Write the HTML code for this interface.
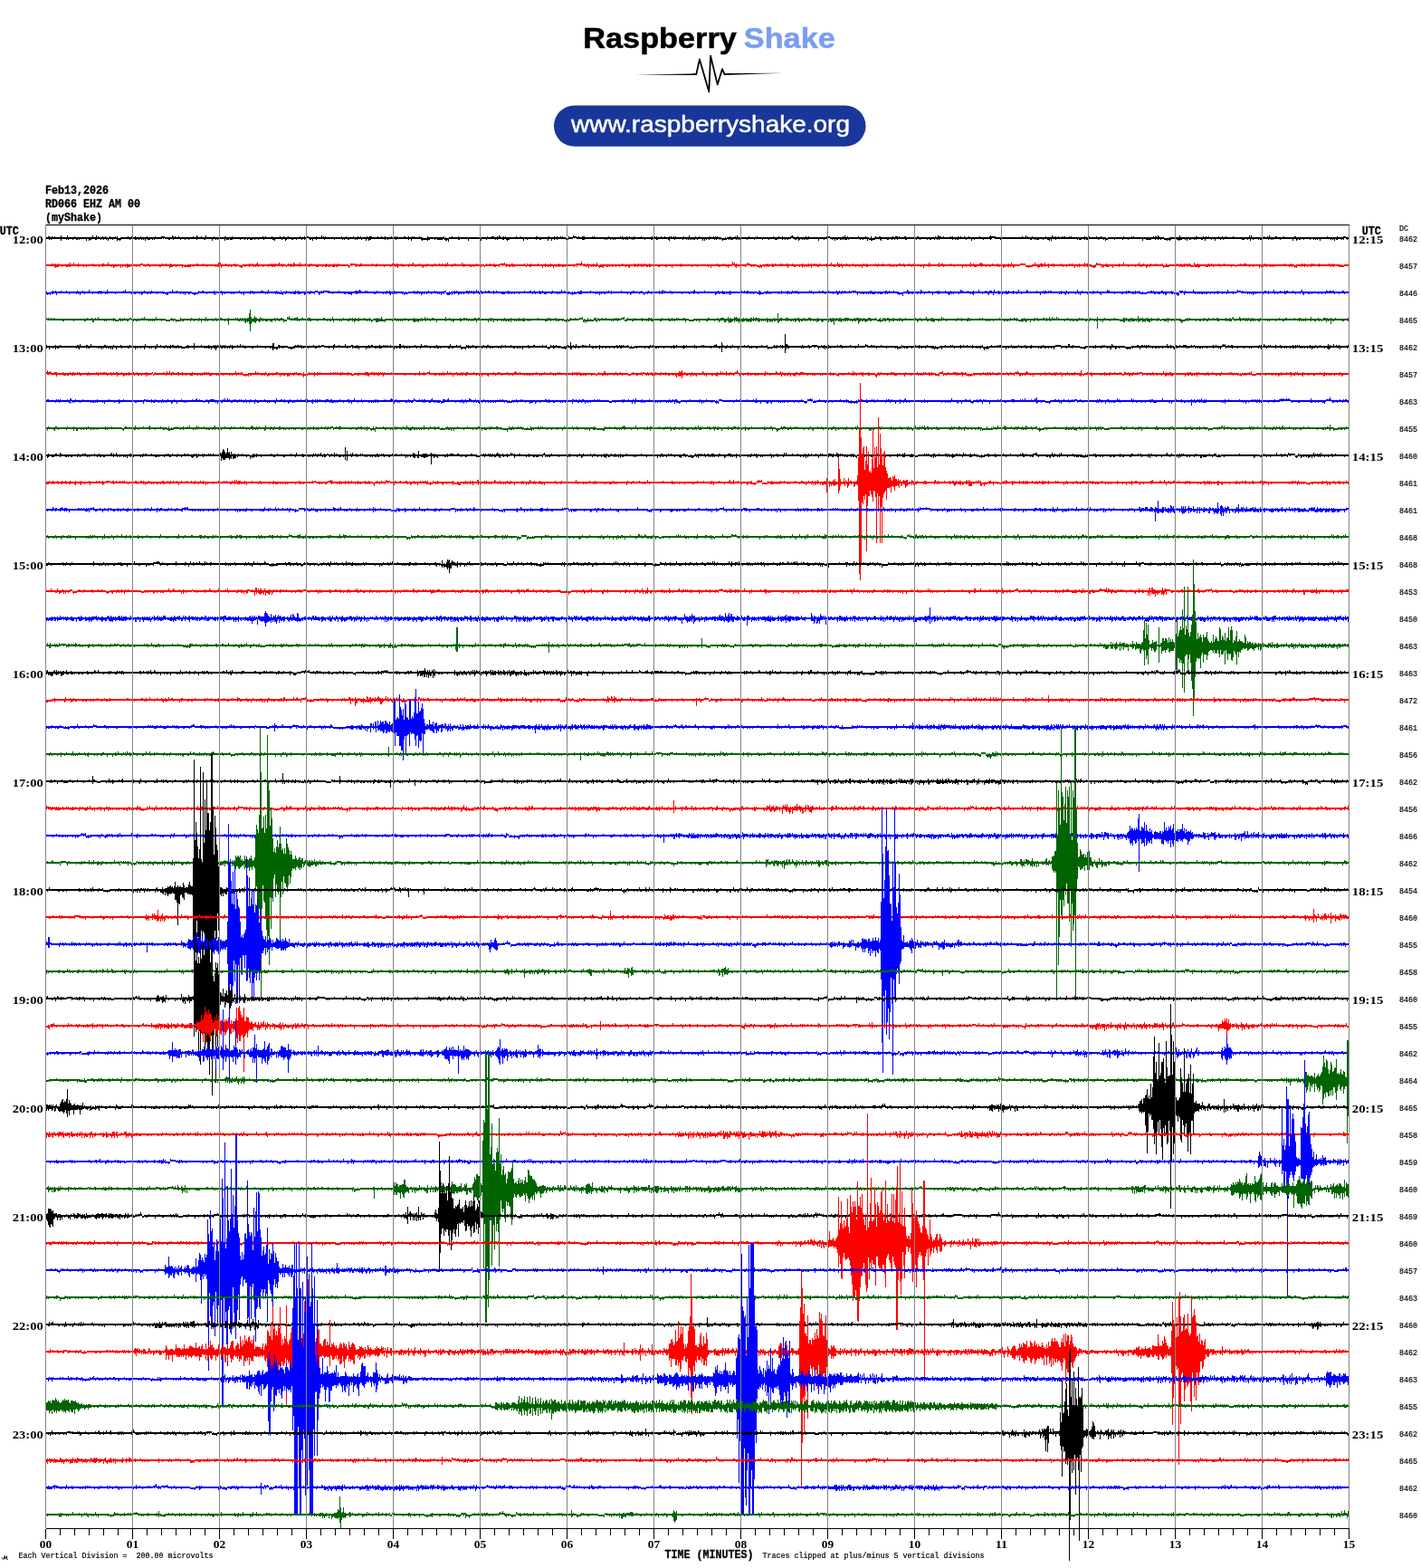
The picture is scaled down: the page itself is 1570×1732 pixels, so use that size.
<!DOCTYPE html>
<html lang="en"><head><meta charset="utf-8"><title>Raspberry Shake helicorder RD066 EHZ AM 00</title>
<style>html,body{margin:0;padding:0;background:#fff}body{width:1570px;height:1732px;overflow:hidden}svg{display:block}.m{font-family:"Liberation Mono","DejaVu Sans Mono",monospace;font-weight:bold;fill:#000;stroke:#000;stroke-width:.3px}.t{font-family:"Liberation Serif","DejaVu Serif",serif;font-weight:bold;fill:#000}.s{font-family:"Liberation Mono","DejaVu Sans Mono",monospace;fill:#000;stroke:#000;stroke-width:.2px}.l{font-family:"Liberation Sans","DejaVu Sans",sans-serif}</style></head><body>
<svg width="1570" height="1732" viewBox="0 0 1570 1732">
<rect width="1570" height="1732" fill="#fff"/>
<g class="l">
<text x="644.3" y="53" font-size="31.6" font-weight="bold" textLength="169.5" lengthAdjust="spacingAndGlyphs" fill="#000" stroke="#000" stroke-width="0.5">Raspberry</text>
<text x="821.8" y="53" font-size="31.6" font-weight="bold" textLength="101" lengthAdjust="spacingAndGlyphs" fill="#7b9cf2" stroke="#7b9cf2" stroke-width="0.5">Shake</text>
<path d="M702.5 82.6L769 81.3L769 83.1Z M864 80.7L800 81.1L800 82.9Z" fill="#000"/>
<path d="M766 82.2L769.3 82.1L772.9 65.4L783.3 101.3L785.1 61.6L792.7 93.4L798 76.2L800.4 82L803 81.9" fill="none" stroke="#000" stroke-width="1.8" stroke-linejoin="round" stroke-linecap="butt"/>
<rect x="612" y="116.5" width="344.5" height="45.3" rx="22.6" ry="22.6" fill="#19379a"/>
<text x="631" y="146" font-size="26" textLength="308" lengthAdjust="spacingAndGlyphs" fill="#fff" stroke="#fff" stroke-width="0.45">www.raspberryshake.org</text>
</g>
<g shape-rendering="crispEdges" stroke="none">
<path fill="#000000" d="M50 262h3v-1h2v1h2v-1h1v1h2v-1h1v1h6v-2h1v2h6v-2h1v2h7v-1h1v1h19v-2h1v2h3v-2h1v2h1v-1h1v1h4v-1h1v1h2v-1h1v1h2v1h1v-1h1v-1h1v1h5v-1h1v1h1v-1h1v2h3v-1h8v-1h1v1h3v-1h1v1h3v-1h1v1h5v-1h1v1h6v-1h1v1h8v-1h1v1h6v-1h4v1h8v-2h1v1h1v1h1v-1h1v1h3v-1h1v1h15v-1h1v1h3v-2h1v1h1v1h3v-1h1v1h4v-2h1v2h8v-1h1v1h11v-1h2v1h6v-1h1v1h33v-1h1v1h2v-1h1v1h6v-1h1v1h8v-1h1v1h3v-1h1v1h4v-1h1v1h12v-1h1v1h4v-1h1v1h1v-1h3v1h8v-1h1v1h5v-2h1v2h1v-1h1v1h1v-1h1v1h17v-1h1v1h4v-1h1v1h7v-1h1v1h4v-1h1v1h2v-1h1v1h6v-1h1v1h2v-1h3v1h6v-1h1v1h3v-1h1v1h3v-1h1v1h6v-1h1v1h3v-1h1v1h1v-1h1v1h7v-1h2v1h3v-1h1v1h3v-1h1v1h1v-1h1v1h5v-1h1v1h3v1h5v-2h1v1h17v-1h1v2h1v-1h1v1h3v-1h3v-1h1v1h6v-1h1v1h31v-1h1v1h4v-1h3v1h3v-1h1v1h1v-2h1v1h1v1h3v-1h1v1h1v-1h1v1h11v-1h1v1h4v-1h1v1h16v-1h2v1h12v-1h1v1h5v-1h1v1h2v-1h1v1h3v-1h1v1h1v-1h1v1h3v1h3v-2h1v1h4v-2h1v1h3v1h2v-1h1v1h3v-1h3v1h8v-1h1v1h1v-1h1v1h15v-1h1v1h12v-1h1v1h1v-1h1v1h4v-1h1v1h2v-1h1v1h4v-1h1v1h7v-1h1v1h11v-1h1v1h2v-1h1v1h1v-1h1v1h4v-1h1v1h3v-1h1v1h4v-1h1v1h1v-1h1v1h2v-1h1v1h1v-1h1v1h8v-1h1v1h5v-2h1v2h6v-1h1v1h3v-1h1v1h11v-1h1v1h3v-1h1v1h1v-1h1v1h1v-1h1v1h4v1h4v-1h1v1h1v-1h3v-1h1v1h5v-1h1v1h1v-2h1v2h12v-1h1v1h8v-1h1v1h17v-1h1v1h5v-1h1v1h3v-1h1v1h8v-1h2v-1h1v1h1v1h4v-1h1v1h8v-1h1v1h2v-1h1v1h19v-1h1v1h1v-1h2v1h14v-1h1v1h1v-2h1v2h2v-1h1v1h11v-1h1v1h7v-1h1v1h3v1h2v-2h1v2h3v-1h1v-1h1v1h3v-1h2v1h13v-1h1v1h2v-1h3v1h1v-1h1v1h5v-1h2v1h12v-1h2v1h18v-1h1v1h2v-2h1v1h3v1h2v-1h1v1h7v-1h1v1h1v-1h1v1h5v-1h1v1h2v-1h1v1h3v-1h1v1h4v-1h1v1h11v-1h1v1h10v-1h1v-1h1v1h5v1h29v-1h1v1h3v-2h1v2h1v-1h1v1h4v-1h1v1h14v-1h1v1h6v-2h1v1h1v1h2v-1h1v1h2v-1h1v1h3v-1h1v1h1v-1h2v1h4v-1h1v1h1v-1h1v1h14v-1h1v1h4v-1h1v1h7v-1h1v1h4v-1h1v1h5v1h2v-1h17v-1h1v1h8v-1h1v1h1v-1h1v1h21v-1h1v1h1v-1h2v1h1v-2h1v1h1v1h5v1h6v-1h11v-2h1v2h17v-1h2v1h6v-1h1v1h2v-1h1v1h2v-1h1v1h10v-1h1v1h3v-1h1v1h3v-1h1v1h7v-1h1v1h17v-2h1v2h1v-2h1v2h13v-1h1v1h3v-1h1v1h1v-2h1v2h6v-1h2v1h7v-1h1v1h11v-1h2v1h34v-1h1v1h10v-1h1v1h6v-1h3v1h3v-1h1v5h-1v-2h-1v1h-1v-1h-1v-1h-2v2h-1v-1h-1v1h-1v-1h-4v1h-2v-1h-1v2h-1v-2h-1v1h-1v-1h-1v1h-1v-1h-11v2h-1v-2h-2v1h-1v-1h-1v1h-1v-1h-1v1h-1v-1h-3v1h-1v-1h-6v1h-1v-1h-3v1h-2v-1h-1v1h-1v1h-1v-2h-3v2h-1v-2h-13v1h-1v-1h-7v1h-1v-1h-1v1h-1v-1h-2v1h-1v-1h-6v1h-3v-1h-1v1h-1v-1h-5v1h-1v-1h-2v2h-1v-2h-2v1h-1v-1h-3v1h-3v-1h-20v1h-1v-1h-2v1h-1v-1h-5v2h-1v-2h-3v1h-1v-1h-6v2h-1v-2h-2v1h-2v-1h-5v1h-1v-1h-1v1h-1v-1h-3v1h-2v-1h-2v2h-1v-2h-1v1h-1v-1h-3v1h-3v1h-1v-1h-2v-1h-1v1h-1v-1h-4v1h-1v1h-1v-1h-2v1h-1v-1h-3v-1h-3v1h-1v-1h-2v1h-1v-1h-2v1h-1v-1h-4v1h-6v-1h-3v2h-1v-2h-15v1h-1v-1h-5v1h-1v-1h-8v1h-1v-1h-7v1h-2v1h-1v-2h-1v1h-1v-1h-5v1h-1v-1h-10v1h-3v-1h-1v1h-1v-1h-3v1h-3v-1h-1v1h-1v-1h-23v1h-1v-1h-4v2h-1v-2h-1v2h-1v-1h-2v-1h-4v1h-1v-1h-4v1h-3v-1h-1v1h-1v-1h-3v1h-2v-1h-31v1h-2v-1h-6v-1h-3v1h-1v1h-1v-1h-7v1h-1v-1h-9v1h-1v-1h-2v2h-1v-2h-5v1h-1v-1h-8v1h-2v-1h-1v1h-1v-1h-2v1h-1v-1h-14v1h-1v-1h-1v1h-1v-1h-2v1h-1v-1h-3v1h-2v-1h-2v1h-1v-1h-7v1h-1v-1h-3v1h-1v-1h-10v1h-2v-1h-8v1h-1v-1h-2v1h-1v-1h-2v1h-1v-1h-3v1h-2v-1h-6v2h-1v-1h-1v-1h-5v1h-3v1h-2v-1h-2v-1h-1v2h-1v-2h-4v1h-1v-1h-2v1h-1v-1h-12v1h-1v-1h-1v1h-3v-1h-1v1h-1v-1h-1v1h-2v-1h-2v1h-2v-1h-1v2h-1v-2h-2v1h-1v-1h-2v-1h-2v2h-1v-1h-3v1h-1v-1h-5v2h-1v-2h-11v1h-1v-1h-1v1h-1v-1h-1v1h-1v-1h-1v1h-1v-1h-2v1h-1v1h-1v-2h-2v1h-2v-1h-2v-1h-2v1h-3v1h-1v-1h-2v1h-1v-1h-2v1h-1v-1h-5v1h-3v-1h-6v1h-1v-1h-6v1h-1v-1h-8v1h-1v-1h-7v1h-1v-1h-7v1h-1v-1h-1v1h-1v-1h-1v1h-1v-1h-3v1h-3v-1h-1v1h-1v-1h-2v1h-4v1h-1v-1h-1v-1h-1v1h-1v-1h-3v1h-1v-1h-1v1h-1v-1h-5v1h-1v-1h-2v1h-1v-1h-1v2h-1v-2h-1v2h-1v-2h-5v1h-1v-1h-2v1h-2v-1h-1v1h-1v-1h-1v1h-1v-1h-1v1h-1v-1h-1v1h-1v-1h-3v1h-1v-1h-8v1h-1v-1h-5v2h-1v-1h-1v-1h-11v1h-2v-1h-4v1h-2v-1h-6v1h-1v-1h-11v1h-1v-1h-1v1h-1v-1h-4v1h-1v-1h-1v1h-1v-1h-2v1h-1v-1h-8v1h-1v-1h-1v1h-1v-1h-2v1h-1v-1h-3v1h-1v-1h-1v1h-1v-1h-22v1h-3v-1h-6v-1h-4v1h-5v1h-3v-1h-9v1h-1v-1h-2v1h-1v-1h-2v2h-1v-2h-3v2h-1v-2h-7v1h-2v-1h-3v1h-1v-1h-9v1h-1v-1h-3v2h-1v-2h-15v1h-2v1h-1v-1h-1v-1h-2v1h-2v-1h-5v1h-1v-1h-1v1h-1v-1h-9v1h-1v-1h-5v2h-1v-2h-13v2h-1v-2h-9v1h-2v-1h-10v3h-1v-2h-1v1h-2v-1h-1v-1h-2v1h-6v-1h-2v1h-1v-1h-5v1h-2v1h-1v-1h-5v1h-1v-1h-1v-1h-10v2h-1v-2h-2v1h-1v-1h-13v1h-1v-1h-8v1h-1v-1h-2v1h-1v-1h-15v1h-2v1h-1v-2h-2v2h-1v-2h-4v1h-1v-1h-4v1h-1v-1h-1v1h-1v-1h-6v1h-2v-1h-3v1h-1v-1h-1v1h-1v-1h-8v1h-1v-1h-10v1h-1v-1h-8v1h-1v-1h-3v2h-1v-2h-1v1h-2v-1h-1v-1h-2v1h-2v1h-1v-1h-2v1h-1v-1h-5v1h-1v-1h-3v1h-2v-1h-5v1h-1v1h-1v-2h-3v1h-1v-1h-7v2h-1v-1h-2v-1h-9v1h-1v-1h-5v1h-1v-1h-3v1h-1v-1h-2v1h-3v-1h-2v1h-1v-1h-2v1h-1v-1h-4v1h-1v-1h-8v1h-3v-1h-1v1h-3v-1h-1v2h-1v-2h-5v1h-1v-1h-1v1h-1v-1h-1v1h-1v-1h-3v2h-1v-2h-7v1h-2v-1h-7v1h-1v-1h-8v1h-1v-1h-3v1h-1v-1h-4v1h-1v-1h-7v1h-1v-1h-3v1h-2v-1h-4v-1h-1v1h-1v-1h-1v1h-8v1h-1v-1h-1v1h-1v-1h-2v1h-3v-1h-2v2h-1v-2h-1v1h-1v-1h-1v1h-1v-1h-2v1h-1v-1h-2v1h-2v-1h-2v1h-1v-1h-2v1h-1v-1h-9v1h-1v1h-1v-1h-2v1h-1v-2h-4v1h-1v-1h-4v2h-1v-2h-1v1h-1v-1h-2v1h-1v-1h-2v1h-1v-1h-4v1h-2v-1h-4v1h-2v1h-1v-2h-2v2h-1v-2h-7v1h-1v-1h-1v1h-2v-1h-3v1h-1v-1h-4v1h-1v-1h-1v1h-1v-1h-5v2h-1v-2h-10v1h-1v-1h-1v1h-1v-1h-4z"/>
<path fill="#ff0000" d="M50 292h7v-1h2v1h2v-1h1v1h2v-1h1v1h10v-1h1v1h1v-2h1v2h3v-2h1v2h4v-1h1v1h15v-1h1v1h10v-1h2v1h4v-2h1v2h20v-1h1v1h14v-1h3v1h5v-1h1v1h15v-1h1v1h3v-1h1v1h4v-1h1v1h14v1h1v-1h1v1h2v-1h10v-1h2v1h5v-1h1v1h16v-2h1v2h1v-2h1v2h5v-1h1v1h9v-1h1v1h4v1h4v-1h7v-1h1v1h2v-1h1v1h4v-1h1v-1h1v2h13v-1h1v1h1v-1h1v1h1v-1h1v1h1v-1h1v1h2v-1h1v-1h1v2h2v-1h1v1h4v1h1v-1h1v-1h1v1h2v-1h1v1h2v-2h1v1h1v1h3v-1h1v1h1v-2h1v2h5v-1h1v1h4v-1h1v1h1v-1h1v1h15v-1h1v1h8v-1h1v1h3v-1h1v1h11v1h2v-2h5v1h1v-1h1v1h4v-1h2v1h11v-1h1v1h4v-1h1v1h16v-1h1v1h1v-1h1v1h2v-1h2v1h3v-1h1v1h8v-1h1v1h2v-1h1v-1h1v2h6v-1h1v1h8v-1h1v1h7v-1h1v1h4v-1h1v1h2v-1h1v1h3v-1h1v1h1v-2h1v2h6v-1h1v1h1v-1h1v1h6v-2h1v2h1v-1h1v1h13v-1h1v1h8v1h1v-1h1v-1h1v1h3v-1h1v1h3v-1h1v1h6v-1h5v-1h1v2h1v-1h1v1h5v-1h2v1h12v-1h1v1h1v1h1v-2h1v1h3v-1h1v1h7v-1h1v1h7v-1h1v1h5v-1h1v1h8v-1h1v1h18v-1h6v-2h1v2h1v1h1v-1h1v1h3v-1h1v1h5v-1h1v1h3v-2h1v2h1v1h2v-1h24v-1h1v1h13v-1h1v1h3v-1h1v1h2v-1h1v1h3v-1h1v1h4v-1h1v1h34v-1h1v1h39v-1h1v1h6v-1h1v1h9v-3h1v2h1v-1h1v2h1v-1h1v1h4v-2h1v2h6v-2h1v1h3v1h7v1h4v-1h1v1h1v-1h5v-1h1v1h5v-1h1v1h2v-1h1v1h5v-1h1v1h1v-1h1v1h4v-1h2v1h4v-1h1v1h10v-1h1v1h6v-1h1v1h2v-1h1v1h2v-1h1v1h1v-1h1v1h3v-1h1v1h7v-1h1v1h4v-2h1v2h6v-2h1v2h1v-1h1v1h1v-1h1v1h5v-1h1v1h6v-1h1v1h11v-1h1v1h2v-1h1v1h9v-1h1v1h2v-1h1v1h4v-1h1v1h6v-1h1v1h10v-1h2v1h3v-1h1v1h5v-1h1v1h4v-1h1v1h16v-2h1v1h1v1h9v-2h1v2h2v-1h2v1h8v-1h1v1h21v-2h1v2h2v-1h1v1h6v-1h1v-1h1v1h2v1h10v-1h1v1h5v-1h1v1h11v-1h1v1h2v-2h1v2h9v-1h6v2h7v-1h3v-2h1v2h5v-1h3v1h2v-2h1v2h3v-1h1v1h3v-1h1v1h1v-1h1v1h7v-1h1v1h8v-1h1v1h2v-1h1v1h7v-1h1v1h5v-2h1v2h1v-1h2v1h4v1h4v-1h1v-2h1v1h4v1h6v-1h1v1h13v-1h1v1h4v-2h1v2h16v-2h1v2h4v-1h1v1h7v-1h1v1h5v-1h1v1h6v-1h1v2h3v-2h1v1h1v1h1v-1h9v-1h1v1h3v-1h1v1h3v-1h1v1h1v-1h1v1h2v-1h2v1h1v1h3v-3h1v2h3v-1h1v1h11v-1h1v1h2v-1h1v1h7v-1h1v1h5v-1h1v1h12v1h1v-1h4v-1h1v1h3v-1h3v1h20v-1h1v1h21v-1h1v1h6v-1h1v1h3v1h2v-1h6v-1h2v1h1v-1h1v1h7v-1h1v1h1v-1h1v1h5v-1h1v1h10v-1h1v1h3v-1h1v1h8v1h1v-1h1v1h2v-1h6v2h-6v1h-6v-1h-5v1h-1v-1h-2v1h-1v-1h-12v1h-1v-1h-8v1h-1v-1h-3v1h-1v-1h-2v1h-1v-1h-3v1h-1v-1h-4v2h-1v-1h-1v1h-1v-2h-2v1h-1v-1h-2v1h-1v-1h-16v1h-1v-1h-1v1h-1v-1h-1v1h-1v-1h-3v1h-1v-1h-3v1h-1v-1h-1v1h-1v-1h-1v2h-1v-2h-6v1h-1v-1h-3v1h-1v-1h-14v1h-1v-1h-4v1h-1v-1h-11v1h-1v-1h-7v1h-1v-1h-3v1h-1v-1h-1v1h-3v-1h-6v1h-1v1h-1v-1h-4v-1h-1v1h-4v-1h-2v1h-1v-1h-3v1h-1v-1h-1v1h-2v-1h-1v1h-1v-1h-11v1h-6v1h-1v-2h-14v1h-1v-1h-2v1h-1v1h-1v-2h-4v1h-2v-1h-5v1h-1v-1h-7v1h-1v-1h-9v1h-1v-1h-6v2h-1v-2h-4v1h-3v-1h-2v1h-1v1h-1v-2h-1v1h-1v-2h-5v2h-1v1h-2v-1h-3v-1h-3v1h-1v-1h-2v1h-1v-1h-5v1h-1v-1h-1v1h-1v-1h-2v2h-1v-2h-8v1h-1v-1h-3v1h-1v-1h-9v1h-1v-1h-5v2h-1v-2h-3v1h-1v-1h-2v1h-2v-1h-1v1h-1v1h-1v-1h-1v-1h-5v1h-4v1h-1v-1h-3v-2h-6v1h-6v1h-1v1h-1v-2h-2v1h-1v-1h-1v1h-2v-1h-2v1h-2v1h-1v-2h-3v1h-1v-1h-1v1h-1v-1h-8v1h-1v-1h-3v1h-1v-1h-4v1h-1v-1h-5v1h-3v-1h-3v1h-1v-1h-4v1h-1v-1h-3v2h-1v-2h-8v1h-1v-1h-11v1h-1v-1h-4v1h-1v-1h-10v1h-1v-1h-5v2h-1v-2h-2v1h-1v-1h-9v1h-1v-1h-7v1h-1v-1h-8v1h-1v-1h-2v1h-1v-1h-2v1h-1v-1h-14v1h-1v-1h-10v1h-2v-1h-4v2h-1v-2h-2v1h-1v-1h-3v1h-1v-1h-6v1h-1v-1h-7v2h-1v-2h-2v1h-2v-1h-3v1h-2v-1h-7v1h-1v-1h-8v1h-2v-1h-6v2h-1v-2h-2v1h-1v-1h-1v1h-1v-1h-2v1h-1v-1h-1v2h-1v-2h-2v1h-1v-1h-4v1h-2v-1h-6v2h-1v-2h-15v1h-2v-1h-3v1h-1v-1h-1v1h-1v-1h-2v1h-1v-1h-2v2h-1v-1h-1v1h-1v-1h-3v-1h-3v1h-1v-1h-1v1h-1v-1h-2v-1h-3v1h-1v1h-1v-1h-6v1h-1v-1h-2v2h-1v-1h-1v-1h-1v-1h-2v1h-4v2h-1v-2h-1v1h-1v-1h-6v1h-2v-1h-8v2h-1v-2h-2v1h-1v-1h-11v1h-1v-1h-5v1h-1v-1h-11v1h-1v-1h-9v2h-1v-2h-5v1h-2v-1h-6v1h-2v-1h-8v1h-2v-1h-1v1h-2v-1h-3v1h-1v-1h-1v1h-1v-1h-3v1h-1v-1h-2v1h-1v-1h-5v2h-1v-1h-1v-1h-2v1h-1v-1h-6v1h-1v-1h-3v1h-1v-1h-3v1h-1v-1h-2v1h-1v-1h-1v1h-2v-1h-3v2h-1v-1h-3v1h-1v-1h-1v-1h-2v1h-1v-1h-2v1h-1v-1h-1v1h-1v-1h-2v2h-1v-2h-2v1h-1v-1h-3v-1h-2v1h-1v-1h-3v2h-1v-2h-1v1h-1v1h-1v-1h-9v1h-1v-1h-1v1h-2v-1h-2v1h-1v-1h-1v1h-1v-1h-1v1h-1v-1h-2v2h-1v-2h-2v1h-1v-1h-1v1h-2v-1h-2v1h-1v-1h-2v2h-1v-2h-12v1h-2v-1h-3v1h-1v-1h-12v1h-1v-1h-1v1h-1v-1h-2v1h-2v-1h-2v1h-1v-1h-1v-1h-2v1h-1v-1h-3v2h-1v-1h-3v1h-2v-1h-10v1h-1v-1h-3v1h-1v-1h-7v1h-1v-1h-2v1h-2v-1h-6v1h-1v-1h-12v1h-1v-1h-6v1h-1v-1h-14v1h-1v-1h-6v1h-1v-1h-2v2h-1v-1h-1v-1h-6v1h-1v-1h-7v1h-1v-1h-5v1h-1v-1h-5v2h-1v-1h-1v-1h-1v1h-1v-1h-4v1h-1v-1h-6v1h-1v-1h-8v1h-1v-1h-17v1h-1v-1h-3v1h-1v-1h-1v-1h-3v1h-1v-1h-1v2h-1v1h-1v-2h-12v1h-2v-1h-1v1h-3v-1h-2v1h-2v-1h-2v1h-2v-1h-2v1h-1v-1h-4v1h-3v-1h-7v1h-1v-1h-9v1h-1v-1h-6v1h-1v-1h-2v1h-1v-1h-4v1h-1v-1h-3v1h-1v-1h-8v1h-1v-1h-1v1h-2v-1h-3v1h-1v-1h-5v1h-1v-1h-4v1h-1v-1h-2v1h-1v-1h-1v1h-1v-1h-4v1h-1v-1h-4v1h-1v-1h-2v2h-2v-1h-2v-1h-3v1h-1v-1h-4v1h-1v-1h-2v1h-1v-1h-7v2h-1v-2h-1v1h-3v-1h-1v1h-1v-1h-9v1h-1v-1h-14v1h-1v-1h-2v1h-8v-1h-1v2h-1v-2h-6v1h-1v-1h-3v1h-3v1h-1v-2h-9v1h-2v-1h-10v1h-1v-1h-4v1h-1v-1h-2v-1h-3v2h-1v-1h-3v1h-1v-1h-3v1h-1v-1h-2v1h-3v1h-1v-2h-1v1h-1v-1h-2v1h-1v-1h-1v2h-1v-2h-4v1h-1v-1h-1v1h-1v1h-1v-2h-1v1h-1v-1h-9v1h-1v-1h-3v1h-1v-1h-4v1h-1v-1h-8v1h-1v-1h-2v1h-1v-1h-5v1h-1v-1h-8v1h-2v-1h-1v1h-2v-1h-4v1h-1v-1h-3v1h-3v1h-1v-1h-1v-1h-10z"/>
<path fill="#0000ff" d="M50 323h1v-1h1v1h4v-1h2v-1h1v1h2v-1h1v1h5v-1h1v1h5v-1h1v1h11v-1h1v1h5v-1h1v1h6v-2h1v2h10v-1h1v1h1v-1h1v1h6v-2h1v2h17v-1h1v1h1v-2h1v2h20v-1h1v1h7v-1h1v1h14v1h2v-1h1v1h1v-1h4v-2h1v2h4v-1h1v1h16v1h7v-2h1v1h3v-1h2v1h11v-1h1v1h5v-1h1v1h1v-1h1v1h19v-1h1v1h11v-1h1v1h1v-1h1v1h9v-1h3v1h5v-2h1v2h8v-1h1v1h3v1h1v-2h1v2h1v-1h4v-1h1v1h9v-1h1v1h2v-1h1v1h13v-1h1v1h4v-1h3v1h4v-1h1v1h1v-1h7v1h10v-1h1v1h17v-1h3v1h1v-1h1v-1h1v1h1v1h4v-1h1v1h1v-1h1v1h10v-1h1v1h10v-1h1v1h2v-1h1v1h4v-1h1v1h10v1h2v-1h1v1h2v-1h6v-1h1v1h3v-1h1v1h11v-1h1v1h6v-1h1v1h10v-1h2v2h3v-1h1v1h1v-1h4v-1h1v1h1v-1h1v1h10v-1h2v1h1v-1h1v1h1v-1h1v1h2v-1h1v1h2v-2h1v2h1v-1h1v1h2v-1h1v1h4v-1h1v1h2v-1h2v1h4v-1h1v1h2v-1h1v1h12v-1h1v1h17v-1h1v1h5v-1h2v1h3v-1h1v1h5v-1h1v1h2v-1h1v1h10v-1h1v1h9v-2h1v2h2v-1h1v1h6v1h2v-1h1v1h1v-1h2v1h1v-1h4v-1h2v1h9v-1h1v1h19v-1h1v1h2v-1h1v1h10v-1h1v1h12v-1h2v1h7v-1h1v1h2v1h2v-1h3v-1h1v1h11v-1h1v1h2v-1h1v-1h1v2h1v-1h1v1h5v-1h1v1h25v-1h1v-1h1v2h10v-1h1v1h14v-1h1v1h4v-1h1v1h7v-1h1v1h12v-1h1v1h2v-1h1v1h2v-1h2v1h10v1h1v-2h2v1h1v1h3v-1h3v-1h1v1h15v-1h1v1h6v-1h1v1h4v-1h1v1h2v-1h1v1h1v-1h1v1h13v-1h1v1h1v-1h1v1h8v-1h1v1h2v-1h2v1h5v-1h1v1h8v-1h1v1h2v-1h1v1h2v-1h1v1h2v-1h1v1h4v-1h1v1h2v-1h5v1h15v-1h2v1h15v-1h2v1h2v-1h1v1h4v-1h1v1h5v1h5v-1h4v-2h1v1h1v1h6v-1h1v1h6v-2h1v1h1v1h7v-1h1v1h8v-1h1v1h1v-1h1v1h6v-1h1v1h5v-1h1v1h10v-2h1v1h2v1h5v-1h1v1h5v-1h1v1h5v-2h1v2h6v-1h2v1h3v-1h3v1h2v-2h1v2h4v-1h1v1h7v-1h1v1h2v-1h1v1h4v-1h1v1h5v-2h1v2h8v-2h1v1h1v1h9v-1h1v1h6v-1h1v1h1v-1h2v1h2v-1h1v1h1v-1h2v1h10v-1h1v1h5v-1h1v1h11v-2h1v2h4v-1h1v1h12v-1h1v1h3v-1h1v1h10v-2h1v1h2v1h18v-1h1v1h1v-1h2v1h6v-1h1v1h3v-1h1v1h1v1h2v-1h1v1h4v-1h4v-1h2v1h1v-1h1v1h8v-1h2v1h9v-1h1v1h2v1h6v-2h4v1h2v-1h1v1h8v-2h1v2h26v-1h1v1h10v-2h1v2h10v-2h1v1h3v1h1v-1h1v1h24v-1h2v1h2v-1h1v1h5v-2h1v2h6v-1h1v1h4v-1h1v1h1v-1h2v1h5v-1h1v1h8v-1h1v-1h1v2h26v-1h2v1h1v-1h3v1h1v-1h2v1h9v-1h2v1h6v2h-5v1h-1v-1h-5v1h-1v-1h-4v1h-1v-1h-9v1h-1v-1h-3v1h-1v-1h-3v1h-1v-1h-6v1h-1v-1h-2v1h-2v-1h-4v2h-1v-1h-1v-1h-1v-1h-1v2h-1v-1h-4v1h-1v-1h-10v1h-2v-1h-7v1h-1v-1h-2v1h-1v-1h-6v1h-1v-1h-5v1h-1v-1h-7v1h-1v-1h-1v1h-1v1h-1v-2h-1v1h-1v-1h-1v1h-1v-1h-1v1h-1v-1h-7v-1h-4v1h-4v1h-1v-1h-6v1h-1v-1h-4v1h-1v-1h-4v1h-1v-1h-3v1h-1v-1h-3v1h-1v-1h-3v1h-2v-1h-1v1h-1v-1h-1v1h-2v-1h-1v1h-1v-1h-1v1h-1v-1h-2v1h-1v-1h-11v2h-1v-2h-1v-1h-1v1h-2v-1h-1v3h-1v1h-1v-1h-1v-1h-3v-1h-1v1h-2v-1h-5v2h-2v-2h-1v1h-1v-1h-3v1h-3v-1h-2v1h-2v-1h-8v1h-8v-1h-4v1h-1v-1h-1v1h-2v-1h-6v1h-1v-1h-3v1h-2v-1h-7v1h-1v-1h-14v2h-1v-1h-1v-1h-7v1h-1v-1h-4v1h-2v-1h-7v2h-1v-2h-1v1h-1v-1h-2v1h-1v-1h-7v1h-1v-1h-2v2h-1v-1h-1v-1h-3v1h-1v-1h-1v1h-1v-1h-15v1h-1v-1h-4v2h-1v-2h-20v1h-1v-1h-4v1h-1v-1h-3v1h-1v-1h-5v1h-3v-1h-3v1h-1v-1h-2v1h-2v-1h-5v2h-1v-2h-4v2h-1v-1h-1v-1h-5v1h-1v-1h-9v2h-1v-1h-1v-1h-1v1h-1v-1h-12v1h-1v-1h-5v1h-1v-1h-1v1h-1v-1h-1v1h-1v1h-1v-1h-1v-1h-9v1h-2v-1h-5v2h-1v-2h-8v1h-1v-1h-3v1h-1v-1h-3v1h-1v-1h-4v1h-2v-1h-2v1h-2v-1h-5v3h-1v-2h-3v1h-1v-1h-2v-1h-10v1h-1v-1h-1v1h-1v-1h-3v1h-3v-1h-1v1h-1v-1h-3v1h-4v-1h-1v1h-1v-1h-1v1h-1v-1h-1v1h-1v-1h-2v1h-2v-1h-1v1h-1v-1h-3v2h-1v-2h-2v-1h-1v1h-1v-1h-2v1h-11v1h-1v-1h-2v1h-1v1h-1v-2h-4v1h-1v-1h-8v1h-1v-1h-12v1h-1v-1h-15v1h-1v-1h-7v1h-1v-1h-1v1h-1v-1h-1v1h-2v-1h-5v1h-1v-1h-2v1h-1v-1h-8v1h-1v-1h-1v1h-1v-1h-1v1h-2v-1h-2v1h-4v1h-1v-1h-2v-1h-4v1h-1v-1h-2v1h-1v-1h-3v1h-1v-1h-17v1h-1v1h-1v-2h-1v1h-1v-1h-1v1h-1v-1h-1v1h-3v-1h-3v1h-1v-1h-2v1h-1v1h-1v-2h-18v1h-1v-1h-4v1h-1v-1h-4v1h-1v-1h-7v1h-1v-1h-10v1h-1v-1h-10v1h-1v-1h-2v1h-1v-1h-8v1h-1v-1h-3v1h-1v-1h-2v1h-1v1h-1v-2h-4v1h-1v-1h-8v1h-1v1h-1v-2h-2v1h-1v-1h-17v1h-1v-1h-6v1h-2v-1h-2v1h-1v-1h-1v2h-1v-2h-1v1h-1v-1h-1v1h-1v-1h-15v1h-4v-1h-2v1h-4v1h-1v-1h-2v-1h-1v1h-2v-1h-8v1h-1v-1h-1v1h-2v-1h-5v1h-1v-1h-5v1h-3v-1h-3v1h-2v-1h-4v1h-1v-1h-2v1h-1v-1h-14v1h-1v-1h-4v1h-1v-1h-2v1h-1v-1h-2v1h-2v-1h-3v1h-4v-1h-8v1h-1v-1h-12v1h-1v-1h-2v1h-1v-1h-5v1h-1v-1h-5v1h-1v-1h-4v1h-1v-1h-2v1h-1v-1h-1v1h-1v1h-1v-2h-3v1h-1v-1h-2v2h-1v-2h-1v1h-1v1h-3v-1h-1v-2h-2v2h-1v-1h-2v2h-1v-2h-1v1h-1v-1h-1v1h-1v-1h-6v1h-1v-1h-4v1h-1v-1h-2v1h-1v-1h-1v1h-1v1h-1v-2h-1v1h-1v-1h-2v1h-1v-1h-1v1h-1v-1h-7v1h-4v1h-1v-2h-1v1h-1v-1h-6v1h-1v-1h-1v1h-1v-1h-1v1h-1v-1h-1v2h-1v-1h-1v-1h-3v1h-1v-1h-2v1h-1v-1h-8v1h-2v-1h-18v1h-2v-1h-4v2h-1v-1h-4v-1h-2v1h-2v-1h-12v1h-1v-1h-5v-1h-4v1h-4v1h-1v1h-1v-2h-1v-1h-3v2h-1v-1h-4v1h-2v-1h-3v1h-1v1h-1v-2h-4v1h-3v-1h-2v1h-3v-1h-2v1h-1v-1h-5v1h-1v-1h-2v2h-1v-1h-4v-1h-1v1h-1v-1h-1v1h-1v-1h-8v1h-1v-1h-1v1h-1v-1h-12v1h-1v-1h-3v1h-1v-1h-6v2h-1v-1h-1v-1h-1v1h-1v-1h-7v1h-2v-1h-1v1h-1v-1h-6v1h-1v-1h-2v2h-1v-2h-7v2h-1v-1h-1v-1h-7v1h-1v-1h-9v1h-3v1h-2v-1h-2v-1h-2v1h-2v-1h-3v2h-1v-2h-1v1h-1v-1h-2v1h-1v-1h-13v2h-2v-1h-2v-1h-1v1h-1v-1h-6v1h-1v-1h-6v1h-1v-1h-2v1h-2v-1h-4v1h-1v1h-1v-2h-1v1h-1v-1h-4v1h-2v-1h-2v1h-1v-1h-17v1h-1v-1h-8v1h-1v-1h-1v1h-1v-1h-4v1h-1v-1h-2v1h-1v-1h-5v1h-1v-1h-8v1h-1v-1h-4v2h-1v-2h-1v1h-1v-1h-1v1h-1v-1h-7v1h-1v-1h-13v2h-1v-2h-3v1h-2v-1h-1v2h-1v-1h-2v1h-1v-1h-2z"/>
<path fill="#006400" d="M50 351h2v1h1v-1h1v1h2v-1h1v1h2v-1h1v1h36v-1h1v1h4v-1h1v1h3v-1h1v1h2v-2h1v2h16v-1h1v1h2v1h3v-1h1v-1h1v1h4v-1h1v1h5v-1h2v1h12v-1h1v1h1v-2h1v2h12v-2h1v2h10v1h5v-1h1v-1h1v1h4v1h5v-2h1v1h11v-1h1v1h8v-1h1v1h6v-2h1v2h10v-1h1v1h4v-1h2v1h7v-1h1v1h7v-1h1v1h1v-1h1v1h2v-1h1v1h1v-1h1v1h2v-1h1v1h2v-1h2v-5h1v-4h1v8h1v2h2v-1h1v-2h1v2h2v1h3v-2h1v2h1v-1h1v1h13v-1h1v1h2v-1h1v1h3v-1h2v1h2v1h3v-3h1v1h1v-2h1v2h1v1h1v-1h1v1h2v-1h3v-1h1v2h4v-1h2v1h5v-1h3v1h14v-1h2v1h8v-2h1v2h11v-1h1v1h6v-1h1v1h2v-1h1v1h2v-1h1v1h3v-1h1v1h5v-1h1v1h5v-1h1v1h1v1h2v-1h3v-1h1v1h1v-1h1v1h3v-2h1v2h1v1h2v-1h11v-1h1v1h10v-1h1v1h9v-1h1v1h7v-1h1v1h3v-2h1v2h2v-1h1v1h4v-1h2v1h13v-2h1v2h3v-1h1v1h11v-1h1v1h3v-1h2v1h1v-1h1v1h8v-1h2v1h2v-1h2v1h11v-1h1v1h1v-1h1v1h13v-1h1v1h6v-1h1v1h8v-1h1v1h4v-1h1v1h15v-1h1v1h10v-1h1v1h1v-1h1v1h5v-1h1v1h9v1h4v-1h1v1h1v-1h1v-1h1v1h4v-1h1v1h4v-1h3v-1h1v3h1v-1h1v1h3v-2h1v2h2v-1h1v1h3v-2h3v2h1v-2h1v1h4v-1h1v1h3v-1h1v1h9v-1h1v1h1v-1h1v1h1v-1h1v1h2v-1h3v-1h1v3h2v-1h1v-1h1v1h7v-1h1v1h7v-1h1v1h6v-1h2v1h1v-1h1v1h11v-1h1v1h6v-1h1v1h3v-1h1v1h4v-1h1v1h1v-1h1v1h5v-1h2v1h4v1h5v-1h16v-1h2v1h8v-1h1v1h3v-1h4v1h4v-2h1v2h1v-1h1v1h4v-2h1v1h1v-1h1v1h1v1h1v-1h1v1h4v-1h1v1h2v-1h1v1h4v-1h2v1h1v-2h1v2h1v-1h3v1h1v-1h1v1h8v-1h1v1h7v-1h1v1h3v-6h1v6h2v-1h2v1h4v-1h3v1h7v-1h1v1h2v-1h2v1h5v-1h1v1h4v-1h3v1h7v-1h1v1h13v-1h1v1h1v-1h1v1h1v-1h1v1h2v-1h1v1h2v-1h2v1h4v-1h5v1h6v-1h1v1h1v-1h3v1h1v-1h1v1h3v-1h1v1h4v-1h3v1h5v-1h1v1h1v1h2v-1h1v-1h1v2h2v-2h1v1h1v-1h1v1h2v-1h2v1h5v-1h1v1h6v-1h1v1h5v-1h1v1h10v-1h1v1h4v-1h1v1h6v-2h1v2h5v-1h2v1h9v-2h1v2h1v-1h1v1h15v-1h1v1h3v-1h1v1h6v-1h2v1h11v-1h1v1h2v-1h1v1h18v-1h1v1h1v-1h1v1h9v-1h1v1h3v-1h2v1h1v-1h1v1h1v1h3v-1h3v-1h1v1h11v-1h1v1h2v-1h1v1h5v-1h2v1h2v-1h1v1h2v-2h1v2h2v-2h1v2h1v-1h1v1h2v-2h1v2h1v-1h1v1h9v-1h1v1h12v-1h1v1h2v-1h1v1h8v-1h1v1h7v-2h1v2h7v-1h1v1h10v-1h1v1h5v1h1v-1h1v1h1v-1h1v-1h2v1h1v-1h1v1h4v-1h1v1h1v-1h1v1h5v-3h1v3h1v-1h1v1h1v-1h2v1h3v-1h1v1h1v-1h1v1h3v-1h1v1h6v-1h1v1h2v1h1v-1h7v-1h1v1h14v1h4v-1h3v-1h1v1h1v-1h1v1h15v-1h1v1h4v-1h1v1h4v-1h1v1h3v-1h2v1h8v-1h1v1h3v-1h1v1h2v-1h1v-1h1v2h6v-2h1v1h1v1h2v-1h1v1h1v-1h1v1h1v-1h1v1h1v-1h1v1h2v-1h1v1h1v-1h1v1h7v-1h1v1h20v-1h1v1h6v-1h2v1h8v-1h1v1h4v-1h2v1h5v-1h1v1h5v-2h1v2h7v-1h1v1h3v1h1v-1h1v-1h3v1h1v-1h1v1h3v-1h1v1h4v-1h1v1h13v-1h1v1h1v2h-1v1h-1v-1h-4v1h-2v-1h-9v1h-2v-1h-1v4h-1v-4h-2v1h-1v-1h-1v2h-1v-2h-4v1h-1v-1h-2v1h-1v-1h-3v1h-2v-1h-3v1h-1v-1h-5v1h-1v-1h-1v1h-1v-1h-1v1h-1v-1h-2v1h-1v-1h-16v1h-2v-1h-7v1h-1v-1h-6v1h-1v-1h-1v1h-1v-1h-8v1h-2v-1h-3v1h-1v-1h-1v1h-1v-1h-1v1h-2v-1h-2v1h-1v-1h-1v1h-1v-1h-5v1h-1v-1h-5v1h-1v-1h-1v-1h-2v2h-3v-1h-1v1h-1v-1h-1v1h-1v-1h-7v1h-2v-1h-10v1h-2v-1h-3v1h-1v-1h-2v1h-2v-1h-3v1h-1v-1h-8v1h-1v-1h-2v1h-3v1h-1v1h-1v-2h-2v-1h-4v1h-2v-1h-2v1h-1v-1h-3v2h-1v-2h-1v1h-3v-1h-3v1h-1v-1h-3v1h-1v-1h-5v1h-1v-1h-1v2h-2v-1h-2v-1h-1v2h-1v-1h-2v1h-1v-2h-2v1h-2v1h-1v-2h-1v1h-1v-1h-1v1h-4v-1h-1v2h-1v-1h-2v-1h-1v1h-1v-1h-1v2h-2v-1h-4v-1h-10v1h-1v-1h-7v2h-1v-2h-1v1h-1v-1h-3v9h-1v-8h-1v-1h-1v1h-1v-1h-5v1h-1v-1h-2v1h-2v-1h-8v1h-2v-1h-2v1h-2v-1h-2v1h-1v-1h-5v1h-1v-1h-15v1h-1v-1h-3v1h-1v-1h-8v1h-1v-1h-4v1h-1v-1h-3v2h-1v-2h-3v1h-1v1h-1v-1h-1v-1h-1v1h-1v1h-1v-1h-4v-1h-1v1h-1v-1h-7v1h-1v-1h-1v1h-2v-1h-1v1h-2v-1h-11v1h-1v-1h-3v1h-1v-1h-1v1h-1v-1h-1v1h-1v-1h-17v1h-1v-1h-1v1h-2v-1h-5v1h-1v-1h-5v1h-1v-1h-10v1h-1v-1h-5v1h-1v-1h-1v1h-2v-1h-3v1h-1v1h-1v-1h-3v-1h-2v1h-2v-1h-5v1h-1v-1h-3v1h-1v1h-1v-2h-15v1h-2v-1h-2v1h-1v-1h-1v1h-1v-1h-3v1h-2v-1h-1v1h-1v-1h-1v2h-1v-2h-3v1h-2v-1h-1v1h-3v1h-1v-1h-3v-1h-6v1h-2v-1h-2v1h-2v1h-1v-1h-1v-1h-1v1h-2v-1h-1v1h-1v1h-1v2h-1v-4h-2v1h-2v-1h-1v1h-2v-1h-1v1h-1v-1h-2v1h-1v-1h-1v1h-2v-1h-1v1h-1v-1h-1v2h-1v-1h-3v-1h-2v1h-1v-1h-1v5h-1v-4h-2v1h-1v-1h-1v-1h-1v2h-1v-2h-5v1h-1v1h-1v-1h-1v-1h-2v1h-2v1h-1v-2h-1v1h-1v-1h-1v1h-1v-1h-2v1h-1v-1h-3v1h-1v-1h-1v1h-1v-1h-2v1h-2v-1h-1v2h-1v-1h-1v-1h-2v1h-1v1h-1v-2h-1v1h-1v-1h-1v1h-2v-1h-2v1h-1v-1h-1v1h-1v-1h-4v1h-1v-1h-1v1h-1v1h-1v1h-1v-3h-2v1h-2v-1h-1v2h-1v-1h-2v1h-1v-2h-1v2h-2v-2h-1v1h-1v-1h-1v1h-1v-1h-1v1h-1v-1h-1v1h-1v1h-1v-1h-1v-1h-2v1h-1v-1h-1v1h-1v-1h-1v1h-1v1h-1v-1h-2v1h-1v-1h-2v-1h-1v1h-2v1h-1v-1h-1v1h-1v-1h-1v2h-1v-2h-3v-1h-1v2h-1v-2h-1v1h-1v1h-3v1h-1v-2h-1v-1h-1v1h-1v1h-2v-2h-4v1h-1v1h-1v-2h-4v1h-1v-1h-7v1h-2v-1h-7v2h-1v-2h-2v1h-1v-1h-2v1h-6v-1h-3v2h-1v-2h-11v1h-1v-1h-2v1h-1v-1h-1v1h-2v-1h-8v1h-2v-1h-7v1h-3v-1h-2v1h-1v-1h-1v1h-1v-1h-4v1h-1v-1h-9v1h-2v-1h-5v1h-3v-2h-4v1h-3v1h-1v-1h-4v1h-1v-1h-1v1h-1v-1h-12v1h-1v-1h-2v2h-1v-1h-1v-1h-2v1h-7v1h-1v-1h-1v2h-1v-2h-1v1h-1v-3h-4v1h-10v1h-4v1h-1v-1h-2v-1h-1v1h-1v-1h-3v1h-2v-1h-1v1h-1v-1h-5v1h-1v-1h-3v1h-3v-1h-16v1h-1v-1h-1v1h-1v-1h-3v1h-3v-1h-2v1h-1v-1h-1v1h-1v-1h-1v1h-1v-1h-1v1h-1v-1h-3v2h-1v-2h-1v1h-2v-1h-1v1h-2v-1h-1v1h-1v-1h-1v1h-1v-1h-4v1h-1v-1h-3v2h-1v-2h-2v1h-1v-1h-2v2h-1v-2h-12v2h-1v-2h-3v1h-1v-1h-1v1h-1v-1h-2v1h-1v-1h-7v1h-2v-1h-6v1h-1v1h-1v-2h-1v1h-1v-1h-5v1h-1v-1h-9v2h-1v-2h-6v1h-1v-1h-4v1h-1v-1h-3v1h-1v-1h-1v1h-1v-1h-1v2h-1v-1h-3v1h-2v-1h-1v-1h-4v1h-1v-1h-6v1h-1v-1h-1v1h-1v-1h-1v1h-1v-1h-1v1h-1v-1h-4v1h-1v-1h-7v2h-1v-1h-7v1h-3v-2h-3v1h-1v1h-1v-2h-1v1h-1v-1h-2v1h-1v-1h-8v1h-2v-1h-2v1h-1v1h-1v-2h-1v1h-1v-1h-3v1h-2v-1h-6v1h-1v-1h-1v1h-1v-1h-6v2h-1v-2h-2v1h-2v-1h-2v1h-1v-1h-10v1h-1v-1h-6v1h-2v-1h-1v1h-1v-1h-9v1h-1v-1h-1v1h-1v-1h-8v-1h-3v2h-3v1h-1v-2h-4v1h-1v-1h-3v1h-1v-1h-3v2h-1v-1h-2v-1h-2v1h-3v-1h-2v1h-1v-1h-2v1h-1v1h-1v-1h-1v-1h-1v1h-1v2h-1v-1h-2v-1h-1v1h-1v2h-1v8h-1v-8h-1v-3h-1v1h-1v-1h-1v2h-1v-1h-1v-2h-1v1h-1v-1h-1v1h-1v-1h-1v1h-2v-1h-10v5h-1v-4h-1v-1h-2v1h-1v-1h-8v1h-1v-1h-3v1h-1v-1h-5v1h-1v-1h-2v1h-1v-1h-3v2h-1v-2h-2v1h-1v-1h-4v1h-1v-1h-3v1h-1v-1h-7v1h-2v-1h-1v1h-5v1h-1v-2h-2v1h-1v-1h-3v1h-5v-1h-4v1h-1v-1h-7v1h-1v-1h-1v1h-1v-1h-1v1h-1v-1h-1v1h-1v-1h-10v1h-1v-1h-1v1h-2v-1h-2v1h-1v1h-1v-2h-1v-1h-2v1h-1v1h-2v-1h-4v1h-1v-1h-1v1h-1v-1h-2v1h-4v-1h-1v1h-1v-1h-7v1h-1v-1h-1v1h-1v-1h-11v2h-2v-2h-7v1h-2v-1h-11v1h-1v-1h-10v1h-2v-1h-17v-1h-1v1h-1z"/>
<path fill="#000000" d="M50 382h1v-1h1v1h9v-1h1v1h4v-1h1v1h18v-1h2v1h1v-2h1v2h6v-1h2v1h3v-2h1v2h14v-1h2v1h8v-1h1v1h7v-1h1v1h9v-1h1v1h16v-2h1v2h12v-2h1v2h3v-1h1v1h5v-1h1v1h4v-1h1v1h1v-1h2v1h4v-1h1v1h4v1h4v-1h2v-1h1v1h6v-3h1v3h7v-1h1v1h7v-1h1v1h5v-1h1v1h1v-1h1v1h1v-1h1v1h1v-1h2v1h2v-1h1v1h1v-1h1v1h5v-1h1v1h1v-1h1v1h5v-1h1v1h2v-2h1v2h2v-1h1v1h15v-1h1v1h16v-3h2v4h4v-2h2v1h9v1h6v-1h2v-1h1v1h1v-1h3v1h1v-1h1v1h13v-1h1v1h5v-1h1v1h2v-1h3v1h10v-1h1v-1h1v2h4v-1h1v1h6v-2h1v2h6v-1h2v1h4v-1h1v1h12v-1h1v1h2v-1h2v1h7v-1h1v1h3v-1h1v1h1v-1h1v1h1v-1h1v1h3v-1h1v1h9v-2h2v2h2v-1h1v1h12v-1h1v1h6v-2h1v2h3v-1h1v1h1v-1h1v1h10v-1h1v1h14v-2h1v2h6v-1h1v1h3v-1h1v2h6v-2h1v1h1v-1h1v1h4v-1h1v1h11v-1h1v1h3v-1h2v1h14v-1h1v1h3v-1h1v1h5v-1h1v1h18v-1h1v1h5v-1h2v1h8v-1h1v1h3v-1h1v2h4v-2h1v1h2v-1h1v1h2v-1h1v1h5v1h3v-1h1v1h1v-1h2v-1h1v1h2v-4h1v4h2v-1h1v1h2v-2h1v2h6v-1h2v1h1v-1h1v1h4v-2h1v2h10v-1h1v1h18v-1h1v1h2v-1h1v1h1v-1h1v1h1v-1h1v1h4v-1h1v1h1v1h2v-1h1v1h3v-1h17v-1h1v1h2v-1h1v1h22v-1h1v1h2v-1h1v1h7v-1h1v1h2v-1h1v1h8v-1h1v1h7v-1h1v1h1v-1h1v1h11v-1h2v-1h1v2h5v-4h1v3h1v1h4v-1h1v1h5v-1h1v1h12v-1h1v1h3v-1h1v1h14v-1h1v1h5v-1h1v2h6v-1h1v-1h1v1h2v-1h1v1h3v-1h1v1h1v-1h1v1h2v-13h1v11h2v1h1v1h15v-1h1v1h6v-1h1v1h3v-1h6v1h4v-1h1v1h2v-1h1v1h3v-1h2v1h9v-1h1v1h2v-1h2v1h9v-1h1v1h8v-2h1v2h7v-2h1v1h2v1h3v-1h2v1h1v-1h1v1h7v-1h1v1h18v1h2v-1h1v1h1v-2h1v1h14v-1h1v1h3v-1h1v1h8v-1h1v1h7v1h1v-1h1v1h4v-1h6v-1h1v1h5v-1h1v1h1v-1h1v1h8v-1h1v1h2v-1h1v1h3v-1h1v1h5v-1h1v1h10v-1h1v2h4v-1h2v1h1v-1h2v-1h1v1h6v-1h1v1h1v-1h2v1h11v-1h1v1h7v-1h1v1h6v-1h1v1h6v-1h1v1h12v-1h1v1h13v-1h6v1h8v-2h2v2h3v-1h1v1h7v1h6v-1h11v-1h1v1h7v-1h1v1h1v-1h1v1h7v-2h1v1h1v1h13v1h7v-1h6v-1h2v1h3v-1h2v1h1v-1h1v1h1v-1h1v1h1v-1h2v1h19v-2h1v2h3v-1h1v1h3v1h1v-1h1v-1h1v1h3v-1h1v1h3v-1h4v1h5v-1h1v1h2v-1h1v1h20v-1h1v1h2v-1h1v1h6v-1h1v-1h1v1h1v-1h1v2h3v-1h1v1h2v-1h2v1h29v-1h1v1h1v-1h1v1h2v-2h1v1h1v1h3v-1h1v1h1v-1h1v1h5v-1h1v1h4v-1h1v1h13v-1h1v1h2v-1h1v1h1v-1h1v1h1v-1h1v1h11v-1h1v1h5v-1h1v1h4v-1h1v1h8v-2h1v2h1v-1h1v1h3v-2h1v2h2v-1h1v1h2v-1h1v1h9v-1h1v1h1v2h-2v1h-1v-1h-7v2h-1v-2h-1v1h-1v-1h-8v1h-1v1h-2v-1h-1v-1h-2v1h-1v-1h-7v1h-1v-1h-2v1h-1v-1h-1v1h-1v1h-1v-2h-1v1h-1v-1h-2v1h-1v-1h-2v1h-1v-1h-2v1h-1v-1h-1v1h-1v-1h-4v1h-1v-1h-1v1h-2v-1h-2v1h-1v-1h-3v1h-1v-1h-1v1h-1v-1h-3v1h-1v-1h-5v1h-1v-1h-9v1h-1v-1h-5v2h-1v-2h-2v1h-1v-1h-7v1h-1v-1h-1v1h-1v-1h-5v1h-1v-1h-6v1h-1v-1h-5v1h-1v-1h-6v1h-1v-2h-4v1h-1v2h-1v-2h-1v1h-1v-1h-5v1h-1v-1h-6v1h-1v-1h-4v1h-1v-1h-1v1h-2v-1h-1v1h-1v-1h-2v1h-1v-2h-1v1h-5v1h-1v-1h-1v1h-1v-1h-10v1h-1v-1h-2v2h-1v-1h-1v-1h-2v1h-1v-1h-2v1h-1v-1h-5v1h-1v-1h-3v1h-1v-1h-2v1h-2v-1h-2v1h-1v-1h-6v1h-1v-1h-6v2h-1v-2h-7v1h-1v-1h-1v1h-1v1h-1v-1h-1v1h-2v-1h-2v-1h-6v1h-1v-1h-2v1h-1v1h-1v-2h-4v2h-2v-2h-2v1h-1v-1h-6v1h-1v-1h-5v1h-1v-1h-1v1h-1v-1h-8v1h-1v1h-1v-1h-5v-1h-8v1h-1v-1h-5v1h-1v-1h-5v1h-1v-2h-6v1h-1v2h-1v-2h-2v1h-1v-1h-2v1h-1v-1h-2v1h-2v-1h-3v1h-2v-1h-1v1h-1v-1h-7v1h-2v-1h-3v1h-2v-1h-4v1h-1v-1h-5v1h-1v-1h-1v1h-1v-1h-1v1h-1v-1h-3v1h-1v-1h-2v2h-1v-2h-18v1h-1v1h-1v-1h-1v1h-1v-1h-1v2h-1v-2h-1v-1h-2v1h-2v-1h-1v1h-1v-1h-1v1h-1v-1h-3v1h-1v-1h-12v1h-1v-1h-6v1h-1v-1h-13v2h-1v-2h-2v1h-2v1h-1v-1h-2v1h-1v-1h-3v-1h-6v1h-1v-1h-3v1h-1v-1h-2v1h-1v-1h-4v2h-1v-2h-2v1h-1v-1h-4v1h-2v-1h-1v1h-1v-1h-3v1h-4v1h-1v-2h-1v1h-1v-1h-9v1h-1v-1h-10v1h-1v-1h-10v-1h-2v1h-10v1h-1v-1h-14v1h-1v-1h-12v1h-1v-1h-1v1h-1v-1h-1v1h-1v-1h-1v2h-1v-2h-1v1h-1v-1h-4v2h-1v-2h-1v-1h-2v1h-2v-1h-2v1h-2v1h-1v-1h-6v1h-1v-1h-1v1h-1v-1h-13v1h-2v-1h-1v2h-1v4h-1v-6h-2v1h-1v-1h-6v1h-1v-1h-1v1h-1v-1h-1v1h-5v1h-1v-2h-11v1h-2v-1h-4v1h-1v-1h-1v1h-1v-1h-12v2h-1v-2h-7v1h-1v-1h-4v1h-2v-1h-3v5h-1v-5h-1v1h-2v-1h-8v1h-1v-1h-15v1h-1v-1h-1v1h-1v-1h-10v1h-3v-1h-8v1h-2v-1h-2v1h-1v-1h-7v1h-1v-1h-5v1h-1v-1h-1v1h-2v-1h-6v1h-2v-1h-3v1h-1v-1h-8v1h-1v-1h-2v1h-6v-1h-8v1h-2v-1h-2v1h-1v-1h-3v1h-1v-1h-4v1h-1v-1h-3v1h-1v-1h-3v1h-1v-1h-2v2h-1v-2h-3v1h-1v-1h-2v1h-2v-1h-14v1h-1v-1h-3v1h-1v-1h-3v2h-2v-2h-3v1h-2v1h-1v-1h-4v-1h-2v1h-1v-1h-4v1h-2v-1h-3v1h-1v1h-1v-1h-2v-1h-19v1h-1v-1h-6v2h-1v-2h-2v1h-1v-1h-1v1h-2v-1h-2v1h-2v-1h-13v1h-1v-1h-2v1h-1v-1h-5v1h-1v-1h-2v1h-1v-1h-3v1h-1v-1h-4v1h-1v-1h-5v1h-2v-1h-5v1h-1v-1h-1v1h-1v-1h-2v2h-1v-1h-3v1h-2v-2h-8v1h-2v-1h-2v1h-2v-1h-8v1h-1v-1h-1v1h-2v-1h-2v1h-1v-1h-4v1h-1v-1h-10v1h-1v-1h-3v1h-1v-1h-7v1h-1v-1h-2v1h-1v-1h-1v1h-2v-1h-3v1h-2v-1h-2v1h-1v-1h-2v2h-1v-2h-13v1h-3v-1h-1v1h-1v-1h-1v1h-2v-1h-5v1h-1v-1h-1v1h-1v-1h-1v2h-1v-2h-7v2h-1v-2h-1v1h-1v-1h-1v1h-1v-1h-2v1h-1v-2h-1v1h-4v1h-1v-1h-14v2h-1v-2h-4v1h-1v-1h-5v-1h-3v1h-5v1h-2v-1h-7v1h-1v-1h-4v1h-1v-1h-1v1h-1v-1h-7v1h-3v1h-2v-1h-3v-1h-5v1h-1v-1h-3v1h-1v-1h-1v2h-2v-1h-2v1h-1v1h-1v-2h-1v-1h-1v1h-1v-1h-4v1h-1v-1h-13v1h-2v-1h-6v1h-2v-1h-12v1h-1v1h-1v-2h-2v1h-1v-1h-1v1h-1v-1h-2v1h-1v-1h-2v1h-2v-1h-4v1h-1v2h-1v-2h-2v-1h-2v2h-1v-2h-1v1h-2v-1h-1v1h-1v-1h-1v1h-1v-1h-11v2h-1v-2h-5v1h-1v-1h-1v1h-1v-1h-1v1h-5v-1h-2v1h-1v-1h-2v1h-1v-1h-1v1h-1v-1h-3v1h-2v-1h-1v1h-1v-1h-3v1h-1v-1h-8v1h-1v1h-1v-2h-3v1h-1v-1h-1v1h-1v-1h-5v2h-1v-2h-3v1h-1v-1h-3v1h-1v-1h-1v2h-1v-2h-6v1h-2v-1h-6v1h-1v-1h-5v2h-1v-2h-3v2h-1v-2h-1v2h-1v-2h-1v1h-2v-1h-1v1h-1v-1h-2v1h-1v-1h-1v2h-1v-2h-1v1h-1v-1h-1v1h-1v-1h-9v1h-2v-1h-1v1h-1v-1h-7v2h-1v-1h-1v-1h-1v1h-1v-1h-19v1h-2v-1h-1v2h-1v-2h-2v1h-1v-1h-3v2h-1v-2h-2v1h-1v-1h-1z"/>
<path fill="#ff0000" d="M50 411h2v-2h1v2h2v-1h1v1h1v1h3v-1h3v1h6v-1h1v1h7v-1h1v1h2v-1h2v1h3v-1h1v1h1v-1h1v1h9v-1h1v1h8v-1h1v1h1v-1h1v1h2v-1h1v1h2v-1h2v1h1v-1h1v1h4v-1h1v1h2v-1h1v1h2v-1h2v1h4v-1h1v1h7v-1h1v1h4v-1h1v1h3v-1h1v1h9v-1h1v1h6v-1h1v2h1v-1h1v-1h1v1h8v-1h1v1h3v-2h1v2h2v-2h1v2h2v-1h2v1h4v-1h2v1h3v-1h1v1h10v-1h1v1h12v-1h2v1h1v-1h1v1h1v-1h1v1h29v-2h1v2h2v-1h1v1h2v-1h2v2h6v-1h8v-2h1v2h1v-1h1v1h8v-1h1v1h1v1h1v-1h9v-1h2v1h18v-1h1v1h1v-1h1v1h5v1h2v-2h1v2h4v-1h1v-1h1v1h5v-1h1v1h2v-1h1v1h2v-1h1v1h11v-1h1v1h2v-1h1v1h1v-1h1v1h1v-1h1v1h3v-1h1v1h1v-1h1v1h5v-1h1v1h4v1h2v-1h12v-1h4v1h3v-1h2v1h1v-1h1v1h1v-1h1v1h2v-1h1v1h1v-1h1v1h1v-1h1v1h1v-1h1v1h7v-1h1v1h30v-2h1v2h4v-1h1v1h3v-1h2v-1h1v2h14v-1h1v1h4v-2h1v2h2v-1h1v1h6v-1h1v1h4v-1h1v1h1v-1h1v1h3v-1h2v1h6v-1h1v1h21v-1h1v1h4v-1h2v1h8v-1h1v1h7v-1h1v-1h1v1h1v1h3v-1h1v1h17v-1h1v1h8v-1h1v1h6v-1h1v1h7v-1h1v1h1v-1h1v1h13v-1h1v1h1v-1h1v1h1v-1h1v1h1v-1h1v1h1v-1h1v1h17v1h2v-1h1v-1h1v1h5v-2h2v2h11v-1h1v1h4v-1h1v1h8v1h3v-1h2v-1h1v1h8v-1h1v1h1v-1h2v1h3v-1h1v1h3v-1h1v1h4v-1h1v1h5v-1h1v1h4v-1h1v1h14v-2h1v1h1v-1h1v-1h1v3h2v-1h1v1h7v-1h1v1h11v-2h1v1h1v1h14v-1h1v1h3v-2h1v2h1v-1h1v1h3v-2h1v2h4v-1h1v1h4v-1h2v-2h1v2h1v1h10v-1h1v1h18v-2h1v2h1v-1h1v1h9v-2h1v1h1v1h3v-2h1v2h1v-1h1v1h6v-1h1v1h7v-1h2v1h3v-1h4v1h29v-1h1v1h6v1h2v-1h11v-1h1v1h4v-2h1v2h1v-1h1v1h6v-1h1v1h1v-1h1v1h5v-1h1v1h7v1h2v-1h1v-1h1v1h2v-1h1v1h10v-1h2v1h1v-1h1v1h12v-1h1v1h12v-1h1v1h6v-1h1v1h1v-1h1v1h3v-1h1v1h2v-1h1v1h4v1h3v-1h1v-1h3v-1h1v2h5v-1h1v1h5v-1h3v1h1v-1h1v1h4v-1h2v1h2v-1h1v1h1v1h7v-1h11v-1h1v1h4v-1h1v1h1v-1h1v1h2v-1h1v1h6v-1h1v1h2v-1h1v1h5v-1h1v1h3v-1h1v1h4v-1h3v-1h1v1h1v1h7v-1h1v-1h1v1h1v1h18v-1h1v1h4v-1h1v1h5v-1h1v1h1v-1h1v1h3v-1h1v1h7v-1h1v1h7v-1h1v1h6v-3h1v3h1v1h2v-1h3v-1h1v1h3v-1h1v1h14v-1h1v1h5v-1h1v1h4v-1h1v1h5v-1h1v1h2v1h2v-2h2v1h2v-1h1v1h5v-1h1v1h3v-1h1v1h2v-1h3v1h11v-1h1v1h11v-2h1v2h2v-1h1v1h3v-1h2v1h4v-1h1v1h13v-1h1v1h1v-1h2v1h6v-1h1v1h1v-1h1v1h9v-1h1v1h4v-1h1v1h9v-1h1v1h8v-1h1v1h1v-1h1v1h8v1h1v-1h1v1h1v-1h8v-1h1v1h1v-2h1v3h5v-1h27v-1h1v1h5v-1h1v1h3v-1h2v1h4v-1h1v1h1v-1h1v1h5v-1h1v1h18v-1h1v1h4v-1h1v1h16v-1h1v1h9v1h1v2h-1v-1h-6v1h-1v1h-1v-2h-2v1h-1v-1h-4v1h-1v-1h-3v1h-1v-1h-1v1h-1v-1h-2v1h-1v-1h-1v1h-1v1h-1v-2h-9v1h-2v-1h-5v1h-1v-1h-5v2h-1v-1h-1v-1h-3v1h-1v-1h-3v1h-2v-1h-2v2h-1v-2h-10v1h-1v-1h-1v1h-1v1h-1v-2h-2v1h-1v-1h-3v1h-1v-1h-6v1h-1v-1h-3v1h-1v-1h-1v1h-1v-1h-4v1h-5v-1h-6v1h-1v-1h-1v1h-1v-1h-2v2h-1v-1h-2v-1h-1v1h-1v-1h-4v1h-1v-1h-13v1h-2v-1h-2v1h-2v-1h-7v1h-1v-1h-2v1h-1v-1h-1v1h-1v-1h-7v2h-1v-2h-2v1h-1v-1h-1v1h-2v-1h-2v1h-2v-1h-2v2h-1v-2h-13v2h-1v-1h-2v-1h-1v1h-1v-1h-1v1h-2v1h-1v-2h-3v1h-1v-1h-4v1h-1v-1h-3v1h-1v-1h-2v1h-1v-1h-3v1h-1v-1h-4v1h-1v-2h-3v1h-7v1h-2v-1h-1v2h-1v-1h-1v-1h-5v1h-2v-1h-14v1h-1v-1h-2v1h-1v-1h-1v1h-1v-1h-3v1h-1v-1h-9v2h-1v-1h-1v-1h-2v2h-1v-2h-4v1h-2v-1h-1v2h-1v-1h-2v-1h-5v1h-1v-1h-1v1h-1v-1h-2v1h-1v-1h-3v1h-1v-1h-3v2h-1v-2h-6v1h-2v-1h-2v1h-1v-1h-6v1h-1v-1h-5v1h-1v-1h-7v2h-1v-2h-2v1h-1v-1h-5v1h-1v-1h-2v1h-1v-1h-1v2h-1v-1h-1v-1h-1v-1h-1v1h-1v-1h-2v2h-1v-1h-5v1h-1v-1h-12v1h-1v-1h-6v1h-1v-1h-2v1h-1v-1h-1v1h-1v-1h-5v1h-1v-1h-6v1h-1v-1h-1v1h-2v1h-1v-1h-1v1h-1v-1h-3v-1h-3v2h-1v-2h-4v1h-1v-1h-1v1h-1v-1h-10v1h-1v-1h-2v1h-1v-2h-4v3h-1v-1h-4v-1h-3v1h-1v-1h-1v1h-2v-1h-6v1h-1v-1h-1v1h-1v-1h-2v1h-1v-1h-7v1h-1v-1h-6v2h-1v-2h-8v1h-3v-1h-7v1h-1v-1h-8v1h-1v-1h-1v1h-1v2h-1v-1h-1v-2h-6v1h-2v-1h-5v2h-1v-1h-1v-1h-5v1h-1v-1h-2v1h-1v-1h-1v1h-1v-1h-9v1h-1v-1h-4v2h-1v-1h-2v-1h-3v1h-1v-1h-2v1h-1v-1h-2v1h-1v-1h-5v1h-1v-1h-1v1h-1v-1h-5v1h-2v-1h-1v1h-1v-1h-4v1h-1v-1h-8v1h-1v-1h-4v2h-1v-1h-2v-1h-2v2h-1v-2h-2v1h-2v-1h-1v1h-2v-1h-2v2h-1v-2h-12v1h-1v-1h-4v1h-2v-1h-6v1h-1v-1h-1v1h-2v-1h-4v1h-1v-1h-2v1h-1v-1h-4v1h-1v-1h-3v2h-1v-2h-1v-1h-4v1h-1v1h-1v-1h-4v1h-1v-1h-2v1h-1v-1h-9v2h-1v-1h-2v-1h-2v1h-2v-1h-5v2h-1v-2h-1v1h-1v-1h-8v2h-1v-1h-1v-1h-1v1h-2v-1h-1v2h-1v-2h-3v1h-2v-1h-3v1h-1v3h-1v-3h-1v1h-1v-1h-1v1h-1v-2h-1v3h-1v-2h-1v-1h-2v1h-1v-1h-3v1h-2v-1h-2v1h-1v-1h-5v1h-1v-1h-5v1h-1v-1h-1v1h-2v-1h-3v1h-1v-1h-1v1h-1v-1h-2v-1h-2v2h-1v-1h-4v1h-2v-1h-6v1h-3v-1h-6v1h-1v-1h-4v1h-1v-1h-3v1h-1v-1h-6v1h-1v-1h-2v1h-1v-1h-1v1h-2v-1h-5v1h-2v-1h-4v1h-1v-1h-5v1h-2v-1h-1v1h-1v-1h-1v1h-2v-1h-3v1h-1v-1h-4v1h-1v-1h-6v1h-1v-1h-11v1h-1v-1h-1v1h-1v-1h-12v1h-1v-1h-1v1h-1v-1h-7v1h-1v-1h-2v1h-2v-1h-1v1h-1v-1h-2v1h-1v-1h-12v1h-1v-1h-3v1h-1v-1h-7v1h-1v-1h-6v1h-1v-1h-7v2h-1v-1h-1v-1h-5v2h-1v-2h-2v1h-1v-1h-2v1h-1v-1h-10v1h-2v-1h-3v1h-1v-1h-1v1h-1v-1h-2v1h-1v-1h-4v2h-1v-2h-9v1h-1v-1h-2v1h-1v-1h-1v1h-1v-1h-3v1h-2v-1h-6v-1h-2v1h-3v1h-1v-1h-4v1h-1v-1h-4v1h-1v-1h-10v1h-1v-1h-23v2h-1v-2h-4v1h-2v-1h-3v1h-1v-1h-5v2h-1v-1h-2v-1h-1v1h-1v-1h-6v1h-2v-1h-4v1h-3v-1h-3v1h-1v-1h-7v1h-1v-1h-25v1h-1v-1h-2v2h-1v-2h-7v1h-4v2h-1v-2h-2v-1h-1v1h-1v-1h-1v1h-1v-1h-4v1h-1v-1h-4v2h-1v-1h-1v1h-1v-2h-2v1h-2v-1h-1v1h-1v-1h-1v2h-1v-2h-7v1h-1v-1h-3v1h-2v1h-1v-2h-2v1h-1v-1h-2v1h-1v-1h-11v1h-2v-1h-1v2h-1v-1h-2v1h-1v-1h-3v-1h-6v1h-1v-1h-4v1h-1v-1h-2v1h-1v-1h-6v1h-1v-1h-3v1h-2v-1h-1v1h-1v-1h-5v1h-3v-1h-7v1h-1v-1h-1v1h-1v-1h-2v1h-1v-1h-5v1h-3v-1h-4v1h-1v-1h-3v1h-1v-1h-3v1h-1v-1h-7v1h-1v-1h-5v1h-1v-1h-13v1h-1v-2h-1v1h-4v1h-1v-1h-1v2h-1v-2h-4v1h-1v-1h-2v1h-2v-1h-3v1h-1v-1h-1v1h-1v-1h-3v1h-1v-1h-2v1h-1v-1h-1v1h-1v1h-1v-2h-6v2h-1v-2h-5v1h-1v-1h-4v1h-1v-1h-9v1h-1v-1h-9v1h-1v-1h-1v1h-1v-1h-6v1h-2v-1h-5v1h-1v-1h-1v1h-2v-1h-3v1h-2v-1h-1v1h-3v-1h-7v2h-1v-2h-6v-1h-1v1h-3v-1h-2z"/>
<path fill="#0000ff" d="M50 442h2v-1h2v1h8v-1h1v1h1v-1h1v1h1v-1h1v1h7v-1h1v1h2v-2h2v2h4v-1h1v1h7v-1h1v1h15v-1h1v1h12v-1h1v1h10v-1h1v1h4v-1h1v1h22v-1h2v1h1v-1h1v1h4v-1h1v1h3v-1h1v1h7v-1h1v1h5v-1h1v1h6v-1h1v1h7v-1h1v1h11v-1h1v1h3v-1h1v-1h1v2h2v-1h1v1h4v1h1v-1h2v-1h1v1h3v-1h5v1h9v-1h1v1h1v-2h1v2h2v-2h1v2h1v-1h1v1h4v-1h1v1h1v-1h1v1h3v-1h1v1h1v-1h1v1h4v-1h1v1h4v-1h1v1h5v-1h1v1h9v-1h1v1h12v-2h1v2h4v-1h2v1h2v-1h1v1h5v-1h1v1h7v-1h1v1h3v-1h1v1h4v-1h1v1h1v-1h1v1h5v-1h1v1h2v-1h1v1h1v-1h1v1h2v-1h1v1h6v-1h3v1h2v-1h2v1h8v-1h1v1h8v-1h2v1h5v-2h1v2h7v-1h1v1h14v-1h1v1h1v-1h1v1h8v-1h1v1h5v-1h1v-1h1v1h1v1h3v-1h1v1h13v-1h1v1h5v-2h1v1h1v1h4v-1h1v1h2v-1h1v1h1v-1h2v1h6v-1h1v-1h1v2h9v1h2v-2h3v1h2v-1h1v-1h1v2h14v-1h1v1h3v-1h1v1h3v-2h1v1h2v1h4v-1h1v1h4v-1h1v1h3v-1h1v1h17v-1h1v1h2v-1h1v1h5v1h1v-1h1v1h2v-1h5v-1h1v1h4v-1h1v1h1v-1h1v1h24v-1h2v1h2v-1h1v1h25v-1h2v1h2v-1h1v1h3v-1h1v1h2v-1h2v1h11v-1h1v1h3v-1h1v1h1v-1h1v1h10v1h3v-1h11v-1h1v1h1v-1h1v1h4v-1h1v1h4v-1h1v1h2v-2h1v2h6v-1h1v1h7v-1h1v1h21v-1h1v1h3v-1h1v1h2v-1h2v1h1v1h3v-1h10v-1h1v1h10v-1h1v1h6v-1h1v1h9v1h1v-1h1v1h2v-2h4v1h15v-1h1v1h3v-1h1v1h7v-1h1v1h6v-1h1v1h2v-2h1v2h49v-1h1v1h2v1h4v-2h3v-1h1v1h2v2h2v-1h1v1h1v-1h3v-1h1v1h22v-1h1v1h6v-1h1v1h2v1h2v-1h1v1h5v-1h1v1h1v-2h1v1h2v-1h2v1h4v-1h1v1h5v-1h1v1h1v-1h1v1h3v-1h1v1h9v-1h1v1h1v-1h2v1h2v-1h1v1h8v-1h1v1h4v-1h1v-1h1v2h20v-1h1v1h29v-2h1v2h14v-1h2v1h3v-1h1v1h1v1h2v-1h4v-1h1v1h2v-1h2v1h2v-1h1v1h1v-1h1v1h13v-1h1v1h2v-1h1v1h11v-1h4v1h6v-1h1v1h1v-1h1v1h2v-2h1v2h6v-1h1v1h3v-2h1v1h1v-2h1v3h9v1h5v-1h5v-1h2v1h2v-1h1v1h5v-1h1v1h4v-1h1v1h3v-1h1v1h2v-1h3v1h3v-1h1v1h18v-1h1v1h1v-1h2v1h7v-1h2v1h9v-2h1v2h1v-1h1v1h13v-2h1v2h1v-1h1v1h17v-1h1v1h1v-1h2v1h10v-2h1v2h13v-1h2v1h5v-1h1v1h10v-1h1v1h2v-1h1v1h3v-1h1v1h1v-1h1v1h1v-2h1v2h2v-1h1v1h1v-1h1v1h20v-1h1v1h3v-1h1v1h11v-1h1v1h13v-1h1v1h1v-1h1v1h1v-1h1v1h1v-1h1v1h1v-1h1v1h16v-1h1v1h4v-1h2v-1h1v1h1v-1h1v1h3v-1h1v1h1v-1h1v1h2v1h22v-2h1v2h16v-1h4v-2h1v2h1v1h9v-1h1v1h3v-1h1v1h1v-1h2v1h2v-1h1v3h-1v1h-1v-1h-5v1h-1v-1h-5v1h-1v-1h-3v1h-2v-1h-1v-1h-6v1h-1v2h-1v-1h-2v-1h-4v1h-1v-1h-2v1h-1v-1h-3v1h-2v-1h-12v1h-2v-1h-6v1h-1v-1h-1v-1h-9v1h-1v-1h-2v1h-6v1h-1v-1h-5v1h-1v-1h-7v1h-1v-1h-1v1h-1v-1h-2v1h-1v-1h-8v1h-1v-1h-2v2h-1v-2h-2v1h-1v-1h-19v2h-1v-2h-1v1h-1v-1h-1v1h-1v-1h-16v1h-4v-1h-1v1h-1v-1h-1v1h-1v-1h-3v1h-2v-1h-1v1h-1v-1h-1v4h-1v-4h-2v1h-1v-1h-3v1h-2v-1h-2v1h-1v-1h-10v2h-1v-2h-1v1h-2v-1h-13v1h-4v-1h-2v1h-1v-1h-5v1h-1v-1h-3v1h-1v-1h-5v1h-1v-1h-3v1h-1v-1h-13v1h-1v-1h-5v1h-2v-1h-1v1h-1v-1h-2v1h-1v-1h-3v2h-1v-2h-3v1h-1v-1h-3v1h-1v-1h-1v1h-1v-1h-14v1h-1v-1h-5v1h-1v-2h-2v1h-6v1h-1v-1h-8v2h-1v-2h-1v1h-1v-1h-9v1h-1v1h-1v-1h-4v-1h-4v1h-1v-1h-3v1h-1v1h-1v-2h-25v1h-1v-1h-7v1h-2v-1h-3v1h-1v-1h-12v2h-1v-2h-7v2h-1v-2h-4v1h-1v-1h-4v1h-1v1h-1v-1h-2v-1h-9v2h-1v-2h-3v2h-1v-1h-1v-1h-7v1h-1v-1h-1v1h-1v-1h-2v1h-1v-1h-3v1h-1v-1h-15v1h-1v-1h-2v1h-1v-1h-2v1h-1v-1h-7v2h-1v-2h-5v1h-1v-1h-2v1h-1v-1h-2v1h-1v-1h-3v2h-1v-2h-4v2h-1v-2h-5v1h-1v-1h-4v1h-1v-1h-11v1h-1v-1h-7v1h-2v-1h-9v1h-1v1h-1v-1h-1v1h-1v-1h-3v1h-1v-1h-3v-1h-1v1h-1v-1h-2v1h-1v-1h-12v1h-1v-1h-3v1h-1v-1h-2v1h-2v-1h-9v1h-4v-2h-1v1h-1v-1h-4v2h-1v1h-1v-1h-2v-1h-5v1h-1v-1h-4v1h-1v-1h-6v1h-1v-1h-3v1h-1v-1h-1v1h-1v-1h-1v1h-1v-1h-1v1h-1v-1h-7v2h-1v-1h-1v-1h-2v2h-2v-1h-1v-1h-5v2h-1v-2h-3v1h-3v-1h-15v1h-1v-1h-7v1h-1v-1h-12v-1h-4v3h-1v-1h-1v1h-1v-1h-1v-1h-3v1h-1v-1h-8v1h-1v-1h-1v2h-1v-2h-2v1h-1v-1h-13v1h-1v-1h-6v1h-1v1h-1v-1h-3v-1h-1v2h-1v-2h-3v1h-1v-1h-2v1h-1v-1h-1v1h-1v-1h-6v1h-1v-1h-2v1h-1v-1h-1v1h-1v-1h-11v1h-1v-1h-1v1h-1v-1h-1v1h-1v-1h-6v2h-1v-2h-2v2h-1v-2h-9v1h-1v-1h-8v1h-1v-1h-3v1h-3v-1h-20v1h-1v-1h-2v1h-2v-1h-1v2h-1v-2h-3v1h-1v-1h-2v1h-2v-1h-5v2h-1v-2h-7v1h-1v-1h-2v1h-1v-1h-1v1h-1v-1h-6v1h-2v-1h-3v1h-2v-1h-1v1h-1v-1h-7v1h-1v-1h-3v1h-1v1h-1v-2h-2v1h-3v1h-1v-2h-4v1h-1v-1h-8v1h-1v-1h-3v1h-1v-1h-1v1h-6v-1h-2v1h-1v-1h-9v1h-1v-1h-1v1h-1v-1h-2v1h-1v-1h-2v1h-1v-1h-2v1h-1v-1h-3v1h-1v-1h-2v2h-1v-1h-1v-1h-1v1h-1v-1h-2v1h-1v-1h-7v1h-1v-1h-2v2h-1v-2h-1v1h-1v-1h-1v1h-1v-1h-4v1h-1v-1h-12v1h-3v1h-1v-2h-1v1h-3v-1h-1v1h-1v-1h-1v1h-1v-1h-3v1h-2v-1h-4v1h-1v-1h-1v1h-1v-1h-8v-1h-2v1h-1v1h-2v-1h-1v1h-1v-1h-2v1h-2v-1h-6v1h-1v-1h-1v1h-1v-1h-3v2h-1v-2h-17v1h-1v-1h-2v1h-1v-1h-1v1h-1v-1h-1v1h-1v-1h-2v1h-1v-1h-6v1h-1v-1h-4v1h-1v-1h-6v2h-1v-2h-1v1h-2v-1h-5v1h-1v-1h-6v1h-1v-1h-1v1h-1v-1h-1v1h-3v-1h-1v1h-1v-1h-4v1h-1v-1h-8v1h-1v-1h-1v1h-1v-1h-2v2h-1v-1h-1v-1h-4v1h-1v-1h-13v1h-1v-1h-1v1h-1v-1h-3v1h-1v1h-1v-2h-3v1h-1v-1h-9v2h-1v-1h-1v-1h-5v1h-1v-1h-1v1h-1v-1h-9v1h-2v-1h-2v2h-1v-2h-5v1h-1v-1h-2v1h-1v-1h-2v1h-1v-1h-6v1h-1v-1h-5v1h-2v-1h-9v1h-2v-1h-3v2h-1v-2h-1v1h-1v-1h-7v2h-1v-2h-4v1h-1v-1h-19v1h-1v-1h-1v1h-1v-1h-7v2h-1v-2h-4v1h-1v1h-1v-2h-5v1h-1v-1h-2v1h-1v-1h-1v1h-1v-1h-2v1h-1v-1h-4v1h-2v-1h-1v1h-1v-1h-6v-1h-1v1h-1v2h-1v-2h-7v1h-2v-1h-16v1h-1v1h-1v-2h-4v1h-1v-1h-10v2h-1v-2h-1v1h-1v-1h-5v1h-1v-1h-1v1h-1v-1h-1v1h-2v-1h-1v1h-1v-1h-11v1h-1v-1h-6v1h-1v-1h-1v1h-1v-2h-1v3h-1v-1h-1v-1h-10v1h-1v-1h-3v1h-1v-1h-11z"/>
<path fill="#006400" d="M50 470h1v2h2v-1h1v1h7v-1h2v1h11v-1h1v1h6v-1h1v1h15v-1h1v1h18v-1h1v1h6v-1h1v1h11v1h2v-1h1v-1h2v1h9v-2h1v2h8v-1h1v1h5v-1h1v-1h1v2h11v-1h1v1h7v1h1v-2h1v2h2v-1h1v1h1v-1h3v-1h1v1h7v-1h1v1h4v-1h1v1h1v-2h1v2h7v-2h1v2h1v-1h1v1h5v-1h1v1h10v-1h1v-1h1v2h10v-1h1v1h6v-1h1v1h2v-1h1v1h6v-1h1v1h2v-1h1v1h8v-1h1v-1h1v1h1v1h3v-1h1v1h2v-1h1v1h6v-2h1v2h5v-1h1v1h3v-1h1v1h4v-1h2v1h36v-1h1v1h8v-1h1v1h3v-1h1v1h2v-1h1v1h2v-1h3v1h3v-1h1v1h2v-1h3v1h19v-1h1v1h1v-1h2v1h5v-1h1v1h3v1h3v-2h1v2h2v-2h1v1h7v-1h1v1h10v-1h1v1h1v-1h1v1h1v-1h1v1h6v-1h1v1h3v-2h1v2h5v-1h1v1h12v-2h1v2h6v-1h1v1h4v-1h1v1h3v-1h1v1h1v1h2v-1h1v1h3v-1h2v-1h1v1h10v-1h1v1h10v-1h1v1h11v-1h2v1h11v-1h1v1h1v-1h1v1h4v-1h2v1h5v1h7v-2h1v1h3v-1h1v1h5v-1h1v1h2v-1h1v1h3v1h3v-1h1v1h3v-2h1v1h7v-1h1v1h2v-1h1v1h1v-1h1v1h23v-1h1v1h2v-2h1v2h5v-1h1v1h4v-1h1v1h18v-1h1v1h2v1h8v-1h1v-1h1v1h4v-1h1v1h5v-1h1v1h7v-1h2v-1h1v1h1v1h11v-2h1v2h12v-1h1v1h2v-1h2v1h8v-1h1v1h6v-1h1v1h1v-1h1v1h2v-1h1v1h5v-1h1v1h7v-1h1v1h13v-1h1v1h2v-2h1v2h2v-1h1v1h6v-1h1v1h1v-1h1v1h4v-1h1v1h1v-1h1v1h2v-1h1v1h10v-1h1v1h5v-1h3v1h2v-1h1v1h2v-2h1v2h4v-1h1v1h6v-1h1v1h13v-1h1v1h6v-1h2v1h4v1h5v-1h1v-1h1v1h1v-1h3v1h5v-1h1v1h4v-1h1v1h1v-1h1v1h14v-1h1v1h7v-1h1v1h3v-1h1v1h12v-1h2v1h13v-1h1v1h9v-1h1v1h1v-2h1v2h23v-1h1v1h1v-1h1v1h10v-1h1v1h9v-1h1v1h8v-1h1v1h4v1h1v-1h2v-2h1v2h4v-1h1v1h1v-1h2v1h1v-2h1v2h2v-1h2v1h8v-1h1v1h16v-1h1v1h2v-1h1v1h4v-1h2v1h5v-1h1v1h14v-1h1v1h3v1h5v-2h1v2h4v-1h1v1h1v-2h1v1h4v-2h1v2h6v-2h1v1h2v1h5v-1h1v1h4v-1h1v1h1v-1h2v1h3v-1h1v1h3v-2h1v1h1v1h4v-1h1v1h4v-1h2v2h2v-1h1v1h4v-1h12v-1h1v1h12v-1h1v1h6v-1h1v1h6v-1h1v1h5v-1h1v1h3v-1h1v1h1v-1h1v1h5v-1h1v1h2v-1h1v1h1v-1h1v1h1v-1h1v1h2v1h4v-1h1v1h1v-1h12v-1h2v1h4v-1h1v1h6v-1h1v1h6v-1h1v1h1v-1h1v1h6v-1h1v1h9v-1h2v1h14v-1h1v1h1v-1h1v1h13v-1h1v1h5v-1h1v1h9v-1h1v1h4v-1h1v1h4v1h5v-1h7v-1h1v1h1v-1h1v-1h1v2h1v-2h1v2h3v-1h1v1h23v-1h1v1h1v-1h1v1h1v-1h1v1h4v-1h1v1h7v-2h1v2h9v-1h1v1h2v-1h1v1h2v-1h1v1h2v-1h1v-1h1v2h6v-1h1v1h15v-1h1v1h4v-1h1v1h20v-1h1v1h2v-3h1v3h4v1h4v-1h9v-1h1v1h3v3h-1v-1h-4v1h-1v-1h-2v1h-2v-1h-2v1h-5v1h-1v-2h-3v2h-1v-2h-4v1h-1v-1h-1v1h-2v-1h-5v1h-1v-1h-17v1h-2v-1h-4v1h-1v-1h-1v1h-1v-1h-9v1h-1v-1h-2v1h-1v-1h-1v1h-1v-1h-4v1h-1v-1h-2v1h-2v-1h-1v1h-1v-1h-3v1h-1v-1h-4v1h-1v-1h-9v1h-1v-1h-2v1h-1v-1h-8v1h-1v-1h-1v1h-1v-1h-4v1h-2v-1h-3v1h-1v-1h-7v1h-1v-1h-1v-1h-1v1h-4v1h-1v-1h-5v1h-4v1h-1v-2h-2v1h-1v-1h-6v1h-1v-1h-2v1h-1v-1h-4v1h-2v-1h-4v1h-1v-1h-1v1h-1v-1h-11v1h-2v-1h-3v1h-2v-1h-4v1h-1v-1h-1v1h-1v-1h-4v1h-2v-1h-1v1h-1v-1h-14v2h-1v-2h-3v1h-1v-1h-2v1h-1v-1h-11v1h-2v-1h-15v1h-6v-1h-3v1h-1v-1h-2v1h-1v-1h-1v2h-1v-2h-6v1h-1v-1h-1v2h-1v-2h-5v1h-1v-1h-2v1h-1v-1h-3v2h-1v-1h-3v-1h-2v1h-1v-1h-1v1h-2v-1h-1v1h-2v-1h-20v1h-1v-1h-2v1h-4v1h-1v1h-1v-2h-2v-1h-5v1h-1v-1h-6v1h-1v-1h-1v1h-2v-1h-1v1h-1v-1h-4v1h-1v-1h-2v1h-1v-1h-8v1h-2v-1h-9v1h-1v-1h-3v1h-11v1h-1v-2h-1v2h-1v-2h-2v1h-1v-1h-2v1h-1v-1h-3v1h-1v-1h-3v1h-1v-1h-3v2h-1v-2h-2v1h-1v-1h-2v1h-1v-1h-6v1h-1v-1h-1v1h-2v-1h-11v1h-3v-1h-5v1h-1v-1h-3v1h-1v-1h-2v1h-2v-1h-5v1h-1v-1h-1v1h-1v-1h-4v2h-1v-1h-1v-1h-2v1h-1v-1h-1v1h-1v-1h-5v1h-1v-1h-6v1h-1v-1h-1v1h-1v-1h-2v1h-1v-1h-11v1h-1v-1h-1v1h-1v-1h-4v1h-1v-1h-2v2h-1v-1h-1v1h-1v-2h-8v1h-2v-1h-3v1h-1v-1h-4v1h-1v-1h-6v1h-1v-1h-1v1h-1v-1h-5v1h-1v-1h-2v2h-1v-2h-3v1h-2v-1h-2v1h-1v-1h-5v1h-1v-1h-10v2h-1v-1h-1v-1h-3v1h-1v-1h-4v1h-1v-1h-13v1h-1v-1h-2v1h-2v-1h-5v1h-1v-1h-2v1h-2v1h-1v1h-1v-2h-1v-1h-3v2h-1v-2h-7v1h-2v-1h-16v1h-2v-1h-2v2h-1v-2h-3v1h-2v-1h-2v1h-1v-1h-5v1h-2v-1h-3v1h-1v-1h-6v2h-1v-2h-3v1h-2v-1h-2v2h-1v-2h-4v1h-1v-1h-9v1h-3v-1h-2v1h-1v-1h-1v1h-1v-1h-1v1h-1v-1h-4v1h-3v-1h-4v1h-1v-1h-2v1h-1v-1h-4v1h-2v-1h-2v2h-1v-2h-7v1h-1v-1h-14v2h-1v-2h-2v1h-1v-1h-2v1h-1v-1h-7v1h-1v-1h-6v1h-1v-1h-6v1h-1v-1h-3v1h-1v-1h-1v1h-1v-1h-2v1h-1v-1h-13v2h-2v-1h-7v-1h-1v1h-3v-1h-3v2h-1v-2h-2v1h-1v-1h-1v1h-1v-1h-7v1h-1v-1h-4v1h-1v-1h-11v2h-1v-2h-5v1h-1v-1h-5v1h-1v-1h-4v1h-1v-1h-8v1h-1v-1h-5v1h-1v-1h-1v2h-1v-1h-8v-1h-1v1h-1v-1h-9v1h-1v-1h-1v1h-3v-1h-1v1h-1v2h-1v-2h-5v-1h-1v1h-1v-1h-3v1h-1v-1h-7v1h-1v-1h-3v1h-3v-1h-2v2h-1v-2h-5v1h-1v-1h-3v1h-1v-1h-9v1h-1v-1h-10v2h-1v-2h-2v2h-1v-2h-1v1h-2v-1h-1v1h-1v-1h-1v1h-6v-1h-5v1h-1v-1h-6v1h-1v-1h-4v1h-1v-1h-2v1h-1v-1h-1v1h-1v-1h-2v1h-1v-1h-1v1h-2v-1h-2v1h-1v1h-1v-1h-2v-1h-2v1h-1v-1h-4v1h-1v-1h-5v1h-1v-1h-2v1h-2v-1h-1v1h-1v-1h-4v1h-2v-1h-10v3h-1v-2h-3v1h-1v-1h-1v-1h-3v2h-1v-2h-1v1h-1v-1h-3v1h-1v-1h-4v1h-2v-1h-5v1h-1v-1h-11v1h-1v-1h-6v1h-1v-2h-2v1h-4v1h-1v-1h-9v1h-1v-1h-1v1h-1v-1h-2v1h-1v-1h-3v1h-1v-1h-2v1h-1v-1h-4v1h-2v-1h-6v1h-1v-1h-1v1h-1v-1h-4v1h-1v-1h-3v1h-1v-1h-1v1h-1v-1h-3v1h-2v-1h-5v1h-2v-1h-2v1h-1v-1h-4v1h-1v1h-1v-2h-7v1h-1v-1h-1v1h-1v-1h-2v1h-1v-1h-3v1h-1v-1h-2v1h-1v-1h-17v1h-1v-1h-9v1h-1v-1h-2v1h-1v-1h-3v1h-1v-1h-2v1h-1v-1h-2v1h-2v-1h-1v1h-1v-1h-11v1h-1v-1h-2v1h-1v-1h-10v1h-1v-1h-2v1h-1v-1h-7v1h-4v1h-2v-1h-2v-1h-2v1h-2v-1h-8v1h-1v-1h-5v1h-1v-1h-11v1h-1v-1h-3v1h-2v-1h-11v2h-1v-1h-1v-1h-16v1h-1v-1h-1v1h-1v-1h-8v1h-1v-1h-3v1h-1v-1h-2v1h-1v-1h-4v1h-1v-1h-2v1h-1v-1h-2v1h-1v-1h-3v2h-2v-2h-2v2h-1v-2h-7v1h-1v-1h-8v1h-1v-1h-3v2h-1v-1h-1v-1h-6v2h-1v-2h-2z"/>
<path fill="#000000" d="M50 502h3v-1h1v1h7v-1h2v1h3v-2h1v1h1v1h18v-1h1v1h4v-1h1v1h1v-1h2v1h9v-1h1v1h4v-1h1v1h12v-1h1v-1h1v2h1v-1h1v1h2v-2h1v2h14v-1h2v1h1v-1h1v1h11v-1h1v1h1v-1h2v1h5v-1h1v1h16v-1h1v1h1v-1h1v1h3v-1h1v1h5v-1h1v1h6v-1h2v1h2v-1h1v1h6v-1h1v1h1v-1h1v1h2v-1h1v1h3v-1h1v1h1v-1h1v1h4v-1h1v1h1v-1h1v1h2v-1h1v1h6v-1h1v-1h1v1h1v-2h1v-3h1v1h1v2h1v2h1v-1h1v-5h1v5h1v-1h1v3h1v-3h1v3h1v-1h1v1h1v-1h1v1h3v-1h1v1h3v-1h1v1h8v1h2v-1h2v-1h1v1h2v-1h1v1h15v-1h1v1h6v-1h1v1h14v-1h1v1h5v-2h1v2h6v-1h1v1h11v-1h1v1h1v-1h1v1h2v-1h1v1h2v-2h1v2h3v-1h1v1h2v-1h2v1h3v-1h1v1h2v-2h1v2h1v-1h1v1h9v-8h1v8h1v-4h1v4h3v-1h1v1h1v-2h1v2h3v-1h1v1h4v-1h1v1h1v-1h1v1h15v-1h2v1h3v-1h1v1h1v-1h1v1h9v-1h1v1h3v-1h1v1h5v-1h1v1h12v-2h1v1h2v1h3v-4h1v4h4v-1h5v1h3v-1h1v-1h1v2h1v-1h1v1h1v-1h1v1h13v-1h1v1h2v-1h4v1h4v-1h2v1h13v-1h2v1h5v1h3v-1h4v-1h1v1h1v-1h1v1h2v-1h1v1h1v-1h1v1h2v-1h1v1h3v-1h1v-1h1v1h2v1h3v-1h1v1h4v-1h1v1h3v-2h1v1h2v1h1v-1h1v1h4v-1h2v1h9v-1h1v1h15v-1h1v-1h1v2h7v-1h1v1h19v-1h1v1h10v-1h1v1h3v-1h1v1h7v-1h1v1h3v-1h1v1h10v-1h1v1h1v-1h2v1h4v-1h1v1h3v-1h1v1h5v-1h1v1h6v-1h1v1h15v-1h1v1h21v-1h2v1h6v-1h1v1h2v-1h1v1h13v-1h2v1h3v1h3v-1h1v1h3v-1h1v-1h1v1h2v-1h1v1h1v-1h1v1h1v-1h1v1h2v-1h1v1h3v-1h1v1h3v-1h3v1h5v-1h2v1h8v-1h4v1h5v-1h1v1h16v-1h1v1h2v-1h1v1h1v-1h1v1h15v-1h1v1h6v-1h1v1h7v-2h1v2h1v-2h1v2h6v-1h1v1h5v-1h1v1h7v-1h1v1h3v-1h1v1h2v-1h1v1h4v-1h1v1h4v-1h1v1h1v-1h1v1h6v-1h4v1h1v-1h1v1h3v-2h1v1h2v1h1v-1h1v1h1v-1h1v1h9v-1h1v1h1v-1h1v1h2v1h2v-1h19v-1h1v1h2v-1h1v1h21v-1h1v1h1v-1h1v1h3v-1h1v1h1v-2h1v2h7v-1h1v1h3v1h3v-1h7v-1h1v1h1v-1h1v1h1v-1h1v1h5v-1h2v1h4v-1h1v1h6v-1h2v1h1v-1h1v1h4v-1h1v1h3v-1h2v1h2v-1h1v1h3v-2h1v2h1v-1h1v1h5v-1h1v1h3v-1h1v1h4v1h3v-1h1v1h2v-1h4v-1h2v1h6v-1h1v1h8v-1h1v1h7v-1h1v1h10v-1h1v1h1v-2h1v1h1v1h2v-1h1v1h7v-1h3v-1h2v2h16v-2h1v2h2v-1h1v1h4v-1h1v1h1v-2h1v2h12v-1h1v1h10v1h3v-1h1v1h1v-1h7v-1h1v1h1v-1h1v1h26v-1h1v1h12v-1h2v1h5v-1h1v1h2v-1h1v1h8v-1h1v1h2v-1h1v1h15v-1h1v-1h1v2h4v-1h1v1h8v-1h1v1h1v-1h1v1h1v-1h1v1h13v-1h1v1h14v-1h1v1h4v-1h3v2h2v-1h2v1h1v-1h20v-1h1v1h22v1h1v-1h3v-1h1v1h13v-2h1v2h4v-1h1v1h3v-1h1v1h3v-2h1v1h7v2h3v-2h1v1h16v-2h1v2h1v-1h1v1h1v-1h1v1h1v-1h1v1h1v-2h1v2h11v-1h1v1h3v-1h1v1h15v2h-5v1h-1v-1h-12v1h-1v-1h-4v1h-1v-1h-3v1h-1v-1h-4v1h-1v-1h-1v1h-1v-1h-3v1h-1v-1h-2v2h-1v-2h-1v1h-2v1h-1v-2h-1v1h-1v-1h-2v1h-1v-1h-1v1h-1v1h-1v-2h-3v1h-1v1h-1v-1h-1v-2h-5v1h-1v-1h-2v2h-1v-1h-5v1h-1v-1h-12v1h-1v-1h-3v1h-1v-1h-5v1h-2v-1h-5v1h-1v1h-1v-2h-32v1h-1v-1h-3v1h-5v-1h-4v1h-1v-1h-6v1h-4v-1h-1v2h-2v-2h-6v1h-1v-1h-4v1h-1v-1h-2v1h-1v-1h-6v1h-1v-1h-1v2h-1v-2h-1v1h-1v-1h-7v1h-1v-1h-8v1h-1v-1h-5v1h-1v-1h-6v2h-1v-2h-1v1h-1v-1h-6v1h-1v-1h-11v1h-2v-1h-6v1h-2v-1h-2v1h-1v-1h-5v1h-2v-1h-2v1h-2v-1h-7v1h-1v-1h-2v1h-1v-1h-3v1h-2v-1h-7v1h-5v1h-1v-1h-4v-1h-1v1h-3v-1h-1v1h-1v-1h-7v1h-1v-1h-8v1h-1v-1h-1v1h-1v-1h-3v1h-2v-1h-2v2h-1v-1h-1v-1h-1v1h-2v-1h-8v1h-1v-1h-2v-1h-3v2h-2v-1h-1v1h-1v-1h-6v1h-2v-1h-5v1h-1v-1h-12v1h-1v-1h-10v1h-2v-1h-6v1h-1v-1h-4v1h-3v1h-1v-1h-3v-1h-1v1h-1v-1h-5v1h-3v-1h-7v1h-1v-1h-8v1h-2v1h-1v-1h-1v-1h-1v1h-1v-1h-2v1h-1v-1h-12v1h-1v-1h-1v2h-1v-2h-1v1h-2v-1h-14v1h-3v-1h-2v1h-4v-1h-5v1h-3v-1h-5v1h-1v-1h-7v1h-1v-1h-4v1h-1v-1h-3v1h-3v-1h-5v1h-1v-1h-2v1h-2v-1h-6v1h-1v-1h-8v2h-1v-1h-1v-1h-1v1h-2v-1h-1v1h-1v-1h-3v1h-2v-1h-1v1h-1v-1h-6v1h-2v-1h-4v1h-2v-1h-3v1h-2v-1h-9v2h-1v-2h-11v1h-1v-1h-1v2h-1v-2h-2v1h-1v-1h-2v1h-1v-1h-18v1h-1v-1h-5v1h-1v-1h-4v1h-1v-1h-1v2h-1v-2h-9v1h-1v-1h-1v1h-1v-1h-3v2h-1v-1h-1v-1h-5v1h-2v-1h-1v1h-1v-1h-8v1h-1v-1h-3v2h-1v-2h-3v1h-1v-1h-1v1h-1v-1h-5v1h-1v1h-1v-2h-6v1h-1v-1h-3v1h-1v-1h-1v1h-1v-1h-1v1h-1v-1h-1v1h-1v-1h-3v1h-1v-1h-7v2h-1v-2h-1v1h-1v-1h-2v1h-1v1h-2v-1h-4v-1h-2v1h-1v-1h-4v2h-1v-1h-2v-1h-4v1h-1v-1h-8v1h-1v-1h-3v1h-1v-1h-2v1h-1v-1h-2v2h-1v-2h-11v1h-1v-1h-11v1h-1v-1h-1v1h-1v-1h-11v1h-2v-1h-1v2h-1v-2h-1v1h-1v-1h-2v1h-1v-1h-1v1h-1v-1h-4v1h-2v-1h-2v2h-1v-1h-2v-1h-2v1h-1v-1h-3v1h-1v-1h-5v1h-1v-1h-10v1h-1v1h-1v-2h-4v1h-1v-1h-7v1h-1v-1h-1v1h-1v-1h-9v1h-1v-1h-9v1h-2v-1h-1v1h-1v-1h-1v1h-1v-2h-2v2h-1v-1h-4v1h-3v-1h-1v1h-2v-1h-4v1h-1v-1h-2v1h-1v-1h-12v2h-1v-2h-1v-1h-1v1h-1v-1h-1v1h-3v1h-1v-1h-3v1h-1v-1h-3v2h-1v-1h-1v-1h-3v1h-2v-1h-2v1h-1v-1h-1v1h-1v-1h-5v1h-1v-1h-4v1h-5v-1h-10v1h-2v-1h-4v1h-1v-1h-14v1h-1v-1h-1v1h-2v-1h-7v2h-1v-1h-1v-1h-1v1h-1v1h-1v-2h-2v9h-1v-9h-3v1h-3v1h-2v-1h-3v-1h-2v2h-2v-2h-2v2h-2v-1h-1v-1h-2v1h-1v-1h-2v1h-1v-1h-1v2h-1v-2h-13v1h-1v-1h-3v1h-2v-1h-4v1h-1v-1h-5v1h-2v-1h-1v1h-2v-1h-2v1h-1v-1h-1v1h-1v-1h-3v1h-1v-1h-1v1h-1v-1h-8v1h-1v-1h-5v1h-1v-1h-4v5h-1v-5h-1v4h-1v-4h-1v1h-1v-1h-2v1h-3v-1h-4v1h-1v-1h-4v1h-1v-1h-1v-1h-2v1h-1v1h-2v-1h-1v1h-1v-1h-5v1h-1v-1h-4v1h-1v-1h-2v1h-1v-1h-1v1h-1v-1h-4v1h-2v-1h-7v1h-1v-1h-11v1h-2v-1h-9v1h-2v-1h-13v1h-1v-1h-4v1h-1v-1h-1v1h-2v1h-1v-1h-2v2h-1v-3h-3v1h-1v-1h-9v1h-1v-1h-1v2h-2v1h-2v-3h-1v3h-1v-1h-1v2h-1v-2h-4v2h-3v-2h-1v3h-1v-5h-19v1h-1v-1h-5v1h-1v1h-1v-2h-3v1h-1v1h-1v-1h-1v-1h-10v1h-1v-1h-4v1h-1v-1h-6v1h-2v-1h-5v1h-1v-1h-5v1h-1v-1h-1v1h-3v-1h-13v1h-1v-1h-1v1h-1v-1h-7v1h-1v-1h-2v1h-1v-1h-3v2h-1v-2h-1v1h-1v-1h-1v1h-1v-1h-3v1h-1v-1h-2v1h-1v-1h-3v1h-1v-1h-9v1h-2v-1h-2v1h-2v-1h-2v1h-1v-1h-8v1h-1v-1h-1v1h-1v-1h-7v1h-1v-1h-2v1h-1v-1h-5v1h-2v-1h-2v1h-1v-1h-1v1h-2v-1h-5v1h-1v-1h-6v1h-3v-1h-3v1h-1v1h-1v-2h-1v1h-1z"/>
<path fill="#ff0000" d="M50 532h4v-1h1v1h3v-1h1v1h4v-1h1v1h4v-1h1v1h3v-1h1v1h4v-1h1v1h5v-1h1v1h5v-1h1v1h8v-1h1v1h7v-1h1v1h2v-1h1v1h3v-1h1v1h3v-1h5v1h2v-1h2v1h2v-1h1v1h3v-1h1v1h2v-1h1v1h1v-1h1v1h11v-1h2v1h4v-1h2v1h1v-1h1v1h5v-1h1v1h14v-1h2v1h4v-1h1v1h2v-1h1v1h2v-1h1v1h3v-1h1v1h4v-1h1v1h5v-1h1v1h4v-1h1v1h3v-1h1v1h5v-1h1v1h2v-1h1v1h16v-1h2v1h4v-1h1v1h2v-1h1v1h5v-1h1v1h2v-2h1v2h1v-2h1v2h1v-1h3v1h4v-1h1v1h7v-1h1v1h8v-1h1v1h14v-1h1v1h27v-1h1v1h14v-1h1v1h1v-1h2v1h13v-1h3v-1h1v1h2v1h7v-1h1v1h5v-1h1v1h2v-1h1v1h3v-1h1v1h6v-1h1v1h7v-1h1v1h3v-1h1v1h4v1h2v-1h2v-1h1v1h4v-1h1v1h4v-2h1v1h4v1h5v-1h1v1h5v-1h1v1h5v-1h2v1h7v-1h1v1h6v-1h1v1h2v-1h1v1h1v-1h2v1h1v-1h1v2h2v-1h1v1h2v-2h1v1h4v-1h1v1h16v-1h1v1h1v1h3v-1h2v1h1v-1h6v-1h1v1h4v-1h1v1h2v-1h1v1h4v-2h2v2h6v-1h1v1h1v-1h1v1h8v-2h1v1h1v1h4v-1h1v1h7v-1h1v1h3v-1h1v1h12v-1h1v1h7v-2h1v1h1v1h3v-1h1v1h5v-1h1v1h16v-1h1v1h6v-1h1v1h15v-2h1v2h14v-1h1v1h5v-1h1v1h19v-1h1v1h15v-1h1v1h5v-1h1v1h6v-1h1v1h8v-2h1v2h16v-1h1v1h9v-1h1v1h27v-1h1v1h6v-1h1v1h8v-1h1v1h7v-1h1v1h10v-1h1v-1h1v2h3v-2h1v2h4v-1h1v1h14v-1h1v2h5v-2h2v-1h1v1h2v-1h1v3h6v-2h1v1h3v-1h1v1h9v-1h1v1h3v-1h1v1h11v-1h1v1h6v-1h2v1h6v-1h1v1h3v-1h1v1h3v-1h1v1h1v-2h1v2h7v-1h1v1h1v-4h1v4h2v-1h1v1h3v-2h1v1h1v-2h1v3h3v-27h1v13h1v11h1v3h3v-4h1v4h1v-2h1v2h2v-4h1v4h1v-1h2v1h5v-1h1v-6h1v-20h1v-32h1v-50h1v60h1v18h1v-6h1v-2h1v26h1v-10h1v-16h1v20h1v-14h1v22h1v-1h1v2h1v-15h1v-34h1v44h1v-23h1v11h1v-12h1v23h1v-55h1v52h1v-34h1v16h1v7h1v12h1v-14h1v-2h1v18h1v4h1v3h1v5h2v-1h1v1h1v3h1v-5h1v1h1v-2h1v4h2v2h1v-2h1v2h1v-1h1v2h2v-1h1v-1h1v1h2v-1h2v3h1v-1h3v-2h1v1h1v1h1v-1h1v1h2v-1h1v1h7v-1h2v1h9v-1h1v-1h1v2h2v-1h1v1h6v-1h1v1h5v-1h1v1h2v-1h2v1h2v-1h1v1h3v-1h2v1h5v-1h1v-1h1v2h1v-2h1v1h1v1h7v-1h1v1h1v-2h1v2h1v-1h1v2h4v-1h1v1h2v-1h2v-1h2v1h9v1h3v-1h2v-1h1v1h1v-2h1v1h1v1h5v-1h1v1h1v-1h1v1h5v-1h1v1h3v-1h1v1h2v-1h1v1h1v-1h1v1h4v-1h1v1h4v-1h1v1h2v-1h1v1h2v-1h2v1h1v-1h1v1h3v-1h1v1h7v-1h1v1h1v-1h1v1h9v-1h1v1h10v-1h1v1h6v-1h2v1h6v-1h1v1h2v-1h1v1h9v-1h1v1h16v-1h1v1h15v-1h1v1h3v-1h2v1h15v-1h2v-1h1v2h7v-1h2v1h3v-2h1v2h4v-1h1v1h4v-1h2v1h4v-1h1v1h7v-1h1v1h1v-1h1v1h1v-1h1v1h15v-1h1v1h3v-1h1v1h1v-1h1v1h8v-1h2v1h19v-1h1v1h5v-1h1v1h2v-1h2v1h6v-1h2v1h7v-1h2v1h1v-1h1v1h1v-1h1v1h29v-1h1v1h1v-1h1v1h1v-1h1v1h2v-1h1v1h8v1h5v-1h13v-1h1v1h3v-1h1v1h7v-1h1v1h5v-1h1v1h7v-1h1v1h3v2h-1v1h-1v-1h-4v1h-1v-1h-3v1h-2v-1h-3v1h-1v-1h-5v2h-1v-1h-1v-1h-1v2h-1v-2h-4v1h-2v-1h-3v1h-1v-1h-5v1h-2v-1h-1v1h-1v1h-1v-1h-3v-1h-2v1h-1v-1h-1v1h-1v-1h-2v1h-1v-1h-1v2h-1v-2h-5v1h-1v-1h-2v1h-1v-1h-19v1h-1v-1h-2v2h-1v-2h-5v2h-1v-2h-10v1h-1v-1h-3v1h-1v-1h-3v1h-1v-1h-6v1h-1v-1h-2v1h-2v-1h-6v1h-1v-1h-7v2h-1v-1h-1v-1h-2v2h-2v-2h-3v1h-1v-1h-2v1h-1v-1h-1v1h-2v-1h-1v1h-1v-1h-1v2h-1v-2h-4v1h-1v-1h-2v1h-1v-1h-8v1h-1v-1h-4v1h-1v-1h-15v1h-1v-1h-4v2h-1v-2h-15v1h-1v-1h-8v1h-1v-1h-3v2h-1v-2h-8v2h-1v-2h-1v1h-1v-1h-3v2h-1v-2h-3v1h-1v-1h-5v1h-1v-1h-6v1h-1v-1h-2v1h-1v-1h-2v1h-1v-1h-7v1h-2v-1h-1v1h-1v-1h-2v1h-1v-1h-6v1h-1v-1h-6v1h-1v-1h-2v1h-1v-1h-4v1h-1v-1h-5v1h-1v-1h-1v1h-1v-1h-1v2h-1v-2h-16v1h-1v-1h-4v1h-3v-1h-4v1h-1v-1h-2v1h-1v-1h-7v1h-2v-1h-1v1h-1v-1h-1v1h-1v-1h-3v1h-1v-1h-6v1h-1v1h-1v-2h-6v1h-1v-1h-2v1h-1v-1h-1v1h-3v-1h-1v1h-1v-1h-4v2h-1v-2h-3v1h-1v-1h-2v1h-3v2h-1v-2h-2v2h-2v-3h-7v1h-1v-1h-1v3h-4v-3h-1v1h-2v-1h-2v1h-1v1h-1v-2h-1v2h-1v-1h-3v-1h-1v1h-1v1h-1v1h-1v-2h-1v-1h-3v1h-1v-1h-11v1h-1v-1h-1v1h-1v-1h-2v1h-1v-1h-8v1h-2v-1h-1v1h-1v-1h-7v1h-3v1h-1v-2h-1v2h-1v-2h-1v1h-3v2h-2v2h-1v-4h-2v-1h-1v2h-1v1h-1v-3h-1v5h-1v-2h-1v-1h-1v1h-2v5h-1v-4h-1v-1h-2v7h-1v-6h-1v1h-3v13h-1v-10h-1v2h-1v2h-1v4h-1v50h-1v-40h-1v40h-1v-52h-1v16h-1v-19h-1v55h-1v-51h-1v-6h-1v-1h-1v12h-1v-5h-1v-3h-1v-4h-1v6h-2v11h-1v50h-1v-63h-1v6h-1v-4h-1v9h-1v-2h-1v67h-1v19h-1v-7h-1v-81h-1v-17h-1v-1h-2v2h-1v1h-1v-4h-2v1h-1v-1h-1v1h-1v2h-1v2h-1v-4h-1v-1h-1v3h-1v-2h-2v-1h-1v1h-1v2h-1v5h-1v3h-1v-10h-2v1h-2v1h-1v-1h-1v-1h-1v2h-1v-2h-1v3h-1v-4h-2v10h-1v-9h-3v1h-2v-2h-1v2h-1v-2h-2v1h-1v-1h-1v1h-1v1h-1v-2h-1v2h-1v-2h-1v1h-1v-1h-4v1h-1v1h-1v-2h-1v1h-1v-1h-4v1h-1v-1h-10v1h-1v-1h-1v1h-1v-1h-8v1h-1v-1h-1v1h-1v-1h-1v1h-1v-1h-2v1h-4v-1h-3v1h-6v-2h-4v1h-1v-1h-1v2h-2v1h-1v-1h-4v-1h-2v1h-1v1h-1v-2h-5v1h-1v-1h-8v1h-1v-1h-2v1h-1v-1h-6v1h-1v-1h-11v2h-1v-2h-1v1h-1v-1h-1v1h-1v-1h-17v1h-2v-1h-8v1h-1v-1h-5v1h-1v-1h-4v1h-1v-1h-1v1h-2v-1h-24v1h-1v-1h-4v1h-1v-1h-1v1h-1v-1h-12v1h-1v-1h-4v2h-1v-2h-10v1h-1v-1h-1v1h-1v-1h-3v1h-3v-1h-3v1h-1v-1h-1v1h-1v-1h-8v1h-1v-1h-1v1h-2v-1h-7v1h-1v-1h-2v1h-1v-1h-5v1h-1v-1h-18v1h-1v-1h-3v1h-1v-1h-13v2h-1v-2h-1v1h-3v-1h-1v1h-1v-1h-3v1h-1v-1h-1v1h-1v-1h-4v1h-2v-1h-1v2h-1v-2h-2v1h-1v-1h-1v1h-1v-1h-7v2h-1v-2h-4v1h-2v-1h-3v1h-1v-1h-1v1h-1v-1h-2v1h-1v-1h-2v1h-1v-1h-7v1h-1v-1h-1v1h-1v-1h-2v1h-1v-1h-1v1h-1v-1h-3v1h-1v-1h-2v2h-1v-2h-5v2h-1v-2h-2v1h-1v-1h-2v1h-1v-1h-1v1h-1v-1h-1v1h-1v-1h-3v2h-3v-1h-4v-1h-1v2h-1v-2h-6v1h-1v-1h-3v2h-1v-1h-1v-1h-4v1h-1v-1h-1v1h-1v-1h-3v1h-2v1h-1v-1h-4v-1h-9v2h-1v-2h-2v1h-1v-1h-3v1h-1v1h-1v-2h-2v1h-1v-1h-14v2h-1v-2h-4v-1h-2v1h-1v-1h-2v2h-1v-1h-5v1h-1v-1h-5v3h-1v-2h-1v-1h-3v1h-1v-1h-1v1h-1v-1h-1v1h-1v-1h-5v1h-2v-1h-1v1h-1v-1h-2v1h-1v-1h-6v1h-1v-1h-3v1h-1v-1h-3v1h-1v-1h-1v1h-2v-1h-1v1h-1v-1h-5v1h-1v-1h-1v-1h-3v1h-1v1h-2v-1h-3v1h-1v-1h-1v1h-2v-1h-3v-1h-2v1h-11v1h-1v-1h-2v1h-2v-1h-4v1h-1v-1h-8v1h-1v-1h-1v1h-1v-1h-2v1h-1v-1h-1v1h-1v-1h-3v1h-3v-1h-1v1h-2v-1h-3v1h-1v-1h-8v1h-1v-1h-2v1h-1v-1h-12v2h-1v-2h-1v1h-1v-1h-1v1h-1v-1h-1v1h-1v-1h-1v1h-3v-1h-2v1h-1v-1h-3v1h-2v-1h-18v1h-1v-1h-5v1h-1v-1h-1v2h-1v-2h-2v1h-1v-1h-4v1h-1v-1h-4v1h-1v-1h-16v2h-1v-2h-9v1h-1v-1h-5v1h-2v-1h-2v1h-1v-1h-2v1h-2v-1h-3v1h-1v-1h-1v1h-1v-1h-4v1h-1v-1h-1v2h-1v-2h-1v1h-1v-1h-6v1h-1v-1h-9v1h-1v-1h-15v1h-1v-1h-3v-1h-3v1h-1v-1h-1v1h-2v1h-1v1h-1v-2h-13v2h-1v-2h-5v1h-1v-1h-3v2h-1v-1h-1v-1h-4v2h-1v-1h-1v-1h-4v1h-2v-1h-2v1h-1v-1h-4v1h-2v-1h-2v1h-1v-1h-4v1h-1v-1h-1v1h-1v-1h-3v1h-3v-1h-1z"/>
<path fill="#0000ff" d="M50 562h8v-2h1v1h1v1h1v-1h2v1h3v-1h2v-1h1v1h1v1h1v-1h3v1h12v-1h2v1h1v-1h1v1h2v-1h1v1h2v-1h1v1h1v-1h1v1h1v-1h4v-1h1v2h6v-1h1v1h4v-1h1v1h3v-1h2v1h1v-1h1v1h7v-1h1v1h5v-1h1v1h4v-1h1v1h10v-1h1v1h7v-1h1v1h2v-1h1v1h3v-2h1v2h5v-1h2v1h2v-1h2v1h7v-1h1v1h2v-1h1v1h5v-1h1v1h5v-1h3v-1h1v1h1v-1h2v2h32v-1h1v1h31v-1h1v1h19v-2h1v2h3v-1h1v1h1v-1h1v1h5v-2h1v2h2v-1h1v1h4v-1h1v1h4v-1h1v1h2v-1h1v1h4v1h1v-1h1v1h3v-2h7v1h1v-1h2v1h4v-1h1v1h1v-1h1v1h12v-1h1v1h8v-2h1v1h2v1h2v-1h1v1h1v-1h1v-1h1v2h9v-1h1v1h7v-1h1v1h13v-1h1v1h3v-2h1v2h1v-1h1v1h5v-1h1v1h11v1h6v-2h1v1h1v-1h1v1h6v-1h1v1h9v-1h1v1h5v-2h1v2h8v-1h1v1h8v-1h1v1h5v-1h1v1h10v-1h5v1h6v-1h1v1h5v-1h1v1h3v-1h1v1h3v-2h1v1h1v1h19v-1h1v1h6v1h5v-1h15v-1h1v1h3v-2h1v1h1v1h9v-1h1v1h10v-1h3v1h4v-1h1v1h16v-1h1v1h1v-1h5v1h1v1h1v-1h27v-1h1v1h2v-1h2v1h3v-1h2v1h7v-1h1v1h29v-2h1v2h11v1h3v-1h41v-1h1v1h10v-1h2v1h7v-1h1v1h10v-1h1v1h3v-1h4v-1h1v2h10v-1h1v1h10v-1h4v1h11v-1h3v1h5v-1h1v1h15v-1h1v1h20v-1h1v1h5v-1h1v1h2v-1h1v1h1v-1h1v1h10v-1h2v1h2v-1h1v1h12v-1h1v1h2v-1h1v1h1v-1h1v1h14v-1h1v1h6v-1h1v1h3v-1h1v1h5v-1h2v1h11v-1h1v1h5v-2h1v2h7v-1h1v1h10v-1h1v1h6v-1h1v1h1v-1h1v1h3v-1h1v1h5v-1h1v1h1v-2h1v1h6v-1h1v1h4v1h15v-1h1v1h17v-1h1v1h17v-1h1v1h6v-2h1v2h3v-1h1v1h8v-1h1v1h3v-1h1v1h1v-1h1v1h1v-1h1v1h13v-1h1v1h21v-1h3v1h2v-1h2v1h4v-1h1v1h8v-2h1v2h4v-2h1v2h11v-1h1v1h3v-1h1v1h4v-2h1v2h5v-1h1v1h5v-1h1v1h2v-2h1v2h11v-1h1v1h2v-1h1v1h5v-1h1v1h4v-1h1v1h17v-1h1v1h1v-1h1v1h7v-2h2v2h1v-1h3v1h1v-2h3v2h3v-2h2v1h1v1h2v-2h1v1h2v-8h1v9h4v-2h2v2h1v-2h1v2h2v-1h2v1h1v-4h1v1h1v2h1v-2h1v3h3v-1h1v1h1v-1h1v1h2v-3h1v2h1v-2h1v3h1v-3h1v3h2v-1h1v-2h1v2h3v1h1v-3h1v3h4v-2h1v2h1v-2h1v2h1v-1h1v1h2v-2h1v2h1v-1h1v1h3v-2h1v1h1v1h1v-1h2v1h2v-1h1v1h1v-7h1v6h1v1h1v-3h1v-1h1v1h1v2h1v1h1v-2h1v1h2v-2h1v1h1v2h8v-2h1v1h1v-4h1v5h2v-2h1v1h1v-1h1v2h1v-1h1v1h1v-2h1v2h3v-1h3v-1h1v2h1v-2h1v1h1v1h4v-2h1v2h1v-2h1v2h1v-1h2v1h1v-1h1v1h5v-1h1v1h3v-1h1v1h1v-1h1v1h3v-1h1v-1h1v2h4v-1h1v1h2v-2h1v2h2v-1h1v1h2v-1h2v1h1v-1h3v1h5v-1h1v1h1v1h3v-2h3v-1h1v1h2v-1h1v3h1v-1h1v-2h1v2h2v-1h2v1h2v-1h1v1h2v-1h1v1h2v-1h1v1h2v-1h1v1h1v-1h1v1h13v-1h4v2h-3v1h-2v2h-1v-2h-4v1h-2v1h-2v-2h-1v1h-1v1h-4v-2h-2v1h-1v1h-1v-1h-1v1h-2v-2h-2v1h-1v1h-2v-1h-3v1h-3v-1h-2v-1h-1v1h-1v-1h-3v2h-1v-1h-5v1h-1v-1h-3v1h-2v-2h-3v2h-1v-2h-1v1h-1v-1h-2v1h-1v-1h-4v2h-1v-1h-1v-1h-1v1h-3v-1h-1v1h-1v1h-1v-1h-1v-1h-1v1h-1v-1h-1v1h-1v1h-3v-1h-2v-1h-4v2h-2v-2h-2v1h-1v1h-1v-2h-1v2h-2v-1h-2v1h-2v-1h-1v-1h-1v1h-6v1h-1v-1h-1v-1h-1v2h-1v-1h-4v2h-1v-2h-2v1h-1v1h-1v-3h-1v2h-1v-1h-1v-1h-2v3h-1v-3h-2v2h-1v1h-1v-2h-1v1h-1v4h-1v-4h-1v4h-1v-2h-1v-4h-1v2h-1v2h-1v-1h-2v-1h-1v2h-1v-3h-1v-1h-3v3h-2v-3h-1v1h-1v-1h-1v1h-1v1h-2v-2h-3v3h-1v-3h-1v1h-1v2h-1v-3h-1v1h-1v1h-1v-1h-1v-1h-1v1h-1v1h-1v-2h-1v3h-1v-3h-2v1h-1v1h-1v1h-2v1h-1v-2h-1v-2h-1v2h-1v-2h-5v3h-1v-1h-1v-1h-2v2h-1v-2h-1v2h-1v-1h-2v-1h-2v-1h-1v2h-1v1h-1v-1h-2v-1h-1v2h-3v-2h-1v11h-1v-10h-1v-2h-1v1h-5v-1h-1v1h-1v-1h-1v1h-1v-1h-1v1h-1v-1h-1v1h-1v1h-1v-1h-1v-1h-5v2h-1v-2h-6v1h-1v-1h-5v1h-1v-1h-12v1h-1v-1h-5v2h-1v-2h-1v2h-1v-2h-6v1h-2v-1h-1v1h-1v-1h-5v1h-1v-1h-11v1h-1v-1h-2v1h-1v-1h-7v1h-1v-1h-1v1h-3v-1h-1v2h-1v-1h-1v-1h-5v1h-1v-1h-1v2h-1v-1h-3v-1h-1v1h-1v-1h-4v1h-2v-1h-2v1h-1v-1h-1v1h-1v-1h-5v1h-2v-1h-8v1h-1v-1h-2v2h-1v-2h-4v1h-1v-1h-3v1h-2v-1h-14v1h-1v-1h-17v1h-1v-1h-6v1h-1v-1h-4v1h-3v-1h-6v2h-1v-2h-3v1h-1v-1h-7v1h-1v-1h-2v1h-1v-1h-1v1h-3v1h-1v-2h-4v1h-1v-1h-4v1h-2v-1h-6v1h-1v-2h-11v1h-2v2h-1v-2h-12v1h-1v-1h-1v1h-2v-1h-3v1h-1v-1h-4v2h-1v-2h-3v1h-1v-1h-2v1h-1v-1h-1v1h-1v-1h-2v1h-1v-1h-3v1h-1v-1h-2v1h-1v-1h-5v1h-1v-1h-1v1h-1v-1h-1v1h-1v-1h-1v1h-1v-1h-7v1h-1v-1h-4v1h-1v-1h-1v1h-1v-1h-4v1h-1v-1h-2v1h-1v-1h-1v1h-1v-1h-2v1h-1v-1h-21v1h-1v-1h-2v1h-1v-1h-1v1h-1v-1h-6v1h-1v-1h-3v1h-1v-1h-3v1h-1v-1h-3v1h-1v-1h-1v1h-1v-1h-2v1h-1v-1h-11v1h-1v-1h-4v2h-1v-2h-3v2h-1v-2h-1v1h-1v-1h-3v1h-1v-1h-3v1h-1v-1h-6v1h-1v-1h-12v2h-1v-2h-3v1h-1v-1h-2v-1h-1v1h-1v1h-1v-1h-6v1h-1v-1h-3v1h-1v-1h-5v2h-1v-2h-3v-1h-4v1h-2v1h-2v-1h-4v2h-1v-2h-1v1h-1v-1h-1v1h-1v-1h-13v1h-1v-1h-10v1h-3v-1h-4v1h-1v-1h-1v1h-2v-1h-3v1h-2v1h-1v-1h-1v-1h-9v1h-1v1h-1v-2h-9v2h-1v-1h-1v1h-1v-1h-2v-1h-22v1h-1v-1h-8v2h-1v-1h-2v-1h-11v1h-1v-1h-3v1h-1v-1h-5v2h-1v-2h-5v1h-1v1h-1v-2h-6v1h-1v-1h-8v1h-4v-1h-1v2h-1v-2h-1v1h-2v-2h-5v1h-12v1h-2v-1h-3v1h-1v-1h-1v1h-1v-1h-3v1h-4v-1h-7v1h-1v-1h-1v1h-1v-1h-3v1h-1v-1h-2v2h-1v-2h-7v2h-1v-1h-1v-1h-12v2h-1v-2h-1v2h-1v-1h-4v-1h-4v1h-1v-1h-14v1h-2v-1h-6v1h-1v-1h-6v1h-1v-1h-5v1h-1v-1h-1v1h-1v-1h-2v1h-1v-1h-1v2h-1v-3h-5v1h-1v1h-1v-1h-10v1h-1v-1h-3v1h-3v-1h-9v1h-2v-1h-1v1h-1v-1h-6v1h-2v-1h-2v1h-1v-1h-6v1h-1v1h-1v-2h-5v1h-2v-1h-2v2h-1v-1h-5v-1h-5v1h-1v-1h-11v1h-1v-1h-1v2h-1v-2h-9v1h-1v-1h-5v1h-1v-1h-1v1h-2v-1h-4v1h-1v-1h-4v1h-2v-1h-1v1h-1v-1h-6v1h-1v-1h-3v1h-1v-1h-5v1h-1v-1h-3v1h-1v-1h-4v1h-1v-1h-3v2h-1v-1h-2v-1h-5v1h-2v-1h-4v1h-1v-2h-6v2h-3v1h-1v-1h-1v-1h-5v2h-1v-2h-13v1h-1v-1h-8v1h-1v-1h-4v1h-3v-1h-1v1h-1v-1h-8v1h-2v-1h-4v1h-3v-1h-1v1h-1v-1h-2v1h-2v-1h-1v2h-1v-2h-1v1h-1v-1h-8v1h-1v-1h-14v1h-2v-1h-4v1h-1v-1h-5v1h-1v-1h-2v1h-1v-1h-1v1h-1v-1h-3v1h-1v-1h-2v1h-1v-1h-5v-1h-2v1h-1v-1h-2v2h-2v-1h-6v1h-1v-1h-8v1h-1v-1h-1v1h-1v-1h-5v1h-1v-1h-2v2h-1v-2h-6v1h-1v-1h-6v1h-1v-1h-6v1h-1v-1h-3v1h-1v-1h-6v1h-3v-1h-5v1h-1v-1h-2v1h-1v-1h-3v1h-2v-1h-4v-1h-1v2h-1v-1h-5v2h-1v-2h-6v1h-2v-1h-2v-1h-2v1h-1v-1h-1v3h-1v-2h-1v1h-3v-1h-17v2h-1v-2h-2v1h-1v-1h-1v1h-1v-1h-4v1h-1v-1h-4v1h-1v-1h-3v1h-1v-1h-4v1h-1v-1h-2z"/>
<path fill="#006400" d="M50 591h1v1h1v-1h1v1h8v-1h1v1h7v-1h1v1h5v-1h1v1h1v-1h1v1h21v-1h1v1h2v-1h1v1h1v-1h1v1h10v-2h1v2h7v-1h1v1h5v-1h1v1h4v-2h1v2h4v-1h1v1h3v-1h1v1h8v-1h1v1h9v-1h1v1h14v-2h1v2h19v-2h1v2h6v-1h1v1h6v-1h2v1h7v-1h3v1h3v-1h1v1h8v-1h1v1h2v-1h1v1h14v-1h1v1h1v-1h1v1h5v-1h2v1h1v-1h3v1h18v-1h1v1h2v-1h1v1h8v-1h2v1h1v-1h2v1h4v-1h1v1h3v-1h1v1h8v-2h1v1h3v1h5v-1h3v-1h1v2h5v-1h1v1h24v-1h1v1h1v-1h2v1h9v-2h1v2h3v-2h1v1h3v1h3v-1h1v1h8v-1h1v1h3v-1h1v1h15v-1h1v1h10v-1h2v1h5v-1h1v1h15v1h5v-2h1v1h6v-1h2v1h5v-1h1v1h8v-1h1v1h2v-1h1v1h3v-1h1v1h2v-1h3v1h1v-1h1v1h4v-1h1v1h1v-1h1v1h4v-1h1v1h1v-1h1v1h1v-1h1v1h1v-1h1v1h9v-1h1v1h7v-1h1v1h3v-1h2v1h13v-1h3v1h6v-1h1v1h2v-1h1v1h1v-1h1v1h10v1h1v-1h1v1h3v-2h6v2h1v-1h1v1h4v-1h1v1h1v-1h12v-1h2v1h1v-1h1v1h10v-1h1v1h26v-1h1v1h7v-1h1v1h12v-1h1v1h6v-1h1v1h10v-1h1v1h3v-1h2v1h8v-1h1v1h8v-2h2v2h1v-1h1v1h3v-2h1v1h1v1h7v-1h1v-1h1v2h5v1h3v-1h16v-1h1v1h1v-2h1v2h1v-1h1v1h4v-1h1v1h13v-2h1v2h8v-1h2v1h4v-1h1v1h3v1h1v-1h8v-2h1v2h9v-2h2v1h2v-1h1v1h1v1h7v-1h1v1h3v-1h1v1h19v-1h1v1h1v-1h1v1h11v-1h1v1h2v-1h1v1h12v-2h1v2h7v-2h1v2h6v-1h1v1h1v-2h1v2h6v-1h1v1h3v-1h1v1h1v-1h1v1h5v-2h1v1h2v1h6v-1h1v1h2v-1h1v1h2v-2h1v2h2v-1h1v1h4v-1h1v1h9v-1h1v1h3v-1h2v1h2v-1h1v1h5v-1h1v1h2v-1h1v1h3v-1h1v1h11v-1h1v1h3v-2h1v2h3v-1h1v1h10v-1h1v1h1v1h4v-2h2v-1h1v2h1v-1h1v1h4v-1h1v-1h1v2h3v-1h1v1h1v-1h2v1h2v-1h1v1h5v-1h1v1h16v-1h1v1h8v-2h1v2h1v-1h1v1h1v-1h1v1h2v-1h1v1h4v-1h1v1h1v-1h1v1h5v-1h1v1h18v-1h1v1h8v-1h1v1h8v-1h2v1h7v-1h1v1h3v-2h1v1h1v1h12v-1h1v1h2v-1h2v1h1v-1h1v1h8v-1h1v1h3v-1h1v1h3v-1h1v1h3v-1h1v1h8v-1h1v1h2v-1h1v1h5v-1h1v1h5v-1h1v1h5v-1h1v-1h1v1h1v1h1v-1h1v1h12v-1h2v1h1v-1h1v1h2v-1h1v1h7v-1h1v1h1v-2h1v2h7v-1h1v1h18v-1h1v1h5v-1h1v1h14v-1h1v1h4v-1h1v1h4v-1h1v1h2v-2h1v2h6v-1h2v1h4v-1h1v1h8v-1h1v1h12v-1h1v1h5v-1h1v1h1v-1h1v1h4v-1h1v1h1v-2h1v2h3v-1h1v1h11v-1h3v1h7v-1h1v1h15v-1h2v1h5v-1h1v1h10v-1h1v1h5v-1h1v1h1v-1h1v1h8v-1h1v1h6v-1h1v1h2v-1h1v1h2v-1h1v1h6v-1h1v1h3v-1h1v1h3v-1h1v1h26v-2h1v2h1v-1h1v1h3v-1h2v1h5v-1h1v1h1v-2h1v2h4v2h-8v1h-1v-1h-3v1h-1v-1h-1v1h-1v-1h-2v1h-1v-1h-4v1h-1v-1h-4v1h-1v-1h-10v2h-1v-2h-2v1h-1v-1h-4v1h-1v-1h-6v2h-1v-1h-1v-1h-7v1h-2v-1h-7v1h-1v-1h-3v1h-1v-1h-2v1h-1v-1h-8v1h-1v-1h-1v1h-1v-1h-2v2h-1v-2h-12v1h-2v-1h-1v-1h-2v1h-5v1h-1v-1h-5v1h-1v-1h-1v1h-2v-1h-7v1h-2v-1h-1v1h-2v1h-1v-2h-5v1h-1v-1h-1v1h-1v-1h-4v1h-1v-1h-9v1h-1v-1h-1v1h-2v-1h-3v1h-1v-1h-5v1h-1v-1h-1v1h-1v-1h-2v1h-1v-1h-2v1h-1v-1h-7v1h-1v-1h-4v1h-1v-1h-5v1h-1v-1h-1v1h-1v-1h-2v1h-1v-1h-4v2h-1v-2h-3v1h-1v-1h-14v1h-1v-1h-3v1h-3v-1h-2v1h-4v-1h-1v1h-1v-1h-1v1h-3v-1h-2v1h-1v-1h-22v1h-1v-1h-6v1h-1v-1h-1v1h-1v-1h-2v1h-3v-1h-2v1h-1v-1h-5v1h-1v-1h-1v1h-1v1h-1v-2h-4v1h-1v-1h-3v1h-3v-1h-3v1h-1v-1h-2v1h-2v-1h-2v1h-1v-1h-3v1h-1v-1h-1v1h-2v-1h-2v1h-1v-1h-5v1h-1v-1h-7v1h-1v-1h-4v1h-1v-1h-11v1h-1v-1h-1v2h-1v-2h-3v2h-1v-2h-1v1h-1v-1h-9v1h-1v-1h-7v1h-1v-1h-1v1h-1v-1h-1v1h-1v-1h-5v1h-1v-1h-2v1h-2v-1h-5v2h-1v-2h-1v1h-1v-1h-3v1h-2v-1h-3v1h-3v-1h-3v2h-1v-2h-3v1h-1v-1h-2v1h-1v-1h-1v1h-2v-1h-3v2h-1v-1h-1v-1h-3v1h-1v-1h-8v1h-1v-1h-1v1h-1v-1h-1v1h-2v-1h-8v1h-1v-1h-2v1h-1v-1h-2v1h-1v-1h-2v1h-2v-1h-1v1h-1v-1h-1v1h-1v-1h-4v-1h-3v2h-1v1h-1v-1h-2v-1h-2v1h-1v-1h-25v1h-1v-1h-4v2h-1v-2h-1v1h-1v-1h-4v1h-1v-1h-1v2h-1v-2h-1v1h-1v-1h-13v1h-1v-1h-8v1h-1v-1h-10v1h-1v-1h-6v1h-5v-1h-16v1h-1v-1h-1v2h-1v-2h-3v1h-1v-1h-5v2h-1v-1h-1v-1h-4v1h-1v-1h-6v1h-1v-1h-2v1h-2v-1h-2v1h-1v-1h-1v1h-1v-1h-12v1h-1v-1h-4v2h-1v-2h-13v1h-1v-1h-3v1h-1v-1h-2v1h-1v-1h-1v1h-1v-1h-2v-1h-6v1h-4v1h-1v-1h-13v1h-2v-1h-1v2h-1v-2h-1v1h-1v-1h-4v1h-1v-1h-8v1h-2v-1h-1v1h-1v-1h-6v1h-1v-1h-1v1h-2v-1h-17v1h-1v-1h-6v1h-1v-1h-1v1h-3v-1h-3v2h-1v-2h-1v1h-1v-1h-1v1h-3v-1h-1v1h-2v-1h-5v1h-1v-1h-5v1h-2v-1h-11v2h-1v-2h-4v1h-1v-1h-1v1h-1v-1h-1v2h-1v-2h-3v2h-1v-2h-3v1h-1v-1h-5v1h-1v1h-1v-2h-2v1h-1v-1h-1v1h-1v-1h-12v1h-1v-1h-6v1h-1v1h-1v-1h-1v-1h-5v1h-1v-1h-3v1h-1v-1h-19v2h-1v-2h-10v2h-1v-2h-7v1h-8v1h-1v-3h-6v2h-2v1h-1v-1h-1v2h-1v-3h-5v1h-1v-1h-5v1h-1v-1h-1v1h-1v-1h-1v2h-1v-2h-7v1h-1v-1h-6v1h-2v-1h-8v2h-1v-2h-6v1h-1v1h-1v-1h-1v-1h-1v1h-1v-1h-11v1h-1v-1h-2v1h-1v-1h-6v1h-1v-1h-8v-1h-1v1h-4v1h-1v-1h-1v1h-1v-1h-2v1h-1v-1h-1v1h-1v-1h-9v1h-1v-1h-7v1h-1v-1h-2v1h-1v-1h-1v1h-1v1h-1v-1h-1v1h-2v-2h-9v1h-1v-1h-4v1h-1v-1h-4v1h-1v-1h-5v1h-1v-1h-4v1h-2v-1h-1v1h-1v-1h-5v2h-1v-2h-28v1h-1v-1h-3v1h-1v-1h-2v1h-1v-1h-9v1h-1v-1h-6v1h-1v-1h-1v1h-1v-1h-4v1h-1v-1h-2v1h-2v-1h-2v1h-2v-1h-3v1h-1v-1h-1v1h-2v-1h-2v1h-1v-1h-1v1h-1v-1h-7v-1h-3v1h-1v1h-1v-1h-7v1h-1v-1h-7v1h-2v-1h-7v1h-1v-1h-2v1h-1v-1h-1v1h-2v-1h-2v1h-1v-1h-7v1h-1v-1h-2v2h-1v-2h-5v1h-2v-1h-3v1h-2v-1h-3v1h-2v-1h-11v1h-1v-1h-7v1h-1v-1h-1v1h-1v-1h-2v1h-2v-1h-3v1h-1v-1h-2v1h-2v-1h-18v1h-1v-1h-4v1h-1v-1h-1v1h-1v-1h-9v1h-1v-1h-1v1h-1v-1h-6v1h-1v-1h-9v1h-1v-1h-8v1h-1v-1h-3v1h-2v-1h-7v1h-1v-1h-5v1h-1v-1h-12v2h-1v-2h-4v1h-1v-1h-1v1h-1v-1h-2v1h-1v-1h-1v2h-1v-2h-5v1h-1v-1h-5v1h-1v-1h-1v1h-1v-1h-1v1h-1v-1h-1v1h-1v-1h-11v2h-1v-2h-5v1h-1v-1h-2v1h-1v-1h-6v2h-1v-2h-4v1h-1v-1h-2v1h-1v-1h-5v1h-1v-1h-3z"/>
<path fill="#000000" d="M50 622h3v-1h1v1h15v-1h1v1h3v-1h1v1h5v-1h1v1h23v-2h1v2h10v-1h1v1h16v-1h1v1h1v-1h1v1h14v-2h1v2h20v-1h4v-1h3v1h1v1h2v-1h1v1h14v-2h1v2h9v-1h2v1h4v-2h1v2h2v-1h1v1h3v-1h1v1h2v-2h1v2h5v-2h1v2h1v-1h1v1h3v-1h2v1h15v-1h1v1h9v-1h1v1h11v-1h1v1h2v-1h1v1h5v-2h1v2h3v-1h1v1h7v-2h1v1h1v1h3v1h3v-1h1v1h1v-1h1v1h2v-1h10v-1h1v1h2v-1h3v1h6v-1h1v1h5v1h2v-1h1v-1h1v1h2v-1h1v1h11v1h2v-1h4v-1h1v1h4v-1h1v1h2v-2h1v2h3v-1h1v1h1v-1h1v1h6v-1h1v1h3v-2h1v2h1v-1h1v1h1v-1h1v1h2v-1h1v1h11v-1h1v1h2v-1h1v1h18v-1h1v1h4v-1h1v1h2v-1h1v1h1v-2h1v2h5v-1h1v1h12v-1h2v1h5v-1h1v1h9v-1h1v1h10v-1h2v1h5v1h1v-4h1v4h1v-1h1v1h2v-2h1v-3h1v1h1v-1h1v4h1v-1h1v-2h1v1h1v1h2v1h2v-2h1v2h3v-1h1v1h6v-1h1v1h1v-2h1v2h12v-1h1v1h4v-1h1v1h10v-1h1v1h9v1h3v-2h1v1h6v-2h1v2h4v-1h1v1h3v-1h1v1h5v-1h1v1h3v-1h2v1h6v1h3v-1h1v1h2v-2h1v1h1v-1h1v1h2v-1h1v1h15v-1h1v1h1v-1h1v1h9v-1h2v1h2v-1h2v1h7v-1h1v1h3v-1h2v1h6v-1h1v1h8v-1h1v1h10v-1h1v1h1v-2h1v2h1v-1h1v1h6v-1h2v1h3v-1h1v1h6v-1h1v1h1v-1h1v1h8v-1h1v1h8v1h3v-1h1v1h4v-2h2v1h4v-1h1v1h4v-1h1v1h6v-2h1v2h9v-1h1v1h4v-1h2v1h5v-1h1v1h5v-1h2v1h4v-1h2v1h1v-1h1v1h2v-2h1v2h1v-2h1v2h2v-1h1v1h12v-2h1v2h2v-2h1v2h3v-1h3v1h1v-2h1v2h8v-1h1v1h1v-1h1v1h6v-1h1v1h2v-1h1v1h2v-1h2v1h1v-1h1v1h10v-1h1v1h6v-1h2v1h1v-1h2v1h4v-2h1v1h1v1h2v-1h1v1h1v-1h2v-1h1v2h1v-2h1v2h4v-1h1v1h1v-1h2v1h3v-1h1v1h8v-1h1v1h3v-1h1v1h5v1h2v-1h1v1h1v-1h12v-1h1v1h6v-1h3v1h6v-2h1v2h2v-1h1v1h2v-1h1v1h4v-1h1v1h6v-1h1v1h2v-1h1v1h4v-1h1v1h4v1h7v-2h1v1h6v-1h1v1h8v-1h1v1h8v-1h1v1h2v-1h1v1h3v-1h1v1h3v-1h1v1h3v-1h1v1h5v-1h1v1h8v-1h1v1h7v-1h2v1h2v-1h1v1h1v-1h1v1h4v-1h1v1h10v-1h1v1h20v-1h1v1h5v-1h1v1h12v-1h1v1h5v-2h1v2h1v-1h1v1h11v-1h1v1h2v-1h2v1h3v-1h1v1h5v-1h1v1h4v-1h1v1h1v1h3v-2h1v1h7v-1h1v1h8v-1h1v1h1v-1h1v1h6v-1h2v1h5v-1h2v1h9v-2h1v2h1v-1h2v1h16v-1h1v1h13v-2h1v2h4v-1h1v1h8v-2h1v2h12v-2h1v2h3v-1h1v1h1v-1h3v1h7v-1h1v1h14v-1h1v1h6v-1h1v1h12v-1h2v1h13v-1h1v1h5v-1h2v1h13v-1h1v1h5v-1h1v2h3v-1h4v-1h1v1h8v-1h1v1h4v-1h1v2h1v-1h1v1h2v-1h14v-1h1v1h8v-1h1v1h9v-1h1v1h12v-1h1v1h5v-1h1v1h3v-1h1v1h1v-1h1v1h1v-1h2v1h9v-1h1v1h9v-1h1v1h12v-1h1v1h2v-2h1v2h2v-1h1v1h2v-2h1v2h1v-1h1v1h1v-1h1v1h8v2h-6v1h-1v-1h-10v1h-1v-1h-5v1h-1v-1h-3v1h-2v-1h-5v1h-1v-1h-6v1h-1v-1h-21v1h-1v-1h-4v1h-1v-1h-2v1h-1v-1h-2v1h-1v-1h-7v1h-1v-1h-2v1h-1v-1h-2v1h-1v-1h-3v1h-1v-1h-2v1h-1v-1h-1v1h-1v-1h-4v1h-1v-1h-7v1h-5v-1h-1v1h-3v1h-1v-2h-1v2h-1v-2h-1v1h-1v-1h-3v1h-1v-1h-2v1h-1v-1h-1v1h-1v-1h-2v1h-1v-1h-3v1h-2v1h-1v-2h-15v1h-1v-1h-4v1h-1v-1h-5v1h-1v-1h-8v1h-2v-1h-1v1h-2v-1h-10v1h-2v-1h-4v1h-1v-1h-3v1h-1v-1h-5v1h-1v-1h-1v1h-2v-1h-7v1h-1v-1h-1v1h-1v-1h-5v-1h-3v1h-1v2h-1v-1h-1v-1h-15v2h-1v-2h-1v2h-1v-2h-5v1h-1v-1h-8v1h-1v-1h-5v1h-1v-1h-7v2h-1v-2h-8v1h-1v-1h-2v1h-1v-1h-1v1h-1v-1h-6v1h-1v-1h-8v1h-1v-1h-2v1h-1v-1h-6v1h-1v-1h-1v1h-1v-1h-5v1h-1v-1h-4v1h-1v-1h-8v1h-3v-1h-1v1h-1v-1h-4v2h-1v-2h-5v1h-2v-1h-10v1h-2v-1h-2v1h-1v-1h-1v1h-1v-1h-1v1h-2v-1h-1v1h-1v-1h-1v1h-1v-1h-3v1h-1v-1h-5v1h-1v-1h-13v1h-1v-1h-3v1h-1v-1h-1v1h-1v-1h-5v2h-1v-2h-4v1h-1v-1h-6v1h-1v-1h-10v1h-1v-1h-1v1h-1v-1h-10v1h-1v-1h-2v1h-1v-1h-11v1h-2v-1h-1v1h-1v-1h-4v2h-1v-2h-2v2h-1v-2h-12v1h-1v-1h-2v1h-1v-1h-2v1h-1v-1h-11v1h-6v2h-1v-3h-1v1h-2v-1h-3v1h-2v-1h-6v1h-2v-1h-7v2h-1v-2h-4v1h-1v-1h-2v1h-2v-1h-2v1h-1v-1h-2v2h-1v-2h-19v3h-1v-2h-4v-1h-2v2h-1v-2h-1v2h-1v-2h-1v1h-1v-1h-5v1h-1v-1h-3v1h-3v-1h-10v1h-1v-1h-19v1h-1v-1h-1v1h-2v-1h-9v1h-1v-1h-3v2h-1v-2h-2v1h-1v-1h-9v1h-1v-1h-1v1h-1v-1h-2v1h-1v-1h-5v1h-1v-1h-3v1h-1v-1h-3v1h-1v-1h-3v2h-1v-1h-1v-1h-6v1h-1v-1h-1v1h-1v-1h-6v1h-1v-1h-1v1h-1v-1h-9v1h-2v-1h-7v1h-1v-1h-3v1h-1v-1h-4v1h-1v-1h-3v1h-1v-1h-4v1h-3v-1h-4v1h-1v-1h-1v1h-1v-1h-1v1h-2v-1h-3v1h-1v-1h-1v1h-1v-1h-5v1h-5v1h-2v-1h-1v-1h-7v1h-1v1h-1v-2h-7v1h-1v-1h-8v2h-1v-2h-2v1h-1v-1h-3v1h-1v-1h-3v1h-1v-1h-7v1h-1v-1h-16v1h-1v-1h-3v1h-1v1h-1v-2h-4v1h-1v-1h-4v1h-1v-1h-1v1h-1v-1h-2v1h-1v-1h-8v1h-1v-1h-2v1h-2v-1h-2v2h-1v-2h-2v1h-1v-1h-19v1h-3v1h-2v-1h-4v-1h-1v1h-1v-1h-2v1h-1v-1h-8v1h-1v-1h-7v1h-1v-1h-4v1h-1v-1h-1v1h-1v-1h-3v1h-4v-1h-6v1h-1v1h-1v-2h-3v1h-1v-1h-1v1h-1v-1h-3v1h-1v-1h-5v1h-2v-1h-9v1h-1v-1h-1v1h-1v-1h-3v1h-1v-1h-1v2h-1v-2h-4v2h-1v-2h-2v3h-1v-2h-3v-1h-1v1h-1v-1h-1v4h-2v5h-1v-6h-1v2h-1v-2h-1v-1h-2v1h-1v-2h-1v2h-1v-2h-1v-1h-1v1h-1v-1h-2v2h-1v-1h-1v-1h-6v1h-1v-1h-14v1h-1v-1h-1v1h-1v-1h-4v1h-2v-1h-2v1h-1v-1h-1v1h-1v-1h-1v1h-1v-1h-14v1h-1v-1h-6v1h-2v-1h-1v2h-1v-2h-4v1h-1v-1h-11v1h-1v-1h-3v1h-1v-1h-1v1h-1v-1h-1v1h-1v-1h-1v1h-1v-1h-2v1h-2v-1h-5v1h-1v-1h-2v1h-1v-1h-5v1h-1v-1h-8v2h-1v-1h-1v-1h-2v1h-1v-1h-4v1h-1v-1h-2v1h-2v-1h-3v1h-1v-1h-4v1h-1v-1h-7v1h-1v1h-1v-1h-1v-1h-2v1h-2v-1h-3v1h-1v-1h-2v1h-2v-1h-3v1h-1v-1h-9v1h-5v1h-1v-1h-1v1h-1v-1h-2v-1h-9v1h-1v-1h-8v2h-1v-2h-1v1h-1v-1h-3v1h-1v-1h-1v1h-1v-1h-9v1h-1v-1h-5v1h-1v-1h-1v1h-1v-1h-2v1h-1v-1h-6v1h-1v-1h-9v1h-1v-1h-6v1h-1v-1h-1v1h-1v-1h-9v1h-1v-1h-4v2h-1v-2h-3v1h-1v-1h-9v1h-1v-1h-8v1h-2v-1h-6v1h-1v-1h-1v-1h-6v2h-1v-1h-4v1h-1v-1h-1v1h-1v1h-1v-2h-6v1h-2v-1h-6v1h-1v-1h-5v2h-1v-2h-4v1h-3v-1h-6v1h-2v-1h-5v1h-1v-1h-2v1h-1v-1h-3v1h-1v-1h-1v1h-2v-1h-5v1h-1v-1h-25v1h-1v-1h-4v1h-1v-1h-1v1h-1v-1h-13v1h-1v-1h-3v1h-2v-1h-1z"/>
<path fill="#ff0000" d="M50 652h6v-2h1v2h6v-2h1v2h5v-1h1v1h7v-1h3v2h5v-1h2v-1h1v1h5v-1h1v1h7v-1h1v1h6v-1h1v1h3v-1h1v1h4v1h4v-1h9v-1h1v1h3v-1h1v1h3v-1h1v1h2v-1h1v1h4v-1h1v1h9v1h3v-1h27v-2h1v2h4v-2h1v1h1v1h5v-1h1v1h3v-1h1v1h9v-1h1v1h13v-1h1v1h4v-2h1v1h1v1h8v-2h1v2h7v-1h1v1h1v-2h1v2h11v-1h1v1h2v-1h1v1h6v-1h3v1h2v-1h1v1h3v-3h2v3h1v-2h1v2h1v-2h2v2h3v-2h1v2h4v-1h1v1h4v-1h1v1h2v-1h1v1h3v-1h2v1h2v-1h1v1h2v-1h1v1h11v-1h1v1h1v-1h1v1h1v-1h1v1h2v-1h3v1h11v-1h1v1h3v-1h1v1h10v-1h1v1h5v-1h2v1h3v-1h1v1h8v-1h2v1h6v-1h1v1h1v-2h1v2h3v-1h1v1h10v-1h1v1h22v-1h1v1h13v-1h1v1h2v-1h1v1h6v-2h1v1h1v1h4v-1h1v1h4v-1h1v1h2v-1h1v1h4v-1h1v1h2v-1h1v1h4v-1h3v1h14v-1h1v1h9v-1h2v1h4v-1h1v1h9v-1h1v1h6v-1h1v1h2v-1h3v1h10v-1h1v1h2v-1h1v1h5v-1h1v1h2v-1h1v1h9v-1h3v1h2v-1h1v1h1v-1h1v1h2v-1h2v-1h1v2h5v-1h1v1h7v-1h1v1h6v-1h1v1h12v-1h1v1h2v1h5v-1h1v1h5v-1h13v-1h1v1h6v-1h1v1h1v-2h1v2h13v-1h1v1h3v-1h1v1h19v-1h1v1h10v-1h1v1h1v-1h1v1h4v-2h1v2h5v-3h1v3h15v-1h1v1h7v-2h1v2h9v-1h1v-1h1v2h3v-1h2v1h1v-1h1v1h1v-1h1v1h3v-1h1v1h8v-1h1v1h7v-1h1v1h3v-1h1v1h6v-1h1v1h2v-1h3v-1h1v1h1v1h2v-1h1v1h4v-2h1v2h1v-1h1v1h3v-1h2v1h1v-1h1v1h6v-2h1v2h7v-1h1v1h9v-1h1v1h3v-1h3v1h50v-1h1v1h6v-1h1v1h3v-1h1v1h1v-1h1v1h1v-1h1v1h4v-1h1v1h10v-1h1v1h1v-1h1v1h5v-1h1v1h2v-1h2v1h2v-2h1v2h3v-1h1v1h17v-1h2v1h10v-1h1v1h2v-1h1v1h1v-1h1v1h24v-1h1v1h5v-1h1v1h11v-2h1v2h1v-1h1v1h20v-1h1v1h14v-1h1v1h12v-2h2v2h5v-2h1v2h9v-1h1v1h3v-1h1v1h2v-1h1v1h2v-1h1v1h3v-2h1v2h7v-1h1v1h5v-1h2v-1h2v2h6v-1h1v1h4v-1h2v1h5v-1h1v1h22v-1h1v1h7v-1h2v1h2v-1h3v1h7v-1h1v1h3v-1h1v1h3v-2h1v2h9v-1h1v1h7v-1h1v-1h2v1h5v-2h1v3h1v-2h1v1h2v1h1v-1h2v1h5v-1h1v1h2v-1h1v1h1v-1h1v1h8v-1h1v1h8v-2h1v2h3v-1h1v1h6v-2h1v-1h1v3h1v-3h2v2h2v1h8v-3h1v3h1v-1h1v-1h1v1h5v1h12v-1h2v1h7v-1h1v1h8v-1h1v-1h1v2h7v-1h6v-1h1v2h4v-1h1v1h15v-1h1v1h2v1h2v-1h5v-1h2v1h1v-1h1v1h5v-1h1v1h8v-1h1v1h24v-1h1v1h4v-1h1v1h2v-1h1v1h1v-1h1v1h5v-1h1v-1h1v2h10v-1h1v1h1v-1h1v1h1v-1h1v1h3v-1h1v1h1v-1h1v1h1v-1h1v1h1v-2h1v2h3v-1h1v1h2v-1h1v1h3v-1h1v1h4v-1h2v1h8v-1h1v1h2v-1h1v1h3v-1h3v1h1v2h-8v2h-1v-2h-3v1h-1v-1h-4v2h-1v-2h-2v1h-1v-1h-12v2h-1v-2h-1v1h-1v1h-1v-1h-1v-1h-1v1h-4v-1h-6v3h-2v-3h-5v1h-1v-1h-2v1h-1v-1h-2v1h-2v-1h-5v1h-1v-1h-2v1h-1v-1h-4v1h-1v-1h-4v1h-1v-1h-7v1h-2v-1h-3v1h-1v-1h-7v1h-1v-1h-4v1h-2v-1h-2v1h-1v-1h-2v1h-2v-1h-7v1h-1v-1h-1v1h-3v-1h-16v1h-2v-1h-4v1h-1v-2h-3v1h-1v-1h-2v1h-3v1h-1v-1h-3v1h-2v-1h-4v1h-1v-1h-12v1h-1v-1h-3v1h-1v-1h-6v1h-2v-1h-1v-1h-4v4h-1v-3h-1v2h-1v2h-1v-2h-1v1h-1v-3h-1v1h-2v1h-1v1h-1v-2h-1v4h-1v-3h-4v-2h-1v4h-1v-3h-1v3h-1v-4h-4v1h-2v-1h-3v1h-1v-1h-3v2h-1v-1h-1v-1h-8v1h-1v-1h-10v1h-3v-1h-2v2h-1v-1h-1v-1h-3v1h-1v-1h-3v-1h-5v1h-5v1h-3v-1h-2v2h-2v-1h-1v-1h-3v1h-1v-1h-1v1h-3v-1h-4v1h-6v-1h-9v1h-1v-1h-3v1h-1v-1h-1v1h-1v-1h-1v1h-1v-1h-8v1h-1v-1h-7v1h-1v-1h-9v2h-1v-2h-12v1h-1v-1h-1v-1h-4v1h-4v1h-1v-1h-3v1h-1v-1h-3v2h-1v-1h-1v-1h-5v2h-1v-2h-23v1h-2v-1h-4v2h-1v-1h-1v-1h-26v1h-1v-1h-7v1h-1v-1h-4v1h-1v-1h-1v1h-1v-1h-10v1h-1v-1h-1v1h-1v-1h-13v2h-1v-2h-3v2h-1v-2h-2v1h-1v-1h-1v1h-1v-1h-5v1h-1v-1h-3v1h-1v-1h-1v1h-1v-1h-4v1h-1v-1h-10v1h-2v-1h-2v1h-1v-1h-1v1h-1v-1h-3v1h-1v-1h-4v1h-1v-1h-7v2h-1v-2h-17v1h-2v-1h-1v1h-1v-1h-2v1h-2v-1h-3v1h-1v-1h-1v1h-1v-1h-1v1h-1v-1h-4v1h-1v-1h-4v1h-1v-1h-7v1h-1v-1h-3v1h-1v-1h-3v2h-1v-2h-1v1h-1v-1h-1v1h-1v-1h-1v2h-1v-2h-4v1h-1v-1h-5v1h-1v-1h-1v1h-1v-1h-11v1h-1v-1h-1v1h-2v-1h-1v2h-1v-1h-1v-1h-14v1h-1v-1h-1v2h-1v-2h-12v1h-1v-1h-2v1h-1v-1h-4v1h-2v-1h-2v1h-1v-1h-4v-1h-5v2h-1v-1h-2v1h-1v-1h-5v1h-1v-1h-8v1h-1v-1h-2v2h-1v-2h-7v1h-1v-1h-1v1h-1v-1h-8v1h-1v-1h-9v1h-1v-1h-2v1h-2v-1h-2v1h-1v-1h-1v1h-2v-1h-1v1h-1v-1h-6v1h-1v-1h-4v2h-1v-1h-1v-1h-2v2h-1v-1h-1v1h-1v-2h-2v2h-1v-2h-2v1h-2v-1h-4v2h-1v-2h-5v1h-1v-1h-3v1h-2v-1h-4v1h-1v-1h-13v1h-1v-1h-4v2h-2v-2h-5v1h-1v-1h-5v1h-1v-1h-3v1h-1v-1h-2v1h-1v1h-1v-2h-2v1h-1v-1h-4v1h-1v-1h-6v1h-2v2h-1v-2h-1v1h-1v-1h-7v-1h-10v1h-1v-1h-1v1h-2v-1h-4v1h-1v-1h-7v1h-1v-1h-12v1h-1v-1h-5v2h-1v-2h-7v2h-1v-1h-1v-1h-8v1h-1v-1h-8v1h-1v-1h-6v1h-1v-1h-2v1h-1v-1h-1v1h-1v1h-1v-2h-3v1h-1v-1h-3v1h-1v-1h-3v1h-1v-1h-1v1h-1v-1h-9v1h-2v-1h-1v1h-1v-1h-2v1h-1v-1h-11v1h-1v-1h-2v1h-1v-1h-6v1h-1v-1h-1v1h-3v1h-1v-2h-15v1h-1v-1h-2v1h-1v-1h-14v1h-1v-1h-2v1h-1v-1h-2v2h-1v-2h-9v1h-1v-1h-6v1h-1v-1h-2v1h-1v-1h-4v1h-1v-1h-2v1h-1v-1h-5v1h-2v-1h-4v1h-2v-1h-8v1h-1v-1h-2v1h-1v-1h-3v1h-1v-1h-2v1h-1v-1h-10v1h-2v-1h-8v1h-1v-1h-1v1h-1v-1h-1v2h-1v-2h-9v1h-1v-1h-3v-1h-3v1h-2v1h-1v-1h-5v1h-1v-1h-3v1h-1v-1h-12v1h-1v-1h-7v1h-1v2h-1v-3h-1v1h-1v2h-1v-1h-1v-1h-2v3h-1v-4h-1v3h-1v-2h-2v1h-1v1h-1v-1h-1v-1h-1v-1h-1v2h-1v-2h-1v4h-1v-4h-5v-1h-2v2h-1v1h-1v-2h-2v2h-1v-2h-1v1h-2v-1h-3v1h-2v-1h-8v1h-1v-1h-9v1h-1v-1h-3v1h-1v-1h-1v1h-1v-1h-9v1h-1v-1h-8v1h-1v-1h-4v-1h-1v1h-6v1h-1v-1h-2v2h-1v-2h-1v2h-1v-2h-11v1h-1v-1h-7v1h-2v-1h-1v1h-1v-1h-3v1h-1v-1h-2v1h-1v1h-1v-2h-5v1h-1v-1h-2v1h-1v-1h-1v1h-3v-1h-18v2h-1v-2h-2v1h-1v-1h-2v1h-1v-1h-2v1h-1v-1h-3v2h-1v-1h-1v-1h-2v1h-2v1h-1v-1h-1v-1h-14v1h-1v-1h-10v1h-1v-1h-6v1h-3v1h-1v-1h-1v-2h-2v1h-2v1h-1v-1h-2v2h-1v-2h-1v2h-1v-2h-2v1h-2v1h-1v-2h-2v1h-2v-1h-10v1h-1z"/>
<path fill="#0000ff" d="M50 681h1v1h2v1h1v-1h3v-1h1v1h2v-1h1v1h2v-1h1v1h2v-2h1v2h1v-1h1v1h1v-1h1v1h1v-1h1v1h1v-1h1v1h3v-1h2v1h6v-1h2v1h1v-2h1v1h1v1h3v-1h1v1h3v-1h1v1h2v-1h5v-1h1v2h1v-1h1v1h3v-1h2v1h4v-1h1v-1h1v1h1v1h1v-2h1v1h1v1h1v-1h1v1h1v-1h1v1h2v-1h1v-1h1v1h1v1h1v-2h1v2h1v-1h4v1h4v-2h1v2h1v-1h1v1h5v-1h1v1h4v-1h1v1h1v-1h1v1h2v-1h1v1h2v-1h1v2h1v-1h1v-1h1v1h1v-2h1v2h2v-1h1v-1h1v2h1v-1h1v1h1v-1h1v1h1v-2h3v2h6v-1h1v1h2v-2h1v1h1v1h1v-1h3v-1h1v2h3v-2h1v2h1v-2h1v1h1v1h2v-1h1v-1h1v2h1v-1h3v1h1v-1h2v1h1v-1h1v1h3v-1h2v1h2v-2h2v2h2v-1h1v1h1v-1h1v1h1v-1h1v1h2v-1h1v1h2v-1h1v1h1v-1h5v-1h3v2h2v-1h3v1h2v-1h1v1h2v-1h1v1h2v-2h1v2h7v-1h1v1h3v-1h1v-1h1v2h1v-2h1v2h1v-1h1v-1h1v2h1v-1h1v1h1v-2h2v1h5v-4h1v-2h1v2h1v1h1v2h1v1h1v1h1v-4h1v4h2v-2h1v1h1v-2h1v3h1v-1h1v-2h1v2h1v-1h1v1h1v1h1v-1h3v1h2v-1h1v1h2v-1h1v-2h1v3h1v-4h1v1h1v2h1v1h2v-5h1v1h1v4h1v1h2v-1h3v-1h2v-1h1v2h2v-1h1v1h3v-2h2v2h1v-2h1v1h1v1h1v-1h1v1h3v-1h3v1h4v-1h1v1h1v-2h1v2h2v-2h1v2h3v-2h1v1h1v1h2v-1h1v1h1v-1h1v-1h1v2h4v-1h1v1h1v-1h2v-1h1v1h1v1h1v-1h1v1h1v-1h1v1h1v-2h1v2h1v-1h2v1h1v-1h1v1h2v-2h1v2h6v-1h1v1h1v-1h1v1h3v-2h1v1h1v1h3v-1h1v1h1v-1h1v1h2v-2h1v1h1v1h2v-1h1v1h1v-1h2v1h1v-1h1v1h1v-1h2v1h1v-1h1v1h3v-1h1v1h3v-1h1v1h2v-1h1v1h1v-1h1v1h4v-1h1v1h4v-1h4v1h1v-1h1v1h3v-2h1v1h1v1h2v-1h1v1h2v-1h2v1h2v-2h1v1h1v1h1v-1h1v-1h2v2h1v-1h4v1h2v-1h1v1h1v-1h3v1h2v-1h1v1h2v-1h1v1h3v-1h1v1h3v-2h1v1h3v1h2v-2h2v2h4v-1h1v1h2v-2h1v2h3v-1h2v1h3v-1h2v1h6v-1h1v1h4v-1h2v1h1v-1h1v-1h1v2h1v-2h1v2h2v-1h1v1h8v-2h2v1h3v1h1v-1h1v1h3v-2h1v2h1v-1h1v1h1v-1h1v1h6v-1h1v-1h1v2h2v-1h1v1h1v-1h4v1h2v-1h1v1h1v-2h1v2h1v-1h1v1h2v-1h5v1h7v-1h2v1h4v-1h1v1h1v-2h1v1h1v1h1v-1h1v1h2v-2h1v1h2v-1h1v2h1v-1h1v1h1v-1h1v-1h1v2h5v-1h5v1h1v-1h1v-1h1v2h3v-1h2v1h7v-2h1v2h2v-1h1v1h4v-2h1v2h8v-1h2v1h1v-2h1v2h1v-1h1v1h2v-1h1v1h1v-1h1v-1h1v2h1v-2h1v2h1v-1h3v1h1v-1h1v1h2v-1h2v1h1v-1h2v1h4v-2h2v2h4v-1h3v1h1v-1h2v1h3v-1h1v1h2v-1h1v-1h1v1h1v1h1v-2h1v2h1v-1h2v1h1v-1h3v-1h1v1h1v1h8v-4h1v3h3v1h1v-1h1v-1h1v1h1v-3h1v2h3v2h4v-1h1v2h1v-2h2v1h3v-1h2v1h3v-1h1v1h2v-1h4v1h1v-1h1v1h1v-2h1v-1h1v2h1v-1h1v1h2v1h1v-5h1v4h2v-2h1v-2h1v4h1v-3h2v3h3v1h2v-2h1v1h2v1h2v-2h1v2h2v-1h1v1h2v-2h3v2h3v-1h1v1h1v-1h1v1h3v-1h2v1h1v-1h1v1h1v-1h4v1h1v-1h2v-1h1v2h1v-2h1v2h1v-1h1v1h5v-1h1v-1h1v2h1v-1h5v-1h1v-1h1v3h1v-2h1v1h2v-1h1v1h3v1h1v-1h5v1h2v-2h1v2h3v-1h1v1h6v-5h1v3h1v2h1v-2h1v1h2v1h2v-1h1v1h1v-4h1v2h1v1h1v-1h1v2h1v-2h1v2h2v-1h2v1h1v-1h2v1h3v-1h1v1h2v-1h1v1h1v-2h2v1h2v1h2v-1h1v1h1v-2h1v2h3v-1h1v1h2v-2h1v1h1v-1h1v1h1v1h2v-1h2v1h2v-1h1v1h1v-1h1v1h1v-1h2v1h2v-1h1v1h4v-1h1v-1h1v1h1v1h5v-2h1v2h1v-1h1v1h3v-1h1v-1h1v2h1v-1h2v-1h1v1h1v1h1v-1h1v1h1v-2h1v2h1v-1h1v1h2v-1h2v1h1v-1h1v1h2v-1h1v1h1v-1h1v1h1v-2h1v2h1v-1h1v1h2v-2h1v1h1v1h5v-1h1v1h1v-1h1v1h2v-1h1v-1h1v1h2v-1h2v-9h1v10h1v1h1v-1h2v-1h1v1h1v1h1v-2h1v2h1v-1h1v1h1v-2h1v2h2v-1h1v1h2v-1h3v1h1v-1h4v-1h1v1h1v-1h1v2h2v-1h3v1h5v-1h1v-1h1v1h2v1h1v-1h2v1h4v-1h1v1h1v-1h2v1h2v-2h1v2h1v-1h1v-1h1v2h1v-1h1v1h2v-1h1v1h1v-1h1v1h1v-1h1v1h1v-1h1v-1h1v1h2v-1h1v2h1v-1h1v1h1v-1h1v1h1v-1h3v1h3v-1h1v1h3v-2h1v1h2v1h1v-1h1v1h6v-2h1v2h9v-2h2v1h1v-1h1v1h2v1h2v-1h1v-1h1v2h1v-1h1v-1h1v2h1v-2h1v1h1v1h1v-1h1v1h2v-1h1v1h3v-1h1v1h1v-1h1v1h1v-2h2v2h3v-1h2v1h1v1h1v-1h7v-1h1v1h1v-1h1v1h5v-1h1v1h2v-1h5v-1h1v2h4v-2h1v2h2v-1h1v1h1v-1h1v1h5v-2h1v2h1v-1h2v1h2v-1h1v1h2v-1h1v1h2v-1h1v-1h1v2h1v-1h1v1h1v-1h1v1h1v-2h1v2h1v-1h1v1h3v-1h1v-1h1v1h1v1h5v-1h3v1h2v-1h2v1h3v-1h1v-1h1v1h1v1h2v-2h1v2h6v-1h1v-1h1v2h1v-2h1v1h1v1h1v-1h4v1h1v-1h1v-1h1v1h3v1h2v-1h1v1h1v-1h1v1h1v-1h1v1h4v-1h1v1h3v-1h1v1h3v-1h2v1h1v-1h2v1h2v-2h1v1h1v1h1v-1h1v1h1v-1h1v1h1v-1h1v-1h1v2h1v1h1v-1h2v-1h1v1h1v-1h1v1h1v-1h1v1h5v-2h1v2h3v-1h1v1h1v-1h3v1h3v-1h2v1h3v-1h1v1h1v-1h1v1h9v-1h1v1h1v-1h1v1h5v-1h1v1h1v-1h1v1h3v-1h1v1h3v-2h1v2h1v-1h1v1h2v-2h1v1h1v-1h1v1h1v1h4v-2h1v2h1v-1h1v1h1v-2h1v1h1v1h5v-1h2v-1h3v2h3v-1h1v1h3v-1h1v1h1v-1h1v1h1v-1h2v1h1v-2h1v2h1v-1h1v1h1v-1h1v1h2v-2h1v2h1v-1h1v-1h1v2h1v-1h4v1h1v-1h1v1h3v-1h2v1h1v-1h1v1h1v-1h2v1h1v-1h2v1h4v-1h1v1h3v-1h1v1h2v-2h1v2h1v-1h1v1h1v-1h3v1h2v-2h1v2h1v-1h3v-1h2v2h2v-1h1v1h1v-2h1v2h1v-1h2v1h1v4h-1v1h-1v-3h-1v1h-2v-1h-1v2h-1v-1h-2v-1h-2v1h-1v-1h-1v1h-1v2h-1v-2h-1v1h-1v-1h-1v-1h-1v1h-1v-1h-1v1h-1v-1h-1v3h-1v-2h-1v1h-3v-1h-2v1h-1v-1h-1v1h-2v-1h-1v-1h-2v1h-1v1h-3v-1h-1v1h-1v-1h-2v1h-1v-2h-1v1h-3v1h-1v1h-1v-2h-2v1h-1v1h-1v-3h-2v2h-1v-1h-1v-1h-1v2h-1v-2h-1v1h-4v1h-1v-1h-1v-1h-1v1h-1v1h-1v-2h-1v1h-3v-1h-1v2h-1v-2h-1v1h-1v-1h-1v1h-1v-1h-1v3h-1v-2h-1v2h-1v-3h-1v1h-1v1h-4v-2h-1v1h-2v-1h-1v2h-1v-1h-1v1h-1v-1h-2v1h-1v-1h-3v-1h-3v1h-3v1h-1v-2h-2v2h-1v-1h-1v-1h-1v1h-1v1h-1v-1h-1v1h-1v1h-2v-2h-2v2h-1v-2h-1v1h-1v-2h-1v1h-1v-1h-1v3h-1v-1h-1v-2h-1v3h-1v-2h-2v1h-1v1h-1v-2h-1v-1h-2v1h-1v1h-1v-2h-1v1h-1v-1h-1v2h-1v-2h-1v1h-1v-1h-1v2h-1v-2h-1v3h-1v-3h-1v1h-1v1h-1v-2h-1v1h-1v2h-2v-1h-1v-1h-1v1h-2v-1h-1v-1h-2v2h-1v-1h-1v1h-2v-2h-1v1h-1v1h-1v-1h-3v-1h-3v2h-2v-1h-2v-1h-1v1h-1v-1h-2v1h-1v-1h-1v3h-1v-3h-3v1h-5v-1h-1v1h-1v1h-1v-1h-1v1h-1v-2h-1v3h-1v-2h-2v-1h-2v2h-1v-1h-2v-1h-2v3h-1v-3h-1v1h-1v-1h-1v1h-1v1h-1v1h-1v-1h-1v1h-1v-1h-1v-2h-2v1h-1v-1h-2v1h-1v-1h-1v1h-1v-1h-1v2h-1v-1h-1v-1h-1v1h-1v1h-1v-1h-1v-1h-2v1h-3v-1h-1v2h-3v-2h-1v1h-2v1h-1v-1h-2v-1h-1v1h-1v1h-1v-1h-1v-1h-1v2h-1v1h-1v-2h-3v-1h-1v1h-1v-1h-1v2h-1v-2h-3v1h-1v-1h-1v3h-1v-1h-1v-1h-1v1h-1v1h-1v-3h-1v1h-2v1h-1v-2h-3v1h-1v1h-1v-2h-2v1h-2v-1h-1v2h-1v-2h-1v1h-1v1h-2v-1h-1v1h-1v-2h-1v2h-1v1h-1v-1h-1v-2h-1v1h-1v1h-1v-1h-1v-1h-1v2h-1v-1h-3v-1h-1v2h-1v-1h-2v1h-3v-1h-1v-1h-1v1h-3v-1h-1v1h-1v1h-1v-1h-4v1h-1v-2h-2v2h-1v-2h-2v2h-1v-2h-1v1h-2v1h-1v-1h-1v-1h-1v1h-1v-1h-1v3h-1v-2h-2v-1h-1v1h-1v-1h-1v1h-2v1h-2v-1h-2v-1h-1v1h-2v1h-1v-1h-1v-1h-1v3h-1v-3h-1v2h-2v-2h-2v3h-1v-2h-3v-1h-3v1h-1v-1h-1v1h-2v1h-2v-1h-4v1h-2v1h-1v-2h-3v-1h-2v2h-2v-2h-1v1h-3v-1h-1v1h-2v1h-1v-1h-1v2h-1v-3h-1v2h-1v-1h-1v-1h-1v1h-2v1h-1v-2h-2v2h-2v-2h-1v2h-1v-1h-1v-1h-4v1h-1v1h-1v-1h-1v1h-1v-1h-1v-1h-1v2h-1v-1h-1v-1h-1v1h-1v-1h-3v2h-2v-1h-2v-1h-1v1h-1v-1h-1v1h-1v-1h-1v2h-1v-2h-1v1h-1v-1h-1v1h-2v1h-1v-2h-1v2h-1v1h-1v-3h-1v1h-1v2h-1v-3h-1v5h-1v-5h-1v2h-1v-1h-1v2h-1v-1h-1v-1h-3v-1h-1v1h-1v1h-1v-1h-3v2h-2v-3h-1v3h-1v-3h-1v1h-1v-1h-1v1h-4v-1h-1v1h-2v1h-1v-1h-1v2h-1v-3h-1v1h-1v2h-1v-2h-3v-1h-1v1h-1v2h-1v-2h-1v-1h-1v1h-3v-1h-1v1h-1v-1h-1v2h-1v-2h-1v3h-1v-3h-1v2h-1v-1h-1v1h-1v-2h-1v1h-1v-1h-2v1h-2v-1h-1v1h-1v-1h-1v1h-2v-1h-1v1h-1v2h-1v-2h-1v-1h-4v2h-1v-2h-1v2h-1v-2h-1v2h-1v-1h-2v-1h-1v3h-1v-3h-2v2h-1v-2h-1v2h-1v-2h-2v2h-1v-1h-1v1h-1v1h-1v-1h-1v-1h-1v1h-1v-1h-2v1h-1v-2h-1v3h-1v-2h-1v-1h-2v1h-3v-1h-1v1h-4v-1h-1v6h-1v-6h-1v1h-1v-1h-1v1h-3v4h-1v-3h-1v2h-1v1h-1v-5h-1v3h-1v2h-1v-3h-3v-2h-6v2h-1v-1h-3v-1h-2v1h-3v1h-2v-2h-1v2h-1v-1h-2v-1h-1v2h-1v1h-1v-1h-2v-1h-1v3h-1v-3h-2v1h-1v-1h-1v2h-1v-1h-1v-2h-1v2h-2v-2h-2v1h-1v1h-3v-1h-1v2h-2v-1h-3v-1h-1v2h-1v-2h-4v-1h-2v2h-2v-2h-1v2h-1v-1h-1v1h-1v-1h-2v2h-1v-3h-1v1h-3v6h-1v-7h-1v1h-1v1h-2v-1h-1v-1h-1v2h-1v-1h-3v1h-1v-1h-2v-1h-1v3h-2v-1h-1v-1h-1v1h-1v1h-1v1h-1v-2h-2v-1h-1v2h-1v-1h-1v-1h-1v1h-2v-1h-3v1h-1v-2h-1v2h-2v-2h-1v1h-3v-1h-1v1h-3v1h-1v-1h-1v2h-1v-3h-1v1h-3v1h-1v1h-1v-2h-3v1h-1v1h-1v2h-1v-5h-1v3h-1v-2h-1v1h-1v1h-1v-1h-1v2h-1v-2h-1v-1h-1v-1h-1v1h-2v4h-1v-4h-1v1h-1v-1h-2v-1h-2v1h-1v1h-1v-2h-2v2h-1v-2h-1v1h-1v1h-1v1h-1v-2h-2v-1h-1v2h-1v-2h-1v1h-1v-1h-2v2h-1v-1h-1v-1h-2v1h-2v1h-1v-2h-4v1h-1v2h-1v-2h-1v1h-4v-1h-2v2h-1v-2h-3v1h-1v-1h-1v-1h-3v2h-1v-1h-1v-1h-2v1h-3v-1h-1v2h-3v-1h-1v-1h-2v2h-2v-1h-2v-1h-1v1h-1v1h-2v-1h-2v1h-2v-2h-1v1h-3v-1h-1v1h-2v-1h-1v1h-1v-1h-1v1h-1v1h-1v-1h-1v-1h-1v2h-1v-1h-1v1h-1v-2h-1v1h-1v1h-1v-2h-1v1h-3v-1h-1v3h-1v-1h-2v-1h-3v1h-1v-1h-1v-1h-1v1h-3v-1h-1v2h-1v-1h-1v-1h-2v3h-1v-2h-2v-1h-1v1h-1v-1h-2v3h-1v-3h-1v1h-1v-1h-2v1h-1v-1h-1v2h-1v-1h-1v1h-1v-1h-3v-1h-1v3h-1v-1h-1v-2h-3v3h-1v-1h-1v-2h-2v1h-1v1h-1v-1h-1v1h-1v1h-1v-2h-1v-1h-3v1h-2v-1h-2v1h-1v-1h-1v2h-1v-1h-1v2h-1v-1h-1v-1h-1v2h-1v-3h-1v2h-1v1h-1v-1h-1v-1h-1v-1h-1v2h-1v-1h-1v2h-1v-2h-1v-1h-1v3h-1v-3h-3v1h-1v2h-1v-3h-1v1h-1v-1h-2v2h-1v-1h-1v-1h-3v1h-3v-1h-1v1h-1v2h-2v-1h-1v-2h-1v3h-1v-3h-1v1h-1v-1h-1v1h-1v1h-1v-1h-4v1h-1v1h-1v-2h-1v1h-2v-1h-1v1h-2v-2h-1v3h-1v-1h-2v-2h-1v2h-1v-2h-1v1h-1v2h-1v-2h-2v-1h-1v2h-1v-2h-3v2h-1v-1h-1v1h-2v-1h-1v-1h-1v3h-1v-1h-1v-1h-1v1h-1v1h-1v-2h-1v2h-1v-3h-1v3h-1v-2h-1v-1h-1v1h-1v1h-1v-1h-1v-1h-1v2h-1v-2h-2v1h-1v2h-1v-3h-1v2h-1v-1h-2v1h-1v-2h-4v2h-1v-1h-1v1h-1v-2h-3v1h-3v-1h-1v2h-2v1h-1v-2h-3v-1h-1v3h-1v-2h-3v2h-1v-2h-1v-1h-1v1h-2v1h-2v-2h-1v1h-3v1h-1v-2h-1v1h-2v1h-2v-1h-1v-1h-1v1h-1v1h-1v-2h-1v2h-1v-2h-1v1h-2v-1h-1v2h-1v-1h-1v2h-1v-3h-1v3h-1v-3h-1v1h-1v-1h-1v1h-1v-1h-3v1h-2v-1h-1v1h-2v-1h-5v2h-1v-2h-1v3h-1v-3h-1v1h-1v1h-1v-2h-2v2h-1v1h-1v-3h-1v1h-1v-1h-1v1h-1v1h-1v-1h-1v2h-1v-3h-1v1h-1v1h-1v-1h-1v-1h-1v1h-1v-1h-1v1h-1v1h-2v1h-1v-2h-1v1h-1v1h-1v-2h-1v-1h-2v3h-1v-3h-2v2h-1v-1h-1v-1h-2v2h-1v1h-1v-1h-1v-1h-2v-1h-2v2h-1v-1h-2v1h-1v1h-1v-3h-1v1h-1v1h-1v-1h-6v-1h-1v2h-1v-1h-1v-1h-1v1h-2v-1h-2v1h-2v-1h-1v2h-1v-1h-1v1h-1v1h-1v-1h-2v1h-1v-1h-2v-1h-3v1h-1v-1h-2v2h-1v-1h-1v-1h-1v-1h-2v2h-1v1h-1v-2h-1v1h-2v-1h-1v3h-1v-4h-1v2h-1v3h-1v-2h-2v-2h-1v2h-1v-2h-1v3h-1v-2h-2v1h-2v1h-1v4h-1v-4h-1v-2h-2v1h-1v-1h-2v-1h-1v-1h-1v6h-1v-6h-1v1h-2v1h-2v3h-1v-3h-2v-1h-1v1h-2v-1h-2v1h-1v-2h-1v1h-1v-1h-1v2h-1v-1h-1v-1h-1v3h-1v-2h-2v2h-1v-2h-1v2h-1v-2h-1v-1h-1v1h-7v-1h-1v3h-1v-1h-1v-2h-1v1h-2v1h-1v-2h-1v2h-1v-2h-1v2h-2v-1h-2v-1h-3v1h-1v1h-3v-2h-1v2h-1v-2h-1v1h-1v-1h-1v1h-2v1h-1v-2h-1v2h-1v-1h-1v1h-1v-2h-1v1h-3v-1h-2v3h-1v-2h-2v-1h-2v2h-1v-2h-2v2h-2v-2h-1v1h-2v-1h-2v2h-2v-1h-1v2h-1v-2h-1v1h-2v-1h-3v-1h-2v1h-1v-1h-1v1h-2v1h-2v-1h-2v1h-1v-2h-1v1h-2v1h-1v-2h-2v1h-1v2h-1v-2h-1v1h-1v-1h-5v2h-1v-2h-1v-1h-1v1h-1v2h-1v-3h-1v1h-1v-1h-1v3h-2v-3h-1v1h-2v-1h-1v1h-3v-1h-1v1h-2v1h-1v-1h-1v1h-3v-1h-1v1h-1v-1h-4v1h-1v-1h-2v2h-1v-1h-1v1h-1v-1h-2v-2h-2v2h-2v-1h-2v1h-1v1h-1v-2h-3v-1h-1v2h-1v-1h-1v-1h-2v1h-2v1h-1v1h-1v-2h-1v2h-1v-2h-2v1h-2v-2h-2v1h-2v1h-3v-2h-2v3h-1v-3h-2v2h-3v-1h-2v-1h-1v1h-2v1h-1v-1h-1v-1h-1v1h-1v-1h-2v1h-4v1h-1v-2h-1v2h-2v-2h-1v1h-1v1h-2v-1h-2v1h-1v-1h-1v1h-1v-1h-1z"/>
<path fill="#006400" d="M50 712h2v-2h1v2h2v-2h1v2h4v-1h1v1h1v-1h1v1h2v-2h1v2h1v-1h6v1h2v-1h2v1h2v-1h1v1h1v-1h1v1h1v-2h1v1h1v1h2v-1h1v1h10v-1h1v1h3v-1h1v1h5v-1h1v1h2v-1h1v1h10v-1h1v1h3v-1h2v1h1v-1h2v1h5v-1h1v1h4v-1h1v1h17v-1h1v1h2v-1h1v1h4v-2h1v2h6v-1h2v1h14v-1h1v1h5v-1h1v1h6v1h1v-1h1v1h2v-1h1v1h1v-2h4v1h3v-1h1v1h9v-1h1v1h2v-1h1v1h8v-1h2v1h5v-1h2v1h5v-2h1v2h7v-1h1v1h5v-1h1v1h3v-1h1v1h1v-2h1v2h7v-1h1v1h5v-1h1v2h1v-1h1v1h4v-1h5v-1h1v1h3v-1h1v1h7v-1h1v1h2v-1h1v1h2v-1h1v1h10v-1h2v1h1v-1h1v1h11v-1h1v1h5v-1h1v1h2v-1h1v1h11v-1h1v1h2v-2h1v2h22v-1h1v1h2v-1h2v1h3v-1h1v1h1v-1h2v1h1v-1h1v1h1v-1h1v1h13v-1h1v1h5v-1h1v1h6v-2h1v2h3v1h1v-2h1v2h2v-1h4v-1h2v1h2v-1h1v1h3v-1h1v1h3v-1h1v1h17v-1h1v1h11v-1h1v1h15v-1h1v1h1v-1h1v-18h2v19h1v-1h1v1h17v-2h1v2h2v-1h1v1h5v-1h1v1h5v-1h1v1h1v-1h1v1h9v-1h2v1h2v-1h2v-1h1v2h2v-1h1v1h7v-2h1v2h3v-1h2v1h5v-1h1v1h1v-1h1v1h2v1h7v-1h7v-1h1v1h1v-1h1v1h1v-1h1v1h2v-3h1v3h3v-1h1v1h5v-1h1v1h5v-1h1v1h4v-1h1v1h2v-1h1v1h4v-1h1v1h5v-1h2v1h9v-1h2v1h7v-1h1v-1h1v2h4v-1h1v1h1v-1h2v1h1v-1h1v1h1v-1h1v1h7v-1h1v1h4v-1h1v1h1v-1h6v-1h1v2h3v-1h1v1h3v-1h5v1h4v-2h1v2h11v-1h1v1h4v-1h1v1h2v-1h1v1h4v-1h1v1h2v-1h1v1h34v-7h1v7h5v1h4v-1h13v-1h1v1h2v-1h1v1h4v1h5v-1h1v-1h1v1h15v-1h1v1h1v-1h1v1h3v-1h1v1h1v-1h1v1h11v-1h1v1h2v-1h1v1h16v1h2v-1h1v-1h1v1h2v-2h1v2h3v-1h1v1h3v-1h1v1h4v-1h1v1h3v-1h1v2h1v-1h12v-1h4v1h3v-1h1v1h6v1h4v-1h4v-1h1v1h4v-1h1v1h5v-1h1v1h4v-1h1v1h4v-1h2v1h6v-2h1v2h4v-1h1v1h10v-2h1v2h11v-1h1v1h3v-1h1v1h4v-1h1v1h1v-1h1v1h1v-1h1v1h14v-2h1v2h13v-1h1v1h2v-1h2v1h6v-1h1v1h2v-1h1v1h1v-2h1v2h5v-2h1v2h5v-1h1v1h16v-1h1v1h2v-1h1v1h10v-2h1v2h8v-1h1v1h2v-1h1v1h3v1h2v-2h4v1h1v1h7v-1h5v-1h1v1h3v-1h1v1h3v-1h1v1h2v-1h1v1h1v-1h1v1h12v-1h2v1h10v-1h1v1h23v-1h1v1h2v1h3v-2h1v1h7v-1h1v1h7v-1h2v1h3v-1h1v1h5v-2h1v2h1v-1h1v1h2v-1h1v1h6v-3h1v3h1v-2h1v2h1v-1h2v-2h1v2h1v1h1v-1h1v-2h1v2h2v-1h3v2h1v-1h2v1h3v-1h1v1h1v-4h1v3h2v1h1v-3h1v2h4v1h1v-2h1v-1h1v-13h1v-11h1v20h1v-17h1v13h1v-11h1v17h1v5h1v-1h2v-4h1v3h1v-1h2v-1h1v4h2v-19h1v19h1v-2h2v-5h2v3h1v-3h2v2h1v3h1v-6h1v5h1v-3h1v3h1v-3h1v3h1v1h1v-2h1v-8h1v-16h1v19h1v-4h1v-3h1v-4h1v4h1v-23h1v21h1v-46h1v53h1v-10h1v4h1v-47h1v51h1v4h1v-5h1v-8h1v-11h1v-61h1v27h1v30h1v12h1v19h1v-7h1v6h1v-2h1v-2h1v3h1v5h1v-8h1v3h2v-1h1v-5h1v8h1v2h1v2h2v-2h1v2h1v-9h1v8h1v-3h1v-3h1v2h1v3h2v-15h1v2h1v12h1v-5h1v2h1v3h1v-8h1v9h1v-3h1v-1h1v-11h1v14h1v-11h1v-4h1v4h1v14h1v-3h1v1h1v-5h1v-6h1v12h1v-1h1v-2h1v2h2v1h1v1h2v-9h1v3h1v7h1v-3h1v2h1v-1h2v2h1v-1h2v2h1v-2h2v1h1v1h1v-2h1v1h3v1h1v-2h1v2h1v-1h1v1h3v-2h1v1h1v-1h1v2h1v-3h1v3h1v-1h1v1h2v-1h1v-1h1v2h4v-1h1v1h1v-1h1v1h2v-2h1v2h4v-1h1v-1h1v2h1v-1h1v1h1v-1h1v1h3v-2h1v2h2v-1h1v1h3v-1h1v1h5v-1h1v1h6v-1h1v1h1v-1h1v1h2v-1h2v1h1v-1h2v1h3v-1h2v1h3v-1h2v1h3v-1h3v1h2v-1h1v1h1v-1h2v1h2v-1h2v4h-2v-1h-5v1h-1v-1h-1v1h-2v1h-1v-2h-1v3h-1v-2h-1v-1h-1v1h-1v1h-1v-1h-1v1h-1v-1h-1v-1h-2v2h-1v-2h-1v1h-1v1h-1v-2h-1v1h-4v-1h-1v1h-3v-1h-1v3h-1v-2h-1v1h-1v-2h-1v1h-1v-1h-3v2h-1v-1h-2v1h-1v-2h-1v2h-2v-1h-1v1h-1v-2h-3v2h-1v-2h-1v2h-1v-2h-1v3h-1v-2h-3v-1h-1v2h-1v-1h-1v-1h-4v1h-1v-1h-2v1h-1v-1h-1v1h-2v1h-2v-2h-1v2h-1v-1h-1v-1h-1v2h-1v-1h-2v-1h-1v2h-1v-1h-3v-1h-2v1h-1v3h-1v-1h-1v2h-1v-5h-1v4h-1v-3h-2v1h-2v3h-1v-2h-2v-1h-2v1h-1v1h-1v1h-1v-3h-2v1h-2v-1h-1v2h-2v3h-1v-1h-1v6h-1v-6h-1v14h-1v-11h-1v-2h-1v-2h-1v7h-1v4h-1v-1h-1v-7h-1v1h-1v-1h-1v7h-1v-7h-1v-4h-1v16h-1v-15h-1v3h-1v1h-2v-5h-1v8h-1v-4h-1v-4h-1v4h-1v-1h-1v1h-1v-4h-1v3h-1v-2h-1v-1h-2v1h-1v1h-1v4h-1v5h-1v-6h-3v9h-1v-11h-1v3h-1v14h-1v-11h-1v1h-1v-1h-2v4h-1v17h-1v26h-1v17h-1v-30h-1v-9h-1v-20h-1v-9h-1v5h-1v16h-1v-21h-2v2h-1v40h-1v-32h-1v27h-1v-28h-1v-3h-1v3h-1v-5h-2v18h-1v-5h-1v-18h-1v-6h-1v3h-4v2h-1v-1h-1v-4h-1v2h-2v3h-1v-3h-1v1h-2v3h-1v-8h-1v1h-1v17h-1v-18h-2v4h-1v2h-2v-2h-1v-2h-1v3h-1v-3h-1v-1h-1v2h-1v17h-1v-10h-1v4h-1v-10h-1v17h-1v-16h-1v-2h-1v1h-1v4h-1v-1h-1v-5h-1v1h-1v-1h-1v1h-1v1h-1v-4h-1v2h-1v1h-1v-2h-2v-1h-2v5h-1v-4h-4v3h-1v-4h-1v3h-1v-3h-1v5h-1v-5h-2v2h-1v1h-1v1h-1v-2h-1v-2h-1v3h-1v-1h-1v1h-1v-3h-2v2h-1v1h-3v-2h-1v1h-1v-2h-5v1h-1v-1h-12v1h-2v-1h-8v1h-1v-1h-1v1h-4v-1h-5v1h-1v-1h-7v1h-1v-1h-3v1h-1v-1h-5v1h-1v-1h-4v1h-1v-1h-2v1h-2v-1h-3v1h-1v-1h-1v1h-1v-1h-8v1h-1v-1h-1v1h-1v-1h-2v1h-1v-1h-1v2h-1v-1h-1v-1h-9v1h-1v-1h-2v1h-1v-1h-1v1h-2v1h-1v-1h-2v2h-1v-1h-1v-1h-1v-2h-4v2h-3v-1h-1v1h-1v-1h-16v2h-1v-2h-7v1h-2v-1h-2v1h-1v-1h-3v1h-2v-1h-12v1h-1v-1h-12v1h-1v-1h-2v1h-1v-1h-1v1h-1v-1h-1v1h-1v-1h-22v1h-1v-1h-5v1h-1v-1h-3v1h-1v-1h-1v1h-1v-1h-2v1h-1v-1h-11v1h-1v-1h-3v2h-1v-2h-3v1h-1v-1h-2v1h-1v-1h-1v2h-1v-2h-7v1h-1v-1h-3v1h-1v-1h-7v1h-2v-1h-1v2h-1v-2h-2v1h-1v-1h-6v1h-4v-1h-4v1h-8v1h-1v-2h-11v1h-2v-1h-5v1h-2v-1h-2v1h-1v-1h-3v1h-1v-1h-11v1h-1v-1h-2v1h-1v-1h-6v1h-3v-1h-5v1h-1v-1h-5v1h-1v-1h-15v1h-2v-1h-6v1h-2v-1h-10v1h-1v-1h-9v2h-1v-1h-4v-1h-3v1h-1v-1h-1v1h-2v-1h-1v1h-1v-1h-4v2h-1v-2h-7v2h-1v-1h-1v1h-1v-1h-2v-1h-4v2h-1v-2h-3v1h-2v-1h-6v1h-1v-1h-3v2h-1v-2h-2v2h-1v-2h-1v1h-2v-1h-1v2h-2v-2h-5v1h-1v-1h-4v1h-1v-1h-1v1h-1v-1h-12v1h-1v-1h-16v-1h-3v1h-4v1h-1v-1h-2v1h-2v-1h-3v-1h-3v1h-11v1h-1v-1h-2v1h-1v-1h-11v1h-1v-1h-6v1h-1v-1h-2v1h-1v-1h-3v1h-1v-1h-3v1h-1v-1h-3v1h-1v-1h-2v1h-1v-1h-9v1h-1v-1h-3v1h-1v-1h-6v2h-1v-2h-1v1h-1v-1h-3v1h-1v-1h-1v1h-1v-1h-2v7h-1v-6h-1v-1h-13v2h-1v-1h-1v1h-1v-1h-1v1h-1v-1h-3v-1h-1v1h-1v-1h-2v1h-1v-1h-1v1h-1v-1h-3v1h-1v-1h-2v2h-1v-2h-2v1h-2v-1h-9v2h-1v-2h-2v1h-1v-1h-5v1h-1v-1h-10v1h-1v-1h-11v1h-1v-1h-1v1h-2v-1h-2v1h-1v-1h-6v2h-1v-2h-3v2h-1v-2h-1v6h-2v-2h-1v-4h-4v1h-1v-1h-3v2h-1v-1h-1v-1h-3v1h-2v-1h-12v1h-1v-1h-8v1h-1v-1h-1v1h-1v-1h-4v1h-1v-1h-1v1h-2v-1h-1v1h-1v-1h-10v1h-1v-1h-4v1h-1v1h-1v-1h-1v1h-1v-1h-1v1h-1v-2h-1v2h-1v-1h-1v1h-1v-2h-4v2h-1v-2h-2v1h-2v1h-1v-2h-3v1h-1v-1h-6v1h-1v-1h-5v1h-2v-1h-1v2h-1v-2h-11v1h-2v-1h-8v1h-1v-1h-1v1h-1v-1h-2v1h-1v-1h-4v1h-1v-1h-2v1h-1v-1h-3v1h-1v-1h-4v1h-1v-1h-16v1h-1v-1h-8v1h-1v-1h-6v1h-1v-1h-1v1h-1v-1h-1v1h-1v-1h-5v1h-3v-1h-5v1h-1v-1h-2v1h-1v-1h-8v1h-6v-1h-1v1h-1v-1h-1v1h-1v-1h-5v1h-1v1h-1v-2h-6v1h-1v-1h-1v1h-2v-1h-1v2h-1v-1h-1v-1h-4v1h-1v-1h-8v1h-1v-1h-6v1h-1v-1h-2v1h-1v-1h-10v1h-1v-1h-6v1h-1v-1h-10v1h-1v1h-1v-1h-2v1h-1v-1h-4v-1h-21v1h-1v-1h-3v1h-1v-1h-2v1h-3v-1h-1v1h-1v-1h-5v1h-1v-1h-14v1h-1v-1h-1v2h-1v-2h-2v1h-1v-1h-4v1h-1v-1h-4v1h-1v-1h-2v-1h-1v1h-8v1h-1v-1h-3v1h-1v-1h-4v1h-1v-1h-8v1h-1v-1h-4v1h-1v1h-1v-2h-5v1h-1v-1h-2v1h-1v-1h-4v1h-1v-1h-7v1h-1v-1h-1v1h-1v-2h-2v1h-1v-1h-3v1h-3v1h-1v-1h-1v1h-1v-1h-5v2h-2v-2h-4z"/>
<path fill="#000000" d="M50 742h1v-1h1v-1h1v2h6v-1h1v-1h1v2h1v-2h1v2h1v-1h1v1h1v-1h1v1h2v-1h2v1h2v-2h1v2h4v-1h1v1h17v-1h1v1h7v-2h1v1h1v1h2v-2h1v2h11v-1h1v1h1v-1h1v1h6v-1h1v1h2v-1h1v1h1v-1h2v1h18v-1h2v1h2v-1h1v1h3v-1h1v1h1v-1h1v1h1v-2h1v2h3v-2h1v1h1v1h27v-2h1v2h5v-1h1v1h3v-1h1v1h5v-1h1v1h7v-1h1v1h1v-1h1v1h2v-1h2v1h16v-1h2v1h2v-2h1v2h3v-1h1v1h1v-2h1v2h10v-1h3v1h11v-1h2v1h8v-1h2v1h1v-1h1v1h3v-1h1v1h1v-1h1v1h6v-1h2v1h4v-1h1v1h6v-1h1v1h3v1h4v-1h5v-1h4v-1h1v1h3v-1h1v2h4v-1h1v1h2v-1h3v1h1v-1h1v1h9v-1h1v1h2v1h1v-1h8v-1h1v1h3v-1h1v1h10v1h3v-1h8v-1h1v1h15v-1h2v1h2v-1h4v-1h1v1h1v-1h1v1h1v1h8v-1h1v1h1v-1h1v1h10v-1h2v1h1v-1h2v1h6v-2h1v2h1v-1h5v-1h1v-2h1v3h1v1h1v-2h1v2h1v-2h1v2h2v-2h1v1h1v-2h1v3h1v-1h1v1h20v-2h1v2h5v-1h1v1h3v-1h2v1h3v-1h1v1h2v-1h1v1h1v-2h1v2h1v-2h1v2h1v-2h1v1h1v1h1v-1h1v-1h1v2h3v-1h1v1h1v-1h2v1h1v-1h1v1h1v-2h2v2h1v-2h1v2h1v-1h2v1h2v-2h1v2h1v-1h2v1h2v-2h1v1h1v1h2v-1h1v1h1v-2h1v2h1v-1h3v-1h1v1h1v1h6v-1h1v1h2v1h1v-3h1v2h2v1h1v-1h6v-2h1v2h1v-1h1v1h4v-1h1v1h3v-2h1v1h2v1h2v-1h1v1h1v-1h1v1h1v-1h1v1h1v-1h1v1h2v-2h1v1h1v1h2v-1h1v1h1v-1h1v1h5v-1h1v-1h1v2h2v-1h2v1h1v-1h2v1h5v-1h1v1h1v-1h1v1h7v-1h1v1h4v-1h1v1h1v-1h1v1h8v-1h1v1h19v-1h1v1h5v-2h1v2h5v-2h1v2h7v-2h1v1h1v1h5v-1h2v-1h1v2h4v-1h1v1h2v-1h5v1h1v-1h3v1h3v-1h1v1h6v-1h1v1h5v-1h2v1h7v1h6v-1h3v-1h1v1h1v-1h3v1h18v-1h1v1h7v-1h1v1h3v-1h1v1h3v-1h1v1h16v-1h1v1h1v-1h2v1h3v-1h1v1h8v-2h1v1h1v1h6v-1h1v1h3v-1h2v1h1v-2h1v2h2v-1h1v1h5v-1h1v1h17v-1h1v1h5v-1h1v1h6v-1h1v1h1v-2h2v2h6v-1h1v1h15v-1h1v1h5v-1h1v1h1v-1h1v1h9v-1h2v-1h1v2h11v-1h2v2h14v-2h2v1h4v-1h1v1h1v-1h1v1h2v-1h1v1h13v-1h1v1h1v-1h1v1h23v-1h1v1h4v-1h1v1h3v-1h2v1h1v-1h1v1h1v-1h1v1h2v1h7v-1h5v-2h1v2h13v-1h1v1h5v-1h1v-1h2v1h3v1h2v-1h1v1h2v-1h1v1h5v-1h1v1h3v-1h1v1h1v-1h1v1h10v-1h3v1h9v-2h1v1h1v1h16v-1h1v1h1v-2h1v1h1v1h2v-1h1v1h1v-1h2v1h3v-1h1v-1h1v1h1v1h18v1h1v-1h1v-1h1v1h3v-1h1v1h11v-1h2v1h7v-1h1v1h31v-1h1v1h3v-1h1v1h15v-1h1v1h20v-1h1v1h6v-1h2v1h1v-1h1v1h1v-2h2v1h1v1h6v-1h1v1h10v-1h1v-1h1v1h1v-1h1v1h1v-2h1v1h1v2h1v1h1v-1h1v1h3v-1h1v-1h1v1h1v-2h1v2h2v-2h1v2h3v-1h1v1h10v-1h3v1h3v-1h1v1h4v-1h2v1h3v-1h1v1h1v-1h1v1h10v-1h1v1h1v-1h1v1h17v-1h2v1h8v-1h1v1h22v-1h2v1h5v-1h1v1h1v-1h1v1h1v-2h1v1h1v1h6v-1h1v1h6v-1h1v1h1v-1h1v1h7v-1h1v1h9v-1h1v1h5v-1h1v1h6v-1h1v1h4v-2h1v2h3v-1h1v1h3v-1h1v1h5v2h-8v1h-1v-1h-4v1h-2v-1h-1v1h-3v-1h-4v1h-1v-1h-1v1h-1v-1h-2v1h-1v-1h-2v1h-1v-1h-1v1h-1v-1h-5v1h-1v-1h-9v1h-1v-1h-4v1h-2v-1h-1v1h-2v-1h-1v1h-1v-1h-1v1h-1v-1h-7v2h-1v-2h-3v1h-2v-1h-4v1h-1v1h-1v-2h-14v1h-1v-1h-4v1h-1v-1h-8v1h-1v-1h-11v1h-2v-1h-3v1h-1v-1h-3v1h-1v-1h-1v1h-1v-1h-1v1h-1v-1h-9v1h-1v-1h-2v1h-2v-1h-2v2h-1v-2h-2v1h-2v-1h-2v1h-1v-1h-6v1h-1v-1h-1v1h-1v-1h-2v1h-1v-1h-4v1h-2v-1h-3v2h-1v-1h-2v1h-1v-1h-2v-2h-2v1h-1v-1h-1v1h-1v-1h-1v2h-2v-1h-10v1h-2v-1h-1v1h-1v-1h-2v-1h-1v1h-1v-1h-1v2h-1v-1h-7v2h-1v-2h-4v2h-1v-1h-2v-1h-3v1h-2v-1h-22v1h-1v-1h-2v1h-1v-1h-9v1h-1v-1h-5v1h-1v-1h-1v1h-1v-1h-3v2h-1v-1h-1v-1h-3v1h-1v-1h-2v1h-1v-1h-1v1h-1v-1h-10v1h-1v-1h-4v1h-1v-1h-6v2h-1v-2h-7v1h-1v-1h-1v1h-1v-1h-4v1h-1v1h-1v-1h-1v-1h-2v1h-1v-1h-1v1h-1v-1h-24v1h-1v1h-1v-2h-3v2h-1v-1h-1v-1h-6v1h-1v-1h-7v1h-2v-1h-1v2h-1v-2h-1v1h-1v-2h-1v2h-1v-1h-10v2h-1v-2h-10v1h-2v-1h-4v-1h-4v1h-1v-1h-1v1h-2v1h-1v-1h-1v1h-1v-1h-7v1h-1v-1h-9v1h-1v-1h-2v1h-2v1h-1v-1h-4v-1h-7v1h-1v-1h-10v1h-1v-1h-5v1h-1v-1h-1v1h-1v-1h-9v1h-1v-1h-6v1h-1v-1h-1v1h-1v-1h-9v1h-1v-1h-2v1h-1v-1h-1v2h-1v-2h-1v1h-1v-1h-5v1h-1v1h-2v-1h-1v1h-2v-1h-6v1h-1v-1h-2v-1h-2v2h-1v-1h-1v1h-1v-2h-2v1h-1v-1h-4v1h-1v-1h-2v2h-1v-2h-1v1h-1v-1h-8v1h-1v-1h-1v1h-1v1h-1v-2h-1v1h-1v-1h-4v1h-1v-1h-1v1h-1v-1h-2v2h-1v-2h-1v1h-1v-1h-5v1h-1v-1h-1v1h-2v-1h-4v1h-2v-1h-6v1h-1v1h-1v-2h-5v1h-1v-1h-1v1h-2v-1h-5v1h-1v-1h-9v1h-1v-1h-1v1h-1v-1h-6v1h-1v1h-1v-2h-1v1h-1v-1h-16v1h-1v-1h-6v1h-1v-1h-1v1h-1v-1h-3v1h-1v-1h-9v1h-1v-1h-1v1h-1v-1h-1v1h-2v-1h-6v1h-2v-1h-6v1h-1v-1h-3v2h-1v-2h-4v1h-2v-1h-1v1h-1v-1h-3v1h-1v-1h-2v1h-1v-1h-1v1h-1v-1h-3v1h-6v1h-1v-2h-3v1h-1v-1h-7v1h-1v-1h-23v1h-1v-1h-1v1h-1v-1h-11v-1h-2v1h-22v1h-1v-1h-6v1h-1v-1h-2v1h-1v-1h-5v1h-1v-1h-1v2h-1v-2h-15v3h-1v-1h-1v-2h-5v2h-1v-1h-5v1h-1v-2h-2v1h-1v-1h-1v3h-1v-3h-4v1h-1v-1h-1v1h-1v1h-1v-2h-1v1h-2v2h-1v-2h-1v-1h-1v1h-1v1h-1v-1h-1v-1h-1v1h-3v-1h-1v2h-1v-2h-2v1h-3v-1h-1v2h-1v-2h-5v1h-4v-1h-2v1h-1v-1h-1v1h-2v-1h-1v2h-2v-1h-1v2h-1v-1h-2v-1h-1v-1h-1v1h-1v1h-1v-2h-1v1h-1v1h-1v-1h-1v2h-1v-1h-1v-2h-1v1h-3v2h-2v-3h-2v2h-1v-2h-1v1h-1v1h-1v-1h-2v-1h-1v2h-1v-2h-1v2h-1v-1h-1v-1h-2v2h-1v-1h-1v1h-2v-1h-1v1h-1v-2h-3v1h-1v2h-1v-2h-1v-1h-2v1h-1v-1h-1v2h-1v-1h-2v-1h-3v1h-1v2h-1v-2h-1v-1h-1v1h-1v-1h-1v2h-1v-1h-1v-1h-2v2h-1v-1h-2v-1h-1v2h-1v-1h-2v-1h-1v2h-1v-1h-1v2h-1v-1h-1v-2h-1v2h-1v-2h-7v1h-1v-1h-5v1h-2v-1h-1v1h-2v-1h-3v3h-1v-1h-1v3h-1v-5h-1v2h-1v1h-1v-1h-1v3h-1v-4h-1v3h-1v-3h-1v3h-2v-3h-1v2h-1v-1h-1v1h-1v-3h-1v2h-1v1h-1v-3h-9v1h-1v-1h-2v1h-2v-1h-5v1h-1v-1h-2v1h-1v-1h-9v-1h-1v1h-1v-1h-3v1h-1v-1h-1v2h-1v-1h-2v1h-1v-1h-2v1h-1v-1h-3v1h-1v-1h-3v1h-1v-1h-2v1h-1v-1h-11v2h-1v-1h-2v-1h-6v1h-1v-1h-3v1h-1v-1h-6v1h-1v-1h-4v1h-2v-1h-2v1h-1v-1h-5v1h-1v-1h-8v1h-1v-1h-6v-1h-5v1h-1v-1h-3v1h-5v1h-1v1h-3v-2h-3v2h-1v-2h-8v1h-1v-1h-3v1h-1v-1h-1v1h-1v-1h-17v1h-2v-1h-19v1h-1v-1h-4v1h-1v-1h-5v2h-1v-1h-1v-1h-1v1h-1v-1h-18v1h-1v-1h-2v1h-1v-1h-4v1h-1v-1h-5v2h-1v-2h-4v1h-1v-1h-4v1h-1v-1h-7v1h-1v-1h-2v1h-1v-1h-1v1h-2v-1h-6v2h-1v-2h-2v1h-2v-1h-2v1h-1v-1h-3v2h-1v-2h-3v1h-1v-1h-5v1h-1v-1h-3v1h-1v-1h-7v1h-1v-1h-18v1h-1v-1h-1v1h-1v-1h-5v1h-2v-1h-6v1h-1v-1h-5v1h-1v-1h-12v1h-1v-1h-3v1h-2v-1h-4v1h-2v-1h-2v1h-2v-1h-3v1h-1v-1h-1v1h-3v-1h-2v1h-3v-1h-2v1h-1v1h-2v1h-1v-3h-2v1h-2v1h-1v-1h-1v-1h-2v2h-1v1h-2v-1h-1v-1h-1v1h-1v-2h-1v1h-1v-1h-1z"/>
<path fill="#ff0000" d="M50 773h7v-1h3v-1h1v1h11v-2h1v2h4v-1h1v1h3v-1h1v1h25v-1h1v1h7v-1h1v1h5v-1h1v1h18v-1h2v1h14v-1h2v1h3v-1h1v1h3v-2h1v2h7v-1h1v1h4v-1h1v1h3v-1h1v1h3v-2h1v2h2v-1h2v1h9v-1h2v1h13v-1h1v1h10v-1h1v1h2v-1h1v1h3v-1h1v1h7v-1h1v1h5v-1h1v1h8v-1h1v1h5v-2h1v1h2v1h7v-1h1v1h6v-1h1v1h8v-1h1v1h7v-1h2v1h12v-1h1v1h2v-2h2v2h9v-2h1v2h2v-1h1v-1h1v2h4v-1h4v-1h1v1h1v1h1v1h3v-1h1v1h2v-1h8v-1h1v1h1v-1h1v1h3v-1h1v1h17v-1h1v1h1v-1h1v1h4v-2h2v1h1v1h1v-1h1v1h2v-2h1v2h2v-1h1v1h1v-1h1v1h3v-1h1v1h2v1h1v-4h1v1h1v2h1v-2h2v2h1v-1h2v1h1v-2h1v2h1v-1h1v-1h1v-1h1v2h2v1h1v-1h1v1h2v-1h1v-2h1v3h1v-2h1v2h2v-1h1v1h6v-2h1v2h1v-1h1v-1h1v2h2v1h1v-2h1v1h1v1h3v-1h8v-2h1v2h2v1h1v-3h2v2h1v-1h1v1h1v-1h1v1h4v-1h2v1h8v-1h1v1h9v-1h1v1h6v-1h1v1h5v-2h1v2h2v-1h2v1h1v-1h1v1h1v-2h1v2h7v-1h1v1h11v-1h2v1h3v-1h1v1h11v-2h1v2h1v-1h2v1h6v-1h1v1h4v-1h1v1h4v-1h1v1h6v-2h1v2h2v-1h1v1h9v-1h1v1h3v-1h1v1h22v-1h1v1h1v1h5v-1h1v-2h1v2h2v-1h1v1h3v-1h1v1h1v1h4v-1h1v1h1v-2h1v1h3v-1h2v1h20v-1h1v1h4v-3h1v2h2v1h1v-3h1v1h1v2h1v-3h1v2h1v-1h1v2h5v-1h2v1h8v-2h1v2h2v-1h1v1h19v-1h3v2h2v-1h1v1h2v-1h1v-1h1v1h24v-1h1v1h15v-1h1v1h2v-1h1v1h5v-1h1v-1h1v1h3v2h2v-1h1v-1h1v1h9v-1h1v1h15v-1h1v1h2v-1h1v1h2v-1h1v1h7v-1h1v1h14v-2h1v2h2v1h3v-2h1v1h2v-1h1v1h5v-1h1v1h3v-1h1v1h3v-1h1v-1h1v1h1v1h10v-1h1v1h8v-1h1v1h8v-1h1v1h1v1h3v-1h5v-1h1v1h1v-2h1v2h10v-1h2v1h5v-1h1v1h7v-1h2v1h8v-1h1v1h2v-1h1v1h3v-1h1v1h1v1h5v-1h3v-1h1v1h5v-1h1v1h5v-1h1v1h3v-1h1v1h4v-1h2v1h16v-1h1v1h9v-1h1v1h6v-1h1v1h4v-1h1v1h4v-2h1v2h4v-1h1v1h1v-1h1v1h3v-1h1v1h12v-2h1v2h1v-1h1v1h8v-1h1v1h7v-2h1v2h5v-1h2v1h1v-2h1v2h2v-1h1v1h2v-1h1v1h2v-1h2v1h5v-2h1v2h2v-2h1v2h2v-2h1v2h2v-1h1v1h1v-1h1v1h13v-2h1v2h13v-2h1v2h2v-1h2v1h2v-1h2v1h9v-2h1v2h6v-4h1v4h12v-1h1v1h1v-1h1v1h4v-1h1v1h5v-1h1v1h31v-2h1v2h1v-1h1v1h1v-1h1v1h1v-1h1v1h5v-1h2v1h5v-1h1v1h1v-1h1v1h11v-1h1v1h2v-1h1v1h5v-1h1v1h16v-1h2v1h7v-1h1v1h5v-1h1v1h4v-1h2v1h4v-1h1v1h1v-1h1v1h2v-1h1v1h8v-1h2v1h2v-1h1v1h2v-1h2v1h3v-1h1v1h13v-2h1v2h4v-1h1v1h5v-1h1v1h9v-1h2v1h11v-1h1v1h9v-1h1v1h1v-1h1v1h20v-1h1v2h7v-1h2v-1h1v1h1v-1h1v1h4v-1h1v1h1v-1h2v-1h1v1h1v1h15v-1h5v-1h2v1h5v1h1v-1h1v1h9v-1h1v1h9v1h1v-2h1v1h1v-1h1v1h7v-1h1v3h-5v2h-1v-2h-5v1h-1v-1h-3v1h-1v-1h-6v1h-1v-1h-1v1h-1v-1h-3v1h-3v-1h-2v-1h-1v1h-1v-1h-2v2h-1v-2h-3v1h-1v-1h-2v1h-10v1h-1v-1h-3v1h-1v-1h-6v1h-2v-1h-4v1h-2v-1h-2v1h-2v1h-1v-1h-4v-1h-2v1h-2v-1h-2v1h-1v-1h-2v1h-2v-1h-2v1h-1v-1h-3v1h-1v-1h-6v1h-1v-1h-2v1h-1v-1h-1v1h-2v-1h-1v2h-1v-2h-1v1h-2v-1h-2v2h-1v-2h-4v1h-2v-1h-1v1h-1v-1h-5v1h-1v-1h-2v1h-1v-1h-4v1h-2v-1h-3v1h-2v1h-1v-2h-4v1h-1v-1h-3v1h-1v-1h-1v1h-1v-1h-3v1h-1v-1h-7v1h-1v-1h-8v1h-2v-1h-1v1h-1v-1h-1v1h-2v-1h-1v1h-1v-1h-5v2h-1v-2h-7v1h-1v-1h-6v1h-2v-1h-1v1h-1v-1h-2v1h-1v-1h-5v1h-3v-1h-3v1h-1v-1h-1v1h-1v-1h-1v1h-1v-1h-3v1h-1v-1h-5v1h-1v-1h-1v1h-1v-1h-2v2h-1v-2h-4v1h-1v-1h-4v1h-2v-1h-2v1h-1v-1h-1v1h-1v-1h-3v1h-1v-1h-2v1h-1v-1h-4v1h-1v-1h-1v1h-1v-1h-1v1h-2v-1h-6v1h-1v-1h-3v1h-1v-1h-1v1h-2v-1h-1v1h-1v-1h-1v1h-1v-1h-10v2h-1v-2h-1v1h-1v-1h-4v1h-3v-1h-1v1h-1v-1h-3v1h-1v-1h-1v1h-1v-1h-1v1h-1v-1h-2v1h-1v1h-1v-2h-13v1h-1v-1h-7v1h-1v-1h-2v2h-1v-2h-1v1h-2v-1h-5v1h-1v-1h-3v1h-1v-1h-11v1h-2v-1h-5v1h-1v-1h-2v1h-1v-1h-3v1h-1v-1h-10v1h-1v-1h-5v1h-1v-1h-3v1h-1v-1h-1v1h-1v-1h-5v1h-1v-1h-6v1h-1v-1h-3v2h-1v-2h-5v1h-1v-1h-6v1h-2v-1h-14v1h-1v-1h-1v1h-1v-1h-4v1h-1v-1h-1v1h-1v-1h-8v1h-1v-1h-7v1h-2v-1h-3v1h-1v-1h-3v1h-1v-1h-1v2h-1v-2h-3v1h-2v-1h-1v2h-1v-1h-1v-1h-2v1h-1v-1h-4v1h-1v-1h-14v1h-1v1h-1v-1h-4v-1h-4v1h-3v-1h-2v1h-1v-1h-4v1h-1v-1h-2v2h-1v-2h-5v1h-1v-1h-2v1h-1v-1h-1v1h-2v-1h-2v1h-1v-1h-1v1h-1v-1h-1v1h-2v-1h-2v1h-1v-1h-1v1h-1v-1h-2v1h-1v-1h-5v1h-4v-1h-24v1h-1v-1h-1v1h-1v-1h-2v1h-1v-1h-7v2h-1v-2h-4v1h-1v-1h-6v1h-4v-1h-1v1h-1v-1h-1v1h-1v-1h-1v1h-1v-1h-4v1h-1v-1h-1v1h-1v-1h-10v1h-1v1h-1v-2h-10v1h-1v-1h-11v1h-1v-1h-3v1h-1v1h-1v-1h-1v-1h-5v1h-2v-2h-5v1h-3v2h-1v-1h-1v-1h-3v6h-1v-6h-2v1h-1v-1h-10v1h-1v-1h-6v1h-1v-1h-5v1h-1v-1h-6v1h-1v-1h-1v1h-1v-1h-1v1h-2v-1h-2v1h-6v-1h-6v1h-1v-1h-1v1h-1v-1h-1v1h-1v-1h-1v1h-4v-1h-4v1h-1v-1h-3v1h-1v-1h-11v1h-2v-1h-1v1h-2v-1h-1v2h-2v-2h-1v1h-1v-1h-3v2h-1v-1h-1v1h-1v-2h-1v1h-1v-1h-10v1h-1v-1h-4v1h-1v-1h-9v1h-1v-1h-2v2h-1v-1h-1v1h-1v-1h-3v-1h-3v1h-1v-1h-5v1h-1v1h-1v-1h-1v1h-1v-1h-1v1h-1v-2h-2v1h-1v-1h-6v1h-1v-1h-7v1h-1v-1h-3v2h-1v-2h-3v2h-1v-2h-5v2h-2v-1h-1v-1h-3v1h-2v-1h-9v1h-1v-1h-4v1h-2v-1h-3v1h-2v-1h-1v1h-1v-1h-2v1h-1v1h-1v-2h-6v1h-1v-1h-2v1h-1v-1h-1v1h-1v-1h-8v1h-1v-1h-3v1h-1v-1h-2v1h-1v1h-1v-1h-2v-1h-2v1h-1v-1h-2v1h-2v-1h-8v1h-1v-1h-3v1h-3v-1h-2v1h-1v-1h-8v2h-1v-2h-1v1h-1v-1h-11v1h-1v-1h-5v1h-1v-1h-3v1h-1v-2h-1v1h-1v1h-1v-1h-3v1h-1v-1h-3v1h-1v-1h-3v1h-4v1h-2v-1h-1v-1h-1v1h-1v-1h-1v1h-1v-1h-3v1h-1v-1h-1v2h-1v-1h-1v-1h-2v1h-2v-1h-4v1h-1v1h-1v2h-2v-3h-1v-1h-1v1h-1v-1h-1v1h-3v-1h-1v1h-2v2h-1v-2h-1v1h-2v-1h-1v1h-1v-1h-2v2h-1v-2h-1v1h-1v-1h-1v-1h-3v3h-2v3h-1v-6h-2v1h-1v-1h-1v4h-1v-4h-5v1h-1v-1h-3v1h-1v-1h-9v1h-1v-1h-4v1h-1v1h-1v-2h-9v1h-1v-1h-4v1h-3v1h-1v-1h-4v-1h-1v-1h-5v3h-1v-2h-15v1h-1v-1h-2v1h-1v-1h-2v1h-1v-1h-1v1h-2v-1h-3v1h-2v-1h-1v1h-1v-1h-4v2h-1v-2h-2v2h-1v-2h-1v2h-1v-2h-1v1h-1v-1h-1v1h-1v-1h-2v1h-1v-1h-5v2h-1v-2h-2v1h-2v-1h-6v1h-2v-1h-2v1h-1v-1h-9v1h-2v-1h-8v2h-1v-1h-2v-1h-1v1h-2v-1h-10v1h-1v-1h-13v1h-2v-1h-2v1h-2v-1h-6v1h-1v-1h-1v2h-1v-2h-6v1h-1v-1h-6v1h-3v-1h-1v2h-1v-1h-1v-1h-8v1h-1v-1h-8v1h-1v-1h-1v1h-1v-1h-10v1h-1v-1h-26v1h-1v-1h-2v1h-2v-1h-4v1h-1v-1h-8v1h-1v-1h-2v1h-1v-1h-4v1h-2v-1h-1v1h-2v-1h-6v1h-2v-1h-2v1h-2v1h-1v-2h-5v1h-1v1h-1v-2h-10v2h-1v-2h-2v1h-5v1h-2v-1h-1z"/>
<path fill="#0000ff" d="M50 802h7v-1h1v1h8v-1h1v1h3v1h2v-1h1v1h2v-1h1v1h1v-1h8v-2h1v2h8v-1h1v1h8v-2h1v1h3v1h8v-1h2v1h46v-1h2v1h1v-1h1v1h1v-1h1v1h4v-1h1v1h3v-1h1v1h7v-1h1v1h4v-1h1v1h1v-1h1v1h2v-1h1v1h15v-1h2v-1h2v2h6v-1h2v1h1v-1h1v1h13v-1h1v1h14v-1h1v1h1v-2h1v2h1v-1h2v1h23v-1h1v1h12v1h2v-1h4v-1h1v1h1v-3h1v2h2v1h5v-1h1v-1h1v2h10v-1h1v-1h1v1h5v1h5v-1h1v1h6v-1h2v1h9v-1h1v1h4v-1h1v1h6v-2h1v1h1v1h1v1h14v-1h6v-1h2v1h5v-1h1v1h1v-1h1v1h1v-2h1v1h1v1h8v-3h2v3h1v-3h1v3h1v-5h2v5h1v-6h1v5h1v-1h1v-4h1v2h1v-1h2v3h1v-4h2v2h1v1h1v1h1v-3h1v4h1v-1h1v-1h1v-14h1v-14h1v2h1v22h1v-2h1v-1h1v2h1v-27h1v14h1v3h1v6h1v-7h1v12h1v-21h1v4h1v14h1v1h1v2h1v-22h2v21h1v-3h1v2h1v-6h1v-17h1v-9h1v27h2v-13h1v11h1v-1h1v-3h1v-5h1v6h1v11h1v5h1v3h1v-2h2v1h1v-6h1v5h3v-3h1v5h1v-3h2v-1h1v4h1v-1h3v-1h3v2h1v-3h2v3h2v-2h1v2h1v-3h1v3h3v-1h2v1h2v-1h1v1h1v1h1v-3h1v3h2v-3h1v2h1v1h1v-2h1v1h1v-1h2v1h1v-2h1v2h3v-1h2v1h2v-2h1v2h6v-2h1v2h1v-1h1v1h2v-2h1v2h5v1h2v-1h2v-1h1v2h2v-1h1v-2h1v1h1v1h1v-1h1v1h4v-1h1v1h4v-1h5v1h1v-1h1v1h2v-1h5v1h3v-1h3v1h5v-1h1v-1h1v2h2v-2h1v2h2v-2h1v2h3v-1h1v1h2v-2h1v2h8v-1h1v1h2v-2h1v2h1v-2h1v2h1v-1h1v1h2v-1h1v-1h2v2h4v-1h1v-1h1v2h1v-1h1v-1h1v1h1v1h1v-1h2v1h1v-2h1v1h1v1h1v-1h1v-1h1v2h2v-1h1v1h1v-2h1v1h1v1h1v-1h2v1h1v-1h1v1h2v-1h1v1h4v-1h1v1h1v-1h5v1h3v-1h1v1h1v-2h1v2h2v-2h1v2h1v-1h1v1h4v-1h1v1h2v-1h2v1h4v-1h1v-1h1v2h3v-2h2v2h4v-1h1v1h1v-1h1v1h1v-1h1v-1h1v2h2v-2h2v1h3v1h3v-1h1v1h8v-1h1v1h4v-1h2v1h6v-1h2v-1h1v1h1v1h4v-1h1v-1h1v2h3v-1h2v1h2v-1h1v1h5v-1h1v-1h1v2h8v-1h1v1h10v-1h1v1h15v-2h1v2h1v-1h1v1h7v-1h2v1h3v-1h1v1h17v-1h1v1h21v-2h1v2h7v-1h1v1h3v-2h1v2h13v-1h1v1h1v-1h1v1h3v-1h1v1h1v-1h1v1h4v-1h1v1h1v-1h1v1h2v-1h1v1h1v-1h1v1h1v-1h2v1h9v-1h1v1h4v-1h2v1h1v-1h1v2h3v-2h1v2h10v-2h1v1h5v-1h1v1h1v-1h1v1h2v-1h1v1h37v-2h1v2h7v-2h1v2h6v-1h2v1h1v-4h1v3h1v1h2v-1h1v1h2v-2h1v1h1v1h1v-1h1v1h3v-1h1v1h1v-2h1v2h2v-1h3v1h1v-2h1v1h1v1h4v-2h1v2h1v-1h1v-1h1v1h2v-1h1v1h6v1h1v-1h1v1h1v-1h1v1h1v-2h1v2h6v-1h1v1h1v-1h1v1h2v-1h1v1h1v-1h2v1h2v-1h1v-1h1v2h3v-1h2v1h1v-2h1v1h1v1h3v-1h1v1h3v-1h1v1h5v-1h1v1h1v-1h2v1h2v-1h2v1h1v-1h1v1h2v-1h1v1h2v-2h1v2h1v-1h1v1h3v-2h1v2h12v-2h1v1h3v1h1v-1h1v1h4v-1h3v1h1v-1h1v1h1v-1h1v1h1v-1h1v1h3v-1h1v1h1v-1h1v1h1v-1h3v2h1v-1h1v-2h1v1h1v2h1v-3h1v1h1v1h1v-2h1v1h1v-1h1v2h1v-2h1v2h1v-1h1v-1h1v2h3v-1h2v1h1v-2h1v2h3v-1h1v1h1v-1h1v1h2v-1h1v1h3v-1h1v1h1v-1h1v1h2v-2h1v2h1v-1h2v1h3v-1h1v1h7v-1h1v1h1v-1h4v1h3v-1h1v1h1v-1h3v1h2v-1h1v1h2v-1h2v1h1v-1h1v1h1v-1h1v1h1v-1h3v-1h1v2h1v-1h1v-1h1v2h1v-1h1v1h2v-1h1v1h6v-1h1v1h1v-1h1v1h4v-2h1v2h1v-1h2v1h5v-1h1v-1h1v2h2v-2h1v2h2v-2h2v2h1v-2h1v2h1v-2h1v2h8v-2h1v2h1v-1h1v1h2v-1h2v1h1v-1h1v1h1v-1h1v1h8v-2h1v2h7v-1h1v-1h1v2h1v-1h2v1h1v-1h1v-1h1v2h3v-1h1v1h10v-1h1v1h16v-1h1v1h22v-1h2v-1h1v2h25v-1h1v1h17v-1h1v1h1v-1h2v1h4v-1h1v1h10v-1h1v1h3v-1h1v-1h1v1h4v1h4v-1h1v1h18v-1h1v1h1v-1h4v1h3v2h-1v1h-1v-1h-2v-1h-3v1h-1v1h-1v-1h-2v1h-1v-1h-4v1h-3v-1h-4v1h-1v-1h-5v1h-1v-1h-3v-1h-1v1h-2v-1h-2v1h-5v1h-1v-1h-2v1h-2v-1h-2v2h-1v-2h-1v1h-1v-1h-2v1h-1v-1h-2v1h-1v-1h-2v1h-1v-1h-3v1h-1v-1h-3v1h-1v-1h-1v1h-1v-1h-3v1h-1v-1h-1v1h-1v-1h-13v1h-2v-1h-8v1h-1v-1h-2v2h-1v-2h-6v1h-1v-1h-1v1h-1v-1h-1v1h-1v-1h-7v1h-1v-1h-14v1h-1v-1h-1v1h-1v-1h-2v1h-1v-1h-6v1h-2v-1h-3v2h-1v-2h-5v1h-1v-1h-3v1h-1v-1h-2v1h-1v-1h-4v1h-1v-1h-1v1h-1v-1h-4v1h-2v-1h-2v1h-2v-1h-7v1h-1v-1h-1v1h-1v1h-1v-2h-4v2h-2v-2h-1v1h-1v2h-1v-3h-1v2h-1v-1h-1v-1h-1v2h-2v-1h-1v2h-1v-2h-1v-1h-1v1h-1v-1h-1v1h-1v-1h-2v1h-1v-1h-3v1h-1v-1h-1v2h-1v-1h-1v-1h-2v1h-1v1h-1v-2h-1v1h-1v-1h-2v1h-1v-1h-1v1h-1v-1h-1v1h-1v-1h-1v1h-1v1h-1v-1h-2v-1h-1v1h-1v-1h-2v2h-2v-1h-4v1h-1v-1h-1v1h-1v1h-1v-3h-2v2h-1v-1h-1v-1h-3v2h-2v-1h-4v1h-2v-2h-1v1h-1v-1h-1v2h-1v-2h-2v1h-2v2h-1v-2h-4v1h-1v-2h-1v1h-1v1h-1v-2h-3v2h-2v-2h-2v3h-1v-1h-1v-1h-1v1h-1v-1h-1v1h-1v-2h-7v1h-2v-1h-1v1h-2v-1h-2v2h-1v-1h-1v1h-1v-1h-2v-1h-1v3h-1v-2h-1v1h-1v-1h-1v2h-1v-1h-3v1h-1v-2h-2v1h-1v-2h-1v1h-2v-1h-1v3h-1v-1h-1v-2h-2v1h-3v1h-1v-1h-1v-1h-1v1h-1v1h-2v-1h-1v1h-1v-2h-1v1h-2v-1h-2v2h-2v-1h-1v1h-1v-1h-1v1h-1v-1h-1v1h-1v-1h-5v1h-1v-1h-1v-1h-2v1h-1v1h-1v-2h-1v1h-1v-1h-2v2h-2v-2h-2v2h-1v-1h-1v-1h-1v1h-1v1h-2v-1h-1v-1h-2v1h-2v-1h-1v2h-1v-1h-1v-1h-1v1h-1v2h-1v-1h-1v-1h-1v1h-1v-1h-1v1h-1v-2h-1v1h-3v-1h-1v1h-1v-1h-1v1h-1v-1h-1v2h-1v-1h-2v1h-1v-2h-1v2h-2v-1h-1v-1h-1v2h-2v-1h-2v-1h-1v1h-5v-1h-1v2h-1v-2h-1v1h-1v-1h-3v1h-2v1h-1v-2h-2v3h-1v-2h-1v1h-2v-1h-2v-1h-1v1h-2v-1h-1v1h-2v1h-1v-2h-1v2h-1v-1h-1v-1h-1v1h-1v-1h-2v2h-1v-1h-3v1h-1v-2h-1v1h-1v-1h-1v1h-3v1h-1v-1h-1v-1h-1v1h-2v-1h-2v1h-1v-1h-10v1h-1v-1h-1v2h-1v-2h-2v1h-3v-1h-2v2h-1v-2h-9v1h-3v-1h-2v2h-1v-2h-2v1h-1v-1h-4v1h-1v-1h-10v1h-1v-1h-1v1h-1v-1h-1v1h-11v1h-1v-1h-1v1h-1v-1h-2v-1h-4v1h-2v-1h-7v1h-1v-1h-3v2h-1v-2h-3v1h-4v-1h-2v1h-2v1h-1v-2h-5v1h-1v-1h-1v1h-2v1h-1v-2h-9v1h-1v-1h-3v1h-2v-1h-8v1h-1v-1h-1v1h-1v-1h-1v1h-2v-1h-6v1h-1v-1h-7v1h-1v-1h-1v1h-1v-1h-9v1h-1v-1h-2v1h-1v-1h-2v1h-1v-1h-3v1h-1v-1h-8v1h-1v-1h-3v1h-1v-1h-2v1h-1v-1h-2v1h-3v-1h-2v1h-1v-1h-7v1h-1v-1h-1v1h-1v1h-1v-1h-2v-1h-4v1h-1v-1h-7v2h-1v-2h-15v1h-2v-1h-3v1h-1v-1h-3v-1h-1v1h-1v-1h-1v1h-1v1h-1v-1h-2v1h-1v-1h-2v1h-1v-1h-6v1h-1v-1h-8v1h-2v1h-1v-1h-3v1h-2v-1h-1v1h-1v-1h-1v-1h-1v2h-1v-2h-1v1h-1v2h-1v-1h-1v-1h-2v2h-1v-1h-1v-2h-4v1h-2v1h-1v-2h-1v2h-1v-1h-1v-1h-1v2h-2v-1h-2v-1h-2v1h-2v1h-1v-2h-2v2h-1v-1h-5v-1h-4v2h-1v1h-1v-2h-1v-1h-1v1h-2v1h-1v-2h-1v1h-1v-1h-1v1h-6v-1h-1v1h-1v-1h-1v2h-1v-2h-1v1h-1v1h-1v-2h-1v2h-1v-1h-1v-1h-3v2h-1v-1h-1v1h-1v-1h-1v-1h-2v2h-1v-1h-1v2h-1v-2h-3v1h-1v-1h-1v-1h-1v2h-1v-1h-1v-1h-1v1h-1v3h-1v-4h-1v1h-2v1h-1v-2h-1v1h-1v1h-2v-2h-2v2h-3v-1h-1v2h-1v-1h-1v-1h-1v2h-1v-1h-2v-2h-2v2h-3v-1h-2v5h-1v-4h-1v-2h-1v2h-1v-2h-1v1h-2v1h-1v-1h-1v-1h-1v1h-4v-1h-1v1h-1v-1h-1v2h-1v-1h-2v-1h-1v1h-1v-1h-1v1h-2v1h-1v1h-1v-3h-2v2h-1v-1h-1v1h-1v-1h-2v1h-1v-2h-1v3h-1v-3h-1v1h-1v1h-1v-1h-1v1h-1v-1h-4v1h-1v-1h-2v2h-1v-1h-1v-2h-1v1h-2v-1h-1v2h-1v-2h-1v1h-2v-1h-2v1h-1v-1h-1v1h-6v-1h-2v1h-2v1h-1v-1h-1v1h-2v-1h-2v2h-1v-1h-1v1h-1v-2h-2v1h-2v-2h-1v1h-2v-1h-2v3h-2v-2h-1v3h-1v-3h-1v2h-1v1h-1v-3h-1v1h-1v-2h-1v1h-1v-1h-1v4h-1v1h-1v-5h-1v1h-1v3h-1v-1h-1v3h-1v-4h-1v-1h-1v5h-1v-1h-1v-1h-1v-1h-2v-1h-1v-1h-1v1h-3v5h-2v22h-1v-23h-1v8h-1v1h-1v-1h-1v8h-1v-14h-1v1h-1v11h-1v-7h-1v-6h-1v-1h-2v1h-1v-2h-1v15h-1v-13h-1v1h-1v1h-1v21h-1v-21h-1v4h-1v23h-1v-11h-2v-5h-2v-11h-3v-4h-1v15h-1v-14h-1v8h-1v-9h-1v-1h-1v-1h-1v2h-1v-1h-2v2h-2v-4h-1v3h-1v1h-1v-2h-1v-1h-1v1h-1v-2h-1v1h-1v-1h-1v-2h-1v5h-1v-4h-1v-1h-1v2h-1v-2h-2v5h-1v-5h-1v1h-2v3h-1v-4h-1v3h-1v-2h-2v-1h-1v2h-3v-1h-1v-1h-1v2h-1v-1h-1v-1h-2v1h-1v1h-2v-1h-2v-1h-2v1h-1v-1h-1v1h-3v1h-1v-1h-2v1h-1v-1h-7v-1h-3v1h-1v-1h-4v1h-1v-1h-1v1h-1v-1h-1v2h-1v-2h-7v1h-1v-1h-7v2h-1v-1h-1v-1h-4v1h-1v-1h-4v-1h-1v2h-1v-2h-4v1h-1v1h-2v-1h-13v1h-1v-1h-2v4h-1v-4h-5v1h-4v-1h-11v-1h-1v2h-1v-1h-5v1h-1v-1h-8v1h-2v-1h-5v1h-1v-1h-8v1h-2v-1h-1v1h-1v-1h-1v1h-1v-1h-4v1h-1v-1h-8v1h-1v-1h-1v1h-1v-1h-1v1h-2v-1h-3v1h-1v-1h-7v-1h-3v1h-2v1h-1v-1h-5v1h-2v-1h-4v1h-2v-1h-1v1h-1v-1h-10v1h-4v-1h-7v1h-3v-1h-11v1h-1v-1h-7v1h-1v-1h-5v1h-1v-1h-1v1h-1v-1h-12v1h-2v-1h-8v1h-1v-1h-1v1h-1v-1h-11v-1h-3v1h-5v1h-1v-1h-9v1h-1v-1h-4v1h-2v-1h-4v1h-1v1h-1v-1h-5v-1h-5v1h-2v-1h-1v1h-1v-1h-4v1h-1v-1h-1v1h-2v-1h-1v1h-1v-1h-1z"/>
<path fill="#006400" d="M50 832h5v-1h1v1h11v-1h1v1h5v-1h1v1h6v-2h1v2h6v-1h1v1h5v-1h1v1h3v-1h1v1h15v-1h2v1h12v-1h1v1h2v-2h1v2h5v-1h1v1h1v-1h1v1h1v-2h1v2h2v-1h1v1h3v-1h1v1h13v-2h1v2h3v-2h1v2h4v-1h1v1h2v-1h1v1h7v-1h1v1h6v-1h1v1h21v-2h1v2h2v-1h2v1h5v-1h1v1h5v-1h1v1h6v-1h2v-1h1v1h1v1h8v-1h1v1h7v-1h1v1h1v1h4v-1h8v-1h1v1h9v-1h2v1h8v-1h2v1h3v-1h1v1h19v-1h2v1h1v-1h1v1h5v-1h1v1h26v-1h1v1h4v-1h1v1h7v-1h1v1h10v-1h1v1h2v-1h2v1h8v-1h1v1h5v-1h1v1h5v-1h1v1h1v-1h1v1h29v-7h1v7h8v-1h1v1h3v-1h1v1h16v-1h1v1h3v-1h1v1h7v-1h1v1h13v-1h2v1h4v-1h1v1h1v-1h1v1h2v-1h2v1h4v-1h1v1h1v-1h1v1h2v-1h1v1h1v1h1v-1h1v-1h1v1h3v-1h1v1h10v-1h1v1h17v-2h1v2h5v-2h1v2h6v-1h1v1h4v-1h1v1h13v-1h1v1h8v-1h1v1h7v-1h1v1h1v-1h1v1h10v-1h1v1h27v-1h1v1h6v-1h1v1h3v-1h1v1h4v-1h1v1h5v-1h1v1h3v-2h1v2h1v-1h1v1h7v-1h1v-1h1v1h1v1h1v-1h1v1h1v-1h1v1h5v-1h1v1h1v-1h1v1h3v-1h1v1h7v-1h2v1h3v-1h1v1h2v-1h1v1h8v-2h1v2h6v-2h1v2h1v-1h1v1h2v-1h6v1h9v-1h4v1h3v-1h1v1h10v-1h1v1h14v-1h1v1h4v-1h1v1h17v-2h1v2h1v-1h2v1h2v-1h1v1h5v-1h1v1h12v-1h1v1h3v-1h1v1h1v-1h1v1h9v-1h1v1h10v-1h1v1h1v-1h2v1h14v-2h1v2h7v-1h1v1h1v-1h1v1h5v-2h1v2h10v-1h1v1h1v-1h1v1h1v-1h1v1h10v-2h1v1h2v1h1v-1h2v1h7v-1h1v1h2v1h1v-1h9v-2h1v2h2v-1h2v1h1v-1h1v1h14v-1h1v1h1v-1h2v1h5v-1h2v1h12v-1h1v1h6v-1h2v1h31v-2h1v2h1v-1h1v1h1v-1h1v1h9v-1h1v1h5v1h1v-1h12v-1h2v1h1v-2h1v2h10v-1h1v1h9v-1h1v1h5v1h3v-2h5v2h2v-1h1v1h1v-1h1v1h2v-2h2v1h2v-2h1v2h1v-1h1v1h3v-1h1v1h4v-1h1v1h25v-1h1v1h2v-1h1v-1h1v2h5v-1h1v1h5v-1h1v1h5v-1h1v1h7v-1h1v1h1v-1h1v1h1v1h1v-2h1v2h1v-1h10v-1h1v1h11v-1h1v1h2v-1h1v1h2v-1h1v1h9v-1h1v1h5v-2h1v2h4v-1h1v1h3v-1h1v1h3v-1h1v1h7v-2h1v1h1v1h32v-2h1v2h1v-1h1v1h4v-1h2v1h1v-1h1v1h4v-1h1v1h2v-1h1v1h4v-1h1v1h1v-2h1v2h13v-1h1v1h16v-2h1v1h1v1h5v-1h1v1h4v-1h1v1h10v-1h1v1h9v-1h1v1h3v-1h1v1h3v-1h2v1h6v-1h1v1h1v-1h1v1h11v-2h1v1h1v1h1v-1h1v1h1v-1h1v1h11v-1h1v1h4v-2h1v2h2v-1h3v-1h1v2h4v-1h1v1h3v-1h4v1h7v-1h1v1h3v-1h1v1h6v-1h1v1h8v-1h1v1h3v-1h1v1h2v-2h1v1h3v1h8v-1h1v1h1v-1h1v1h1v-1h1v1h7v2h-28v1h-1v-1h-8v1h-1v-1h-6v1h-1v-1h-4v1h-1v-1h-12v1h-1v-1h-10v1h-1v-1h-1v1h-1v-1h-8v1h-1v-1h-8v1h-1v-1h-5v2h-1v-2h-7v1h-1v-1h-2v2h-1v-1h-1v-1h-2v1h-1v-1h-2v1h-1v-1h-5v1h-1v-1h-3v1h-1v-1h-3v1h-1v-1h-1v1h-1v-1h-3v1h-2v-1h-3v1h-3v-1h-2v1h-1v-1h-17v1h-1v-1h-1v1h-1v-1h-8v1h-1v-1h-1v1h-1v-1h-4v2h-1v-2h-13v1h-1v-1h-1v2h-1v-2h-9v1h-1v-1h-13v1h-1v-1h-8v1h-1v-1h-2v2h-1v-2h-3v1h-1v-1h-2v1h-1v-1h-4v1h-1v-1h-1v1h-1v-1h-2v1h-1v-1h-2v1h-1v-1h-3v1h-1v-1h-6v1h-1v-1h-4v1h-1v-1h-1v2h-1v-2h-2v1h-2v-1h-2v1h-2v-1h-5v1h-2v-1h-3v1h-1v-1h-13v2h-1v-2h-5v2h-1v-2h-4v1h-2v1h-1v-2h-4v1h-1v-1h-14v1h-1v-1h-1v1h-1v-1h-15v1h-1v-1h-11v1h-1v-1h-2v1h-1v-1h-3v1h-2v-1h-4v1h-1v-1h-2v1h-1v-1h-2v1h-1v-1h-1v2h-1v-1h-1v1h-1v-1h-2v1h-1v2h-1v-1h-1v-1h-1v1h-1v-1h-1v-1h-1v-2h-5v3h-2v-1h-2v-1h-2v1h-1v-1h-4v1h-1v-1h-2v1h-1v-1h-1v1h-1v-1h-6v1h-1v-1h-4v2h-1v-2h-5v1h-1v-1h-4v1h-1v-1h-4v1h-1v2h-1v-3h-13v1h-1v-1h-5v2h-1v-2h-3v1h-1v-1h-1v1h-1v-1h-6v1h-1v-1h-5v1h-2v-1h-3v1h-1v-1h-3v2h-1v-2h-2v1h-1v-1h-1v1h-1v-1h-1v2h-1v-1h-1v-1h-7v1h-1v-1h-5v1h-1v-1h-1v1h-1v-1h-2v1h-1v-1h-5v1h-1v-1h-1v1h-2v-1h-2v1h-1v-1h-4v1h-1v-1h-2v1h-1v-1h-3v1h-1v-1h-1v1h-1v-1h-1v1h-1v-1h-9v1h-2v-1h-7v2h-1v-2h-4v1h-1v-1h-7v1h-2v-1h-1v1h-1v-1h-4v1h-1v-1h-12v1h-1v-1h-6v1h-1v-1h-2v1h-1v-1h-4v1h-1v-1h-4v1h-1v-1h-6v1h-1v-1h-10v1h-1v-1h-2v1h-1v-1h-1v1h-2v-1h-7v1h-1v-1h-3v2h-1v-2h-4v1h-1v-1h-17v1h-1v-1h-1v1h-3v-1h-3v1h-1v-1h-2v1h-1v-1h-2v2h-1v-2h-1v1h-2v-1h-1v1h-1v-1h-1v2h-1v-2h-4v1h-1v-1h-1v1h-1v-1h-1v1h-2v-1h-3v2h-1v-2h-1v1h-1v-1h-1v1h-1v-1h-2v1h-1v-1h-17v-1h-1v1h-1v-1h-1v1h-1v1h-1v-1h-1v1h-1v-1h-5v2h-1v-3h-3v1h-1v-1h-2v1h-7v1h-1v-1h-12v1h-1v-1h-6v1h-1v3h-1v-4h-2v1h-1v-1h-6v2h-1v-2h-8v1h-1v-1h-2v1h-1v-1h-1v1h-1v-1h-3v2h-1v-1h-1v1h-1v-1h-3v-1h-7v1h-1v-1h-1v1h-1v-1h-2v1h-3v-1h-1v1h-1v-1h-4v6h-1v-6h-6v1h-1v-1h-6v1h-1v-1h-6v1h-1v-1h-2v1h-1v-1h-4v1h-1v-1h-2v1h-1v-1h-7v1h-1v-1h-24v1h-1v-1h-2v1h-1v-1h-2v1h-1v-1h-2v1h-1v-1h-1v2h-1v-2h-3v1h-1v-1h-2v2h-1v-2h-1v1h-1v-1h-4v1h-1v-1h-4v2h-1v-2h-6v1h-2v-1h-3v1h-1v-1h-5v1h-1v-1h-6v1h-1v-1h-3v1h-1v-1h-7v1h-1v2h-1v-3h-3v1h-1v-1h-1v1h-1v-1h-6v2h-1v-2h-5v2h-1v-2h-5v1h-1v-1h-10v1h-1v-1h-2v1h-1v-1h-1v1h-1v-1h-5v1h-1v-1h-3v1h-2v-1h-5v1h-2v-1h-5v1h-1v-1h-1v1h-1v-1h-11v2h-1v-1h-1v-1h-6v1h-1v-1h-2v1h-1v-1h-5v1h-1v-1h-1v1h-1v-1h-9v1h-1v-1h-1v2h-1v-2h-3v1h-2v-1h-8v1h-1v-1h-5v2h-1v-2h-7v2h-1v-1h-4v-1h-4v1h-1v-1h-5v1h-1v-1h-1v1h-1v-1h-3v1h-1v-1h-1v1h-1v-1h-2v1h-1v-1h-9v1h-1v-1h-12v1h-1v-1h-3v1h-1v1h-1v-2h-5v2h-1v-2h-5v2h-1v-2h-8v2h-1v-2h-3v1h-1v-1h-2v1h-1v-1h-1v1h-1v-1h-3v1h-1v-1h-1v1h-1v-1h-4v1h-1v-1h-5v1h-1v-1h-6v1h-1v-1h-2v1h-4v1h-1v-2h-8v1h-1v-1h-11v2h-1v-2h-1v1h-2v-1h-2v1h-1v-1h-3v1h-1v-1h-1v1h-1v-1h-1v1h-1v-1h-1v1h-1v-1h-1v1h-1v-1h-7v1h-2v-1h-4v2h-1v-1h-1v-1h-1v1h-1v-1h-2v1h-1v-1h-1v1h-1v-1h-6v1h-1v-1h-2v1h-1v-1h-3v1h-1v-1h-9v1h-1v-1h-3v1h-1v-1h-7v1h-2v-1h-5v1h-1v-1h-6v1h-2v-1h-3v1h-1v-1h-4v1h-1v-1h-5v1h-2v-1h-2v2h-1v-2h-5v2h-1v-2h-5v1h-2v-1h-3v1h-1v-1h-2v1h-1v-1h-6v2h-1v-1h-1v-1h-1v1h-1v-1h-8v1h-1v-1h-1v1h-1v-1h-1v1h-1v-1h-1v1h-1v-1h-7v1h-1v-1h-3v2h-1v-2h-3v1h-1v-1h-5v1h-1v-1h-2v1h-1v-1h-4z"/>
<path fill="#000000" d="M50 862h6v-1h1v1h3v-1h1v1h7v-1h1v1h8v-1h1v1h7v-1h1v1h12v-1h1v1h3v-5h1v4h2v1h2v1h4v-1h9v-2h1v2h3v-1h1v1h6v-1h1v1h2v-1h1v-1h1v2h11v-1h1v1h7v-2h1v2h17v-2h1v2h4v-1h1v1h1v-1h1v1h2v-1h1v1h9v-1h1v1h11v-1h1v1h2v-1h1v1h4v-1h1v1h4v-1h1v1h2v-1h1v1h10v-1h1v1h2v-1h1v1h12v-1h1v1h5v-1h1v1h4v-1h1v1h2v-1h1v1h16v-1h1v1h4v-1h1v1h7v-1h2v1h10v-2h1v2h5v-1h1v1h1v-8h1v7h1v1h2v-1h1v1h1v-1h1v1h4v-1h1v1h2v-1h1v1h6v1h1v-1h1v1h1v-2h1v1h3v-1h1v1h6v-1h1v1h2v-1h1v1h9v1h6v-2h2v1h1v-1h1v1h5v-5h1v4h1v1h8v-1h1v1h2v-1h1v1h6v-1h1v1h17v-1h2v1h3v-1h1v1h2v-1h1v1h9v-1h1v1h7v-1h1v1h12v-2h1v2h5v-1h1v1h6v-1h1v1h12v-1h1v1h1v-1h1v1h3v-1h1v1h4v-1h1v1h1v-1h1v1h3v-1h1v1h17v-1h1v1h12v-1h2v1h8v1h5v-1h2v-1h1v1h7v-1h1v1h3v-2h1v2h12v-1h1v1h2v-1h1v1h10v-1h1v1h1v-1h1v1h2v-1h1v1h9v-1h1v1h7v-1h1v1h6v-1h1v1h2v-1h2v1h1v-1h1v-1h1v2h9v-2h1v2h17v-1h1v1h6v-1h2v1h3v-1h1v1h2v-1h1v1h9v-1h1v1h3v-1h1v1h5v-2h1v1h1v1h2v1h2v-1h4v-2h1v2h8v-1h1v1h12v-1h1v1h5v-1h1v1h1v-1h1v1h3v-1h1v1h11v-2h1v2h15v-1h1v1h1v-1h1v1h12v-1h1v1h4v-1h1v1h1v-1h2v1h6v-2h1v2h2v-1h4v-1h1v1h2v1h5v-1h1v1h6v-1h1v1h3v-1h2v1h4v-1h1v1h25v-2h1v2h1v-1h1v1h4v-1h1v-1h1v2h13v-1h2v1h10v-1h1v1h1v-1h1v1h1v-1h1v1h4v-1h1v1h6v-1h1v1h3v-1h4v1h1v-1h1v1h1v-1h1v1h1v-1h1v1h1v-1h1v1h5v-1h1v1h1v-2h1v2h5v-1h3v1h2v-2h1v2h7v-1h2v1h2v-2h2v2h2v-1h1v1h6v-1h1v1h1v-1h1v1h7v-2h1v2h3v-1h2v1h4v-1h1v1h1v-1h3v1h1v-1h1v-1h1v2h2v-1h2v1h2v-1h1v-1h1v2h5v-1h1v1h2v-2h1v2h1v-2h1v1h1v1h2v-1h1v1h2v-1h1v1h2v-1h1v-1h1v1h1v-1h1v2h8v-1h1v1h7v-2h1v2h3v-1h1v1h1v-1h1v1h3v-2h1v1h1v1h1v-1h2v1h1v-2h1v2h2v-1h1v-1h1v2h1v-2h2v2h2v-1h1v1h3v-1h1v-1h1v1h1v1h1v-1h1v1h2v-1h1v1h4v-1h2v1h5v-1h2v-1h1v2h4v-2h1v2h7v-1h2v1h1v-1h1v-1h1v2h1v-1h4v1h6v-1h1v1h1v-1h2v1h1v-1h1v1h3v-1h1v1h4v-1h1v1h3v-1h1v1h16v-1h1v1h14v-1h1v1h21v-1h1v1h1v-1h1v1h1v-1h1v1h7v-2h1v2h1v-1h1v1h1v-1h1v-1h1v2h5v-1h1v1h20v-1h1v1h12v-1h1v1h3v-1h1v1h15v-2h1v2h7v-1h1v1h4v-1h1v1h3v-1h1v1h8v-1h1v1h6v-1h1v1h13v1h1v-1h1v1h2v-1h1v1h1v-1h2v-1h2v1h9v-2h1v1h2v1h3v-1h1v1h7v-1h3v2h4v-1h2v-1h1v1h10v-1h1v1h1v-2h1v2h2v-1h1v1h6v-1h1v1h7v-1h1v1h24v-1h1v1h4v-2h1v2h9v-1h1v1h1v1h7v-1h2v-1h1v1h4v-1h1v1h8v-1h1v1h1v1h4v-1h3v-1h2v1h3v-1h3v2h1v-1h1v1h1v-1h3v-1h1v1h8v-2h1v2h3v-1h1v1h1v-1h1v1h5v-1h1v1h4v-1h1v1h2v2h-3v1h-1v-1h-4v1h-1v-1h-1v1h-1v-1h-1v1h-1v-1h-1v1h-1v-1h-1v2h-1v-1h-1v-1h-1v1h-1v-1h-12v2h-1v-1h-2v-1h-1v-1h-1v1h-9v3h-1v-1h-1v1h-1v-2h-2v1h-1v-2h-5v1h-1v-1h-5v1h-2v-1h-1v1h-1v-1h-1v1h-2v1h-1v-1h-3v1h-1v-1h-1v-1h-3v1h-1v-1h-3v1h-1v-1h-1v1h-1v-1h-3v1h-1v-1h-2v2h-1v-2h-9v1h-2v-1h-1v1h-1v-1h-4v1h-2v-1h-4v1h-1v-1h-1v1h-2v-1h-3v1h-1v-1h-1v2h-1v-2h-3v1h-1v-1h-1v1h-2v-1h-3v1h-1v-1h-7v1h-1v-1h-2v2h-1v-2h-2v1h-4v-2h-3v1h-8v1h-1v-1h-8v1h-2v-1h-4v1h-1v-1h-2v1h-1v1h-1v-1h-3v1h-2v-1h-2v-1h-14v1h-1v-1h-2v1h-1v-1h-1v1h-2v-1h-3v1h-1v1h-1v-2h-1v1h-1v-1h-3v1h-1v-1h-8v1h-2v-1h-8v1h-1v-1h-3v1h-3v-1h-13v1h-2v-1h-1v1h-1v-1h-6v1h-1v-1h-2v1h-1v-1h-1v1h-1v-1h-3v2h-1v-2h-3v2h-1v-2h-7v1h-1v-1h-3v1h-1v-1h-2v1h-1v-1h-3v1h-1v-1h-3v1h-1v-1h-1v1h-1v-1h-4v1h-1v-1h-2v1h-3v-1h-1v1h-1v-1h-1v1h-1v-1h-3v1h-1v-1h-9v1h-1v-1h-2v1h-1v-1h-4v1h-1v-1h-3v1h-1v-1h-1v1h-2v-1h-2v1h-1v-1h-1v1h-1v-1h-1v1h-1v-1h-1v1h-1v-1h-3v2h-1v-2h-4v2h-1v-1h-1v-1h-1v1h-1v-1h-2v1h-1v-1h-2v1h-1v1h-1v-2h-2v3h-1v-1h-2v1h-1v-2h-2v1h-1v-1h-1v-1h-2v1h-2v-1h-1v1h-1v1h-1v-1h-4v2h-1v-3h-1v1h-1v-1h-3v2h-1v-1h-1v2h-1v-3h-2v1h-1v-1h-1v1h-4v-1h-1v3h-2v-3h-2v1h-1v-1h-2v1h-1v-1h-3v3h-1v-2h-2v1h-1v-1h-2v1h-1v-2h-1v1h-3v-1h-1v2h-1v-1h-3v1h-2v-1h-2v1h-4v-1h-1v-1h-3v1h-1v-1h-2v1h-1v2h-1v-1h-1v-2h-1v1h-1v-1h-1v1h-1v2h-1v-2h-4v2h-1v-3h-1v2h-1v-2h-1v1h-1v-1h-2v1h-1v1h-1v1h-1v-3h-1v2h-1v-2h-2v2h-1v-1h-7v-1h-3v2h-1v-2h-1v1h-3v1h-3v-1h-1v-1h-1v2h-1v-2h-1v1h-1v-1h-1v3h-1v-2h-1v1h-1v-2h-1v1h-1v1h-1v-1h-1v-1h-1v2h-1v-2h-1v1h-2v1h-2v-1h-1v-1h-4v1h-1v-1h-1v1h-4v-1h-1v2h-1v-1h-3v-1h-2v1h-2v-1h-3v2h-1v-1h-2v-1h-2v1h-2v-1h-1v2h-1v-1h-1v1h-1v-1h-1v-1h-2v1h-3v1h-1v-2h-1v1h-1v-1h-2v2h-1v-1h-1v-1h-1v1h-2v-1h-1v1h-3v1h-1v-1h-1v-1h-3v3h-1v-2h-1v-1h-1v1h-1v-1h-11v1h-1v-1h-1v1h-1v-1h-8v1h-1v-1h-14v1h-1v-1h-2v1h-4v-1h-5v1h-1v-1h-4v1h-1v-1h-12v1h-3v-1h-3v1h-2v-1h-1v1h-1v-1h-1v1h-1v-1h-7v1h-1v-1h-2v2h-1v-2h-1v1h-1v-1h-6v1h-1v-1h-7v-1h-2v1h-3v1h-1v-1h-9v1h-1v-1h-1v1h-2v-1h-9v1h-1v-1h-1v1h-1v-1h-1v1h-1v-1h-16v1h-1v-1h-3v1h-1v-1h-2v1h-1v-1h-3v2h-1v-1h-2v-1h-3v1h-1v-1h-3v1h-1v-1h-3v1h-1v-1h-1v1h-1v-1h-3v1h-1v-1h-1v2h-1v-1h-1v-1h-2v1h-3v-1h-1v2h-1v-2h-3v1h-1v-1h-1v1h-1v-1h-3v1h-2v-1h-3v1h-5v-1h-7v1h-2v-1h-8v1h-3v-1h-4v1h-1v-1h-3v2h-1v-2h-1v1h-1v-1h-2v1h-1v1h-1v-1h-1v-1h-4v1h-1v-1h-1v1h-1v-1h-3v1h-2v-1h-3v1h-1v-1h-3v1h-1v-1h-20v1h-1v-1h-4v2h-1v-2h-3v1h-1v-1h-2v1h-1v-1h-12v1h-1v-1h-3v1h-1v-1h-1v2h-1v-2h-2v1h-1v-1h-1v2h-1v-2h-1v1h-2v-1h-7v1h-1v-1h-5v1h-1v-1h-10v1h-8v1h-1v-2h-3v1h-1v-1h-6v1h-1v-1h-8v1h-1v-1h-16v1h-1v-1h-1v2h-1v-2h-5v1h-1v-1h-6v1h-2v-1h-10v1h-2v-1h-5v1h-1v-1h-5v4h-1v-4h-6v1h-1v-1h-6v1h-1v-1h-1v1h-2v-1h-5v1h-2v-1h-2v6h-1v-5h-2v-1h-1v1h-3v-1h-5v1h-3v-1h-3v1h-1v1h-1v-2h-2v1h-1v-1h-2v1h-1v-1h-3v1h-2v-1h-1v1h-2v-1h-3v1h-1v-1h-2v2h-1v-2h-2v1h-1v-1h-4v1h-1v-1h-7v2h-1v-2h-8v-1h-1v2h-6v-1h-16v1h-1v1h-1v-2h-2v1h-1v1h-1v-1h-1v-1h-1v1h-3v-1h-2v1h-1v-1h-3v1h-2v-1h-2v1h-1v-1h-3v1h-1v-1h-3v2h-1v-2h-1v2h-1v-2h-6v1h-1v-1h-7v1h-1v-1h-8v1h-1v-1h-6v1h-1v-1h-7v1h-1v-1h-3v1h-2v-1h-1v1h-1v-1h-3v1h-1v-1h-2v1h-1v-1h-3v1h-1v-1h-10v1h-1v-1h-3v1h-1v-1h-3v1h-1v-1h-9v1h-1v-1h-8v1h-1v-1h-3v1h-1v-1h-6v1h-1v-1h-2v1h-2v-1h-11v1h-1v-1h-4v1h-2v-1h-3v1h-1v-1h-6v1h-1v-1h-1v1h-2v-1h-8v1h-2v-1h-5v2h-1v-1h-1v-1h-5v1h-2v-1h-10v1h-1v-1h-9v1h-1v1h-1v-2h-1v1h-1v-1h-1v1h-1v-1h-2v1h-1v-1h-6v1h-4v-1h-4v2h-1v-2h-9v1h-1v-1h-11v1h-1v-1h-5v1h-5v-1h-6v2h-1v-2h-5v1h-1v-1h-1v1h-1v-1h-5z"/>
<path fill="#ff0000" d="M50 891h1v-1h1v1h4v1h1v-1h2v1h1v-1h1v1h1v-1h1v1h1v-1h1v1h4v-1h1v1h3v-1h1v1h1v-1h1v1h4v-1h1v1h2v-1h1v1h4v-1h1v1h2v-1h1v1h4v-1h1v1h2v-2h1v2h9v-1h1v1h1v-1h1v1h5v-1h2v1h1v-1h1v1h21v-1h1v1h8v-1h1v-1h1v2h1v-1h1v1h1v1h6v-2h1v1h2v-2h1v2h6v-2h1v2h5v-1h1v1h3v-1h2v1h4v-1h1v1h4v-1h1v1h13v-1h1v1h10v-2h1v2h2v-2h1v1h2v1h9v-1h1v1h2v-1h2v1h2v-2h1v2h3v-1h1v1h1v-1h1v1h5v-1h1v1h5v-1h2v1h3v-2h1v1h5v1h1v-1h1v1h1v-1h1v1h3v-1h1v1h11v-1h1v1h3v-1h1v1h9v1h7v-1h2v-1h1v1h4v-2h1v1h1v1h1v-1h2v-1h1v2h15v-2h1v2h6v-1h1v1h7v-2h1v2h1v-1h1v1h2v-1h2v1h3v-1h1v1h5v-1h1v1h1v-1h1v1h2v-1h2v1h2v-1h1v1h1v1h4v-1h1v1h1v-1h1v-1h1v1h6v-1h1v1h12v-1h1v1h8v-1h3v1h6v-1h1v1h8v-1h1v1h9v1h1v-2h1v1h6v-1h1v1h2v-1h1v1h13v-1h1v1h1v-1h1v1h1v-1h1v1h4v-1h1v1h2v-1h1v1h6v-1h1v1h3v-1h2v1h2v-2h1v2h2v-1h2v1h1v-1h2v1h2v-1h1v1h5v-1h1v-2h1v3h2v-1h1v2h1v-1h1v1h4v-1h1v1h1v-2h1v1h2v-1h2v1h2v-1h1v1h2v-1h1v-1h1v2h8v-1h1v1h1v1h1v-1h1v1h3v-1h6v-1h1v1h1v-1h1v1h2v-1h2v1h5v-1h2v1h9v-1h1v1h3v-2h1v1h1v1h1v-2h2v2h13v-1h1v1h16v-1h1v1h9v-1h1v1h2v-1h1v1h2v-1h1v1h3v-1h1v1h1v-1h1v1h2v-1h1v1h1v-1h1v1h1v-1h1v1h4v-1h1v1h1v-1h4v1h2v-1h1v1h11v-1h1v1h2v-1h2v1h2v-1h1v1h6v-1h1v1h2v-1h2v1h4v-1h1v1h3v-2h1v2h1v-1h1v1h3v-1h1v1h2v-1h3v1h4v-1h1v-1h1v2h7v-1h1v1h2v-1h1v1h2v-2h1v2h6v-1h1v1h5v-8h1v8h1v-2h1v2h5v-1h1v1h1v-1h1v1h2v-1h1v-1h1v2h5v-2h1v2h3v-1h1v1h8v-1h1v1h5v-1h1v1h1v-1h2v1h4v-1h1v-1h1v2h6v-1h1v1h6v1h2v-1h1v1h1v-1h8v-1h2v-1h1v2h4v-1h1v1h7v-1h1v1h1v-1h1v1h11v-2h2v1h1v-2h1v3h1v-1h2v-1h1v2h2v-2h1v1h2v1h1v-1h1v1h2v-1h1v-2h1v2h1v-2h1v2h1v-3h1v3h1v1h2v-1h1v1h1v-1h1v1h1v-1h1v-1h1v1h1v-3h1v3h2v-1h1v1h2v1h3v-1h1v-2h1v3h1v-3h1v1h1v2h1v-1h2v-1h1v1h1v1h3v-1h1v1h2v-2h1v2h4v-1h1v1h7v-1h1v-1h1v1h1v1h2v-2h2v2h1v-1h1v1h2v-1h1v1h4v-1h2v1h4v-1h1v1h2v-1h1v-1h1v2h3v-1h2v-1h1v2h2v-1h1v-1h1v2h4v-1h1v1h4v-2h1v1h1v1h4v-1h1v1h3v-1h1v1h11v-1h1v1h2v-2h1v1h1v1h3v-1h1v1h2v-1h1v1h6v-1h2v1h4v-1h1v1h6v-1h1v1h1v-1h1v1h1v1h3v-2h1v-1h1v1h1v1h8v-1h1v1h2v-2h1v2h4v-1h1v1h2v-1h1v1h8v-1h1v1h3v-1h1v1h10v-1h1v1h1v-2h1v1h1v-1h1v1h1v1h2v-2h1v2h5v-1h1v1h1v-1h1v1h3v-1h2v1h2v-1h2v1h5v-1h4v1h4v-1h1v1h4v-2h1v2h14v-2h1v2h2v-1h2v1h3v-1h1v1h1v-1h1v1h6v-1h2v1h1v-1h1v1h3v-1h2v1h10v-1h1v1h7v-2h1v2h1v-1h1v1h1v-1h1v1h7v-1h1v1h4v-2h1v2h3v-1h1v1h1v-1h1v1h1v-1h1v1h2v-1h1v1h4v-1h1v1h7v-1h2v1h12v-2h1v2h6v-1h1v1h8v-1h1v1h2v-1h1v1h1v-1h1v1h4v-1h1v1h2v-1h1v1h1v-1h1v1h2v-1h2v1h2v-1h1v-1h1v2h4v-1h2v1h1v-1h1v1h1v-2h1v2h8v-1h1v1h7v-2h1v2h2v-2h1v1h1v1h12v-1h1v1h1v-1h1v1h3v-1h1v1h4v-1h1v1h10v-1h1v1h2v-1h3v1h1v-1h1v1h2v-1h1v1h11v-1h1v1h5v-1h1v1h2v-2h1v2h4v-1h2v1h4v-1h1v1h4v-1h1v1h5v1h5v-1h1v-1h1v1h4v-1h2v1h2v-1h1v1h2v-2h1v2h2v-1h2v1h4v-1h1v1h1v-1h1v1h1v-1h1v1h11v-1h1v1h4v-1h1v1h1v-2h1v2h10v-1h1v1h8v-1h1v1h2v-2h1v1h1v1h3v-1h2v1h19v-1h2v1h2v-2h1v1h1v3h-1v1h-1v-1h-3v1h-1v-1h-2v1h-3v-1h-4v1h-1v-1h-5v1h-2v-1h-1v1h-2v-1h-9v1h-2v-1h-4v1h-1v-1h-1v1h-1v-1h-1v1h-1v-1h-5v1h-1v-1h-2v1h-1v-1h-2v1h-2v-1h-2v1h-1v-1h-1v1h-2v-1h-7v1h-1v-1h-1v1h-1v-1h-3v1h-1v-1h-2v1h-1v-1h-1v1h-3v-2h-1v1h-5v1h-1v-1h-1v1h-1v-1h-3v1h-1v-1h-1v1h-5v-1h-4v1h-4v-1h-4v1h-1v-1h-12v1h-3v-1h-1v1h-1v-1h-1v1h-1v-1h-2v2h-1v-1h-2v-1h-1v1h-2v-1h-1v1h-1v1h-1v-1h-1v-1h-2v1h-1v-1h-2v1h-1v-1h-9v1h-1v1h-1v-2h-2v1h-1v-1h-2v1h-1v1h-1v-2h-2v1h-4v-1h-7v1h-1v-1h-1v1h-1v-1h-8v1h-1v-1h-8v1h-2v-1h-7v1h-1v-1h-9v1h-1v-1h-2v2h-1v-2h-3v1h-2v-1h-1v1h-2v-1h-1v1h-1v-1h-4v2h-1v-1h-1v-1h-4v1h-1v-1h-4v1h-1v-1h-2v1h-4v-1h-1v1h-3v-1h-2v1h-1v-1h-7v2h-1v-2h-1v1h-3v1h-1v-1h-1v-1h-5v2h-1v-2h-14v2h-1v-2h-4v1h-1v-1h-6v1h-1v-1h-1v1h-1v-2h-1v2h-2v-1h-1v1h-1v1h-1v-2h-2v1h-1v-1h-1v1h-2v-1h-2v1h-1v-1h-6v1h-1v-1h-1v1h-2v-1h-2v2h-1v-2h-7v2h-1v-2h-2v1h-1v-1h-4v1h-1v-1h-10v1h-1v-1h-2v1h-1v-1h-4v1h-3v-1h-3v1h-1v-1h-2v-1h-2v1h-6v2h-1v-2h-1v1h-1v-1h-1v1h-3v-1h-9v1h-1v-1h-2v-1h-3v1h-1v1h-1v-1h-1v1h-2v-1h-2v2h-1v-2h-13v1h-1v-1h-4v2h-1v-2h-9v1h-1v-1h-1v1h-1v-1h-2v1h-2v-1h-3v-1h-1v2h-1v-1h-1v1h-1v1h-1v-1h-2v-1h-1v1h-1v-1h-1v2h-2v-2h-1v1h-3v-1h-6v1h-1v-1h-2v1h-1v-1h-1v1h-2v-1h-1v1h-1v-1h-1v1h-1v-1h-3v1h-2v-1h-2v1h-1v-1h-14v1h-1v-1h-1v1h-1v-1h-1v2h-1v-2h-2v1h-1v1h-1v-2h-8v1h-1v-1h-5v1h-2v-1h-1v1h-1v-1h-1v2h-1v-2h-3v1h-1v-1h-2v1h-1v-1h-2v1h-1v-1h-1v1h-2v-1h-5v1h-1v-1h-3v1h-2v1h-1v-2h-8v1h-1v-1h-1v1h-1v-1h-1v1h-1v-1h-3v1h-1v-1h-2v1h-2v3h-1v-1h-2v-2h-1v-1h-2v1h-1v2h-1v-3h-1v4h-1v1h-1v-4h-1v2h-1v-2h-1v-1h-1v1h-1v1h-1v-1h-4v4h-1v-5h-1v3h-1v2h-1v-2h-1v-2h-1v2h-1v-1h-1v-1h-1v-1h-2v5h-1v-5h-2v2h-1v-2h-2v1h-2v1h-1v1h-1v-2h-2v1h-1v1h-1v-2h-1v-1h-2v1h-1v1h-1v-2h-1v2h-1v-1h-1v-1h-8v2h-2v-2h-1v1h-1v-1h-9v1h-1v-1h-1v1h-1v-1h-1v2h-1v-1h-1v-1h-1v1h-1v-1h-1v1h-3v1h-1v-1h-2v2h-1v-2h-1v-1h-2v1h-1v-1h-3v2h-1v-1h-1v-1h-4v1h-3v-1h-2v2h-1v-2h-1v-1h-1v1h-2v1h-1v-1h-3v1h-1v-1h-4v1h-1v-1h-3v1h-2v-1h-1v2h-1v-2h-1v1h-1v-1h-4v1h-1v-1h-1v1h-1v-1h-3v2h-1v-2h-6v1h-1v-1h-1v4h-1v-4h-2v1h-2v-1h-2v1h-2v-1h-1v1h-1v-1h-5v2h-1v-2h-1v1h-3v-1h-2v1h-1v-1h-1v1h-1v-1h-2v1h-4v-1h-5v1h-5v-1h-3v1h-1v-1h-2v1h-1v-1h-2v1h-2v-2h-1v1h-1v1h-1v-1h-2v1h-1v1h-1v-2h-3v1h-1v-1h-7v1h-4v-1h-1v1h-1v-1h-5v2h-1v-1h-2v2h-1v-2h-1v-1h-2v1h-2v-1h-1v1h-2v1h-2v-2h-2v1h-1v-1h-1v1h-1v-1h-1v1h-2v-1h-1v2h-1v-2h-1v1h-1v-1h-1v2h-1v-2h-3v1h-1v-1h-4v1h-1v-1h-6v1h-1v-1h-1v1h-1v-1h-1v1h-2v-1h-4v1h-2v-1h-6v1h-3v-1h-8v1h-1v-1h-2v1h-1v-1h-1v1h-1v-1h-1v2h-1v-1h-3v-1h-2v1h-1v-1h-4v1h-1v-1h-7v1h-1v-1h-2v1h-1v-1h-2v2h-1v-2h-5v1h-1v-1h-1v1h-1v2h-1v-1h-2v-1h-2v-1h-6v1h-1v-1h-3v1h-1v-1h-7v1h-1v-1h-2v2h-1v-1h-1v1h-1v-1h-2v1h-1v-1h-2v1h-1v-1h-2v-1h-1v1h-2v2h-1v-3h-2v1h-1v-1h-3v1h-1v-1h-2v2h-1v-2h-1v1h-2v-1h-4v1h-3v-1h-2v1h-3v-1h-1v2h-1v-2h-1v1h-1v-1h-3v2h-1v-2h-12v1h-1v1h-1v-2h-2v1h-2v-1h-2v2h-1v-2h-3v1h-1v-1h-7v2h-1v-2h-6v1h-1v-1h-5v1h-1v-1h-3v1h-1v-1h-3v1h-1v-1h-4v1h-1v-1h-2v1h-1v-1h-1v1h-1v-1h-2v1h-1v-1h-2v1h-1v1h-1v-2h-2v1h-1v-1h-1v1h-1v-1h-13v2h-1v-2h-1v1h-1v2h-1v-2h-5v-1h-2v1h-1v-1h-11v1h-1v-1h-3v1h-2v-1h-1v1h-2v-1h-2v1h-1v-1h-4v1h-2v-1h-2v1h-1v1h-1v-1h-1v-1h-1v2h-2v-2h-2v1h-1v-1h-4v1h-2v1h-1v-2h-8v1h-1v-1h-2v1h-1v-1h-1v2h-2v-2h-4v1h-3v1h-1v-1h-3v-1h-3v1h-4v-1h-3v1h-2v-1h-1v1h-1v-1h-6v1h-1v-1h-5v2h-1v-2h-2v1h-1v-1h-2v1h-1v-2h-5v1h-2v2h-1v-2h-2v1h-1v-1h-3v1h-1v-1h-1v1h-1v-1h-2v1h-1v-1h-3v1h-1v-1h-1v1h-1v-1h-10v1h-2v-1h-1v1h-1v-1h-5v1h-7v-1h-5v1h-1v-1h-4v1h-1v-1h-3v1h-1v-1h-2v2h-1v-2h-2v1h-1v-1h-1v1h-1v-1h-1v1h-2v-1h-1v1h-2v-1h-2v1h-2v-1h-5v1h-1v-1h-2v1h-1v-1h-1v1h-1v-1h-2v2h-1v-2h-1v1h-1v-1h-5v1h-4v1h-1v-1h-1v1h-1v-1h-2v-1h-2v1h-2v-1h-2v1h-1v-1h-1v1h-1v-1h-1v1h-1v-1h-2v2h-1v-1h-1v-1h-1v1h-2v-1h-4v1h-2v-1h-1v1h-1v-1h-3v1h-1v-1h-1v1h-2v-1h-1v2h-1v-2h-3v2h-1v-2h-3v2h-1v-2h-3v1h-1v-1h-2v2h-1v-2h-1v1h-2v-1h-4v1h-2v1h-1v-1h-1v-1h-5v2h-1v-2h-5v1h-4v-1h-1v1h-1v-1h-5v1h-1v-1h-3v1h-6v-1h-3v1h-2v-1h-3v-1h-1v1h-2z"/>
<path fill="#0000ff" d="M50 922h12v-1h1v1h26v-1h1v-1h1v1h3v-1h1v3h2v-1h1v1h1v-1h13v-1h1v1h2v1h1v-1h2v-1h1v1h1v-1h1v1h2v-1h1v1h6v-1h1v1h1v-2h1v2h12v-2h1v2h5v-1h2v1h14v-1h2v1h2v-1h1v1h17v-1h1v1h2v-2h1v2h10v-1h1v1h6v-1h1v1h2v-1h1v1h10v-1h1v1h5v-2h1v2h17v-1h1v1h5v-1h1v1h4v-1h1v1h5v-1h1v1h3v-1h1v1h14v-1h1v1h4v-1h1v1h14v-1h1v1h7v-1h1v1h3v-1h1v1h5v-1h1v1h24v-1h1v1h4v-1h1v1h10v-1h1v1h3v-1h1v1h6v1h1v-1h1v1h1v-1h1v1h1v-1h9v-1h1v1h5v-1h1v1h5v-1h1v1h3v-1h1v1h20v-1h1v1h7v-1h1v1h2v-1h2v1h26v-1h1v1h7v-1h1v1h19v-1h5v1h9v-1h1v1h11v-1h1v1h2v-1h1v1h1v-1h1v1h5v-1h1v1h4v-1h1v1h2v-1h1v1h1v-1h1v-1h1v2h2v-1h1v1h10v-1h1v1h3v1h1v-3h1v1h2v2h2v-1h1v1h3v-1h1v1h5v-1h8v-1h1v1h16v-1h1v1h2v-1h1v1h8v-1h2v1h6v-1h1v1h7v-1h1v1h18v-1h1v-1h1v2h2v-1h1v1h15v-1h1v1h11v-1h1v1h11v-1h1v1h1v-1h1v1h4v-1h1v1h6v-1h1v1h5v-1h1v1h7v-1h1v1h3v-2h1v2h3v-1h1v1h6v-1h1v1h6v-1h2v1h1v-1h2v1h1v-1h1v-1h1v2h1v-1h1v-1h1v1h3v1h7v-2h1v1h1v1h1v-2h1v2h1v-2h1v2h3v-1h2v1h2v-1h1v1h4v-1h1v1h1v-1h1v1h3v-1h1v1h2v-1h1v1h1v-1h1v-1h1v1h2v1h2v-1h1v1h3v-1h2v1h2v-1h1v1h4v-1h1v1h1v-1h2v1h2v-1h2v1h1v1h2v-4h1v2h5v1h3v-1h1v1h1v-2h1v2h1v-1h1v1h4v-1h1v-1h1v1h1v1h4v-2h1v2h2v-2h1v2h1v-1h4v1h3v-1h1v1h1v-1h1v1h1v-2h1v2h5v-1h1v1h2v-2h1v1h1v-1h1v1h1v1h1v-2h1v2h1v-1h1v1h1v-1h1v1h5v-2h1v2h5v-1h1v1h5v-2h1v2h1v-1h3v1h1v-1h3v1h3v-1h2v1h2v-1h2v-1h1v1h1v1h1v-1h2v1h1v-2h1v1h1v1h1v-1h3v-1h1v2h1v1h1v-1h1v1h1v-1h1v-1h1v-1h1v2h4v-2h3v2h2v-2h1v1h1v-1h1v1h2v1h1v-1h3v1h1v-2h1v2h1v-2h1v2h2v-1h2v-1h2v1h2v1h4v-1h2v1h1v-2h1v2h1v-2h1v2h1v-1h2v1h1v-2h1v2h2v-1h1v1h6v-1h1v1h1v-1h1v1h5v-1h1v1h3v-1h1v-1h1v2h3v-1h3v-1h1v2h1v-1h1v1h1v-1h1v1h2v-1h2v1h7v-1h2v1h2v-1h2v1h7v-1h1v1h1v-1h1v1h5v-1h3v2h2v-3h1v2h3v1h1v-1h1v-1h1v1h2v-1h1v1h1v-1h2v1h2v-1h2v1h3v-1h1v-1h1v1h1v1h3v-1h1v1h6v-1h1v-1h1v1h1v1h3v-1h1v1h2v-1h1v1h1v-1h1v1h2v-2h2v2h2v-1h2v1h1v-1h1v1h6v-1h1v1h2v-1h1v1h1v-2h1v2h1v-1h1v1h2v-1h2v1h1v-1h2v1h1v-1h1v1h4v-1h2v1h9v-1h2v1h5v-1h2v-1h1v2h7v-1h4v1h1v-2h1v2h2v-1h2v1h5v-1h1v1h5v-1h1v1h1v-2h1v1h1v1h3v-1h2v1h2v-1h1v1h5v-1h1v1h5v-2h2v1h1v1h3v-1h5v1h1v-3h1v3h2v-3h2v1h3v2h2v-2h1v2h1v-1h1v1h4v-1h2v1h1v-1h3v1h1v-1h1v1h3v-2h1v-1h1v-1h1v-6h1v4h1v-2h1v1h1v2h1v-2h1v2h1v-3h1v2h1v-12h1v-5h1v18h1v1h1v-5h1v1h1v1h1v-7h1v10h1v-7h1v6h1v1h1v1h1v-4h1v4h1v-2h1v4h1v1h1v-3h1v-1h1v1h2v1h2v-2h2v3h1v-3h1v1h1v-11h1v9h1v-3h1v4h1v-1h1v-4h1v2h1v-3h1v5h1v-2h1v-5h1v10h1v-2h3v-2h1v3h1v-3h3v-6h1v8h1v-3h1v5h1v-4h1v3h1v-1h2v1h1v-2h1v3h1v-1h1v3h1v-1h1v1h1v-1h2v1h1v-1h2v1h3v-3h1v1h2v3h2v-3h1v2h1v-1h2v-2h1v1h3v-1h1v3h3v-2h1v1h1v1h10v-1h1v1h5v-2h1v2h2v-1h1v1h1v-1h4v-1h2v-2h1v4h2v-4h1v4h3v-2h1v2h1v-1h1v-2h1v3h1v-1h3v-2h1v3h4v-1h1v-1h1v2h6v1h1v-2h1v1h1v-1h1v1h2v-1h1v1h1v-1h1v1h1v-1h1v1h1v-2h1v1h1v1h1v-1h2v1h1v-2h1v2h12v-1h1v1h2v-1h2v1h4v-1h1v1h2v-1h1v1h2v-2h1v2h4v-1h2v1h4v-1h1v-1h1v2h1v-2h2v2h3v-1h1v-1h1v2h2v-1h1v1h1v-1h1v1h5v-1h2v1h2v-2h1v2h3v-1h1v1h2v2h-1v2h-1v-1h-1v-1h-2v1h-1v1h-1v-1h-1v-1h-3v1h-1v-1h-1v2h-1v-1h-1v-1h-1v2h-1v-1h-1v-1h-1v2h-2v-2h-3v1h-2v2h-1v-2h-2v1h-1v-2h-1v1h-3v-1h-4v1h-1v1h-1v-2h-1v2h-1v-2h-1v1h-3v-1h-1v3h-1v-3h-1v2h-1v-2h-1v1h-1v-1h-1v1h-1v1h-2v-2h-1v1h-1v1h-1v-2h-1v3h-1v-2h-2v-1h-3v1h-1v1h-1v-2h-1v2h-1v-1h-1v1h-5v-1h-1v1h-1v-1h-1v-1h-1v3h-1v-3h-2v1h-1v1h-1v-1h-1v2h-2v-1h-1v-2h-2v1h-1v1h-1v-2h-1v1h-1v1h-1v-1h-2v-1h-2v2h-1v-1h-4v-1h-1v2h-1v-2h-1v2h-1v-2h-1v1h-1v1h-1v-1h-1v1h-1v-1h-1v2h-1v-3h-1v1h-2v4h-1v-5h-1v2h-1v1h-1v-3h-1v1h-1v3h-2v-4h-3v2h-1v-2h-1v2h-1v-2h-2v1h-1v1h-2v-2h-2v2h-1v-1h-1v1h-2v-1h-1v-1h-1v1h-1v1h-1v2h-1v-1h-1v-3h-3v1h-1v-1h-1v4h-1v-3h-3v2h-2v-2h-4v-1h-1v2h-1v-2h-2v1h-1v-1h-2v2h-1v1h-2v-1h-1v3h-1v1h-1v3h-1v-5h-1v-1h-2v-1h-1v1h-1v3h-1v-2h-1v1h-1v-2h-2v3h-1v-1h-2v3h-1v-4h-1v7h-1v-3h-1v-4h-1v8h-1v-8h-1v1h-1v3h-1v-3h-1v1h-1v-2h-2v5h-1v-1h-2v-5h-3v-1h-1v1h-4v-2h-1v1h-1v6h-1v-4h-1v3h-2v-2h-1v3h-1v2h-1v-8h-1v9h-1v-4h-2v1h-1v-5h-2v36h-1v-34h-1v-2h-1v4h-1v1h-1v-3h-1v-1h-1v6h-1v-3h-1v2h-1v-2h-1v-5h-1v1h-1v-2h-1v3h-1v-2h-1v-1h-1v-1h-1v2h-1v1h-1v-3h-1v3h-1v-2h-1v3h-1v-2h-1v-2h-2v3h-1v-2h-1v-1h-5v3h-1v-1h-1v-2h-2v1h-1v3h-1v-4h-1v1h-4v-1h-1v2h-1v1h-1v-2h-1v-1h-1v2h-1v-1h-1v2h-2v-2h-2v1h-1v-2h-1v1h-1v1h-1v-2h-1v2h-1v-1h-1v-1h-1v2h-2v-2h-2v2h-1v-2h-1v1h-1v-1h-1v1h-1v-1h-2v1h-1v-1h-1v1h-1v-1h-1v1h-1v1h-1v-2h-2v3h-1v-3h-1v1h-3v2h-1v-2h-2v1h-2v-1h-2v1h-1v-2h-1v2h-1v-2h-1v1h-1v-1h-1v1h-1v-1h-1v1h-1v-1h-1v1h-2v2h-1v-2h-1v-1h-2v1h-1v1h-1v-2h-2v2h-1v-2h-1v2h-2v1h-1v-3h-3v1h-1v1h-1v-2h-1v2h-1v1h-1v-3h-1v2h-1v-2h-1v1h-1v-1h-1v1h-2v-1h-2v1h-1v-1h-1v2h-1v-2h-1v2h-1v-2h-1v1h-3v1h-1v-1h-1v2h-1v-3h-1v1h-2v2h-1v-3h-1v1h-2v2h-1v-1h-1v1h-1v-2h-1v-1h-1v1h-2v-1h-1v2h-1v-1h-1v2h-1v-3h-2v1h-1v-1h-1v1h-1v-1h-1v1h-1v1h-1v-1h-2v1h-1v-1h-3v-1h-1v1h-1v-1h-1v1h-3v1h-1v-1h-2v1h-1v-2h-3v2h-1v-1h-1v-1h-2v1h-2v1h-2v-1h-1v1h-1v1h-1v-2h-1v2h-1v-2h-4v-1h-1v1h-1v-1h-1v1h-1v-1h-1v1h-1v-1h-2v2h-1v-1h-2v2h-1v-3h-1v1h-1v1h-2v1h-1v-3h-1v3h-1v-2h-1v1h-1v-1h-4v-1h-1v2h-1v-2h-2v1h-2v1h-1v-1h-1v-1h-1v1h-1v1h-1v-2h-1v1h-1v-1h-1v1h-1v-1h-2v1h-1v-1h-2v3h-1v-2h-1v-1h-2v1h-1v-1h-1v2h-1v-1h-1v-1h-1v1h-1v-1h-1v3h-1v-1h-1v1h-1v-2h-1v-1h-2v1h-1v-1h-1v3h-1v-3h-1v1h-1v-1h-1v1h-1v2h-1v-2h-1v-1h-1v1h-1v1h-1v-1h-2v-1h-1v1h-1v1h-1v-2h-1v2h-2v-2h-1v1h-1v-1h-2v1h-1v1h-3v-2h-4v1h-1v-1h-4v1h-1v-1h-1v2h-1v1h-1v-3h-3v2h-1v-2h-1v2h-1v-2h-1v2h-1v-1h-1v-1h-2v1h-1v2h-1v-2h-1v1h-1v1h-1v-2h-4v-1h-2v1h-1v2h-1v-3h-2v2h-1v-1h-2v-1h-3v3h-2v-3h-1v2h-1v-1h-1v1h-1v-1h-1v1h-1v-1h-1v-1h-2v2h-1v-2h-2v1h-1v-1h-1v1h-1v-1h-1v1h-1v1h-3v-1h-2v-1h-1v2h-3v-2h-1v2h-1v-2h-1v1h-1v1h-1v-1h-1v2h-1v-2h-2v-1h-2v1h-3v1h-1v-1h-2v-1h-3v2h-1v1h-1v-2h-1v-1h-1v1h-1v1h-1v-1h-1v-1h-1v2h-1v-1h-2v-1h-1v1h-1v1h-1v-2h-1v2h-1v-2h-1v1h-1v-1h-1v1h-1v1h-1v-1h-2v-1h-1v1h-1v1h-1v-1h-4v-1h-1v1h-3v-1h-1v1h-1v1h-1v-2h-2v1h-1v-1h-2v1h-1v2h-1v-3h-1v1h-2v1h-2v-1h-1v1h-1v1h-1v-2h-1v-1h-1v1h-1v1h-1v-2h-1v3h-1v-1h-1v1h-1v-3h-1v2h-1v-1h-1v-1h-1v2h-1v-1h-1v-1h-1v2h-1v-2h-2v1h-1v-1h-2v1h-6v1h-1v-2h-1v2h-1v-1h-1v-1h-1v2h-1v-2h-1v1h-1v-1h-1v1h-1v-1h-2v2h-1v-2h-1v2h-2v-1h-1v1h-6v-2h-1v1h-1v1h-1v-1h-2v-1h-1v1h-2v-1h-4v2h-1v-1h-1v-1h-1v1h-1v-1h-1v3h-2v-3h-1v1h-1v-1h-3v1h-1v-1h-2v1h-1v-1h-1v7h-1v-7h-2v1h-1v1h-1v-2h-1v1h-2v-1h-2v1h-1v-1h-6v1h-1v-1h-1v1h-1v-1h-2v2h-2v-2h-10v1h-1v-1h-5v1h-1v-1h-1v1h-1v-1h-5v1h-1v-1h-8v1h-3v-1h-15v1h-1v-1h-2v2h-1v-2h-8v1h-1v-1h-11v1h-1v1h-1v-2h-1v1h-1v-1h-1v1h-1v-1h-5v2h-1v-2h-7v1h-1v-1h-1v1h-2v-1h-2v1h-1v-1h-1v1h-1v-1h-3v1h-2v-1h-1v1h-3v-1h-3v1h-1v-1h-1v1h-1v-1h-4v1h-1v-1h-1v1h-2v-1h-4v1h-1v-1h-1v1h-1v-1h-2v1h-1v2h-1v-1h-1v-1h-3v1h-1v-1h-6v-2h-2v2h-1v1h-1v-1h-1v-1h-13v1h-1v-1h-3v1h-2v-1h-1v1h-1v-1h-1v1h-2v-1h-3v1h-1v-1h-7v1h-1v-1h-1v1h-1v-1h-3v1h-1v-1h-3v1h-2v-1h-4v1h-2v-1h-4v1h-1v-1h-1v1h-1v-2h-3v1h-2v1h-1v-1h-9v1h-1v-1h-4v1h-1v-1h-3v1h-1v-1h-7v1h-1v-1h-4v1h-1v-1h-7v1h-2v-1h-4v1h-4v-1h-3v1h-2v-1h-7v1h-1v-1h-1v1h-1v-1h-4v1h-1v-1h-4v1h-1v-1h-1v1h-1v-1h-11v1h-1v-1h-6v1h-1v-1h-2v1h-1v-1h-1v1h-1v-1h-12v2h-1v-1h-2v2h-1v-2h-1v-1h-15v1h-1v-1h-6v1h-1v-1h-5v1h-1v-1h-3v1h-2v-1h-8v1h-1v-1h-4v1h-1v-1h-3v1h-2v-1h-2v1h-1v-1h-9v1h-1v-1h-2v1h-1v-1h-4v1h-1v-1h-4v1h-2v-1h-12v2h-1v-2h-2v2h-1v-2h-1v1h-1v-1h-4v1h-1v-1h-7v2h-1v-2h-1v1h-1v-1h-1v1h-1v-1h-3v1h-1v-1h-4v1h-1v-1h-17v1h-1v-1h-6v1h-2v-1h-15v1h-1v-1h-1v1h-1v1h-1v-2h-13v1h-1v-1h-2v2h-1v-2h-7v1h-2v-1h-1v1h-1v-1h-14v1h-1v-1h-7v1h-1v-1h-2v2h-1v-1h-1v-1h-15v1h-1v-1h-3v1h-2v-1h-4v1h-1v-1h-5v1h-2v1h-1v-1h-1v-1h-4v2h-1v-2h-1v1h-1v-1h-7v1h-3v1h-1v-1h-1v1h-1v-2h-1v-1h-1v1h-1v-1h-3v1h-2v1h-2v-1h-1v2h-1v-2h-2v1h-1v-1h-5v1h-1v-1h-1v1h-1v-1h-2v1h-2v-1h-2v1h-1v-1h-6v1h-1v-1h-8z"/>
<path fill="#006400" d="M50 951h1v1h1v-1h1v1h4v-2h1v1h1v1h8v-1h6v1h3v-1h1v1h13v-1h1v1h2v-1h1v1h4v-2h1v2h4v-2h1v2h4v-1h1v1h4v-1h1v1h12v-2h1v2h3v-1h1v1h2v-1h1v1h2v-1h1v1h1v-1h1v1h2v-1h1v1h3v1h5v-1h1v-1h1v1h6v-1h1v1h6v-1h1v1h5v-1h1v1h7v-2h1v2h6v-1h1v1h3v-2h1v2h3v-1h1v1h2v-1h1v1h9v-1h1v1h11v1h1v-1h1v-1h1v1h2v-1h1v1h10v-1h2v1h2v-1h1v1h4v-1h1v1h1v-1h2v-1h1v1h4v1h3v-2h1v2h1v-2h1v1h1v-6h1v2h1v-1h1v-1h1v2h1v-2h1v5h1v-1h1v2h2v-6h1v4h1v1h1v-1h1v1h1v-2h2v-3h1v4h1v2h1v-1h1v-3h1v-25h1v-11h1v5h1v4h1v-20h1v-97h1v50h1v62h1v-1h1v-12h1v18h1v-20h1v15h1v-103h1v51h1v10h1v39h1v-20h1v12h1v22h1v15h1v-4h1v5h1v-7h1v-7h1v8h1v-4h1v-19h1v19h1v7h1v-2h1v6h1v-6h1v6h1v-17h1v6h1v4h1v3h1v5h1v-4h1v4h1v5h3v-4h1v3h1v2h1v-1h1v-2h2v3h1v-2h2v4h1v-1h1v-1h1v1h1v-1h1v2h1v-2h1v1h1v1h1v-2h1v1h1v1h1v-3h1v3h1v-1h1v1h1v-1h1v1h1v-2h1v2h2v-1h1v1h8v-1h1v2h4v-1h2v-1h5v1h7v-1h1v1h1v-1h1v1h15v-1h1v1h5v-1h1v1h3v-1h1v1h6v-1h1v1h6v-1h1v1h10v-1h1v1h1v-1h1v1h12v-1h1v1h20v-1h2v1h2v-1h1v1h8v-1h1v1h8v-1h1v2h2v-1h29v-2h1v2h6v-1h1v1h6v-1h1v1h3v-1h1v1h8v-1h1v1h4v-2h1v2h1v-1h1v1h5v-1h1v1h4v-1h1v1h6v-1h1v1h3v-2h1v2h1v-1h1v1h2v-1h1v1h2v-1h1v1h1v-1h1v1h13v-1h1v1h14v-1h1v1h2v-1h1v-1h1v2h2v-1h1v1h1v-1h1v1h6v-1h1v1h2v-2h1v2h2v-1h1v1h5v-1h1v1h2v-1h1v1h12v-1h1v1h17v-1h1v1h3v-1h1v1h1v-1h1v1h4v-1h1v1h2v-1h1v1h5v-2h1v2h3v-1h1v1h4v-1h1v2h4v-2h1v1h1v-1h1v1h9v-1h1v1h6v-1h1v1h3v1h1v-1h1v1h5v-2h1v1h3v-1h1v1h30v-1h2v1h1v-1h1v1h2v-1h1v1h6v-1h2v1h3v-1h1v1h1v-1h1v1h9v-1h1v-1h1v2h20v-2h1v2h3v-1h1v1h6v-3h1v1h1v-1h1v3h3v-1h2v1h1v-2h1v1h1v-1h1v1h3v1h1v-1h1v1h1v-1h2v-1h1v2h1v-1h1v-2h1v3h1v-2h1v-1h1v3h2v-3h1v2h1v1h3v-2h1v2h1v-1h1v1h3v-2h1v2h3v-2h1v1h1v1h3v-1h1v1h1v-1h1v1h4v-2h1v2h1v-2h1v1h1v1h2v-1h1v1h2v-2h3v1h2v1h7v-1h1v1h11v-1h1v1h13v-1h2v1h2v-1h1v1h28v-1h1v1h3v-1h1v1h4v-1h2v1h6v-1h1v1h4v-1h1v1h3v-2h1v2h3v1h2v-1h2v-1h1v1h2v-1h1v1h6v-1h1v1h7v-1h2v1h1v-1h1v1h7v-1h1v1h2v-1h1v1h1v-1h1v1h13v-1h1v1h11v-2h1v2h2v-1h1v1h4v-1h1v1h3v-1h1v1h9v1h2v-2h1v2h2v-1h1v1h5v-1h6v-1h2v1h5v-1h1v1h4v-3h2v2h1v1h1v-2h1v2h1v-3h2v1h2v1h1v1h1v-1h1v-3h1v3h1v1h1v-1h1v1h1v-1h2v1h4v-1h1v1h2v-1h1v-2h1v-1h1v4h1v-1h1v-1h1v2h1v-1h1v-5h2v-1h1v-5h2v-76h1v59h1v-50h1v19h1v19h1v-108h1v72h1v5h1v26h1v-18h1v-19h1v40h1v-36h1v7h1v-11h1v54h1v-60h1v65h1v-55h1v8h1v-78h2v91h1v37h1v16h1v-1h1v-8h1v2h1v4h2v-1h1v4h1v-3h1v3h1v-6h1v3h1v-4h1v7h2v4h1v1h2v-2h1v2h2v-1h1v1h1v-4h1v4h1v-1h1v-1h1v2h6v-1h2v1h4v-1h2v1h2v-1h1v1h2v1h1v-1h1v1h1v-1h1v-1h2v1h2v-2h1v2h15v-1h1v1h2v-1h1v1h6v-2h1v2h4v-1h2v1h4v-2h1v2h1v-2h1v1h1v1h12v-1h1v1h5v-1h1v1h3v-1h1v1h13v-2h1v2h5v-1h1v1h1v-1h1v1h2v-1h1v1h4v-1h1v1h6v-1h4v-1h1v2h5v-1h1v1h12v-1h1v1h26v-1h2v1h4v-1h1v1h2v-1h1v1h13v-1h1v1h9v-2h1v2h5v-1h1v1h2v-1h1v1h6v-1h1v1h18v-1h1v1h1v-1h2v1h1v-1h1v1h16v-2h1v1h2v1h3v2h-3v1h-1v-1h-3v2h-1v-2h-5v1h-1v-1h-2v1h-1v-1h-9v1h-1v1h-1v-2h-1v1h-2v-1h-13v2h-1v-2h-2v1h-1v-1h-3v1h-1v-1h-5v1h-1v-1h-1v1h-1v-1h-5v1h-1v-1h-1v2h-1v-2h-3v1h-1v-1h-6v1h-1v-1h-9v1h-1v-1h-3v1h-1v-1h-2v-1h-1v1h-10v1h-1v-1h-4v1h-1v-1h-3v1h-1v-1h-7v1h-1v-1h-2v1h-1v-1h-9v1h-1v-1h-5v-1h-3v1h-2v1h-1v-1h-2v1h-1v-1h-1v1h-1v-1h-1v2h-1v-2h-6v1h-1v-1h-16v1h-1v-1h-2v1h-1v-1h-9v1h-1v-1h-5v1h-2v-1h-17v1h-1v-1h-15v1h-1v-1h-2v2h-1v-2h-5v1h-1v-1h-1v1h-1v-1h-6v2h-1v-1h-1v1h-1v-1h-5v-1h-7v2h-1v-1h-1v-1h-1v3h-1v-1h-1v1h-1v-2h-1v2h-1v1h-1v-3h-4v4h-1v-1h-1v-2h-1v-2h-2v4h-1v-1h-1v-1h-2v5h-1v1h-1v-1h-1v-5h-2v6h-1v-5h-1v3h-1v-1h-1v2h-2v-3h-1v-1h-1v14h-1v14h-1v119h-1v-93h-1v10h-1v7h-1v-30h-1v48h-1v-62h-1v34h-1v-20h-2v-22h-1v12h-1v-4h-1v17h-1v-7h-1v22h-1v-5h-1v-17h-1v41h-1v31h-1v-80h-1v118h-1v-140h-1v-2h-1v2h-1v-2h-1v-2h-1v-6h-1v1h-1v-1h-1v2h-1v-1h-1v1h-1v-1h-1v-1h-1v1h-3v-1h-3v3h-1v-3h-1v4h-1v-4h-1v3h-2v-2h-1v3h-1v-2h-1v1h-1v-3h-1v1h-1v1h-1v-2h-1v1h-1v-1h-1v3h-1v-1h-1v2h-1v-2h-1v-1h-1v-1h-2v1h-1v2h-1v-2h-1v-1h-2v1h-1v1h-2v-2h-1v1h-1v-1h-1v1h-1v-1h-2v1h-1v-1h-1v1h-1v1h-1v-1h-8v2h-1v-1h-1v-1h-2v-1h-4v1h-1v-1h-19v1h-1v-1h-5v1h-1v-1h-11v1h-1v-1h-10v1h-1v-1h-9v1h-1v-1h-4v1h-1v-1h-1v1h-1v-1h-2v1h-2v-1h-3v1h-1v-1h-2v1h-2v-1h-5v1h-2v-1h-7v1h-2v-1h-3v1h-1v-1h-2v1h-1v-1h-2v1h-1v-1h-4v1h-1v-1h-4v1h-1v-1h-1v1h-1v-1h-2v1h-1v-1h-12v1h-2v-1h-4v1h-1v-1h-7v1h-1v-1h-3v1h-1v1h-1v-2h-8v1h-2v-1h-2v1h-1v-1h-2v2h-1v-1h-1v-1h-1v1h-3v-1h-2v3h-1v-3h-1v2h-1v-1h-1v-1h-2v2h-1v-1h-1v-1h-1v2h-1v2h-1v-1h-1v-2h-1v-1h-2v1h-1v-1h-1v1h-1v-1h-1v2h-1v-2h-2v1h-2v-1h-1v2h-1v-1h-1v-1h-1v2h-1v-2h-1v1h-1v-1h-1v2h-1v-2h-1v1h-1v1h-1v2h-1v-3h-1v1h-1v-2h-3v1h-2v-1h-1v2h-1v-1h-2v1h-1v4h-1v-6h-1v4h-1v-3h-2v-1h-1v1h-1v2h-1v-1h-1v-2h-2v3h-1v-1h-1v-2h-2v1h-3v-1h-1v2h-1v2h-1v-4h-14v1h-1v-1h-10v1h-1v-1h-1v1h-1v-1h-14v1h-1v-1h-9v1h-1v-1h-6v1h-1v-1h-3v2h-1v-1h-2v-1h-4v1h-2v1h-1v-1h-2v-1h-2v1h-1v-1h-4v1h-1v-1h-5v1h-1v-1h-3v1h-1v-1h-4v1h-4v2h-1v-2h-3v-1h-6v1h-2v-1h-3v1h-1v-1h-5v2h-1v-2h-4v1h-2v1h-1v-1h-3v-1h-7v1h-1v-1h-9v2h-1v-2h-1v2h-1v-2h-10v1h-1v-1h-1v2h-1v-1h-1v-1h-3v1h-3v-1h-6v1h-1v-1h-11v2h-1v-2h-6v1h-1v-1h-1v1h-1v-1h-3v1h-1v-1h-5v1h-1v-1h-6v1h-1v-1h-3v1h-1v-1h-6v1h-1v-1h-2v1h-1v-1h-2v1h-1v-1h-31v1h-2v-1h-2v2h-1v-2h-1v1h-1v-1h-1v1h-1v-1h-4v1h-2v-1h-2v1h-1v-1h-3v1h-2v-1h-1v1h-2v-1h-11v1h-1v-1h-17v1h-1v-1h-4v1h-5v-1h-1v1h-1v-1h-3v1h-1v-1h-11v1h-2v-1h-10v1h-1v-1h-8v1h-2v-1h-7v1h-3v-1h-7v1h-1v-1h-1v1h-1v-1h-2v1h-2v-1h-3v2h-1v-2h-2v1h-1v-1h-7v1h-1v-1h-2v1h-3v-1h-1v1h-2v-1h-3v1h-1v-1h-4v1h-1v-1h-7v1h-1v-1h-1v1h-1v-1h-15v2h-1v-2h-1v1h-1v-1h-2v1h-1v-1h-2v1h-1v-1h-1v1h-1v-1h-2v2h-1v-2h-1v1h-1v1h-1v-2h-1v-1h-4v2h-2v1h-1v-1h-5v-1h-4v1h-2v-1h-1v1h-4v-1h-1v2h-1v-1h-1v2h-2v-2h-2v1h-3v2h-1v-1h-2v-1h-1v-2h-2v2h-1v2h-1v-4h-1v5h-1v-1h-1v3h-1v-2h-2v-2h-1v1h-1v3h-1v-2h-1v1h-1v-1h-1v3h-1v7h-1v7h-1v-9h-1v11h-1v7h-1v-5h-1v-4h-1v-1h-1v-7h-1v20h-1v-14h-1v17h-1v50h-1v-56h-1v3h-1v-4h-1v-7h-1v14h-1v-25h-1v4h-1v26h-1v-4h-1v34h-1v-35h-1v75h-1v-32h-1v10h-1v-17h-1v-12h-1v-18h-1v-2h-1v-17h-1v26h-1v98h-1v-48h-1v-50h-1v7h-1v-18h-1v-14h-1v6h-1v-26h-1v-2h-2v4h-1v-3h-2v4h-1v-4h-1v1h-1v-1h-2v2h-1v-5h-1v2h-1v-1h-1v2h-2v2h-1v-1h-1v-2h-2v3h-1v-3h-2v-2h-1v2h-1v-3h-1v3h-1v-2h-1v-1h-1v1h-1v-1h-2v3h-1v-3h-1v2h-1v-1h-1v1h-2v-2h-1v1h-1v-1h-3v1h-1v-1h-2v1h-1v-1h-2v1h-1v-1h-8v1h-1v-1h-2v1h-1v-1h-4v1h-1v-1h-4v1h-1v-1h-2v1h-2v-1h-2v1h-1v1h-1v-1h-1v-1h-7v2h-1v-2h-1v2h-1v-1h-2v-1h-2v1h-1v-1h-3v2h-1v-2h-1v1h-1v-1h-2v1h-1v-1h-1v1h-2v-1h-3v2h-1v-1h-1v-1h-1v1h-1v-1h-2v2h-1v-2h-4v1h-1v-1h-2v1h-1v-1h-1v1h-1v-1h-1v-1h-1v2h-2v1h-1v-1h-1v1h-2v-2h-3v2h-1v-2h-7v-1h-1v3h-1v-2h-9v1h-1v-1h-4v1h-1v-1h-4v1h-1v1h-1v-2h-1v1h-2v1h-1v-2h-3v1h-1v-1h-1v1h-1v-1h-2v1h-1v-1h-7v1h-1v-1h-1v1h-1v-1h-3v1h-1v-1h-9v2h-1v-2h-1v-1h-4v1h-1v-1h-1v3h-1v-2h-16z"/>
<path fill="#000000" d="M50 982h4v-2h1v2h32v-1h1v1h5v-1h1v1h6v-1h1v1h1v-2h1v2h6v-1h1v1h3v-1h1v2h7v-1h10v-1h1v1h20v-1h1v1h2v-1h2v1h1v-1h1v1h1v-1h1v1h2v-1h1v1h8v-1h1v-1h1v2h5v-2h1v2h2v-1h3v-2h1v1h1v-1h1v-1h1v2h1v-1h1v2h1v-2h1v-5h1v6h2v-2h1v2h1v-1h2v1h2v-5h1v3h1v3h1v-1h3v-3h1v-3h1v4h1v1h2v-31h1v-109h1v89h1v-20h1v12h1v15h1v13h1v-10h1v-91h1v102h1v5h1v-101h1v78h1v-48h1v34h1v-56h1v37h2v19h1v-9h1v-75h2v58h1v53h1v-43h1v13h1v19h1v6h1v18h2v23h2v1h1v1h4v-2h1v1h1v1h1v-3h1v3h3v-1h1v1h6v-1h1v1h2v-1h2v1h1v-2h1v2h3v-1h2v1h5v-1h1v1h12v-1h1v1h11v-1h1v1h7v-1h1v1h14v-1h1v1h2v-1h1v1h9v-1h1v1h4v-1h1v1h13v-1h1v1h4v-1h1v1h5v-1h1v1h3v-1h1v1h4v-1h1v1h6v-1h1v1h7v-1h2v1h2v-1h1v1h2v-2h1v2h17v-1h1v1h4v-1h1v1h4v-1h1v-1h1v1h2v-1h1v1h1v1h4v-2h1v1h1v1h1v-1h2v1h1v-2h1v2h2v-1h2v1h1v-1h1v1h14v-1h1v1h4v-1h1v1h17v-2h1v2h2v-1h2v1h4v-1h1v1h12v-1h2v1h3v-1h1v1h2v-2h1v2h16v-1h1v1h6v-1h1v1h4v-1h1v1h13v-1h1v1h9v-1h2v1h4v-1h1v1h8v-1h1v-1h1v1h1v1h8v-1h1v1h1v-1h1v-1h1v2h6v-2h1v2h1v-1h1v1h5v-1h2v1h3v-1h2v1h6v-1h1v-1h1v2h19v-1h1v1h3v-1h2v-1h1v1h3v1h1v-1h1v1h12v-1h1v1h9v-1h1v2h2v-1h1v1h1v-1h2v-1h1v1h12v-2h1v2h6v-2h1v2h3v-2h1v2h9v-1h1v1h4v-1h1v1h7v-2h1v1h1v1h3v-1h2v1h1v-1h1v1h7v-1h1v1h14v-1h1v1h2v-1h1v1h1v-1h1v1h5v-1h1v1h6v-1h1v1h6v-1h1v1h13v-2h1v2h6v-1h1v1h1v-1h1v1h5v-2h1v2h4v-1h2v1h6v-1h1v1h3v-1h1v1h3v-1h1v1h1v-1h2v1h7v-1h1v1h1v-1h1v1h3v-1h1v1h3v-1h1v1h3v1h4v-1h2v-1h1v1h13v1h1v-1h4v-1h1v1h2v-1h2v1h4v-1h1v1h4v-1h1v1h5v-1h1v1h2v-2h1v2h8v-1h1v1h2v-1h3v1h3v-1h3v1h6v-1h2v1h9v-1h1v1h3v-1h1v1h3v-1h1v1h2v-1h1v1h6v-1h1v1h2v-1h1v1h6v-1h1v-1h2v2h4v-1h2v1h4v-1h1v1h8v-1h1v1h16v-1h1v-1h1v1h1v1h8v-2h1v2h5v-2h1v2h4v-1h1v1h2v-2h1v2h1v-1h1v1h7v-2h1v2h6v-1h2v1h8v-1h1v1h1v-1h1v1h6v-1h1v1h5v-2h1v2h7v-1h2v1h1v-1h1v1h20v-1h1v1h30v-1h2v1h6v-1h2v1h10v-2h1v2h1v-1h1v1h9v-1h1v1h9v-1h1v1h2v-1h1v1h3v-1h1v1h1v-1h1v1h9v-2h1v2h10v-1h2v1h16v-1h1v1h1v-1h1v2h6v-1h5v-1h2v1h2v-1h1v1h10v-1h1v1h1v-1h1v1h2v-1h2v1h5v-1h1v1h8v-1h1v1h4v-1h1v1h6v-1h1v1h1v-2h1v2h9v-1h1v1h4v-1h1v1h3v-1h1v1h4v-1h1v1h5v-1h1v1h1v-1h1v1h2v-1h1v1h6v-1h1v1h16v-1h2v1h3v1h1v-2h1v1h7v-1h2v2h7v-3h1v2h3v-1h1v1h16v-1h1v1h5v-1h2v1h6v-1h1v1h18v1h3v-1h1v-1h1v1h1v-1h2v1h1v-1h1v1h2v-1h1v1h3v-1h1v1h2v-2h2v1h1v1h1v-1h1v1h10v-1h1v1h6v-1h1v1h2v-1h1v1h2v3h-1v-1h-9v1h-1v-1h-3v1h-1v-1h-1v1h-1v-1h-6v1h-1v-1h-3v1h-1v-1h-3v2h-1v-2h-12v1h-3v-1h-13v2h-1v-2h-2v1h-1v-1h-2v1h-1v-1h-7v1h-1v-1h-2v1h-1v-1h-4v1h-1v-1h-6v1h-1v-1h-5v2h-1v-2h-4v-1h-1v3h-2v-1h-1v1h-1v-1h-3v-1h-2v1h-1v-1h-2v1h-2v-1h-2v1h-2v-1h-5v1h-1v-1h-9v1h-1v-1h-2v1h-1v-1h-3v1h-3v-1h-4v1h-1v-1h-1v1h-2v-1h-8v1h-1v-1h-2v1h-2v-1h-8v1h-1v-1h-1v1h-4v-1h-5v1h-2v-1h-3v1h-1v-1h-1v2h-1v-2h-4v1h-2v-1h-5v1h-1v-1h-7v1h-1v-1h-10v1h-1v-1h-7v1h-1v1h-1v-2h-2v1h-1v-1h-3v3h-1v-2h-5v1h-1v-2h-8v2h-1v-2h-1v2h-1v-2h-1v1h-1v-1h-1v1h-1v-1h-4v1h-1v-1h-1v1h-2v-1h-4v1h-1v-1h-5v1h-1v-1h-3v1h-1v-1h-7v1h-1v-1h-2v1h-1v-1h-3v1h-2v-1h-16v1h-1v-1h-6v1h-4v-1h-4v1h-1v1h-1v-2h-2v1h-1v-1h-6v1h-1v-1h-4v2h-1v-2h-4v1h-1v-1h-3v1h-2v-1h-2v1h-1v-1h-22v1h-1v-1h-1v1h-1v-1h-3v2h-1v-1h-1v-1h-3v1h-1v-1h-2v1h-1v-1h-13v1h-1v-1h-3v1h-1v-1h-5v1h-3v-1h-12v1h-1v-1h-3v1h-1v1h-1v-2h-1v1h-1v-1h-5v1h-1v-1h-5v1h-1v-1h-1v1h-1v-1h-5v1h-1v-1h-4v1h-3v-1h-3v1h-1v-1h-10v1h-1v-1h-1v1h-1v-1h-2v1h-1v-1h-2v1h-1v-1h-10v1h-1v-1h-3v1h-2v1h-1v-2h-10v1h-1v-1h-7v1h-1v-1h-11v1h-1v-1h-8v1h-1v-1h-2v2h-1v-1h-1v-1h-11v1h-1v-1h-3v1h-1v-1h-3v1h-2v-1h-1v1h-1v-1h-3v1h-1v-1h-5v2h-1v-1h-1v-1h-6v1h-2v-1h-2v1h-2v-1h-1v1h-1v-1h-1v2h-1v-2h-8v1h-1v-1h-2v2h-1v-1h-1v1h-2v-1h-1v-1h-2v1h-2v-1h-2v1h-1v-1h-5v1h-2v-1h-1v1h-1v-1h-2v1h-1v-1h-1v1h-1v-1h-2v1h-1v-1h-10v1h-1v-1h-5v1h-1v-1h-1v2h-1v-2h-4v1h-1v-1h-4v1h-1v-1h-2v2h-1v-2h-2v1h-2v-1h-3v2h-2v-2h-2v1h-1v-1h-9v1h-1v1h-2v-2h-7v1h-2v-1h-1v1h-1v-1h-1v1h-2v-1h-3v1h-1v-1h-2v1h-1v-1h-3v2h-2v-2h-7v1h-1v-1h-1v1h-1v-1h-14v2h-1v-2h-3v1h-1v-1h-3v2h-1v-2h-10v1h-1v-1h-4v1h-1v-1h-1v1h-2v-1h-4v1h-2v-1h-2v1h-1v-1h-3v1h-1v-1h-5v1h-1v-1h-2v2h-1v-1h-1v2h-1v-2h-2v-1h-10v1h-1v-1h-3v1h-1v-1h-9v1h-1v-2h-1v1h-2v-1h-1v1h-3v1h-1v-1h-1v1h-1v-1h-1v1h-3v-1h-13v1h-1v-1h-2v1h-1v-1h-2v1h-1v-1h-2v1h-1v-1h-1v1h-1v-1h-8v1h-2v-1h-11v1h-1v-1h-2v1h-2v-1h-6v-1h-2v1h-1v1h-1v-1h-6v1h-1v-1h-15v1h-1v-1h-1v1h-1v-1h-4v1h-1v-1h-1v1h-1v-1h-5v1h-1v-1h-9v1h-1v-1h-2v1h-1v-1h-5v1h-1v-1h-3v1h-2v-1h-1v1h-1v-1h-6v1h-1v-1h-2v1h-1v-1h-2v1h-1v-1h-3v1h-1v-1h-3v1h-1v-1h-8v1h-1v-1h-5v1h-1v-1h-18v4h-1v-3h-1v-1h-4v2h-1v-2h-10v7h-1v-6h-1v-1h-7v2h-1v-2h-1v1h-1v-1h-3v1h-1v-2h-5v1h-3v1h-1v1h-1v-2h-3v2h-1v-2h-3v1h-2v-1h-2v1h-1v-1h-4v1h-1v-1h-5v1h-1v-1h-3v1h-1v-1h-1v-1h-2v2h-1v-1h-3v1h-2v-1h-4v1h-1v-1h-2v1h-1v-1h-1v1h-1v-1h-2v1h-1v-1h-10v1h-1v-1h-2v1h-1v-1h-8v1h-1v-1h-3v1h-1v-1h-5v1h-1v-1h-6v1h-1v-1h-1v1h-1v-1h-21v1h-1v-1h-3v1h-1v-1h-1v1h-2v-1h-4v1h-1v-1h-14v1h-1v-1h-1v1h-1v-1h-4v1h-1v-1h-6v1h-1v-1h-2v2h-1v-2h-1v1h-1v-1h-1v2h-2v-2h-1v1h-3v1h-1v1h-1v-3h-1v3h-1v-1h-1v-2h-2v1h-2v3h-2v-1h-1v-1h-1v4h-1v-3h-1v3h-1v-2h-1v53h-1v-13h-1v-19h-1v28h-1v7h-1v-16h-1v9h-1v8h-1v89h-2v-91h-1v6h-1v41h-1v-31h-1v4h-1v-19h-1v36h-1v-49h-1v-2h-1v12h-1v-13h-1v96h-1v-86h-1v6h-1v-9h-1v-18h-1v35h-2v79h-1v-82h-1v-60h-1v-1h-3v-1h-1v1h-1v-2h-3v8h-1v-2h-1v-1h-1v-3h-1v1h-1v10h-1v-1h-1v24h-1v-25h-1v-3h-2v-7h-2v-1h-1v1h-1v1h-1v-1h-1v1h-1v2h-1v-2h-1v-2h-1v3h-1v-4h-1v3h-1v-1h-1v-1h-2v-2h-2v1h-2v-1h-1v2h-1v-2h-5v1h-1v-1h-2v1h-1v-1h-2v2h-1v-2h-4v2h-1v-2h-2v2h-1v-2h-1v1h-1v-1h-1v2h-1v-2h-1v1h-1v-1h-5v1h-1v-1h-5v1h-1v-1h-2v1h-1v-1h-2v1h-1v-1h-5v1h-3v1h-1v-1h-4v-1h-5v1h-1v-1h-4v1h-1v-1h-1v1h-2v-1h-2v1h-2v-1h-1v1h-1v-1h-5v1h-2v-1h-13v1h-1v-1h-2v1h-2v-1h-3v1h-2v-1h-11v1h-1v-1h-1v1h-1z"/>
<path fill="#ff0000" d="M50 1012h8v-1h1v1h6v-1h1v1h2v-1h1v1h13v-1h7v1h22v-1h1v1h22v-1h1v1h5v-1h1v1h20v-2h1v2h1v-1h1v1h4v-3h1v2h1v-2h1v2h3v-6h1v7h3v-1h1v-2h1v3h3v-1h2v1h8v-1h1v1h6v-2h1v2h3v-1h1v1h1v-1h1v1h9v-1h1v1h2v-1h1v-1h1v2h1v-1h1v1h4v-1h2v1h3v-2h1v2h14v-1h1v-1h1v2h36v-1h1v1h2v-1h1v1h5v1h1v-1h10v-1h1v1h3v-1h1v1h17v-1h1v1h27v-1h1v1h8v-1h1v1h3v-1h1v1h1v-1h1v1h7v-2h1v2h3v-1h1v1h2v-1h1v1h3v-1h1v1h11v-1h2v1h10v-1h1v1h1v-2h1v2h6v1h4v-1h1v-1h1v1h1v-1h1v1h4v-1h1v1h5v-1h2v1h4v-1h1v1h2v-2h1v2h10v-1h1v1h2v-1h2v-1h1v1h1v2h4v-1h12v-1h1v1h2v-1h1v1h1v-1h1v1h2v-1h3v1h11v-1h1v1h2v-1h2v1h2v-1h1v1h11v-1h1v1h13v-1h1v1h7v-1h1v1h3v-2h1v2h1v-1h1v1h5v-1h1v1h1v-1h1v1h4v-1h1v1h6v-1h1v1h1v-1h1v1h6v-1h1v1h3v-1h1v1h7v-1h1v1h2v-1h1v1h1v-1h1v1h18v-1h2v-1h1v1h1v1h1v-1h1v1h1v-1h2v1h16v-1h1v1h9v-1h1v1h1v-2h1v1h1v1h5v1h4v-2h2v1h7v-6h1v6h2v-1h2v1h8v-1h2v1h4v-1h2v1h4v-1h1v1h1v-1h1v1h1v-1h1v1h2v-1h1v1h25v1h2v-3h1v2h2v-1h2v2h1v-2h1v1h2v-2h2v2h1v-1h1v1h3v-1h1v1h3v-1h2v1h17v1h1v-2h1v2h1v-2h3v1h4v-1h1v1h7v-1h1v1h11v-1h1v1h5v-1h1v1h10v-1h1v1h3v-1h1v1h22v-2h1v2h7v-1h2v1h2v-1h1v1h1v-1h1v1h2v-1h1v1h2v-1h1v1h1v-1h2v1h4v-1h1v1h7v-1h1v1h1v-1h1v1h6v-1h1v1h10v-1h1v1h6v-1h1v1h14v-1h1v1h9v-1h1v1h12v-1h1v1h8v-1h2v1h1v-1h1v1h1v-1h1v1h1v-1h1v-1h1v2h9v-1h1v1h4v-1h2v1h9v-2h1v2h15v-1h1v1h4v-1h1v1h6v-1h1v1h13v-1h1v1h2v-1h1v1h4v-1h1v1h2v-1h1v1h7v-1h1v1h6v-1h2v1h6v-1h1v1h6v-1h1v1h5v-1h1v1h2v-1h1v1h7v-1h1v1h9v-1h1v1h3v-1h1v1h7v-1h1v1h18v-1h1v1h2v-2h1v2h10v-1h3v1h8v-1h1v1h4v-2h1v2h7v-1h1v1h2v-1h1v1h8v-2h1v1h1v1h6v-1h1v1h1v-2h1v2h1v-1h1v1h1v-1h1v1h2v-2h1v2h2v-1h1v1h6v-1h1v1h6v-1h1v1h2v-1h1v1h1v-1h1v1h2v-1h1v1h6v-1h1v1h2v-1h2v1h11v-1h1v1h9v-1h1v1h8v-1h1v1h2v-1h1v1h3v-1h2v1h5v-1h2v1h13v-2h1v2h3v-1h3v1h5v-1h1v1h23v-1h2v1h1v-1h1v1h1v-1h1v1h7v-1h1v1h14v-2h1v2h1v-1h2v1h1v-2h1v2h3v-2h1v2h5v-1h1v1h6v-1h1v1h11v-1h1v1h11v-1h1v1h8v-1h1v1h2v-1h1v1h3v-1h1v1h6v-1h3v1h2v-1h1v1h7v-1h2v1h1v-1h1v1h6v-8h1v6h1v1h1v1h2v-3h1v3h1v1h2v-2h1v1h1v-1h1v-2h2v2h1v1h1v-2h1v2h2v-4h1v4h1v-1h2v1h1v-2h1v2h4v-2h1v-1h1v2h2v-1h1v1h1v-1h1v1h1v1h3v3h-4v-1h-1v1h-2v-1h-1v2h-1v-2h-1v3h-1v-1h-2v-1h-2v3h-1v-4h-2v1h-2v5h-1v-6h-4v2h-1v-1h-1v1h-1v-2h-1v3h-1v-2h-1v1h-1v-1h-1v-1h-3v4h-1v-3h-1v-1h-1v5h-1v-4h-1v1h-1v-2h-1v1h-1v2h-1v-2h-1v-1h-1v1h-1v2h-1v-2h-1v-1h-4v1h-1v-1h-15v1h-3v-1h-9v1h-1v-1h-4v1h-1v-1h-6v1h-1v-1h-4v1h-1v-1h-15v1h-1v-1h-16v1h-1v-1h-7v1h-1v1h-1v-2h-5v1h-1v-1h-6v1h-1v-1h-1v1h-2v-1h-4v1h-1v-1h-1v1h-1v-1h-10v1h-1v-1h-1v1h-1v-1h-2v2h-1v-2h-11v1h-1v-1h-1v1h-1v-1h-1v1h-1v-1h-5v1h-1v-1h-1v1h-1v-1h-5v1h-1v-1h-8v1h-1v-1h-2v1h-1v-1h-2v1h-2v-1h-2v1h-1v-1h-1v1h-1v-1h-3v1h-2v-1h-11v1h-1v-1h-3v1h-1v-1h-4v1h-2v-1h-1v1h-1v-1h-1v1h-1v-1h-6v1h-1v-1h-5v2h-1v-1h-1v-1h-1v1h-1v-1h-8v1h-1v-1h-4v1h-1v-1h-3v1h-1v-1h-2v1h-2v-1h-4v2h-1v-2h-6v1h-1v-1h-1v1h-1v-1h-1v1h-1v-1h-6v1h-1v-1h-4v1h-1v-1h-8v1h-1v-1h-3v1h-3v-1h-2v1h-1v-1h-4v1h-2v-1h-5v1h-2v-1h-6v1h-1v-1h-2v1h-1v1h-1v-2h-2v1h-1v-1h-2v1h-1v-1h-2v1h-2v-1h-2v1h-1v-1h-13v1h-1v-1h-2v1h-1v-1h-8v2h-1v-2h-1v1h-1v-1h-7v2h-1v-2h-12v1h-2v-1h-7v1h-1v-1h-3v1h-1v-1h-1v1h-1v-1h-12v1h-1v-1h-6v1h-1v-1h-6v1h-1v-1h-3v2h-1v-2h-1v1h-1v-1h-3v1h-1v-1h-9v1h-1v-1h-2v1h-1v-1h-2v2h-1v-2h-9v1h-4v1h-1v-3h-1v1h-4v1h-1v-1h-5v1h-2v-1h-1v1h-2v-1h-1v-1h-2v1h-12v1h-1v-1h-3v1h-1v-1h-1v1h-2v-1h-3v1h-1v-1h-3v1h-2v-1h-7v1h-1v-1h-11v1h-2v-1h-3v2h-1v-2h-3v1h-1v-1h-1v1h-1v-1h-4v1h-2v-1h-10v1h-1v-1h-6v1h-2v-1h-3v1h-1v-1h-2v1h-1v-1h-1v1h-1v-1h-11v1h-1v-1h-20v1h-1v-1h-15v2h-1v-2h-7v2h-1v-2h-1v1h-1v-1h-11v1h-1v-1h-5v1h-2v-1h-2v1h-3v-1h-3v-1h-1v3h-1v-1h-1v1h-1v-1h-3v-1h-5v1h-1v-1h-1v1h-1v-1h-12v1h-1v-1h-1v1h-1v-1h-2v2h-1v-1h-1v1h-1v1h-2v-2h-6v1h-1v-1h-1v-1h-3v2h-1v-2h-1v1h-1v-1h-1v2h-1v-2h-1v1h-1v-1h-5v1h-1v-1h-2v1h-1v-1h-3v1h-1v-1h-4v1h-1v-1h-3v1h-1v-1h-6v1h-1v-1h-4v2h-1v-2h-7v1h-1v-1h-3v2h-1v-1h-1v1h-1v-2h-1v2h-1v-2h-7v2h-1v-1h-3v-1h-5v1h-1v-1h-1v1h-1v-1h-8v1h-2v-1h-9v1h-1v-1h-1v1h-1v-1h-3v1h-1v-1h-2v-1h-1v1h-4v1h-1v-2h-2v1h-1v2h-1v-2h-9v2h-1v-2h-6v-1h-1v1h-6v1h-1v-1h-5v1h-1v-1h-1v1h-1v-1h-3v1h-1v-1h-2v1h-1v-1h-2v1h-3v-1h-9v1h-2v-1h-1v-1h-1v1h-3v2h-1v-1h-1v-1h-1v1h-1v1h-1v-1h-1v-1h-11v1h-1v-1h-29v1h-1v-1h-1v1h-1v-1h-1v1h-1v-1h-1v2h-1v-1h-1v-1h-2v1h-2v-1h-14v1h-1v-1h-10v1h-4v-2h-4v1h-8v2h-1v-2h-2v1h-1v-1h-1v1h-1v-1h-2v1h-2v1h-1v-2h-2v1h-1v-1h-2v1h-1v-1h-12v1h-4v-1h-3v1h-2v-1h-1v1h-1v-1h-8v1h-1v-1h-1v1h-1v-1h-6v1h-1v-1h-8v1h-2v-1h-5v1h-1v-1h-2v1h-1v-1h-5v1h-1v-1h-4v1h-1v-1h-11v1h-2v-1h-3v1h-1v-1h-1v1h-1v-1h-5v1h-2v-1h-7v1h-2v-1h-2v1h-1v-1h-3v1h-1v-1h-6v1h-1v-1h-1v1h-1v-1h-2v1h-1v-1h-1v1h-1v-1h-1v1h-1v-1h-2v1h-1v-1h-7v1h-1v-1h-3v2h-1v-2h-1v1h-1v-1h-2v1h-1v-1h-2v1h-1v-1h-1v1h-1v-1h-2v1h-1v-1h-2v1h-1v-1h-2v1h-1v-1h-4v1h-1v-1h-3v1h-1v-1h-10v1h-1v-1h-8v1h-1v-1h-10v1h-1v-1h-4v1h-1v-1h-1v2h-1v-1h-1v-1h-6v-1h-2v2h-1v-1h-2v1h-1v-1h-1v1h-1v-1h-4v1h-1v1h-1v-2h-7v1h-1v-1h-2v1h-3v-1h-1v1h-1v-1h-1v1h-2v-1h-2v1h-2v-1h-2v2h-1v2h-1v-3h-1v2h-1v-2h-1v3h-1v-3h-1v2h-2v1h-1v-3h-1v1h-1v-1h-1v-1h-1v2h-1v-2h-3v3h-1v-2h-1v2h-1v-1h-1v-1h-1v-1h-12v1h-1v-1h-4v1h-1v-1h-17v2h-1v-2h-2v1h-1v-1h-5v1h-1v1h-1v-1h-1v-1h-10v1h-1v-1h-7v2h-1v-2h-1v1h-1v-1h-1v1h-1v-1h-3v-1h-4v2h-1v-1h-2v1h-1v-1h-2v1h-1v-1h-7v1h-1v-1h-1v1h-1v-1h-10v1h-2v-1h-4z"/>
<path fill="#0000ff" d="M50 1041h1v-1h1v1h1v-6h2v6h2v1h9v-1h1v1h2v-1h1v1h2v-1h1v1h6v-2h1v2h1v-1h1v1h1v-1h1v1h3v-1h1v1h7v-1h1v1h2v-1h1v1h7v-1h1v1h13v-1h1v1h9v-1h1v1h1v-2h1v2h5v-1h2v1h3v-1h1v1h4v-1h1v1h1v-1h1v1h4v-1h2v1h1v-1h1v1h3v-1h1v1h2v-1h1v1h1v-1h2v1h14v-1h1v1h2v-1h1v1h1v-1h1v1h2v-1h1v1h1v-1h1v1h6v-3h1v2h3v1h3v-2h1v-3h1v1h2v1h1v-1h1v-1h1v-3h1v-1h1v-1h1v-2h1v6h1v-2h1v4h1v-2h1v3h1v-5h1v6h1v-1h1v-6h1v5h2v-1h1v-1h1v3h1v1h1v-1h1v-1h1v-1h2v-1h1v2h1v1h1v-1h1v-3h1v2h1v1h2v2h1v-1h1v1h1v-1h1v-1h2v-20h1v-108h1v43h1v-4h1v24h1v25h1v-35h1v36h1v-42h1v47h1v-21h1v10h1v8h1v2h1v15h1v17h1v-2h1v3h1v-4h1v-2h1v-3h1v-81h1v21h1v34h1v-32h1v32h1v-9h1v-9h1v16h1v-16h1v25h1v-9h1v1h1v-7h1v13h1v13h1v1h1v-16h1v24h1v6h1v3h1v1h1v-4h1v6h1v-2h2v-1h1v-1h1v2h1v4h1v-4h1v3h2v-1h1v-4h1v1h1v1h1v1h1v-1h2v2h1v-3h1v2h2v-3h1v3h1v1h1v1h1v-4h1v5h1v-1h1v1h1v-1h1v1h2v-1h2v1h1v-2h1v2h6v-1h1v1h5v-1h1v1h2v-1h1v1h1v-1h1v1h1v-2h1v2h1v-1h2v1h7v-1h1v1h2v-1h2v-1h1v2h4v-1h3v1h2v-2h1v2h1v-1h2v1h3v-1h1v1h2v-1h3v-1h1v2h3v-2h1v2h1v-2h1v2h7v-1h1v1h2v-1h3v2h2v-1h1v-2h1v1h2v1h3v-1h1v1h1v-1h1v1h1v-1h2v1h7v-1h1v1h2v-1h1v2h1v-1h1v1h3v-2h1v1h5v-1h1v-1h1v1h1v1h1v-1h1v1h2v-1h1v1h1v-1h2v1h1v-1h4v-1h1v1h1v1h1v-1h2v1h1v-2h1v2h1v-1h1v1h2v-2h1v1h1v1h1v-1h2v1h2v-1h2v-1h1v1h1v1h2v-1h2v1h2v-1h1v1h2v-1h1v1h1v-1h2v1h2v-2h1v2h1v-1h1v1h1v-1h1v1h4v-2h1v2h7v-2h1v1h1v1h2v-1h2v1h1v-2h1v2h3v-2h1v1h1v1h2v-1h1v1h3v-1h1v1h1v-1h1v1h1v-1h1v1h1v-1h1v1h1v-4h1v3h3v-3h1v-2h1v3h1v3h7v-1h1v1h1v-1h2v-2h1v2h3v2h6v-1h3v-1h1v1h5v-1h1v1h2v-1h1v1h1v-1h1v1h1v-1h1v1h6v-1h1v1h4v-1h1v1h2v-1h1v1h5v1h5v-2h1v2h1v-1h1v-1h1v-1h1v2h15v-1h1v1h2v-1h1v1h11v-1h1v1h1v-1h1v1h15v-1h1v1h3v-1h1v1h5v-1h1v1h1v-1h2v1h2v-1h1v1h1v-1h1v1h5v-2h1v2h9v-1h2v1h8v-1h2v1h1v-1h1v1h6v-1h1v1h1v-1h1v1h2v-1h1v1h2v-1h1v1h1v-2h1v2h3v-1h1v1h2v-1h2v1h1v-1h2v-1h1v2h2v-2h1v1h2v1h2v-1h1v1h1v-1h1v1h3v-1h2v1h3v-2h1v2h9v-1h1v1h3v-1h1v1h2v-1h1v1h9v-1h2v1h3v-1h1v1h2v-1h1v1h1v-1h1v1h4v-1h1v1h4v-1h1v1h3v-1h1v1h2v-2h1v1h1v1h1v-1h1v1h4v-1h1v1h2v-1h1v1h2v-1h1v1h1v-1h1v2h1v-1h1v1h2v-1h2v-1h1v1h4v-1h4v1h3v-1h3v1h2v-1h1v1h1v-1h1v1h3v-1h2v1h1v-1h1v1h3v-1h1v1h5v-1h1v1h1v-2h1v2h6v-1h1v1h7v-1h1v1h5v-1h1v1h9v-1h1v1h6v-1h1v1h3v-1h2v-1h1v2h1v-2h1v2h1v-1h1v1h2v-2h2v2h1v-1h1v1h1v-1h2v1h5v-3h1v1h1v-2h1v4h1v-4h1v4h4v-1h1v-1h1v2h1v-1h2v-4h1v-1h1v2h1v-1h1v1h2v2h1v-3h2v3h2v-1h1v-3h1v3h2v-4h1v4h2v-3h1v5h1v-3h1v-42h1v-103h1v50h1v49h1v-20h1v-37h1v-42h1v47h1v-1h1v28h1v31h1v1h1v18h1v-65h1v29h1v-88h1v59h1v50h1v7h1v-12h1v-32h1v23h1v36h1v14h1v2h1v-7h1v8h3v-1h1v2h1v-2h1v-2h1v1h1v-3h1v2h1v2h1v-3h1v3h1v1h1v-3h1v3h1v1h1v-1h1v-2h1v2h1v-1h1v1h1v1h1v-2h1v1h1v-1h1v1h2v1h1v-1h1v1h2v-2h2v1h1v-2h1v2h2v1h3v-1h1v-1h1v1h1v-3h1v4h1v-1h1v1h1v-1h1v1h4v-1h1v1h2v-1h1v1h1v-2h1v-2h2v3h1v-1h2v2h2v-1h1v1h4v-1h2v1h3v-2h1v1h1v1h4v-1h1v1h6v-1h1v1h1v-1h2v1h1v-1h1v-1h1v1h1v1h2v-1h1v1h1v-2h1v1h2v1h2v-1h1v1h3v-1h1v1h3v-1h1v1h3v-1h1v1h12v1h1v-1h1v1h1v-1h2v1h1v-1h6v-2h2v2h5v-1h1v1h4v-2h1v2h3v-1h1v1h6v-1h1v1h4v-1h1v1h10v-1h1v1h11v-1h1v1h3v-1h1v1h6v-1h1v1h1v-1h1v1h2v-1h1v1h3v-2h2v2h4v-1h1v1h4v-1h1v1h3v-1h1v1h2v1h1v-1h1v1h2v-2h2v1h4v-1h2v1h5v-1h2v1h2v-1h1v1h16v-1h1v1h5v-1h1v1h1v-1h1v1h3v-1h1v1h2v-1h2v-1h1v1h2v1h2v-1h1v1h1v-1h1v1h2v-1h1v1h3v-1h1v1h5v-1h1v1h5v-2h1v2h6v-1h1v1h3v-1h1v1h4v-1h2v1h1v-1h1v1h2v-1h1v1h4v-1h1v1h6v-1h1v1h4v-2h1v2h4v-1h1v1h2v-1h2v2h3v-1h1v1h1v-1h2v-1h1v1h4v-1h1v1h1v-1h2v1h4v-1h1v1h14v-1h2v1h4v-1h2v1h16v1h7v-1h5v-1h1v1h5v-1h1v1h4v-1h5v1h2v-2h1v1h1v1h3v-2h1v2h7v1h2v-1h2v1h2v-1h12v-1h1v1h2v-1h2v1h5v2h-4v2h-1v-2h-1v1h-1v-1h-1v1h-1v-1h-2v1h-1v-1h-10v1h-4v1h-1v-1h-2v-1h-5v1h-1v-1h-1v1h-1v-1h-1v1h-1v-1h-2v1h-1v-1h-1v-1h-2v1h-1v-1h-1v1h-1v1h-1v-1h-4v1h-1v-1h-3v1h-1v-1h-4v1h-1v-1h-1v1h-4v1h-1v-1h-3v-1h-1v2h-1v-2h-3v1h-2v-1h-5v1h-1v-1h-1v1h-1v-1h-4v1h-1v-1h-2v1h-1v-1h-1v1h-1v-1h-3v1h-1v-1h-3v1h-1v-1h-5v1h-1v-1h-5v1h-1v-1h-1v1h-1v-1h-1v1h-1v-1h-3v2h-1v-1h-5v-2h-2v2h-1v-1h-3v1h-2v-1h-2v1h-2v-1h-3v1h-1v1h-1v-2h-4v1h-1v-1h-4v1h-1v-1h-6v1h-1v-1h-5v1h-2v-1h-2v1h-1v-1h-10v1h-1v-1h-1v2h-1v-2h-3v2h-1v-2h-6v2h-1v-2h-1v1h-1v-1h-2v-1h-2v1h-1v-1h-1v1h-2v2h-1v-2h-7v1h-4v-1h-6v1h-1v-1h-4v2h-1v-2h-1v1h-1v-1h-3v2h-1v-1h-1v-1h-6v1h-1v-1h-9v1h-2v2h-1v-1h-1v-1h-2v-1h-1v1h-3v-1h-7v1h-1v-1h-2v1h-4v-1h-12v1h-1v-1h-4v1h-1v-1h-1v1h-1v-1h-8v1h-1v-1h-1v1h-1v-1h-4v1h-1v-1h-4v1h-1v-1h-8v1h-1v-1h-4v1h-1v-1h-3v1h-1v-1h-2v1h-1v-1h-1v1h-1v-1h-5v1h-3v-1h-4v1h-9v-1h-1v1h-3v-1h-11v1h-1v-1h-1v1h-1v-1h-3v2h-1v-2h-1v1h-1v-1h-13v2h-1v-2h-2v1h-1v-1h-3v1h-1v-1h-3v1h-1v-1h-6v1h-1v-1h-2v1h-1v-1h-5v1h-2v-1h-1v2h-1v-1h-1v-1h-1v1h-1v-1h-1v3h-1v-3h-1v2h-2v1h-1v-1h-2v-1h-1v1h-2v-2h-1v4h-1v1h-1v-1h-1v-2h-1v1h-1v-1h-1v3h-1v-4h-1v-1h-5v3h-1v-3h-1v1h-1v-1h-2v1h-1v-1h-1v1h-1v1h-1v-1h-2v-1h-2v3h-2v-1h-1v1h-1v-3h-1v1h-1v3h-1v3h-1v-3h-1v-1h-1v6h-1v-3h-1v-2h-1v-1h-1v-1h-5v2h-2v1h-1v13h-1v3h-1v22h-1v-14h-1v-3h-1v6h-1v31h-1v-3h-1v-22h-1v105h-1v-78h-1v-29h-1v38h-1v30h-1v-34h-1v15h-1v14h-1v-49h-1v38h-1v-32h-1v85h-1v-33h-1v-70h-1v-32h-1v-2h-1v5h-1v-1h-1v-2h-1v7h-1v-7h-1v1h-1v-1h-1v3h-1v-5h-1v8h-1v-6h-1v3h-1v-6h-2v1h-1v4h-1v-4h-1v4h-1v-3h-1v-2h-1v-2h-1v1h-1v1h-2v-1h-1v4h-1v-5h-3v-1h-1v2h-2v1h-1v-1h-2v-2h-1v1h-1v1h-2v2h-1v-4h-3v1h-1v-1h-1v2h-1v-2h-1v1h-1v1h-1v-1h-2v1h-1v1h-1v-1h-1v-1h-1v-1h-1v2h-1v-2h-8v1h-1v-1h-3v1h-1v-1h-3v1h-1v-1h-7v1h-2v-1h-2v1h-1v-1h-2v1h-1v-1h-3v1h-1v-1h-7v1h-1v-1h-3v2h-1v-1h-1v-1h-3v1h-1v-1h-9v-1h-1v1h-5v1h-1v-1h-2v1h-1v-1h-5v1h-2v2h-1v-1h-1v-1h-2v-2h-1v1h-1v1h-1v-1h-1v1h-1v-1h-1v1h-1v-1h-1v1h-2v-1h-7v1h-1v-1h-4v2h-1v-2h-1v2h-1v-1h-2v-1h-1v1h-1v-1h-1v1h-2v-1h-5v2h-1v-2h-1v1h-1v-1h-7v1h-1v-1h-4v1h-1v-1h-1v2h-1v-2h-5v1h-2v-1h-1v1h-1v-1h-11v2h-1v-2h-1v1h-2v-1h-2v1h-1v-1h-4v1h-1v-1h-1v1h-1v-1h-2v1h-2v-1h-1v2h-1v-2h-2v1h-2v-1h-2v1h-2v-1h-2v1h-2v-1h-23v-1h-1v1h-3v1h-1v-1h-2v1h-1v-1h-5v1h-1v-1h-1v2h-2v-2h-3v1h-1v-1h-2v1h-1v-1h-6v1h-1v-1h-1v1h-1v-1h-1v1h-1v-1h-1v1h-1v-1h-1v1h-1v-1h-1v1h-1v1h-1v-2h-7v1h-2v-1h-5v1h-1v-1h-5v1h-3v-1h-1v1h-2v-1h-1v1h-1v-1h-3v1h-1v-1h-5v1h-2v-1h-2v1h-2v-1h-2v1h-1v1h-1v-1h-3v1h-2v-2h-1v1h-2v-1h-3v1h-1v-1h-2v1h-1v1h-1v-2h-3v1h-3v-1h-6v2h-1v-2h-1v1h-2v-1h-2v1h-1v-1h-2v1h-1v-1h-3v1h-6v1h-1v-3h-1v1h-1v-1h-4v1h-7v1h-1v4h-1v1h-1v-1h-1v-1h-1v-1h-1v-1h-2v2h-1v4h-1v-3h-1v-4h-1v-1h-3v1h-1v-1h-1v1h-1v-1h-2v3h-1v-2h-1v2h-1v-2h-1v-1h-2v2h-1v-1h-1v-1h-1v1h-1v-1h-2v2h-1v-2h-1v1h-1v-1h-2v1h-1v1h-2v-2h-1v1h-1v-1h-2v1h-2v2h-1v-2h-2v-1h-1v2h-1v1h-1v-3h-2v1h-1v-1h-2v1h-1v1h-1v-1h-1v-1h-1v2h-4v-2h-1v1h-1v-1h-2v1h-3v-1h-1v2h-1v-1h-1v-1h-1v1h-1v-1h-1v2h-1v1h-1v-3h-1v2h-2v-2h-1v1h-1v-1h-1v2h-1v1h-1v-2h-1v-1h-1v2h-1v-2h-1v2h-1v-1h-2v1h-1v-1h-1v1h-1v-2h-1v1h-1v1h-1v-1h-2v-1h-1v3h-1v-2h-1v1h-1v-1h-1v1h-1v-2h-1v1h-1v1h-1v1h-1v-2h-2v1h-1v-1h-2v-1h-1v2h-1v-2h-1v3h-1v-3h-1v3h-1v-3h-1v1h-2v1h-1v-1h-1v1h-1v1h-1v-3h-1v3h-1v-1h-1v-2h-1v1h-1v1h-2v-2h-1v2h-1v-2h-1v1h-2v2h-1v-1h-2v-1h-2v1h-1v-1h-1v-1h-3v1h-1v-1h-1v1h-3v-1h-1v1h-2v1h-1v-1h-1v-1h-1v1h-1v1h-1v-2h-1v2h-1v-2h-1v1h-1v1h-1v-1h-1v2h-1v-2h-1v-1h-3v2h-1v-1h-2v1h-1v-1h-2v-1h-1v2h-1v-1h-1v-1h-1v3h-1v-2h-1v-1h-2v1h-2v1h-1v-1h-2v-1h-2v2h-1v-2h-2v1h-1v1h-2v-1h-1v-1h-2v1h-2v1h-1v-1h-1v2h-1v-1h-1v-2h-1v1h-1v1h-2v-1h-3v-1h-2v2h-1v-2h-2v3h-1v-1h-2v-1h-3v1h-2v1h-2v3h-1v-2h-1v2h-1v-1h-1v1h-2v-3h-2v1h-3v-1h-1v-1h-3v4h-1v-4h-1v2h-1v-2h-1v3h-1v3h-1v-5h-1v8h-1v-8h-1v3h-1v3h-2v6h-1v15h-1v9h-1v-11h-1v3h-1v8h-1v-8h-1v5h-1v23h-1v-17h-1v17h-1v-31h-1v14h-1v-6h-1v-10h-1v13h-1v1h-1v-29h-1v14h-1v-13h-1v-1h-1v22h-1v-1h-1v-18h-1v50h-1v-42h-1v42h-2v-43h-1v19h-1v-23h-1v28h-1v11h-1v-4h-1v-9h-1v103h-1v-86h-1v-39h-1v-19h-1v3h-2v-2h-1v2h-2v-1h-1v3h-1v-2h-1v5h-1v-3h-2v-2h-1v1h-1v4h-1v-2h-1v2h-1v-6h-1v1h-2v-1h-1v1h-1v1h-1v-1h-3v-2h-1v2h-2v4h-2v-1h-1v2h-1v2h-1v-5h-1v1h-2v-3h-1v-2h-2v2h-1v-1h-2v-1h-1v-3h-1v2h-2v-1h-1v2h-1v-3h-1v1h-1v-1h-4v1h-2v-1h-5v1h-1v-1h-2v1h-2v-1h-2v1h-1v-1h-6v1h-1v-1h-3v1h-1v-1h-1v1h-1v-1h-5v8h-1v-8h-7v1h-1v-1h-4v1h-2v-1h-2v2h-1v-2h-2v1h-1v-1h-1v1h-1v1h-1v-2h-1v1h-1v1h-1v-2h-2v1h-1v-1h-1v1h-1v-1h-1v1h-1v-1h-1v1h-1v-1h-7v1h-2v-1h-6v1h-2v-1h-2v1h-1v-1h-2v1h-1v-1h-1v2h-1v-1h-1v-1h-6v1h-1v-1h-5v1h-1v-1h-3v1h-1v-1h-1v1h-1v-1h-2v1h-1v-1h-2v1h-1v-1h-5v1h-1v-1h-4v2h-1v-2h-9v-1h-1v4h-2v-3h-2v-1h-1z"/>
<path fill="#006400" d="M50 1070h1v1h1v1h13v-1h1v1h8v-2h1v2h1v-1h1v1h9v-1h2v1h4v-1h1v1h6v-1h2v1h5v-1h1v1h3v-1h1v1h2v-2h1v1h1v1h3v-2h1v2h4v-2h1v1h1v1h10v-1h1v1h1v-1h1v1h1v-1h1v1h8v-1h1v1h35v-2h1v2h13v-1h1v1h2v-1h1v1h4v-1h1v1h1v-1h1v1h2v-1h3v1h2v-1h1v1h4v-1h2v1h1v-1h1v1h5v-1h1v-1h1v1h2v-1h1v1h1v1h22v-1h1v1h21v-1h1v1h11v-1h1v1h3v-1h1v1h8v-1h1v1h6v-1h1v1h9v-2h1v2h9v-1h1v1h2v-1h1v1h4v-1h1v1h14v-1h1v1h2v-1h1v1h1v-1h1v1h1v-1h1v1h3v-1h1v1h11v-1h1v1h7v-1h1v1h19v1h4v-1h2v-2h1v2h8v-1h1v1h8v-1h1v1h6v-1h1v1h1v-1h1v1h5v-1h1v1h4v-1h1v1h5v-1h2v1h3v-1h1v1h5v-1h1v1h10v-1h1v1h18v-1h1v1h4v-1h1v1h3v-1h1v1h2v-1h1v1h6v-2h1v2h9v-1h2v1h9v-1h1v1h6v-2h1v2h12v-1h1v1h1v-1h1v-1h1v1h1v1h3v-2h1v2h4v-2h1v2h6v-1h1v1h1v-2h1v2h5v-1h1v1h1v-1h1v1h3v-1h1v1h1v-1h1v1h1v-2h1v2h2v-1h1v-1h1v1h2v1h1v-1h1v1h1v-1h2v1h6v-1h1v1h5v-1h1v1h3v-2h1v2h1v-1h1v1h2v-1h3v1h11v-1h1v1h1v-2h1v2h3v-1h3v-1h1v1h2v1h1v-1h1v1h10v-2h1v2h5v-2h1v1h1v1h1v-1h1v1h5v-1h1v1h8v-3h1v3h2v-3h1v1h2v2h1v-3h1v-1h1v3h1v1h1v-1h1v1h7v-1h2v1h2v-1h1v1h2v-1h1v1h9v-1h1v1h1v-2h1v2h1v1h4v-2h1v1h6v-1h1v1h12v-2h1v2h3v-1h1v1h2v-1h2v1h3v-1h1v1h4v-1h1v1h6v-1h1v1h6v-1h1v1h1v-1h3v1h3v-2h1v1h1v1h2v-2h3v-1h1v-1h1v3h2v-2h1v3h17v-1h1v1h6v-1h1v1h3v-1h2v1h6v-1h1v1h2v-1h1v1h2v-1h2v1h2v-1h1v1h4v-1h1v1h3v-1h1v1h5v-1h1v1h3v-1h1v1h4v-2h1v2h7v-1h1v1h8v-1h1v1h10v-2h1v1h1v1h4v-1h2v-1h1v2h5v-1h3v1h3v-1h1v1h4v-1h1v1h4v-1h1v1h3v-1h1v1h12v1h1v-1h1v1h1v-2h1v1h4v-1h1v1h1v-1h1v1h3v-1h1v2h2v-1h2v-1h1v1h2v-1h1v1h3v-1h1v1h5v-1h6v1h1v-1h1v1h8v-1h2v1h2v-1h1v1h2v-1h1v1h7v-1h1v-1h1v1h4v-1h1v2h2v-1h1v1h3v-1h1v1h4v-1h1v1h9v-1h1v1h2v-1h1v1h1v-1h1v1h5v-1h1v1h8v1h5v-1h1v-1h1v1h14v-1h1v1h1v-1h1v1h22v1h3v-1h1v1h1v-1h2v-2h1v2h10v-1h2v1h6v-1h1v1h4v-1h1v1h8v-1h1v1h13v-1h2v1h4v-1h1v1h4v-1h1v1h1v-1h1v1h1v-1h1v1h2v-1h1v1h9v-1h1v1h1v-1h1v1h1v-1h1v1h2v-2h1v2h9v-1h1v1h8v-2h1v2h5v-1h1v1h8v-1h1v1h1v-1h1v1h5v1h5v-1h9v1h2v-2h1v1h1v-1h1v1h1v-2h1v2h2v-1h1v1h6v-2h1v2h3v-1h1v1h6v-1h1v1h6v-2h1v2h1v-1h2v1h6v-1h1v1h9v-1h1v1h2v-1h1v-1h1v1h1v-1h1v1h1v1h3v-1h1v1h1v-1h1v1h7v-1h1v1h9v-1h1v1h10v-1h2v1h12v-1h1v1h1v1h1v-1h1v1h3v-1h23v-1h1v1h9v-1h1v1h1v-1h1v1h2v-1h2v1h2v-1h3v1h6v-1h1v-1h1v2h6v-1h1v1h13v-1h1v1h10v-1h1v2h1v-1h8v-2h1v2h8v-1h1v1h3v-1h1v1h14v2h-5v1h-1v-1h-1v1h-1v-1h-4v1h-1v-1h-1v2h-1v-2h-3v1h-1v-1h-5v1h-1v-1h-10v1h-2v-2h-1v1h-2v1h-1v-1h-9v2h-1v-2h-4v1h-1v-1h-5v1h-1v-1h-5v1h-2v-1h-16v1h-1v-1h-13v1h-1v-1h-6v1h-1v-1h-4v1h-2v-1h-6v1h-1v-1h-1v1h-2v1h-1v-1h-2v1h-1v-2h-1v1h-1v-1h-2v2h-1v-2h-2v1h-1v-1h-2v1h-2v-1h-4v1h-1v-1h-2v2h-1v-2h-12v1h-1v-1h-3v1h-1v-1h-9v2h-1v-2h-3v-1h-2v1h-1v-1h-2v2h-1v-1h-6v1h-1v-1h-2v1h-1v-1h-17v1h-1v-1h-3v1h-1v-1h-3v1h-1v-1h-2v1h-2v-1h-14v1h-2v-1h-9v1h-1v1h-1v-1h-5v1h-1v-2h-5v1h-2v1h-1v-2h-5v1h-1v-1h-1v2h-1v-2h-3v1h-1v-1h-5v1h-3v-1h-3v1h-1v-1h-2v1h-2v-1h-1v1h-3v-1h-12v1h-1v-1h-8v1h-1v-1h-8v2h-1v-1h-1v-1h-6v1h-1v-1h-5v1h-1v-1h-6v1h-1v-1h-7v1h-1v-1h-14v1h-2v-1h-2v1h-2v-1h-3v1h-4v1h-2v-2h-3v1h-1v-1h-2v1h-1v-1h-2v1h-2v-1h-2v1h-1v-1h-5v1h-2v-1h-5v1h-1v-1h-2v1h-1v-1h-6v1h-1v-1h-3v1h-2v1h-1v-1h-2v-1h-11v1h-1v1h-1v-2h-6v4h-1v-3h-1v-1h-7v1h-1v1h-1v-2h-8v1h-1v-1h-3v-1h-1v1h-1v-1h-4v2h-2v-1h-14v1h-2v-1h-2v1h-1v-1h-1v1h-1v-1h-2v-1h-3v1h-1v-1h-2v2h-1v-1h-2v1h-1v-1h-11v1h-2v-1h-3v1h-1v-1h-4v1h-1v-1h-1v1h-5v-1h-1v1h-1v-1h-5v2h-1v-2h-4v1h-1v-1h-2v2h-1v-1h-1v-1h-9v1h-2v-1h-1v1h-1v-1h-8v-1h-3v1h-12v1h-1v-1h-11v1h-1v-1h-7v1h-1v-1h-8v1h-1v-1h-4v1h-1v-1h-7v1h-1v-1h-11v2h-1v-2h-3v1h-1v-1h-1v1h-2v-1h-10v2h-1v-2h-5v1h-1v-1h-3v1h-1v-1h-4v1h-2v-1h-2v1h-2v2h-1v-1h-2v1h-1v-3h-1v5h-1v-4h-1v-1h-1v3h-1v1h-1v-4h-1v1h-1v-1h-20v1h-1v-1h-8v1h-1v-1h-9v1h-1v-1h-1v1h-1v-1h-5v2h-1v-2h-8v2h-1v-1h-1v1h-1v-1h-3v-1h-7v1h-1v1h-1v-2h-4v1h-1v-1h-1v2h-1v-2h-1v1h-1v-1h-9v1h-1v-1h-2v3h-2v1h-1v-3h-1v-1h-1v6h-1v-4h-3v-1h-1v1h-1v-2h-1v1h-1v-1h-1v1h-1v-1h-5v1h-1v-1h-1v1h-1v-1h-1v1h-1v-1h-7v2h-1v-2h-1v1h-1v-1h-2v1h-1v-1h-2v1h-1v-1h-1v1h-1v-1h-3v4h-2v-2h-1v-1h-2v-1h-6v1h-1v-1h-7v1h-1v-1h-4v-1h-1v1h-2v1h-1v-1h-1v1h-2v-1h-3v1h-1v-1h-4v2h-1v-1h-1v-1h-6v2h-1v-1h-1v-1h-2v1h-1v2h-1v-3h-3v1h-1v-1h-1v1h-1v1h-2v-2h-2v2h-1v-2h-1v2h-1v-2h-1v1h-1v1h-1v-1h-1v-1h-1v1h-3v5h-1v-5h-1v-1h-2v1h-1v-1h-6v1h-1v-1h-2v2h-1v-2h-2v2h-1v1h-1v-2h-2v1h-1v-1h-1v-1h-9v1h-2v-1h-1v1h-1v-1h-7v1h-1v-1h-4v1h-1v-1h-1v1h-1v-1h-2v1h-1v-1h-1v2h-1v-2h-1v1h-1v-1h-1v1h-1v-1h-3v1h-2v-1h-6v1h-1v-1h-8v1h-1v-1h-4v1h-1v-1h-1v1h-1v-1h-1v1h-1v-1h-8v2h-1v-1h-1v-1h-3v2h-1v-2h-5v1h-2v-1h-6v1h-1v-1h-10v1h-1v-1h-4v1h-1v-1h-6v1h-1v-1h-5v1h-1v-1h-1v1h-2v-1h-12v1h-1v-1h-5v1h-6v-1h-5v1h-1v-1h-1v1h-1v-1h-4v1h-2v-1h-4v2h-1v-2h-2v1h-1v-1h-5v1h-2v-1h-2v2h-1v-2h-2v1h-1v-1h-2v1h-1v-1h-1v2h-1v-2h-6v1h-1v-1h-6v1h-4v-1h-3v1h-1v-1h-1v1h-1v-1h-4v1h-1v-1h-13v1h-1v-1h-10v1h-3v-1h-15v1h-4v-1h-2v1h-1v-1h-1v1h-1v-1h-15v1h-1v-1h-8v1h-1v-1h-7v1h-1v-1h-1v1h-1v-1h-6v1h-2v-1h-2v1h-1v-1h-5v-1h-4v1h-1v-1h-1v1h-13v1h-1v-1h-1v1h-1v-1h-1v1h-1v-1h-9v2h-1v-2h-1v1h-1v-1h-18v1h-1v-1h-2v1h-1v-1h-1v1h-1v-1h-4v1h-1v-1h-20v1h-1v-1h-2v1h-1v-1h-2v1h-2v-1h-4v2h-1v-1h-1v-1h-9v1h-1v-1h-1v1h-2v-1h-4v1h-1v-1h-5v1h-1v-1h-6v1h-1v-1h-2v1h-1v-1h-1v1h-1v-1h-9v1h-1v-1h-4v1h-2v-1h-4v1h-1v-1h-2v1h-1v-1h-5v1h-3v-1h-3v1h-2v-1h-6v1h-1v-1h-3v1h-1v-1h-1v2h-1v-2h-1z"/>
<path fill="#000000" d="M50 1102h1v-1h1v-1h1v2h7v-1h1v1h2v-2h1v1h1v1h2v-1h1v1h1v-1h1v1h4v-1h6v1h4v-1h1v1h2v-1h2v1h2v-1h2v1h19v-1h1v1h2v-1h1v1h7v1h3v-1h20v-1h2v1h1v-1h1v-1h1v1h1v1h1v-2h1v2h19v-2h1v-1h1v1h1v2h1v-1h3v-1h1v2h2v-3h1v3h16v-4h1v4h1v-1h2v1h1v-1h1v1h2v-3h1v2h4v-1h1v-62h1v-5h1v28h1v-20h1v23h1v-7h1v7h1v-21h1v16h1v-11h1v-7h1v14h1v13h1v-31h1v11h1v11h1v-34h1v21h1v17h1v14h1v-34h1v35h1v6h1v-9h1v-12h1v6h1v-5h1v12h1v21h1v-1h1v1h1v3h1v-8h1v9h1v-4h2v-3h1v5h1v-6h1v-2h1v3h1v-1h1v2h1v7h2v-4h1v4h1v-2h1v2h2v-3h1v1h1v2h1v-1h1v1h1v-1h1v-3h1v3h1v1h5v-1h3v1h2v-1h1v1h1v-1h1v1h1v-1h1v1h1v-1h2v1h5v-1h1v1h1v-1h1v1h2v-1h1v1h1v-1h1v1h2v-1h1v1h4v-1h1v1h3v-1h1v1h4v1h1v-1h6v-2h1v2h1v-1h1v1h1v-1h1v1h11v-1h1v1h7v-1h1v-1h1v1h7v1h10v-1h1v1h12v-2h1v2h7v-1h1v1h6v-1h1v1h1v1h6v-2h2v1h4v-1h1v1h9v-1h1v1h2v-1h1v1h3v-1h1v1h10v-1h1v1h18v-1h1v1h2v-1h1v1h11v-1h2v1h1v-1h1v1h1v-1h2v1h1v-1h1v1h2v-1h2v1h4v-1h1v1h4v-1h1v-1h1v2h1v-1h1v1h3v-1h1v1h6v-2h1v2h1v-1h1v1h2v1h2v-2h1v1h4v-1h1v1h3v-1h1v1h2v-1h1v1h2v-1h1v1h3v-2h1v2h5v-1h1v1h3v1h3v-1h8v-1h2v1h2v-1h1v1h5v-2h1v2h1v-1h1v1h4v-1h1v1h1v-1h1v1h10v-1h1v1h1v-1h1v1h8v-1h1v1h2v-1h1v1h1v-1h1v1h6v-1h2v1h19v-1h1v1h8v-1h1v1h6v-1h2v1h5v-1h1v1h6v-1h1v1h1v-1h2v-1h1v2h6v-2h1v1h1v1h3v-2h1v2h7v-1h1v1h11v-1h1v1h9v-1h1v1h10v-1h4v1h7v-1h3v1h10v-2h1v2h11v-1h1v1h8v-2h1v2h1v-1h1v1h4v-1h1v1h2v-1h1v1h1v-2h1v2h9v-1h3v1h4v-1h2v1h17v-1h2v1h2v-1h1v1h5v-1h1v1h2v-1h3v1h29v-1h1v1h2v-1h1v1h7v-1h2v1h30v1h6v-2h1v1h5v-1h3v-1h1v1h1v2h6v-2h1v1h7v-2h1v2h3v-2h1v2h12v-1h1v1h1v-1h1v1h4v-1h1v1h1v1h4v-1h1v1h6v-2h3v1h2v-1h1v1h2v1h3v-1h10v-1h1v1h1v-1h1v1h9v-1h1v1h6v-1h1v1h5v-1h1v1h4v-1h1v1h1v-1h2v1h1v1h1v-1h2v-2h1v2h12v-1h1v1h15v-1h1v1h10v-1h1v1h3v-1h1v-1h1v1h3v1h3v-1h1v1h5v-1h1v1h4v-1h1v1h4v-1h1v1h7v-1h1v1h11v-2h1v3h3v-1h1v-1h3v1h13v-2h1v2h1v-1h1v1h4v-1h2v1h5v-1h1v1h3v-1h1v1h6v-1h1v1h11v-1h1v1h6v-2h1v2h6v-1h1v1h1v-2h1v2h1v-1h2v1h1v-1h2v1h1v-1h1v1h1v-1h1v1h3v-1h4v1h12v1h9v-1h4v-1h1v1h1v-1h1v1h1v-1h1v1h6v-1h1v1h3v-1h1v1h3v-1h1v1h8v1h1v-2h1v2h3v-1h1v1h1v-1h5v-1h1v1h3v-1h1v1h7v-2h1v2h2v-1h1v1h5v-1h2v1h3v-1h1v1h21v-1h1v1h2v-1h1v1h4v-1h1v1h1v-1h1v1h12v-1h1v1h2v-1h1v1h5v-1h1v1h3v-1h1v2h6v-1h3v-1h2v1h1v-1h1v1h8v-1h2v1h1v-1h1v1h9v-2h1v2h5v-2h1v2h3v1h7v-1h3v-1h2v1h4v-2h1v2h1v-1h1v1h1v-1h1v1h2v-1h1v1h5v-1h1v1h2v-1h1v1h3v-1h1v1h1v-1h5v1h3v-1h1v1h2v-1h1v1h2v-1h1v1h4v-1h1v-1h1v2h3v-1h1v1h13v-1h1v1h1v-1h1v1h13v2h-2v2h-1v-2h-4v1h-1v-1h-5v-1h-1v1h-2v1h-1v-1h-6v1h-1v-1h-3v1h-1v-1h-4v1h-1v-1h-4v1h-1v-1h-4v1h-1v-1h-5v1h-1v-1h-1v-1h-3v2h-1v-1h-1v1h-2v-1h-1v1h-1v-1h-3v2h-1v-2h-4v1h-1v-1h-8v1h-6v-1h-2v1h-2v1h-2v-1h-4v-1h-12v1h-1v1h-1v-2h-1v1h-1v-1h-6v1h-1v-1h-7v1h-1v-1h-3v1h-1v-1h-1v2h-1v-2h-1v1h-3v1h-1v-1h-2v-1h-4v1h-1v-1h-2v1h-1v-1h-4v1h-1v-1h-3v1h-1v-1h-11v1h-1v-1h-5v1h-1v-1h-3v2h-1v-2h-3v1h-1v-1h-8v1h-1v-1h-2v1h-1v-1h-2v1h-1v1h-1v-2h-4v1h-1v-1h-4v1h-1v-1h-1v1h-1v-1h-4v1h-1v-1h-3v1h-1v-1h-6v1h-1v-1h-3v1h-4v1h-1v-1h-2v-1h-4v1h-1v-1h-4v2h-1v-1h-1v-1h-4v1h-1v-1h-8v1h-1v-1h-6v1h-3v1h-1v-1h-4v1h-3v-2h-1v1h-1v-1h-9v-1h-4v1h-4v1h-1v-1h-7v1h-1v-1h-10v1h-1v-1h-9v1h-1v-1h-7v1h-2v-1h-2v2h-1v-2h-17v1h-2v1h-1v-2h-1v1h-1v-1h-2v1h-1v-1h-9v1h-1v-1h-1v1h-1v-1h-1v1h-1v1h-1v-1h-1v-1h-14v1h-1v-1h-10v1h-2v-1h-5v1h-1v-1h-7v-1h-4v1h-5v1h-1v-1h-1v1h-1v-1h-1v1h-1v-1h-5v1h-1v-1h-4v1h-1v-1h-2v1h-1v-1h-2v1h-1v-1h-3v1h-1v-1h-4v1h-1v-1h-9v1h-1v-1h-1v1h-2v-1h-1v1h-1v-1h-10v2h-1v-2h-1v1h-1v-1h-1v1h-1v-1h-6v1h-1v-1h-6v1h-1v-1h-10v1h-1v-1h-2v2h-1v-1h-2v-1h-2v1h-1v-1h-1v1h-1v-2h-3v2h-3v1h-1v-1h-4v1h-1v-1h-2v-1h-1v1h-1v-1h-1v1h-1v-1h-1v1h-2v-1h-1v4h-1v-4h-17v1h-2v-1h-1v1h-1v-1h-4v1h-5v1h-1v-2h-1v-1h-4v1h-5v2h-1v-1h-6v-1h-2v1h-1v-1h-11v1h-3v-1h-7v1h-1v-1h-14v1h-2v-1h-1v1h-1v-1h-1v1h-1v-1h-4v1h-1v-1h-2v1h-1v-1h-1v1h-1v-1h-1v1h-1v-1h-6v2h-1v-2h-2v1h-2v-1h-1v1h-1v-1h-23v1h-1v-1h-2v1h-1v-1h-3v1h-1v-1h-3v1h-1v-1h-1v1h-1v-1h-7v1h-1v-1h-2v1h-1v-1h-5v1h-1v-1h-8v1h-2v-1h-6v2h-1v-2h-5v1h-1v-1h-4v2h-1v-2h-4v1h-1v-1h-13v1h-2v-1h-5v-1h-3v1h-7v1h-1v-1h-6v1h-1v-1h-10v1h-2v-1h-2v1h-1v-1h-1v1h-2v-1h-3v2h-1v-2h-3v1h-2v-1h-4v1h-1v-1h-5v1h-1v-1h-5v1h-1v-1h-3v1h-1v-1h-1v1h-1v-1h-7v2h-1v-2h-5v1h-1v-1h-4v1h-1v-1h-3v1h-1v-1h-1v1h-1v-1h-12v1h-1v-1h-2v1h-1v-1h-5v1h-1v-1h-1v1h-1v-1h-11v1h-1v-1h-5v1h-2v-1h-5v1h-2v-1h-14v1h-1v-1h-3v2h-1v-2h-5v1h-1v-1h-2v1h-2v1h-1v-1h-1v1h-1v-1h-2v-1h-4v1h-1v-1h-23v1h-2v-1h-1v2h-1v-1h-1v-1h-3v1h-1v-1h-3v1h-1v-1h-3v1h-1v-1h-4v1h-1v-1h-4v1h-1v-1h-1v1h-1v1h-1v-1h-1v-1h-1v1h-1v-1h-22v1h-1v-1h-8v2h-1v-2h-7v1h-1v-1h-2v1h-1v-1h-3v1h-1v-1h-1v1h-1v-1h-1v2h-1v-2h-3v1h-1v-1h-3v1h-1v-1h-1v2h-1v-2h-11v2h-1v-2h-2v1h-1v-2h-1v1h-1v1h-2v1h-1v-1h-3v-1h-3v1h-1v-1h-4v1h-1v-1h-10v1h-1v-1h-15v1h-1v-1h-1v1h-1v-1h-2v-1h-8v1h-1v1h-2v-1h-5v1h-1v-1h-8v2h-1v-2h-2v1h-1v-1h-1v1h-1v-1h-3v1h-1v-1h-1v2h-1v-2h-2v1h-1v-1h-3v1h-1v-1h-1v1h-1v-1h-5v1h-1v-1h-4v1h-1v-1h-1v1h-1v-1h-2v2h-3v-2h-1v1h-1v-1h-1v1h-2v1h-1v-2h-1v1h-1v1h-1v-1h-1v-1h-1v1h-3v1h-1v-1h-1v1h-1v-1h-1v-1h-1v2h-1v-1h-1v1h-1v-2h-1v1h-1v3h-2v-2h-1v-2h-1v1h-1v1h-1v-1h-1v-1h-1v1h-1v2h-1v2h-1v-5h-1v3h-1v-1h-1v2h-1v3h-1v3h-1v-4h-1v-2h-2v-1h-1v3h-1v3h-1v-7h-1v1h-2v-1h-1v4h-1v3h-1v23h-1v20h-1v-21h-1v61h-1v-63h-1v10h-1v17h-1v50h-1v-66h-1v6h-1v37h-1v-25h-1v9h-1v-20h-1v-6h-1v17h-1v-31h-1v4h-1v8h-1v-2h-1v35h-1v-37h-1v28h-1v-32h-1v-6h-1v11h-1v-5h-1v10h-1v-40h-1v-1h-1v2h-2v2h-1v-3h-1v1h-2v-2h-1v5h-1v-3h-1v2h-1v-2h-1v-2h-1v1h-1v-1h-3v1h-1v-1h-1v2h-1v-2h-6v1h-1v-1h-3v3h-1v-1h-1v1h-1v1h-1v-3h-1v-1h-1v2h-3v1h-1v-1h-1v-2h-5v2h-1v-2h-1v1h-1v-1h-1v1h-1v-1h-2v1h-1v-1h-3v1h-1v-1h-3v-1h-3v2h-1v-1h-3v1h-1v-1h-5v1h-1v-1h-12v1h-4v-1h-1v1h-2v-1h-2v1h-1v-1h-1v1h-1v-1h-4v1h-1v-1h-5v2h-1v-2h-3v1h-1v-1h-5v2h-1v-2h-5v1h-1v-1h-1v1h-1v-1h-5v1h-1v-2h-5v1h-6v1h-1v-1h-5v2h-1v-2h-3v1h-1v-1h-7z"/>
<path fill="#ff0000" d="M50 1133h3v-1h1v1h1v-1h1v-1h3v-1h1v2h15v-2h1v2h2v-1h1v1h5v-1h1v1h2v-1h1v1h8v-1h1v1h2v-1h1v1h1v-1h1v-1h1v2h4v-1h1v1h1v-1h1v1h1v-1h1v1h1v-1h1v1h2v-1h1v1h1v-1h1v1h9v-1h2v1h4v-1h2v1h21v-1h1v-1h1v2h2v-1h1v1h5v-2h1v2h5v-1h1v1h1v-2h1v1h4v1h1v-1h2v1h2v-2h1v1h1v1h2v-2h1v2h1v-1h2v1h1v-1h1v1h1v-2h1v1h1v1h2v-1h1v-1h1v1h1v1h4v-1h1v1h1v-2h3v2h2v-1h3v-3h2v1h2v-1h1v-7h1v5h1v-1h1v-4h1v-9h1v6h1v-2h1v5h1v-6h1v4h1v1h1v1h1v5h1v4h1v-1h1v-6h1v4h1v-7h1v7h1v-5h1v7h1v-1h1v-1h2v2h2v-3h1v2h1v-2h1v2h1v-4h1v7h2v-4h1v4h1v-3h3v-3h1v-12h1v14h1v-14h1v-2h1v6h1v4h1v3h1v-2h1v-9h1v15h2v-5h1v1h2v5h1v1h1v-2h1v1h1v2h2v-1h1v-1h1v3h2v-3h1v3h2v-3h1v2h1v-2h1v-1h1v4h1v-2h1v2h1v-3h1v2h2v1h3v-2h1v1h2v1h4v-1h1v-2h1v3h2v-2h1v2h2v-1h1v1h8v-1h1v1h1v-2h1v2h1v-1h1v-1h1v2h3v-2h1v1h1v1h1v-1h2v1h1v-1h1v1h5v-1h2v1h10v-1h1v1h2v-1h1v1h1v-1h1v1h3v-2h1v2h2v-1h1v1h3v-1h1v1h2v-1h1v1h1v-1h1v1h8v-1h1v1h21v-1h1v1h1v-1h1v1h8v-1h1v1h1v-1h1v1h2v-1h1v1h13v-2h1v2h10v-1h1v1h41v-1h1v1h6v-1h1v1h4v-1h1v1h8v-1h1v1h6v-1h1v1h9v-1h1v1h1v1h2v-1h2v1h1v-1h1v-1h1v1h6v-1h1v1h1v-1h2v1h5v-2h1v1h3v1h2v-1h1v1h5v-1h1v1h5v-1h1v1h1v-1h2v1h8v-1h1v1h7v-1h1v1h5v1h7v-1h3v-1h2v1h13v-1h1v1h7v-1h1v1h1v-1h1v1h3v-1h1v1h6v-2h1v2h1v-1h2v1h1v1h3v-1h5v-1h1v1h5v-4h1v4h2v-1h1v1h2v-1h1v1h1v-1h2v1h3v-1h1v1h2v-2h1v1h1v1h10v-1h1v1h1v-1h1v1h3v-1h1v1h8v-1h2v1h4v-1h1v1h2v-1h1v1h7v-1h5v1h15v-2h1v2h8v-1h1v1h4v-1h1v1h3v-1h2v1h7v-1h1v1h16v-1h1v1h6v-1h1v1h1v-1h1v1h9v-1h2v1h12v1h2v-1h1v-2h1v2h5v-1h2v1h2v-1h1v1h14v-1h1v1h1v-1h1v1h5v-2h1v2h10v-1h1v1h6v-2h1v2h9v-1h1v1h1v-1h1v1h1v-1h1v1h3v-1h1v1h3v-1h1v1h7v-2h1v1h1v1h18v-1h2v1h1v-1h1v1h1v-1h1v1h1v-1h1v1h3v-1h1v1h6v-1h6v1h1v-1h1v1h10v-2h1v2h2v-3h1v3h19v-1h1v1h3v-1h1v1h12v-2h1v2h4v-1h2v1h2v-1h1v1h2v-1h1v1h2v-1h1v1h11v-1h1v1h5v-1h1v1h1v-1h1v1h5v-1h1v1h1v-1h1v1h2v-1h1v1h1v-1h1v1h10v-1h1v1h1v-1h1v1h3v-1h1v1h5v-1h1v1h2v-1h4v1h3v-2h1v2h4v-1h1v1h8v-1h1v1h2v-2h1v2h20v-1h1v1h9v1h4v-3h1v2h5v-1h1v1h6v-1h2v1h1v-1h1v1h1v-1h1v1h6v-1h1v1h7v-1h1v-1h1v2h3v-1h1v1h6v-1h1v1h9v-1h1v1h6v-2h1v1h1v1h4v-1h1v1h9v-1h1v-1h1v1h1v-1h1v2h2v-1h4v1h2v-1h2v1h2v-3h1v3h7v-1h1v1h1v-2h1v2h5v-3h1v3h1v-1h2v1h5v-2h1v2h3v-1h1v1h2v-1h2v1h2v-1h1v-2h1v3h1v-1h1v1h2v-1h2v1h4v-2h2v1h1v-1h1v2h2v-1h1v1h1v-1h1v-2h1v2h1v1h1v-2h1v2h4v-1h1v1h2v-2h1v-1h1v3h1v-1h1v1h7v-2h1v1h2v1h3v-1h1v1h9v-1h2v1h11v-1h1v1h3v-1h1v1h3v-1h2v1h2v-1h3v-4h1v2h1v-1h1v-3h1v3h1v-3h1v5h1v-4h1v5h1v-1h1v2h1v-1h3v1h1v-2h1v1h1v1h4v-3h1v2h2v1h2v-1h1v-1h1v2h5v-1h1v1h1v-1h1v1h4v-1h1v1h1v-1h1v-1h1v2h5v-1h2v1h2v-1h1v1h1v-2h1v2h1v-1h2v1h1v-2h1v2h10v-1h1v1h2v-1h2v1h1v-1h1v1h4v-1h1v1h9v-1h1v1h7v1h6v-1h12v-1h1v1h6v-1h1v1h2v-1h1v1h8v-2h1v3h2v-1h1v2h-1v1h-2v-1h-3v1h-2v-1h-1v1h-2v-1h-1v1h-2v-1h-2v1h-1v-1h-13v2h-1v-1h-1v-1h-3v2h-1v-1h-5v-1h-1v1h-1v-1h-6v1h-1v-1h-2v2h-1v-1h-1v-1h-3v2h-1v-2h-4v2h-1v-2h-3v1h-2v-1h-4v1h-2v-1h-13v2h-1v-2h-2v1h-1v-1h-2v2h-1v-2h-4v-1h-1v1h-2v1h-2v-1h-2v2h-1v-1h-1v1h-1v-1h-1v-1h-1v2h-1v1h-1v-2h-2v-1h-1v3h-2v-2h-1v3h-1v-3h-2v-1h-1v3h-1v-2h-1v1h-1v-2h-3v1h-2v-1h-1v2h-1v1h-1v1h-1v1h-1v6h-1v-8h-3v-1h-5v3h-1v-3h-1v-2h-1v1h-1v-1h-4v2h-1v-1h-1v-1h-3v1h-1v-1h-9v1h-1v-1h-4v1h-1v-1h-2v1h-1v-1h-6v-1h-2v1h-4v1h-1v-1h-2v1h-2v1h-1v-2h-2v2h-3v-2h-1v1h-1v1h-1v-2h-3v4h-1v-3h-4v1h-1v-2h-1v1h-5v1h-1v-2h-2v2h-1v-2h-2v1h-1v2h-1v-2h-1v1h-1v-2h-1v2h-1v1h-1v-2h-4v-1h-1v3h-1v-3h-1v2h-1v-2h-2v2h-1v-1h-1v-1h-1v1h-1v-1h-2v3h-1v-2h-1v3h-1v-2h-1v-2h-2v2h-2v-1h-2v3h-1v-3h-1v1h-1v-2h-2v1h-2v1h-2v-2h-1v2h-1v-2h-1v3h-1v-3h-1v5h-1v-4h-1v1h-2v-2h-1v3h-1v-3h-1v3h-1v-2h-1v3h-1v-1h-1v-2h-2v2h-1v-1h-1v-1h-1v1h-1v-2h-5v1h-2v-1h-1v1h-1v-1h-1v1h-1v-1h-2v1h-2v-1h-1v1h-1v-1h-2v1h-1v-1h-3v1h-1v-1h-5v1h-2v-1h-9v1h-1v1h-1v-2h-14v1h-1v-1h-2v1h-1v-1h-6v1h-1v-1h-3v1h-1v2h-1v-2h-3v-1h-3v2h-1v-2h-1v1h-2v-1h-6v1h-1v-1h-1v1h-5v1h-1v-2h-11v1h-1v-1h-3v1h-1v-1h-14v-1h-4v1h-5v1h-1v-1h-7v1h-1v-1h-7v1h-1v-1h-2v1h-1v-1h-4v2h-1v-2h-2v1h-1v-1h-12v2h-1v-2h-1v1h-1v1h-1v-2h-7v1h-1v-1h-3v1h-1v-1h-8v1h-1v-1h-1v1h-1v1h-1v-2h-6v1h-2v-1h-2v1h-2v-1h-1v2h-1v-2h-4v1h-1v-1h-4v2h-1v-2h-1v1h-2v-1h-5v1h-1v-1h-1v1h-1v-1h-1v1h-1v1h-1v-2h-1v1h-1v-1h-8v1h-1v-1h-1v1h-3v-2h-2v2h-1v-2h-1v1h-1v-1h-1v1h-4v1h-2v-1h-19v1h-1v-1h-9v1h-1v-1h-1v1h-1v-1h-17v1h-1v-1h-5v1h-1v-1h-4v1h-1v-1h-5v1h-1v-1h-3v1h-1v-1h-2v1h-1v-1h-2v1h-3v-1h-1v2h-1v-2h-1v1h-2v1h-1v-1h-1v-1h-4v1h-2v-1h-2v1h-2v-1h-7v2h-1v-2h-3v1h-2v-1h-1v1h-1v-1h-2v3h-1v-1h-2v-1h-1v-1h-9v1h-1v-1h-5v1h-1v-1h-12v1h-1v-1h-6v1h-1v-1h-3v1h-2v-1h-7v1h-1v-1h-7v1h-1v-1h-7v2h-1v-2h-16v1h-1v-1h-4v1h-2v-1h-3v-1h-2v1h-1v-1h-2v1h-6v1h-5v-1h-17v2h-1v-2h-8v1h-1v-1h-4v1h-1v-1h-6v1h-1v-1h-9v4h-1v-4h-9v2h-1v-2h-1v1h-3v1h-1v-1h-1v-1h-3v1h-1v-1h-1v1h-1v-1h-1v1h-1v-1h-1v1h-1v-1h-2v1h-1v-1h-1v1h-4v-1h-2v1h-1v-1h-1v1h-1v-1h-2v1h-2v-1h-13v1h-1v-1h-1v1h-6v1h-2v-2h-2v1h-1v-1h-2v1h-1v-1h-1v1h-1v-1h-4v1h-1v-1h-14v1h-2v-1h-3v1h-1v-1h-1v2h-1v-2h-5v-1h-3v1h-7v2h-1v-2h-2v1h-1v-1h-5v1h-4v1h-1v-1h-1v-1h-2v1h-2v-1h-9v1h-1v-1h-4v1h-1v-1h-11v1h-1v-1h-4v1h-1v-1h-11v1h-1v-1h-1v1h-3v-1h-1v2h-1v-2h-3v1h-1v-1h-3v1h-1v-1h-1v1h-1v-1h-3v2h-1v-2h-7v2h-1v-2h-13v1h-2v-1h-6v1h-1v-1h-2v1h-1v-1h-1v1h-1v-1h-1v1h-2v-1h-7v1h-1v-1h-3v1h-1v-1h-1v1h-1v-1h-2v2h-1v-2h-3v1h-1v-1h-2v1h-1v-1h-1v1h-1v-1h-8v2h-1v-2h-9v1h-1v-1h-2v1h-1v-1h-3v2h-1v-2h-7v1h-1v-1h-2v1h-1v-1h-6v1h-1v-1h-2v1h-1v-1h-3v1h-1v-1h-1v1h-1v-1h-6v3h-1v-3h-1v2h-1v-2h-1v2h-1v-1h-1v-1h-2v1h-1v-1h-1v2h-1v-2h-1v1h-1v1h-2v-2h-1v1h-1v2h-1v-1h-1v-2h-1v1h-2v1h-1v-1h-2v-1h-1v1h-1v2h-1v-3h-1v2h-1v2h-1v-2h-2v-1h-4v2h-1v-3h-1v1h-1v-1h-2v3h-1v-3h-2v2h-1v-1h-1v3h-1v-4h-1v1h-2v-1h-1v2h-2v2h-1v-2h-1v2h-1v-3h-2v-1h-1v1h-1v4h-1v-2h-1v1h-1v-1h-2v2h-1v7h-1v-5h-1v2h-1v2h-1v39h-1v-38h-1v-3h-1v1h-1v6h-2v-7h-1v9h-1v-5h-1v-3h-1v-5h-1v-2h-1v3h-1v-4h-1v6h-2v-6h-2v2h-1v2h-1v2h-1v2h-1v-4h-1v-1h-2v4h-1v-1h-1v-5h-1v1h-1v5h-1v2h-1v-7h-1v-1h-1v4h-1v-3h-1v2h-1v1h-1v8h-1v-3h-1v-3h-1v-2h-1v2h-1v10h-1v-13h-1v2h-1v9h-1v-8h-1v-3h-1v-2h-2v2h-1v-3h-1v1h-1v-4h-4v2h-4v-1h-2v1h-4v-2h-1v1h-2v-1h-3v1h-2v1h-2v-1h-1v-1h-2v2h-1v-1h-2v2h-1v-1h-2v-1h-2v1h-1v-2h-1v1h-2v2h-1v-3h-1v2h-2v-1h-1v2h-1v-2h-3v-1h-1v1h-1v-1h-9v-1h-1v1h-3v1h-2v-1h-9v1h-1v-1h-4v1h-2v-1h-13v1h-1v-1h-8v2h-1v-2h-6v1h-1v-1h-1v1h-1v-1h-1v2h-1v-2h-4v1h-2v-1h-1v1h-1v-1h-1v1h-1v-1h-5v1h-2v-1h-10v1h-1v-1h-3v1h-1v-1h-7v1h-1v-1h-4v1h-1v-1h-2v3h-1v-1h-1v-1h-3z"/>
<path fill="#0000ff" d="M50 1163h2v-1h1v1h1v-1h8v-1h2v1h24v-1h2v2h6v-1h2v-1h1v1h5v-2h1v2h3v-1h1v1h10v-1h1v1h2v-1h1v1h3v-1h1v1h4v-1h2v1h4v-1h1v1h7v-1h1v-1h1v2h1v-1h1v1h8v-2h1v1h1v1h3v-1h1v1h1v-1h1v1h3v-1h1v1h3v-1h1v1h7v-1h1v1h4v-1h1v-1h4v-9h1v9h2v-2h1v2h1v-1h1v2h1v-2h3v3h1v-1h1v1h2v-1h4v-1h1v1h2v1h1v-3h1v1h1v2h2v-1h1v1h1v-1h1v-1h1v1h1v-1h1v1h1v-2h2v-3h1v4h2v-2h1v-1h1v2h1v-6h1v6h2v-1h1v1h2v1h1v-5h1v1h1v2h1v-2h1v2h1v2h1v-5h1v2h1v-42h1v44h1v1h1v-6h1v4h2v1h1v-8h1v10h1v-1h3v-5h1v2h1v-29h1v29h1v2h1v4h1v-4h1v1h1v1h1v-2h1v3h1v-2h1v2h2v-1h1v-1h1v-1h1v3h1v-2h1v-2h1v3h1v-4h2v-14h1v15h1v-5h1v7h1v-1h1v1h4v-1h1v-1h1v-8h1v10h1v-1h1v-3h1v-2h1v-2h1v10h1v-4h1v1h1v3h2v-1h1v1h2v-1h1v1h1v-2h2v-4h1v-1h1v1h1v1h3v3h2v-7h1v6h1v1h1v-1h1v3h2v-2h1v1h1v1h3v-1h1v1h2v-1h1v1h1v-1h1v1h1v-1h1v1h3v-1h2v1h1v-1h1v1h2v-1h1v-1h1v2h1v-2h1v2h1v-7h1v7h2v-1h1v-1h1v1h1v1h2v-1h1v1h1v-1h1v1h5v-1h1v1h1v-1h1v1h3v-1h1v-1h1v2h3v-2h1v1h1v1h5v-2h1v2h5v-1h1v-1h1v2h1v-1h2v1h7v-1h1v1h2v-1h2v1h1v-1h2v1h2v1h1v-2h1v2h2v-1h1v-1h3v-1h2v1h3v-1h2v-1h1v1h1v2h2v-1h1v1h3v-2h1v2h1v-2h1v-1h1v2h1v1h2v-2h1v2h1v-2h1v2h2v-1h1v-2h1v2h2v-1h1v2h11v-2h1v-1h1v3h1v-3h1v3h2v-1h1v-1h1v2h1v-1h2v-1h2v2h4v-1h2v-1h2v2h3v-2h1v1h1v-2h2v-1h1v-2h1v4h2v-3h1v2h1v-2h1v3h1v-4h1v4h1v-1h1v1h3v-5h1v6h1v-2h1v2h1v-1h1v1h1v-6h1v5h1v-2h1v1h3v1h1v1h2v1h3v-1h1v1h1v-2h1v2h4v-1h1v1h2v-1h1v1h1v-2h1v2h1v-1h1v-1h1v2h1v-1h1v1h2v-2h1v2h2v-1h1v-1h1v-2h1v-2h1v1h1v-9h1v13h1v-2h1v-1h1v2h1v-2h1v1h1v-1h1v1h1v3h2v-2h1v1h1v1h2v-1h1v1h1v-1h1v-2h1v3h1v-2h1v2h1v-2h1v2h1v-1h3v1h1v-3h1v2h1v1h2v-1h4v1h3v-1h2v-1h1v-6h1v5h1v-1h1v1h1v3h1v-3h1v2h1v1h5v-1h1v1h11v-1h1v1h1v-1h1v1h6v-1h1v1h1v-1h1v1h1v-1h1v1h1v-2h2v2h6v-2h1v1h2v-1h1v2h4v-1h1v-1h1v2h1v-2h1v1h2v1h1v-2h1v2h2v-4h1v4h3v-1h1v1h1v-1h1v-1h2v1h2v1h1v-1h1v1h5v-1h1v1h1v-1h3v1h4v-2h1v2h1v-1h1v1h7v-2h2v2h8v-1h1v1h1v-1h1v1h1v-2h1v1h1v1h6v-2h1v2h1v-1h2v1h7v-1h3v1h1v-1h1v1h4v-2h1v2h1v-1h1v1h11v-2h1v2h21v-1h1v1h1v-2h1v2h5v-2h1v2h6v-1h1v1h3v-1h2v1h2v-1h1v1h6v-1h1v1h12v-1h1v1h6v-1h1v2h4v-2h1v2h3v-2h1v1h3v-1h1v1h14v-1h2v1h8v-1h1v1h8v-1h1v1h19v-1h1v1h10v-1h1v2h1v-1h1v1h3v-1h7v1h2v-1h7v-1h1v1h3v-2h1v2h3v-2h1v2h1v-1h1v1h4v-1h1v1h3v-1h1v1h1v-1h1v1h3v-1h1v1h3v-1h4v1h1v-1h1v1h11v-1h1v1h4v-2h1v2h6v-1h1v1h2v1h3v-1h1v1h3v-2h2v2h5v-1h3v-1h1v1h1v-1h1v1h2v-1h1v1h3v-1h1v1h13v-1h3v1h2v-1h2v-1h1v2h2v-1h1v1h5v-1h1v1h1v-2h1v2h2v-1h1v1h2v-1h1v1h3v-1h1v1h2v1h1v-1h1v-1h1v1h2v-1h1v1h2v-1h1v1h2v-1h1v1h9v-1h1v1h3v-1h1v1h3v-1h1v1h6v1h4v-1h4v-1h1v1h4v-1h1v1h3v-1h1v1h1v-1h2v1h4v-1h2v1h4v-1h1v-1h1v1h1v1h5v-1h2v-1h1v1h3v1h5v-1h1v1h1v-1h1v1h2v-1h1v1h1v-1h1v1h8v-1h1v1h2v-2h1v2h3v-2h1v1h1v1h5v-2h1v2h9v-1h1v1h3v-2h1v2h1v-1h2v-2h1v3h3v-1h1v1h1v1h1v-3h1v2h1v-1h1v1h15v1h2v-1h1v-2h1v2h1v-1h1v-2h1v3h3v-3h1v1h1v2h2v-1h1v-1h3v1h1v-2h1v2h3v2h1v-3h1v2h3v-4h1v3h1v1h1v-1h1v-1h1v2h3v-1h1v1h2v-1h1v1h21v-1h1v1h2v-1h1v1h10v-1h2v1h7v-5h1v4h1v1h1v-3h1v3h3v-1h1v1h1v-1h3v1h1v-3h1v3h2v-1h1v-3h1v4h3v-1h1v-2h1v-2h1v5h1v-2h1v2h7v-1h1v1h3v-1h1v1h1v-1h1v1h1v-1h1v1h5v-1h1v1h2v-2h1v-3h1v4h1v-2h1v-3h1v2h1v-14h1v9h1v4h3v2h1v2h1v1h8v-1h1v1h4v-1h1v1h1v-1h1v1h3v-1h1v1h8v-1h1v1h3v-1h2v1h3v-1h1v1h6v-2h1v2h5v-1h1v1h1v-1h1v1h6v-1h1v1h2v-1h1v1h17v-1h1v1h6v-1h1v1h5v-1h1v1h7v-1h1v-1h1v2h3v-1h1v1h2v-1h2v1h9v-1h2v1h5v-1h1v1h1v2h-6v1h-1v-1h-6v1h-1v-1h-3v2h-1v-2h-1v1h-1v-1h-2v1h-1v-1h-7v1h-1v-1h-1v1h-1v-1h-8v1h-1v-1h-7v1h-1v-1h-2v2h-1v-1h-1v1h-1v-2h-10v1h-1v-1h-2v1h-1v-1h-1v1h-1v-1h-4v2h-1v-2h-3v1h-2v-1h-11v1h-1v-1h-2v1h-1v-1h-1v1h-1v-1h-2v1h-1v-1h-1v1h-1v-1h-1v1h-1v-1h-2v1h-2v-1h-2v2h-1v-2h-9v1h-1v-1h-3v1h-2v-1h-1v2h-1v-2h-1v5h-2v1h-1v-2h-1v3h-1v5h-1v-5h-1v-2h-1v-3h-2v5h-1v-2h-1v-5h-9v1h-2v-1h-2v1h-2v-1h-2v1h-1v-1h-1v1h-2v-1h-3v2h-2v-2h-3v3h-1v2h-1v-4h-1v-1h-1v5h-1v-1h-1v-1h-1v-3h-1v5h-1v-1h-1v-4h-2v1h-1v-1h-1v1h-1v1h-1v-1h-1v2h-2v2h-1v-4h-2v-1h-2v1h-1v-1h-7v1h-1v1h-1v-2h-1v1h-1v-1h-3v2h-1v-2h-4v1h-2v-1h-8v1h-1v-1h-3v1h-2v-1h-1v1h-1v-1h-5v1h-1v-1h-1v1h-1v-1h-3v2h-1v-2h-2v1h-1v-1h-1v3h-1v-1h-1v-1h-3v1h-1v2h-1v1h-1v-4h-1v1h-2v-2h-1v1h-1v-1h-2v5h-1v-1h-1v-4h-1v4h-1v-3h-3v1h-1v-1h-4v-1h-2v1h-1v-1h-6v1h-1v-1h-1v1h-1v-1h-2v4h-1v-3h-1v3h-1v-3h-1v1h-1v-2h-1v1h-1v1h-1v-1h-1v2h-1v-2h-1v1h-2v-2h-4v1h-3v-1h-1v1h-1v-1h-3v2h-1v-1h-1v-1h-10v1h-1v3h-1v-4h-1v1h-1v-1h-15v1h-1v-1h-1v2h-1v-1h-1v-1h-1v1h-1v-1h-2v-1h-3v1h-1v-1h-2v1h-1v1h-1v-1h-5v-1h-1v2h-1v-1h-13v1h-1v-1h-3v1h-1v-1h-6v1h-1v-1h-1v1h-3v1h-1v-2h-9v1h-2v-1h-2v1h-2v-1h-15v-1h-1v3h-1v-2h-3v2h-1v-1h-1v-1h-2v1h-1v-1h-1v1h-1v-1h-1v1h-1v-1h-4v1h-1v-1h-2v1h-3v-1h-2v1h-1v-1h-1v1h-1v-1h-1v1h-1v-1h-4v1h-1v-1h-2v1h-1v-1h-5v2h-1v-2h-2v1h-2v-1h-1v1h-1v-1h-2v2h-1v-2h-6v1h-2v-1h-1v2h-1v1h-1v-2h-2v1h-1v-3h-1v1h-1v1h-2v1h-1v-1h-1v1h-1v-1h-1v1h-1v-2h-5v1h-1v-1h-6v1h-3v-1h-1v1h-1v-1h-1v1h-2v-1h-5v1h-2v-1h-1v1h-1v-1h-3v1h-1v-1h-6v1h-2v-1h-11v1h-1v-1h-2v2h-1v-2h-3v1h-1v-1h-1v1h-1v-1h-2v1h-1v-1h-3v1h-2v-1h-1v1h-1v-1h-5v1h-1v1h-1v-1h-2v1h-1v-2h-9v1h-1v-1h-7v1h-1v-1h-1v1h-1v-1h-5v1h-1v-1h-6v1h-1v-1h-1v2h-2v-1h-1v-1h-1v1h-2v-1h-4v1h-2v-1h-4v2h-1v-2h-2v1h-1v-1h-1v1h-2v-1h-2v1h-1v-1h-3v1h-1v-1h-5v1h-7v1h-1v-1h-1v1h-1v-2h-4v1h-1v-1h-4v1h-1v-1h-2v1h-1v-1h-3v2h-1v-1h-1v-1h-7v1h-1v-1h-20v2h-1v-2h-1v1h-1v-1h-1v1h-1v-1h-1v2h-1v-1h-1v-1h-1v1h-1v-1h-1v1h-1v-1h-1v1h-1v-1h-3v1h-1v-1h-3v1h-1v-1h-1v1h-1v-1h-6v1h-1v-1h-2v1h-2v-1h-3v1h-1v-1h-3v1h-1v-1h-5v1h-1v-1h-5v1h-2v-1h-2v2h-1v-1h-2v2h-1v-2h-2v-1h-1v3h-1v-2h-2v-1h-1v2h-1v-1h-2v-1h-1v2h-1v1h-1v-3h-1v3h-1v-1h-2v-2h-1v1h-2v2h-1v-1h-1v-2h-4v2h-1v-2h-1v2h-1v-2h-1v2h-1v-1h-1v1h-1v1h-1v-3h-3v2h-1v-1h-5v1h-2v-2h-1v1h-1v1h-1v-1h-1v2h-1v-3h-2v2h-1v-2h-2v2h-1v4h-1v-4h-1v-1h-1v-1h-1v1h-1v-1h-1v2h-1v-2h-1v1h-4v-1h-2v1h-1v-1h-2v1h-1v1h-1v1h-1v-2h-1v1h-1v-2h-1v2h-1v1h-1v-1h-3v-2h-1v2h-1v-1h-1v-1h-2v1h-3v2h-1v-3h-3v1h-1v1h-1v1h-1v-3h-3v2h-1v1h-1v-2h-6v1h-1v-1h-5v2h-1v-3h-1v2h-1v3h-1v-2h-1v1h-1v-4h-1v1h-1v-1h-1v1h-1v3h-1v-3h-1v-1h-1v1h-3v-1h-2v3h-1v1h-1v-1h-1v2h-1v-4h-2v3h-1v-3h-1v-1h-2v5h-1v-1h-1v-1h-1v-2h-1v2h-1v-2h-1v4h-1v-3h-1v1h-1v-3h-1v4h-1v4h-1v-6h-1v1h-1v2h-1v-1h-1v7h-1v-7h-1v-2h-1v10h-1v-2h-1v-4h-1v-2h-1v-1h-1v-1h-1v-2h-1v2h-2v-1h-1v3h-1v-2h-2v-2h-1v1h-2v2h-1v-3h-3v1h-3v-1h-1v4h-1v-2h-1v-2h-2v3h-1v-2h-2v-1h-1v1h-1v1h-1v1h-1v4h-1v-2h-1v1h-1v-3h-1v1h-1v3h-1v-2h-1v2h-1v-2h-1v-3h-1v1h-1v19h-1v-19h-1v-1h-1v1h-2v-1h-1v4h-1v-4h-3v9h-1v-3h-1v-2h-3v-1h-1v-3h-2v-1h-1v-1h-2v1h-1v2h-1v1h-1v-3h-1v-1h-1v1h-1v-1h-1v2h-1v1h-1v1h-1v-2h-2v-1h-1v1h-1v-2h-1v1h-3v2h-2v-1h-3v-1h-2v-1h-1v1h-1v1h-2v-2h-1v1h-1v-1h-1v3h-1v-2h-2v1h-1v-1h-1v1h-1v-2h-1v2h-1v-2h-1v1h-2v2h-1v-1h-2v-2h-1v2h-1v2h-1v-1h-1v-3h-1v1h-1v1h-3v-1h-2v1h-3v-1h-2v3h-1v-1h-1v-3h-3v2h-2v-1h-1v1h-2v1h-1v-3h-2v2h-1v-1h-4v-1h-1v2h-1v-1h-2v-1h-1v3h-1v-2h-8v1h-1v-1h-1v-1h-3v1h-3v-1h-1v2h-2v-1h-2v-1h-2v1h-1v1h-1v-2h-1v2h-2v-1h-1v-1h-4v2h-2v1h-1v-1h-1v-2h-1v1h-1v-1h-1v1h-1v1h-1v-2h-1v1h-2v-1h-1v1h-1v-1h-1v3h-1v-3h-1v2h-1v-2h-1v2h-1v-2h-2v3h-1v-1h-1v-2h-1v1h-2v-1h-2v1h-2v-1h-1v1h-1v1h-1v-1h-1v-1h-2v1h-2v1h-1v-1h-1v1h-1v-1h-1v-1h-2v3h-1v2h-1v2h-1v14h-1v-15h-1v-3h-1v1h-1v1h-1v2h-1v-3h-3v-2h-2v2h-1v-4h-1v5h-1v-5h-1v1h-2v1h-1v-1h-1v3h-1v-2h-1v4h-1v2h-1v4h-1v-9h-1v7h-1v-2h-1v-3h-1v1h-1v5h-1v-7h-4v-2h-1v30h-1v-27h-1v5h-1v-5h-1v5h-1v-7h-1v1h-2v-1h-1v-2h-2v-1h-2v5h-1v-1h-1v-4h-2v1h-1v3h-1v-1h-1v1h-1v2h-1v-2h-1v8h-1v-9h-2v6h-1v-5h-2v-1h-1v25h-1v-24h-1v-1h-1v2h-1v4h-1v-6h-1v3h-1v12h-1v-13h-1v-1h-1v-2h-1v2h-1v2h-2v-1h-1v11h-1v-14h-1v4h-1v-3h-2v3h-1v-3h-1v1h-2v2h-1v-1h-1v-1h-1v-2h-1v6h-1v1h-1v-7h-2v1h-1v5h-1v-4h-1v-1h-1v-1h-3v-1h-1v1h-1v-2h-1v2h-1v-2h-1v2h-2v-1h-1v-1h-1v4h-1v-4h-4v4h-1v-3h-1v4h-2v-1h-1v1h-1v-2h-4v6h-1v-7h-1v1h-1v3h-1v-4h-1v-2h-3v1h-3v-1h-1v1h-3v-1h-3v1h-1v-1h-5v1h-2v-1h-1v1h-1v-1h-7v1h-1v-1h-4v1h-1v-1h-17v1h-1v-1h-2v1h-1v-1h-3v1h-1v-1h-5v1h-2v-1h-1v1h-1v-1h-12v1h-1v-1h-4v1h-1v1h-1v-1h-7v-2h-1v2h-1v-1h-4v1h-1v-1h-4v1h-1v1h-1v-2h-6v1h-1v-1h-1v1h-1v-1h-3v1h-2v-1h-2v1h-1v-1h-4v1h-1v-1h-1v1h-1v1h-1v-1h-2z"/>
<path fill="#006400" d="M50 1193h4v-1h8v-1h1v1h26v1h1v-1h1v1h2v-2h1v2h2v-1h5v-1h2v1h6v-1h1v1h1v-1h2v1h7v-1h1v1h3v-1h1v1h4v-1h1v1h4v-2h1v2h11v-1h1v1h2v-1h3v1h1v-1h1v1h3v-1h1v1h13v-1h3v1h7v-1h1v1h2v-1h1v1h2v-1h1v1h3v-1h1v1h4v-1h1v1h4v-1h2v1h3v-1h1v1h6v-1h1v1h2v-1h1v1h9v-1h2v1h20v-1h1v-1h1v-1h1v1h2v2h1v-1h1v1h1v-2h1v2h2v-1h2v-2h1v3h1v-1h1v1h1v-1h1v1h1v-2h1v1h1v-2h1v2h1v1h4v-1h1v1h22v1h2v-1h1v1h3v-1h2v-1h2v1h16v-1h1v1h2v-2h1v2h11v-2h1v2h4v-1h1v1h7v-1h1v1h1v-1h1v1h3v-1h1v1h1v-1h2v1h3v-1h2v1h1v-1h1v1h10v-1h1v1h1v-1h1v1h2v-1h1v1h8v-1h1v1h6v-1h1v1h3v-1h3v1h2v-1h1v1h5v-1h2v1h12v-1h1v1h1v-1h1v1h24v-1h1v1h4v-1h1v1h14v-1h1v1h13v-1h1v1h4v-2h1v2h3v-1h1v1h13v-1h1v1h1v1h4v-1h17v-1h2v-1h3v2h3v-1h6v1h10v-1h1v1h13v-1h1v1h1v-1h1v1h3v-1h1v1h6v-1h1v1h5v-2h1v2h3v-1h2v1h4v-1h1v1h1v-1h3v1h22v-1h1v1h5v-1h1v1h1v-1h1v1h1v-1h1v1h3v-2h1v2h3v-1h2v1h17v-1h1v1h20v-2h1v2h3v-1h1v1h6v-1h1v1h3v-1h2v1h3v-1h1v1h3v-1h1v1h6v-2h1v1h1v1h2v-1h1v1h13v-1h1v2h4v-1h9v-1h2v1h5v-2h1v2h3v-1h1v1h23v-1h1v1h1v-1h1v1h7v-1h1v1h7v1h7v-1h9v-1h1v1h2v-1h1v1h3v-1h1v-1h1v2h14v1h1v-1h1v1h2v-1h4v-1h1v1h1v1h3v-1h1v-1h1v1h7v-1h2v1h5v-2h1v2h3v-1h2v1h6v-1h1v1h2v-1h1v1h5v-1h1v-1h1v2h2v-1h1v1h3v-1h2v1h1v-1h3v1h1v-1h1v1h4v-1h1v1h11v-1h1v1h1v-1h1v1h1v-1h1v1h1v-1h2v1h1v-1h1v1h3v-1h1v1h4v-1h1v1h3v-1h1v1h3v-1h1v1h4v-1h2v1h1v-1h1v2h4v-1h4v-1h1v1h2v1h6v-1h3v-1h1v1h1v-1h1v1h5v-1h1v1h3v-1h1v1h3v-1h3v1h1v-1h2v1h6v-1h1v1h11v-1h1v1h1v-1h1v1h15v-2h1v1h1v1h17v-1h2v1h1v-1h2v1h3v1h2v-1h1v1h3v-1h2v-1h1v1h1v-1h1v1h3v-1h1v1h8v-1h1v1h10v-1h1v1h3v-3h1v2h5v1h6v-1h1v1h4v-1h2v1h6v-1h1v1h1v-1h1v1h2v-1h1v1h8v-1h1v1h4v-1h1v1h2v-1h1v1h1v1h5v-1h4v-1h2v1h11v1h3v-1h1v1h3v-2h3v1h2v-1h1v1h4v-1h1v1h6v-1h1v1h2v-1h1v1h10v-1h1v1h7v1h3v-1h12v-1h1v1h5v-1h1v1h3v-1h1v1h5v-1h1v1h6v-1h1v1h2v-1h1v1h3v-1h1v1h17v-2h1v1h1v1h4v-1h1v1h5v-1h2v1h2v-1h1v1h4v-1h1v1h9v-1h2v1h6v-1h1v1h4v1h1v-2h1v2h4v-1h6v-1h1v1h6v-1h2v1h3v-1h1v1h2v-1h2v1h1v-1h1v1h8v-1h1v1h3v-1h1v1h6v-1h1v1h8v1h3v-1h26v-1h2v1h2v-1h1v1h1v-2h1v2h1v-1h1v1h2v-1h1v1h2v-1h1v1h2v-1h1v1h1v-2h1v2h4v-1h1v1h1v-2h1v-6h2v4h1v-1h1v2h2v-1h2v1h1v1h1v-5h1v6h1v-2h1v-1h1v-2h1v3h1v-1h1v-2h1v-2h1v-6h1v-12h1v8h1v5h1v-9h1v2h1v9h1v5h1v-4h1v-9h1v3h1v8h1v-1h1v-3h1v-1h1v-9h1v16h1v-1h1v2h1v-2h1v-4h1v5h1v1h1v-4h1v1h1v5h1v1h1v-41h2v29h1v41h-1v14h-1v30h-1v-63h-2v3h-1v5h-1v-8h-1v1h-1v4h-1v-2h-1v-5h-1v2h-1v5h-1v10h-1v-8h-1v-6h-2v9h-1v-6h-1v6h-1v-5h-1v6h-2v-4h-1v-1h-1v6h-1v-4h-1v6h-1v6h-1v-20h-1v-1h-1v5h-1v2h-1v-4h-1v2h-1v-4h-1v-3h-1v9h-1v-9h-1v1h-1v3h-1v-2h-1v7h-1v-10h-1v4h-1v4h-1v3h-1v-6h-1v-4h-2v-2h-1v-1h-1v1h-1v1h-1v-1h-2v1h-1v-2h-2v1h-1v-1h-2v1h-2v4h-1v-4h-1v1h-1v-2h-1v2h-1v-2h-2v1h-1v-1h-6v1h-1v-1h-5v1h-2v-1h-1v1h-1v-1h-1v1h-1v-1h-11v1h-1v1h-1v-1h-1v-1h-9v1h-1v-1h-1v1h-1v-1h-1v1h-1v-1h-1v1h-1v-1h-15v1h-1v-1h-5v2h-1v-2h-6v1h-1v-1h-1v1h-1v-1h-1v1h-1v-1h-2v1h-1v-1h-1v2h-1v-1h-4v1h-1v-2h-2v1h-1v1h-1v-1h-2v-1h-7v1h-2v-1h-2v1h-1v-1h-3v2h-1v-2h-1v1h-1v-1h-4v1h-1v1h-1v-1h-1v-1h-1v1h-1v-1h-8v1h-3v-1h-3v1h-1v-1h-1v1h-1v-1h-2v1h-2v-1h-16v1h-2v-1h-1v1h-2v-1h-6v1h-1v-1h-2v1h-1v-1h-3v1h-1v-1h-1v1h-1v-1h-1v1h-2v-1h-1v1h-1v-1h-4v1h-1v-1h-3v1h-3v-1h-10v1h-1v-1h-1v1h-1v-1h-6v1h-1v-1h-2v1h-2v-1h-2v1h-1v-1h-1v1h-1v-1h-3v2h-1v-1h-1v-1h-2v1h-1v-2h-2v2h-1v1h-1v-1h-1v1h-1v-1h-3v-1h-1v1h-1v-1h-1v1h-2v-1h-1v1h-1v-1h-9v1h-3v1h-1v-1h-1v1h-1v-1h-1v-1h-2v1h-1v-1h-4v1h-1v-1h-4v2h-1v-2h-9v1h-1v-1h-15v1h-1v-1h-5v-1h-2v2h-1v-2h-1v2h-1v-1h-8v1h-1v-1h-2v2h-1v-2h-4v1h-1v-1h-1v1h-2v-1h-1v1h-1v-1h-1v1h-1v-1h-4v1h-1v-1h-1v1h-2v1h-1v-1h-4v-1h-1v1h-4v-1h-3v1h-2v-1h-10v1h-1v-1h-4v1h-1v-1h-4v1h-1v-1h-4v1h-1v-1h-1v1h-1v-1h-12v1h-1v-1h-3v1h-1v-1h-1v1h-1v-1h-3v1h-1v-1h-1v1h-1v-1h-2v1h-1v1h-1v-2h-2v1h-1v-1h-1v1h-1v-1h-3v1h-1v-1h-4v1h-1v-1h-7v2h-1v-1h-4v1h-1v-1h-1v1h-1v-2h-2v1h-1v-1h-1v1h-1v1h-1v-1h-3v1h-1v-2h-3v1h-1v-1h-7v1h-1v-1h-1v1h-1v-1h-2v1h-1v-1h-1v1h-1v-1h-6v1h-2v-1h-6v1h-2v-1h-1v1h-1v-1h-22v1h-1v-1h-13v1h-1v-1h-1v1h-3v-1h-4v1h-2v-1h-2v1h-1v-1h-5v1h-2v-1h-1v1h-1v-1h-2v1h-1v-1h-2v1h-1v-1h-1v1h-1v1h-1v-1h-1v-1h-1v1h-2v-1h-3v1h-2v1h-2v-2h-14v1h-2v-1h-1v1h-1v-1h-2v1h-1v-1h-8v1h-1v-1h-2v1h-2v1h-1v-1h-1v1h-1v-1h-1v1h-1v-2h-4v1h-1v-1h-35v1h-1v-1h-4v1h-2v-1h-2v1h-1v-1h-1v1h-1v-1h-3v2h-1v-2h-1v1h-1v-1h-1v1h-1v-1h-2v1h-4v-1h-2v1h-1v-1h-8v1h-1v-1h-1v2h-2v-2h-1v2h-1v-3h-2v1h-1v1h-1v-1h-9v1h-1v-1h-1v1h-1v-1h-1v1h-1v-1h-2v1h-1v1h-1v-2h-5v2h-1v-2h-5v1h-1v-1h-9v1h-1v-1h-6v1h-1v-1h-1v1h-1v-1h-4v1h-1v-1h-1v1h-1v-1h-4v1h-1v-1h-8v1h-1v1h-1v-2h-5v1h-1v-1h-3v1h-1v-1h-1v1h-1v-1h-19v1h-1v-1h-3v1h-1v-1h-3v-1h-1v1h-7v1h-1v-1h-1v1h-1v-1h-2v1h-1v-1h-7v2h-1v-2h-6v2h-1v-2h-2v1h-1v-1h-1v1h-2v-1h-2v1h-1v-1h-2v1h-1v-1h-7v1h-2v1h-1v-2h-1v1h-1v-1h-2v1h-1v-1h-1v-1h-4v1h-2v1h-1v-1h-2v-1h-3v1h-1v1h-2v-1h-9v1h-1v-1h-3v1h-1v-1h-2v1h-4v-1h-3v1h-1v-1h-6v1h-1v-1h-1v1h-1v-1h-3v1h-1v-1h-1v2h-1v-2h-3v1h-1v-1h-3v1h-1v-1h-1v1h-1v-1h-1v1h-1v-1h-11v1h-1v-1h-9v2h-1v-2h-2v1h-1v-1h-3v1h-1v-1h-2v1h-1v-1h-2v1h-1v-1h-5v1h-1v-1h-1v2h-1v-2h-5v1h-1v-1h-1v1h-1v-1h-1v1h-1v-1h-2v1h-1v-1h-1v1h-1v-1h-2v2h-1v-2h-8v1h-1v-1h-3v1h-1v-1h-4v1h-1v-1h-1v1h-1v-1h-4v1h-5v-1h-6v2h-1v-2h-3v1h-2v-1h-12v1h-2v-1h-6v-1h-1v1h-3v2h-1v-2h-3v1h-2v-1h-6v1h-1v-1h-10v1h-1v-1h-6v1h-1v-1h-1v1h-1v-1h-20v1h-2v1h-2v-1h-2v1h-1v-2h-1v1h-2v-1h-3v1h-1v-1h-6v1h-1v-1h-1v1h-3v-1h-9v1h-1v2h-1v-2h-2v2h-1v-3h-1v1h-1v3h-1v-2h-1v-2h-1v1h-3v-1h-1v2h-2v-1h-1v2h-1v-3h-1v2h-1v-2h-1v2h-1v-2h-8v2h-1v-2h-2v2h-1v-2h-3v1h-2v-1h-8v2h-1v-2h-23v1h-1v-1h-3v1h-1v-1h-1v2h-1v-2h-2v1h-1v1h-1v-2h-6v1h-2v-1h-1v1h-2v-1h-2v1h-1v1h-1v-2h-8v1h-1v-1h-5v1h-1v-1h-7v-1h-1v1h-2v1h-1v-1h-5v1h-1v-1h-1v1h-1v-1h-6v2h-1v-2h-11v1h-2v-1h-6v1h-1v-1h-3v1h-1v-1h-1v1h-1v-1h-2v1h-2v-1h-7v2h-3v-1h-6v-1h-1v2h-1v-2h-9v1h-2v-1h-1v1h-1v-1h-1v1h-2v-1h-2v1h-1v-1h-10v1h-1v-1h-1v1h-4z"/>
<path fill="#000000" d="M50 1219h1v1h2v1h1v-1h1v1h1v-1h1v2h1v-2h1v2h2v-1h1v-1h1v2h3v-3h1v-2h1v-2h1v-1h1v4h1v-2h1v1h1v-3h1v-11h1v16h1v-4h1v3h1v1h1v2h2v-1h1v-1h1v2h2v-1h1v1h5v-3h1v4h1v-1h1v1h6v-1h1v2h1v-1h2v1h1v-2h1v1h1v-1h1v1h1v-1h1v1h2v-1h1v1h8v-1h1v1h6v-2h1v1h1v1h5v-1h1v1h9v-2h1v2h1v-1h1v1h8v-1h1v1h3v-1h1v1h11v-1h1v1h9v-1h1v1h7v-1h1v1h3v-1h2v1h12v-2h1v1h1v-1h1v2h1v-1h1v1h16v-1h1v1h11v-2h1v2h8v-1h1v1h1v-1h1v1h3v-1h1v1h4v-1h1v1h2v-1h1v1h2v-1h1v1h12v-1h2v1h6v-1h1v1h14v-1h1v1h1v-2h1v2h3v-1h3v1h3v-1h1v1h5v-1h1v1h5v-1h1v1h10v-1h1v1h5v-1h3v1h1v-1h3v1h17v-1h1v1h2v-1h1v1h15v-1h1v1h2v-1h1v1h5v-1h1v1h16v-1h1v1h3v-2h2v2h1v-1h1v1h3v-1h1v1h5v-1h1v1h9v-1h1v1h2v-1h1v1h5v-1h1v1h10v-1h1v1h3v-1h1v1h1v-1h2v1h12v-1h1v1h5v1h1v-1h15v-2h1v2h26v-1h1v1h3v-1h1v1h4v-1h1v1h1v-2h1v1h4v-1h1v3h5v-1h6v-1h1v1h8v-1h1v1h4v-1h1v1h1v-1h1v1h7v-1h1v1h5v-1h1v1h11v-1h1v1h3v-1h1v1h3v-1h1v1h6v-1h2v1h10v1h4v-1h12v-1h1v1h3v1h1v-2h1v-1h1v2h8v-1h1v1h1v-1h1v-1h2v2h1v-1h1v1h2v-1h1v1h1v-1h1v1h3v-1h1v1h1v-1h1v1h2v-1h1v1h7v-1h1v-2h1v1h1v1h3v1h8v-1h1v1h4v-1h1v1h10v-1h2v-2h1v2h1v-1h1v1h2v2h2v-1h2v-1h1v1h9v-2h1v2h1v-1h1v1h5v-1h1v1h5v-1h1v1h1v-1h4v1h7v-1h1v1h4v-1h2v1h5v-1h1v1h7v-2h1v1h1v1h6v-1h1v1h4v-2h1v1h1v1h1v-1h1v1h2v-1h2v1h1v-2h1v2h1v-1h1v1h1v-1h1v1h6v-1h1v1h19v-1h2v1h8v-1h2v1h4v-1h1v1h1v-1h2v1h4v-1h1v1h1v-1h1v1h4v-1h1v1h19v-1h2v1h15v-1h1v1h6v-2h1v2h5v-1h1v1h1v-1h1v1h2v-1h3v1h8v-1h1v1h5v-1h1v1h5v-2h1v2h4v-1h1v1h1v-1h1v1h11v-1h4v1h3v-1h1v1h1v-1h2v-2h1v2h1v-2h1v2h1v1h4v-1h2v1h20v-1h1v1h7v-1h1v1h6v-1h1v1h3v-1h1v1h9v-1h1v1h5v-1h1v1h1v-1h1v1h4v-1h1v1h3v1h2v-1h9v-1h1v1h4v-1h1v1h7v-2h1v2h1v-1h1v1h3v-1h1v1h11v-1h2v-1h2v1h3v1h1v-2h1v1h1v-1h1v2h1v-3h1v3h1v-1h1v-1h1v1h1v1h5v-2h1v2h1v-1h2v1h3v-1h2v1h6v-1h1v1h5v-1h2v1h7v1h1v-1h8v-2h1v2h1v-1h2v1h11v-1h1v1h3v-1h1v1h11v-2h1v2h2v-1h1v1h1v-1h1v1h3v-1h1v1h24v-1h1v1h2v-1h1v1h1v-1h1v1h1v-1h1v1h4v-1h1v1h9v-1h1v1h2v-1h1v1h1v-1h1v1h1v-1h1v1h2v-1h2v1h2v-1h1v1h1v-2h1v-1h1v-3h2v-2h1v5h1v-6h2v-3h1v-1h1v-6h1v10h1v-3h1v4h1v-17h1v15h1v-11h1v-34h1v-22h1v40h1v-12h1v19h1v3h1v-43h1v36h1v-3h1v-12h2v-4h1v22h1v5h1v-46h1v29h1v10h1v-1h2v-79h1v34h1v44h1v-37h1v23h1v4h1v35h1v3h1v1h1v-2h1v-2h1v-32h1v10h1v6h1v10h1v-48h1v48h1v-9h1v-5h1v-1h1v-5h1v21h1v-31h1v32h1v-11h1v-11h1v32h2v-2h1v3h4v2h2v-4h1v4h2v1h3v-1h1v-2h2v3h2v-1h2v1h1v-1h1v1h1v-1h1v1h1v-2h1v2h3v-1h1v1h1v-8h1v8h2v-1h1v1h3v-1h1v1h2v-3h1v2h5v-1h1v1h1v1h2v-1h1v1h1v-3h1v3h4v-1h1v1h4v-2h1v2h1v-1h2v-2h1v3h1v-1h2v1h1v-2h1v2h1v-2h1v2h7v-1h1v1h9v-1h1v1h10v-1h2v1h3v-1h1v1h7v1h6v-1h1v-1h1v1h11v-1h2v1h4v-1h1v1h11v-1h1v1h1v-2h1v2h7v-1h2v1h5v2h-1v1h-1v-1h-1v1h-1v-1h-9v1h-1v-2h-1v1h-6v1h-1v-1h-7v1h-1v-1h-1v1h-1v-1h-8v1h-1v-1h-1v1h-1v-1h-5v1h-3v1h-2v-1h-1v-1h-2v2h-1v-2h-1v1h-1v-1h-3v2h-1v-1h-1v-1h-2v1h-1v-1h-3v1h-1v-1h-6v1h-1v-1h-3v1h-2v1h-1v-1h-1v-1h-1v1h-1v-1h-1v1h-1v-1h-9v2h-1v-2h-1v3h-2v-3h-1v1h-2v3h-1v-3h-2v-1h-1v2h-1v-2h-1v3h-1v-2h-1v-1h-1v1h-2v1h-1v-2h-1v2h-1v-1h-1v1h-1v-1h-1v3h-2v-2h-1v-1h-2v1h-1v-2h-2v1h-1v1h-1v-2h-2v3h-1v-2h-1v3h-1v-3h-1v4h-1v-5h-1v1h-2v2h-1v-3h-1v2h-2v-1h-1v1h-1v-2h-1v2h-1v-1h-1v-1h-1v1h-1v1h-1v-1h-1v-1h-1v3h-1v-3h-2v3h-1v-2h-1v1h-1v-2h-1v2h-1v-1h-2v3h-1v-1h-2v1h-2v2h-1v22h-1v-14h-2v37h-1v-24h-1v2h-1v19h-1v-19h-1v-12h-1v4h-1v9h-1v-11h-1v-6h-1v25h-1v-3h-1v-24h-1v-2h-1v6h-1v-6h-1v-1h-1v26h-1v5h-1v12h-1v-30h-1v39h-1v51h-1v-86h-1v-11h-1v24h-1v2h-1v-10h-1v-11h-1v12h-1v-9h-1v35h-1v-14h-1v-20h-1v-10h-1v17h-1v-15h-1v11h-1v25h-1v-21h-1v10h-1v-17h-1v-10h-2v-6h-1v2h-1v-3h-1v20h-1v24h-1v-23h-1v-8h-1v-15h-1v1h-1v-1h-1v2h-1v-2h-1v1h-1v-2h-1v-3h-8v1h-1v-1h-1v2h-1v-2h-8v1h-1v-1h-2v1h-1v-1h-3v2h-1v-2h-1v1h-1v-1h-1v2h-1v-2h-11v1h-1v-1h-1v1h-2v-1h-10v1h-1v-1h-6v1h-1v-1h-2v1h-2v-1h-2v1h-1v-1h-3v1h-2v-1h-3v1h-1v-1h-3v1h-2v-1h-6v1h-2v-1h-1v1h-2v-1h-6v1h-1v-1h-6v1h-1v-1h-2v1h-1v-1h-6v1h-1v-1h-7v1h-1v-1h-5v3h-2v-3h-1v4h-1v-3h-1v-1h-3v3h-1v-3h-1v1h-2v1h-1v-1h-1v1h-2v3h-1v-2h-1v-3h-1v2h-1v-1h-1v3h-1v-3h-4v1h-1v-2h-1v4h-1v-1h-1v-1h-1v1h-1v-3h-1v1h-1v-1h-15v1h-1v1h-1v-2h-1v1h-1v-1h-2v1h-2v-1h-7v1h-1v-1h-7v2h-1v-1h-1v-1h-4v1h-1v-1h-7v1h-1v-1h-6v1h-1v-1h-6v1h-1v-1h-9v1h-1v-1h-2v1h-1v-1h-8v1h-2v-1h-4v1h-1v-1h-3v1h-1v-1h-6v1h-1v-1h-4v1h-1v-1h-2v-1h-3v1h-1v1h-1v-1h-6v1h-1v-1h-11v1h-1v-1h-1v1h-1v-1h-4v1h-1v-1h-3v1h-1v-1h-3v1h-1v-1h-1v1h-2v-1h-3v1h-1v-1h-3v1h-2v-1h-1v1h-2v-1h-4v1h-1v-1h-2v2h-1v-2h-8v2h-1v-1h-2v-1h-3v1h-1v-1h-6v1h-1v-1h-9v1h-1v-1h-3v1h-1v-1h-5v1h-1v-1h-3v1h-1v-1h-4v2h-1v-2h-6v1h-1v-1h-11v1h-2v-1h-1v1h-1v-1h-1v1h-1v-1h-2v1h-2v-1h-2v1h-1v-1h-1v1h-3v-1h-5v2h-1v-2h-2v1h-2v-1h-2v1h-1v-1h-1v1h-1v-1h-5v1h-1v-1h-6v1h-1v-1h-4v1h-1v-1h-12v1h-1v-1h-2v1h-1v-1h-1v1h-1v-1h-10v1h-1v-1h-8v1h-1v-1h-2v1h-1v-2h-3v1h-17v1h-1v-1h-2v1h-1v-1h-7v1h-3v-2h-3v1h-1v-1h-3v1h-2v1h-2v-1h-5v2h-1v-1h-1v-1h-3v1h-1v1h-1v-2h-4v1h-1v-1h-3v-1h-3v1h-1v-1h-2v1h-4v1h-2v-1h-1v1h-1v-1h-5v1h-2v-1h-4v1h-1v-1h-4v1h-1v-1h-1v2h-1v-1h-1v-1h-2v1h-1v-1h-4v1h-1v-2h-2v2h-1v1h-1v-2h-13v1h-1v-1h-1v1h-4v-1h-2v1h-2v-1h-2v1h-1v-1h-3v2h-1v-2h-1v1h-1v-1h-1v1h-1v-1h-3v2h-1v-2h-4v1h-4v-1h-13v1h-2v-1h-3v1h-2v-1h-9v1h-1v-1h-3v1h-1v-1h-4v1h-2v-1h-4v1h-1v-1h-1v1h-1v-1h-1v1h-5v-1h-2v-1h-1v1h-1v-1h-2v1h-2v1h-1v-1h-14v2h-1v-2h-2v1h-1v-1h-1v1h-2v-1h-8v1h-2v-1h-10v2h-1v-2h-8v1h-3v-1h-7v1h-1v-1h-1v1h-1v-1h-5v1h-1v-1h-4v1h-1v-1h-14v2h-1v-2h-8v1h-2v-1h-10v2h-1v-2h-8v2h-1v-2h-7v2h-1v-1h-1v-1h-6v1h-1v-1h-3v1h-1v-1h-1v1h-1v-1h-6v1h-1v-1h-1v1h-1v-1h-3v1h-1v-1h-1v1h-1v-1h-3v1h-1v1h-1v-2h-10v1h-1v-1h-1v1h-1v-1h-19v1h-3v-1h-4v1h-1v-1h-10v1h-1v-1h-2v1h-1v-1h-12v1h-1v-1h-2v1h-1v-1h-2v1h-1v-1h-5v2h-1v-2h-1v1h-1v1h-1v-2h-3v1h-1v-1h-11v1h-1v-1h-2v2h-1v-1h-1v-1h-25v1h-1v-1h-4v1h-1v-1h-3v1h-1v-1h-3v1h-1v-1h-1v1h-1v-1h-6v1h-1v-1h-11v1h-1v-1h-6v1h-1v-1h-1v1h-3v-1h-2v1h-3v-1h-7v1h-1v-1h-3v1h-1v-1h-4v1h-1v-1h-4v1h-2v-1h-1v1h-1v-1h-1v1h-3v-1h-1v1h-1v-1h-6v1h-1v-1h-26v1h-4v-1h-2v2h-1v-2h-9v1h-2v-1h-6v3h-1v-2h-1v-1h-1v1h-1v1h-1v-1h-3v1h-2v1h-1v-3h-1v1h-1v1h-1v-1h-2v-1h-1v1h-2v1h-2v5h-1v-5h-1v-1h-1v1h-4v5h-1v-5h-3v1h-1v5h-1v-5h-1v7h-1v-4h-1v-4h-1v2h-1v2h-1v-2h-2v-1h-1v1h-2v-1h-1v-2h-1v-1h-1v3h-1v1h-1v-4h-1v2h-1v1h-1v-2h-3v2h-1v-2h-1v2h-1v-3h-1z"/>
<path fill="#ff0000" d="M50 1252h1v-1h2v1h1v-2h1v2h2v-1h1v1h1v-2h1v1h1v1h2v-1h2v-1h2v1h2v-1h1v2h2v-1h1v1h1v-1h3v1h1v-2h2v2h5v-1h1v1h2v-2h1v2h1v-2h1v2h3v-1h1v1h4v-1h1v-1h2v2h3v-1h1v1h5v-1h1v1h2v-1h1v1h2v-2h1v2h6v-2h3v2h1v-2h2v3h1v-1h3v-1h1v1h2v-2h3v2h2v-1h2v1h7v-1h1v1h27v-1h1v1h3v-1h1v1h11v-1h1v1h6v-1h2v1h3v-1h1v1h2v-1h1v1h4v-1h2v1h1v-2h1v2h8v-1h1v1h1v-1h1v1h2v-1h1v1h4v-1h1v1h2v-1h1v1h2v-1h1v1h2v-1h1v1h10v-1h1v1h3v-1h1v1h4v-1h1v1h2v-2h1v2h13v-2h1v2h9v-1h1v-1h1v2h10v-1h1v1h1v-1h1v1h11v-1h1v1h3v-1h1v1h1v-1h1v1h2v-1h1v1h3v-1h2v1h22v-1h1v1h4v-1h1v1h5v-1h1v1h2v-1h1v1h11v-1h1v1h6v-1h1v1h10v-1h1v1h7v-2h1v2h3v-1h1v1h8v-1h1v1h6v-2h1v2h1v-1h1v1h3v-1h1v1h5v-1h1v1h8v-1h2v1h2v-1h1v1h5v-1h1v1h5v-1h1v1h1v-1h1v1h1v-1h1v1h13v1h9v-1h5v-1h1v1h18v-1h2v1h7v-1h1v-1h1v2h3v-1h1v1h2v-1h1v1h3v-1h1v1h24v-1h1v1h11v-1h1v1h6v-2h1v2h2v-2h1v2h3v-1h1v1h2v-1h1v1h3v-2h1v2h11v-1h1v1h11v-3h1v2h4v-1h1v2h2v-1h1v1h4v-1h1v1h22v-1h1v1h5v-1h1v1h19v1h1v-1h15v-1h1v1h7v-1h1v1h1v-1h1v1h10v-1h1v1h9v-2h2v2h13v-1h1v1h4v-1h1v1h1v-2h1v2h1v-1h1v1h1v-1h1v1h2v-2h1v2h2v-1h1v1h1v-2h1v2h1v-1h1v1h1v-2h1v2h3v-2h1v1h2v1h1v-1h3v1h2v-2h1v2h1v-1h2v1h1v-2h2v2h1v-1h1v1h1v-1h1v1h2v-1h2v-1h1v1h1v-2h1v3h1v-1h1v-2h1v3h1v-2h1v1h1v-1h1v2h2v-3h1v1h1v1h1v1h1v-1h1v-1h1v2h1v-2h1v1h1v-2h1v3h1v-2h1v1h1v-1h1v1h2v-1h1v2h5v-1h1v-1h1v1h1v1h1v-1h1v1h6v-3h1v3h1v-1h1v-2h1v1h3v2h1v-2h1v2h1v-1h1v-2h1v2h2v-1h1v1h2v-2h2v3h4v-2h1v1h2v1h6v1h1v-1h1v1h3v-1h1v1h1v-1h1v-1h1v1h2v-1h1v1h3v-1h1v1h2v-1h1v1h2v-1h1v1h8v-1h1v1h7v-1h1v1h6v-1h1v1h4v-1h4v1h4v-1h1v1h4v-1h1v1h1v-2h1v1h4v1h3v-2h1v2h1v-2h1v2h6v-1h1v1h17v-1h1v1h6v-2h1v2h4v-1h1v1h1v-1h1v1h1v-2h1v2h1v-2h2v2h3v-3h1v2h1v1h3v-1h1v1h1v-3h1v3h2v-1h2v1h1v-2h1v2h1v-1h1v1h9v-1h1v1h4v1h1v-1h2v-1h1v1h9v-1h1v1h6v-2h1v2h1v1h6v-1h6v-1h1v1h1v-2h1v2h1v-3h1v3h1v1h1v-2h5v1h1v-3h1v1h1v2h1v-2h1v2h2v-2h1v1h3v1h1v-1h1v1h1v-1h1v-1h1v2h1v-1h1v1h2v-1h1v-1h1v2h1v-3h1v2h1v1h1v-3h1v3h1v-2h1v2h1v-1h2v1h3v-2h2v2h17v-1h1v1h9v-1h2v1h5v-1h1v1h2v-1h2v1h3v-2h1v1h1v1h11v-1h1v1h6v-1h1v1h7v-2h3v2h7v-1h1v1h1v-1h3v1h4v-1h1v1h1v-2h1v2h7v-1h1v1h21v-2h1v2h4v-1h1v1h1v-1h1v1h4v-1h1v1h1v1h4v-2h1v-1h1v1h1v-1h1v1h1v1h2v-1h1v1h1v-1h1v1h9v-1h1v1h1v-1h1v1h11v-1h2v1h2v-1h1v1h3v-1h1v1h9v-1h1v1h1v-1h1v1h4v-1h1v1h1v-1h2v2h4v-1h1v1h1v-1h4v-1h2v1h6v1h1v-1h9v-1h1v1h15v-1h2v1h3v1h1v-1h10v-1h1v1h3v-1h2v1h2v-1h1v1h5v-1h1v1h10v-1h3v1h4v-1h1v1h3v-1h2v1h4v-1h1v1h4v-1h1v1h1v-1h1v1h1v-1h2v1h1v-1h1v1h14v-1h1v1h4v-2h1v1h2v1h7v-1h1v1h26v-1h1v1h4v-2h1v1h1v1h5v2h-4v1h-3v-1h-13v1h-2v-1h-17v2h-1v-2h-6v-1h-2v1h-5v1h-1v-1h-11v1h-2v-1h-7v1h-1v-1h-2v1h-1v-1h-4v1h-1v-1h-6v1h-1v-1h-11v1h-1v-1h-9v1h-1v-1h-4v1h-1v-1h-3v1h-1v-1h-2v1h-2v-1h-1v2h-1v-2h-2v1h-2v1h-1v-1h-1v1h-1v-2h-1v1h-2v-1h-3v2h-1v-2h-11v1h-2v-1h-10v1h-1v1h-1v-2h-8v1h-1v-1h-2v1h-2v1h-2v-1h-2v-2h-2v1h-2v1h-1v-1h-15v1h-1v-1h-4v1h-2v-1h-4v1h-1v-1h-1v1h-1v1h-1v-2h-11v1h-1v-1h-6v1h-1v-1h-3v-1h-2v1h-1v-1h-1v1h-1v1h-4v-1h-3v2h-1v-1h-1v-1h-5v1h-1v-1h-1v2h-1v-2h-14v1h-1v-1h-3v1h-1v-1h-1v1h-2v-1h-1v1h-1v-1h-1v1h-1v-1h-2v1h-1v-1h-7v1h-1v-1h-1v1h-1v-1h-2v1h-2v-1h-1v1h-2v1h-1v-2h-2v-1h-3v1h-5v1h-1v-1h-3v1h-1v-1h-1v1h-1v-1h-4v1h-2v-1h-12v1h-1v-1h-1v1h-1v-1h-4v1h-1v-1h-2v1h-3v-1h-5v1h-2v-1h-1v1h-1v-1h-1v1h-1v-1h-6v1h-1v-1h-3v1h-1v1h-1v-2h-6v2h-3v1h-1v-3h-1v1h-1v-1h-1v1h-1v-1h-1v2h-1v-1h-1v-1h-2v3h-1v-2h-1v1h-2v-1h-3v1h-1v-1h-3v3h-1v-1h-1v-2h-3v-1h-1v2h-1v1h-1v-1h-2v-2h-1v1h-1v1h-1v-2h-1v4h-1v-3h-2v1h-3v-2h-3v1h-1v-1h-2v1h-1v-1h-2v1h-4v1h-1v-1h-1v-1h-13v1h-2v-1h-5v1h-1v2h-1v-3h-5v1h-1v-1h-2v1h-1v-1h-1v2h-1v-2h-2v1h-1v-1h-1v1h-2v1h-2v-2h-1v4h-1v-4h-2v1h-1v3h-1v-3h-1v-1h-1v1h-1v-1h-1v3h-1v-1h-1v-2h-1v3h-1v-2h-1v-1h-6v2h-1v-2h-7v1h-1v-1h-1v1h-1v-1h-3v1h-2v-1h-2v1h-1v-1h-2v1h-1v-1h-2v1h-2v-1h-4v1h-1v-1h-1v1h-1v-1h-8v1h-1v-1h-1v-1h-4v1h-5v1h-2v-1h-17v1h-1v-1h-2v2h-1v-1h-1v1h-2v-2h-5v1h-1v-1h-15v1h-1v-1h-1v1h-3v-1h-2v2h-2v-1h-1v2h-1v-2h-3v-1h-1v1h-1v-1h-2v1h-1v-1h-2v1h-1v-1h-1v2h-2v-1h-1v-1h-1v3h-1v-2h-1v-1h-1v1h-1v-1h-1v2h-1v1h-1v-2h-1v-1h-2v1h-2v1h-1v-1h-1v2h-1v-1h-2v-1h-1v-1h-1v1h-1v-1h-1v3h-1v-3h-1v2h-1v-1h-4v1h-1v-2h-1v5h-1v-5h-2v1h-1v1h-2v1h-2v-3h-1v2h-1v-1h-1v3h-1v-3h-1v1h-1v-1h-1v1h-1v-2h-5v2h-1v1h-1v-1h-1v2h-1v-3h-1v1h-1v2h-2v-4h-2v1h-1v-1h-3v2h-1v-1h-1v2h-1v-2h-4v1h-1v-1h-1v1h-1v-2h-1v3h-1v-3h-1v3h-1v-2h-1v2h-1v-2h-1v-1h-2v4h-1v-3h-2v-1h-1v2h-1v-2h-2v2h-1v1h-1v-3h-1v3h-1v-3h-1v2h-1v2h-1v-4h-1v1h-1v-1h-2v1h-2v1h-1v-1h-1v1h-1v-1h-1v1h-1v-2h-2v2h-1v-2h-5v1h-1v-1h-9v1h-1v-1h-5v1h-1v-1h-5v1h-3v-1h-7v2h-1v-2h-3v1h-1v-1h-1v1h-1v-1h-3v1h-1v-1h-3v2h-1v-2h-1v1h-3v-1h-5v1h-1v-1h-2v2h-1v-1h-1v-1h-2v1h-1v-1h-6v1h-1v-1h-1v1h-1v-1h-3v1h-1v-1h-5v2h-2v-2h-8v1h-1v-1h-2v1h-1v-1h-14v1h-1v-1h-1v1h-2v-1h-2v-1h-3v1h-2v-1h-1v2h-2v-1h-4v1h-1v-1h-10v1h-3v-1h-23v1h-1v-1h-2v1h-1v-1h-5v1h-1v-1h-4v1h-1v-1h-3v1h-1v-1h-2v1h-1v-1h-5v1h-1v-1h-11v1h-2v-1h-5v1h-3v-1h-4v2h-1v-2h-3v1h-1v-1h-4v1h-1v-1h-2v1h-1v-1h-2v1h-1v-1h-2v1h-1v-1h-2v1h-1v-1h-4v1h-1v-1h-2v1h-6v1h-1v-1h-1v1h-1v1h-1v-2h-1v-1h-14v1h-1v-1h-3v1h-1v-1h-1v1h-3v-1h-5v1h-2v-1h-1v1h-1v-1h-1v1h-1v-1h-2v1h-1v-1h-1v1h-1v-1h-3v1h-1v-1h-2v1h-1v-1h-5v2h-1v-1h-2v-1h-3v1h-1v-1h-6v1h-1v1h-1v-2h-15v1h-2v-1h-1v1h-2v-1h-1v1h-1v-1h-4v1h-1v-1h-9v1h-1v-1h-1v1h-1v-1h-2v2h-1v-2h-10v1h-1v-1h-3v1h-1v-1h-8v1h-1v1h-1v-2h-10v1h-1v-1h-1v1h-1v-1h-21v1h-1v-1h-3v1h-1v-1h-7v1h-1v-1h-7v2h-1v-1h-1v-1h-8v1h-1v-1h-11v1h-2v-1h-3v1h-2v-1h-2v1h-1v-1h-3v1h-1v-1h-6v1h-1v-1h-4v1h-2v-1h-13v1h-1v-1h-5v1h-1v-1h-5v1h-1v-1h-2v1h-1v-1h-1v1h-1v-1h-7v1h-1v-1h-6v1h-1v-1h-4v1h-1v-1h-3v1h-2v-1h-3v1h-1v-1h-8v1h-1v-1h-2v1h-2v-1h-6v1h-1v-1h-2v1h-1v-1h-1v1h-1v-1h-6v1h-3v-1h-2v1h-1v-1h-1v1h-2v2h-2v-2h-1v-1h-1v1h-1v1h-1v-1h-1v2h-1v-3h-6v1h-1v-1h-1v1h-1v2h-1v-2h-1v-1h-1v3h-1v-2h-2v2h-1v-2h-2v-1h-1v2h-2v1h-1v-3h-1v1h-1v1h-2v-2h-7v1h-1v1h-1v-2h-1v3h-1v-3h-2v3h-1v-3h-2v2h-2v-1h-1v2h-1v-3h-2v3h-1v-3h-1v1h-2v-1h-1v2h-1v-1h-1v-1h-1v1h-2v1h-2v-1h-1v-1h-1v3h-1v-3h-1v1h-3v-1h-1v3h-1v-1h-1v-2h-1v1h-1v-1h-1v1h-1v1h-1v-2h-2v1h-1v-1h-2v3h-1v-1h-1v-2h-1v2h-3v-2h-1v3h-1v-2h-1z"/>
<path fill="#0000ff" d="M50 1282h12v-1h1v1h14v-1h1v1h1v-1h1v1h18v-1h1v1h6v-1h2v1h2v-1h1v-1h1v2h7v-1h2v1h7v-1h1v1h2v-1h1v1h7v1h1v-1h14v-1h1v1h6v-1h1v1h9v-1h1v1h5v-1h1v1h1v-1h1v1h1v-2h1v2h1v-1h1v2h5v-3h1v1h5v1h4v-1h1v1h1v-1h1v1h33v-1h1v1h3v1h2v-1h4v-1h1v1h3v-1h1v1h1v-1h1v1h10v-1h1v1h17v-1h1v1h7v-1h2v1h5v-1h1v1h4v-1h1v1h7v1h4v-1h4v-1h1v1h12v-1h1v1h15v-1h1v1h1v-1h2v1h3v-1h1v1h11v-2h1v2h4v-1h1v1h3v-1h1v1h6v-2h1v2h8v-2h1v1h1v1h1v-1h1v1h11v-1h1v1h2v-1h1v1h2v-1h1v1h1v-1h3v1h7v-1h1v1h2v-1h1v1h8v-1h1v1h2v-1h1v1h6v-1h1v1h4v-1h1v1h7v-1h1v1h1v-1h1v-1h1v2h6v-1h1v1h2v-1h1v1h7v-1h3v1h5v-1h1v1h3v-1h1v1h2v-1h1v1h2v-1h1v1h3v-1h1v1h4v-1h1v1h1v-1h1v-1h1v1h3v1h2v-1h1v1h4v1h1v-2h1v1h10v-1h1v1h6v-1h1v1h8v-1h1v1h2v-1h1v1h9v-2h1v2h7v-1h3v1h9v-1h1v1h2v-1h1v1h1v-2h1v2h1v-2h1v2h22v-1h1v1h22v-1h1v1h2v-2h1v2h10v-1h1v1h4v-1h1v1h2v-1h1v1h2v-1h1v1h3v-1h1v1h7v-1h1v1h2v-1h1v1h16v-1h1v1h5v-1h1v1h2v-1h1v1h1v-1h1v1h2v-1h1v1h3v-1h1v1h3v-2h1v2h2v-2h1v2h4v-1h1v1h4v-1h1v1h16v-1h1v1h16v-2h1v2h4v-1h1v1h1v-1h3v1h1v-1h1v1h5v-1h1v1h13v-1h1v1h6v-1h6v1h5v-1h1v1h8v-1h1v-1h1v2h6v-1h1v1h14v-1h1v1h1v-1h1v1h5v-1h1v1h4v-1h1v1h1v-1h1v1h6v-1h2v1h3v-1h1v1h16v-1h1v1h9v-1h1v1h3v-1h1v1h1v-1h1v1h2v-1h1v1h8v-1h1v1h2v-1h1v1h12v-1h1v1h10v-2h1v2h2v-1h1v1h1v-1h1v-1h1v2h1v-1h1v1h3v-1h1v1h2v-2h1v2h9v-1h1v1h3v-1h1v1h3v-1h3v1h13v-1h1v1h7v-2h1v2h4v-1h1v1h6v-1h1v1h1v-1h1v-1h1v1h1v1h2v-1h1v1h7v-1h1v1h9v-2h1v2h7v-1h2v1h2v-1h1v1h3v-1h1v1h4v1h2v-1h1v1h4v-1h2v-1h2v1h5v-1h1v1h3v-1h1v1h6v-1h1v1h15v1h1v-1h1v1h5v-1h5v-1h1v1h7v-1h1v1h10v-1h1v1h1v-1h1v1h3v-1h1v1h3v-1h1v1h1v-1h1v1h1v-2h1v2h4v-1h1v1h3v-1h1v1h2v-1h1v1h20v-1h1v1h4v-1h1v1h9v-1h1v1h5v-1h1v1h1v-1h1v1h3v-1h1v1h19v-1h1v1h1v-2h1v1h1v1h1v-1h1v1h12v-1h1v1h14v-1h1v2h3v-1h1v-1h2v1h1v-1h1v1h9v-1h1v1h5v-1h1v1h2v-1h1v1h4v-1h1v1h5v-1h1v1h3v-2h1v2h7v-2h1v2h15v-1h1v1h2v-1h1v1h6v-1h1v1h4v-1h1v1h4v-1h1v1h3v-1h1v1h5v-1h1v1h3v-1h1v1h5v-1h1v1h10v-1h1v1h2v-1h1v1h5v-1h3v1h7v-5h1v-5h1v3h1v2h1v-2h1v6h2v-2h1v3h5v-3h1v2h1v1h1v-1h1v1h1v-3h1v3h1v-1h1v1h2v-1h1v1h1v-1h1v-57h1v41h1v-7h1v12h1v-5h1v-65h1v14h2v52h1v-45h1v33h1v-18h1v-6h1v6h1v17h1v8h1v17h1v2h1v-1h1v1h1v1h1v-36h1v1h1v-12h1v-15h1v-48h1v70h1v10h1v-7h1v-13h1v-3h1v26h1v10h1v5h1v9h1v-6h1v9h1v-1h1v-5h1v6h2v-1h1v1h1v-2h1v2h1v-5h1v3h2v-1h1v4h2v-1h1v1h1v-1h1v1h3v-2h1v1h2v1h2v-2h1v2h1v-2h1v1h2v1h1v-1h1v1h1v-2h1v2h2v-1h1v1h1v2h-1v1h-2v1h-1v-2h-2v4h-1v-4h-1v1h-2v2h-1v-2h-1v1h-1v1h-1v-3h-1v1h-1v-1h-1v1h-2v-1h-1v1h-1v1h-1v-1h-1v-1h-2v3h-2v-1h-1v2h-1v-2h-1v1h-1v1h-1v-2h-1v-1h-1v1h-1v1h-1v1h-1v-1h-1v1h-1v1h-1v1h-1v5h-1v3h-1v3h-1v30h-1v-3h-1v-9h-1v-21h-1v4h-1v22h-1v-11h-1v-11h-3v-15h-2v1h-1v1h-1v-1h-1v6h-1v4h-1v7h-1v-4h-1v-3h-1v-4h-1v4h-1v3h-1v23h-1v110h-1v-120h-1v-20h-1v24h-1v-6h-1v-19h-1v4h-1v-12h-1v1h-1v3h-1v-5h-1v1h-2v4h-1v-2h-1v-2h-2v-1h-1v1h-2v-1h-1v1h-1v5h-1v-6h-1v5h-1v-1h-2v-4h-1v5h-1v-1h-1v-1h-1v2h-1v1h-1v-5h-1v-1h-3v2h-1v-2h-3v1h-1v-1h-3v1h-2v-1h-4v1h-1v-1h-6v1h-2v-1h-9v1h-2v-1h-13v1h-1v-1h-1v1h-1v-1h-7v2h-1v-2h-4v1h-1v-1h-12v1h-1v-1h-6v1h-2v-1h-3v1h-1v-1h-6v2h-1v-2h-4v1h-1v-1h-5v1h-2v1h-1v-2h-1v1h-1v-1h-4v1h-1v-1h-4v1h-1v-1h-4v1h-1v-1h-3v1h-1v1h-2v-2h-5v1h-2v-1h-3v1h-1v-1h-9v1h-1v-1h-6v1h-1v1h-1v-2h-3v1h-1v-1h-4v1h-1v-1h-1v1h-1v-1h-1v1h-1v-1h-2v1h-1v1h-1v-2h-2v1h-1v-1h-6v1h-1v-1h-5v1h-1v-1h-1v1h-1v-1h-18v1h-1v-1h-1v1h-1v-1h-6v1h-2v-1h-4v1h-1v-1h-9v1h-1v-1h-1v1h-1v-1h-1v1h-1v-1h-7v2h-1v-2h-9v1h-1v-1h-1v1h-1v-1h-2v1h-1v-1h-4v1h-1v-1h-11v1h-4v1h-1v-1h-3v-1h-7v1h-1v-1h-10v1h-1v-1h-1v1h-1v-1h-8v1h-1v-1h-6v2h-1v-1h-1v1h-1v-1h-4v-1h-4v1h-1v-1h-5v1h-1v-1h-21v1h-1v-1h-8v1h-1v-1h-7v1h-1v-1h-8v1h-1v-1h-5v1h-2v-1h-3v1h-2v1h-2v-1h-2v-1h-1v1h-1v-1h-2v1h-3v-1h-1v1h-1v-1h-5v1h-1v-1h-1v1h-1v-1h-7v1h-1v-1h-1v1h-1v-1h-1v1h-1v-1h-3v1h-1v-1h-1v1h-1v-1h-1v2h-1v-2h-2v1h-3v-1h-7v1h-3v-1h-2v1h-1v-1h-6v1h-2v-1h-6v2h-1v-1h-1v-1h-3v1h-2v-1h-2v1h-1v-1h-6v1h-1v-1h-4v1h-2v-1h-1v1h-1v-1h-9v1h-2v-1h-15v1h-1v-1h-3v1h-1v-1h-13v1h-1v-1h-1v1h-1v-1h-3v1h-1v-1h-1v2h-1v-2h-2v1h-1v-1h-4v1h-2v-1h-2v1h-2v-1h-5v1h-1v-1h-4v1h-1v-1h-1v1h-1v-1h-3v-1h-5v1h-4v1h-1v-1h-1v1h-1v-1h-1v1h-1v-1h-3v1h-1v-1h-3v2h-1v-2h-12v-1h-3v1h-7v1h-1v-1h-2v1h-1v-1h-1v1h-1v-1h-1v1h-1v-1h-1v1h-1v-1h-2v1h-1v-1h-1v1h-3v-1h-6v1h-1v-1h-3v1h-1v-1h-2v1h-1v-1h-2v1h-1v-1h-5v1h-1v-1h-1v1h-1v-1h-1v1h-2v-1h-3v1h-1v-1h-4v1h-1v-1h-4v1h-1v-1h-5v1h-1v-1h-8v1h-1v-1h-3v1h-1v-1h-1v1h-1v-1h-5v1h-1v-1h-3v1h-1v-1h-11v1h-1v-1h-7v1h-1v-1h-5v1h-1v-1h-12v1h-1v-1h-9v2h-1v-1h-2v-1h-4v1h-2v-1h-1v1h-2v-1h-4v1h-1v-1h-3v2h-1v-2h-1v1h-2v-1h-4v1h-1v-1h-1v1h-2v-1h-8v1h-1v-1h-1v1h-1v-1h-5v1h-1v-1h-15v1h-1v-1h-20v1h-2v-1h-6v1h-1v-1h-1v1h-1v-1h-4v1h-1v1h-2v-1h-1v-1h-2v1h-1v-1h-2v1h-1v-2h-1v1h-3v1h-1v-1h-5v1h-1v-1h-7v1h-1v1h-1v-2h-3v1h-1v-1h-6v1h-1v-1h-2v1h-2v-1h-5v2h-1v-2h-18v1h-1v-1h-3v1h-1v-1h-2v1h-1v-1h-2v1h-2v-1h-4v1h-1v-1h-3v1h-1v-1h-8v1h-1v-1h-1v1h-1v-1h-3v2h-1v-2h-4v1h-1v-1h-8v1h-1v-1h-10v2h-1v-2h-1v1h-1v-1h-3v2h-1v-2h-7v1h-1v-1h-19v1h-2v-1h-2v1h-2v-1h-7v1h-1v-1h-27v1h-2v-1h-1v1h-1v-1h-1v1h-1v1h-2v-1h-2v-1h-4v1h-1v-1h-10v1h-1v-1h-11v1h-1v-1h-1v2h-1v-2h-4v1h-1v-1h-3v1h-1v-1h-2v1h-2v-1h-8v1h-1v-1h-7v1h-1v-1h-5v1h-4v1h-1v-2h-7v1h-1v-1h-3v1h-1v-1h-18v1h-1v-1h-3v1h-1v-1h-2v1h-2v-1h-3v-1h-6v2h-1v1h-1v-1h-4v-1h-1v1h-2v1h-1v-2h-1v1h-1v-1h-1v1h-1v-1h-3v1h-1v-1h-7v1h-1v-1h-4v1h-1v-1h-2v1h-1v-1h-1v1h-1v-1h-13v1h-2v-1h-3v1h-2v-1h-1v1h-1v-1h-6v1h-1v-1h-3v1h-1v-1h-1v1h-1v1h-1v-2h-4v1h-1v-1h-4v1h-1v-1h-5v1h-1v-1h-17v1h-1v-1h-2v1h-1v-1h-8v1h-2v-1h-1v1h-1v-1h-2v1h-3v-1h-1v1h-1v-1h-4v1h-1v-1h-4v1h-1z"/>
<path fill="#006400" d="M50 1311h1v1h1v-1h1v-1h1v2h1v-1h1v1h1v-1h1v1h2v-1h1v1h3v-1h1v1h1v-2h1v2h1v-1h1v1h6v-1h2v1h1v-1h1v1h3v-1h1v1h4v-1h1v1h1v-1h1v1h7v-1h1v1h1v-1h1v1h4v-1h2v1h8v-1h1v1h1v-1h1v1h3v-2h1v2h1v-1h2v1h5v-1h1v1h12v-1h1v1h11v-1h1v1h1v-1h1v1h6v-1h1v1h1v-2h1v2h6v-1h3v1h1v-1h1v1h3v-1h1v1h4v-1h5v-1h1v1h1v1h1v-2h1v2h2v-3h1v2h1v1h2v-2h1v1h1v1h2v-3h1v3h23v-1h2v1h4v-1h1v1h11v1h3v-2h1v-1h1v2h3v-1h1v1h8v-1h1v1h2v-1h1v1h5v-2h1v2h8v-1h1v1h18v-1h1v1h12v-1h1v1h5v-1h1v1h13v-1h1v1h6v-1h1v1h5v-1h2v1h3v-1h1v1h3v-1h2v1h5v-1h1v1h9v-1h1v1h17v-1h1v2h4v-1h1v1h2v-1h14v-1h2v1h7v-1h1v1h12v-6h2v4h1v-4h1v2h2v3h1v-2h3v-1h2v-5h2v6h1v2h2v1h2v-1h2v1h2v-1h1v1h1v-1h1v1h3v-3h1v3h1v-1h1v1h2v-1h1v1h3v-3h1v3h3v-2h1v2h1v-1h1v1h1v-1h1v-1h1v1h1v1h1v-1h1v-3h1v3h1v-5h1v4h1v-3h1v2h1v2h2v1h1v-2h1v1h1v-1h1v1h1v-2h1v-4h1v3h3v1h1v2h3v-1h2v-3h1v5h2v-1h1v-3h1v1h1v-2h1v5h5v-1h1v-3h1v-2h1v-6h1v3h1v-6h2v2h2v-2h1v10h1v2h1v-49h1v-23h1v3h1v-77h2v62h1v-62h2v112h1v-8h1v-26h1v45h1v-6h1v5h1v8h1v-20h1v-5h1v4h1v-37h1v50h1v-10h1v23h1v-6h1v-4h1v10h1v-2h1v11h1v-5h1v-8h1v1h2v-2h1v-3h1v-7h1v19h1v5h1v-1h2v2h1v-4h1v-3h1v6h1v-4h1v3h1v-3h1v5h1v-4h1v-4h1v6h2v-14h1v1h1v5h1v1h2v3h1v1h2v2h1v2h1v3h1v1h2v-1h3v-1h2v1h2v2h1v-1h2v1h1v-1h1v1h2v-1h1v-1h1v2h1v-1h1v1h2v-3h1v1h1v2h1v-3h1v3h1v-1h1v1h1v-3h2v2h1v1h4v-3h1v2h1v1h1v-1h1v-1h1v2h1v-3h1v3h1v-1h1v1h3v-1h3v1h2v-3h1v-1h2v-1h1v1h1v2h1v1h1v-5h1v6h5v1h1v-1h1v-1h1v2h1v-3h2v2h1v-2h1v1h1v1h3v-2h1v1h2v-2h1v2h1v1h8v-1h1v1h6v-2h1v2h4v-1h1v1h1v-1h1v-2h1v2h3v1h1v-2h1v2h2v-1h7v1h1v-3h2v3h3v-1h1v-1h6v2h1v-1h2v1h3v-2h1v2h6v-2h1v1h1v1h1v-1h1v1h1v-1h1v1h2v-1h1v1h1v-2h1v2h5v-2h3v2h1v-2h1v1h1v1h3v-1h1v1h1v-1h2v1h1v-1h1v1h1v-1h2v1h7v-2h2v2h6v-1h1v1h2v-1h2v1h2v-1h1v-1h2v2h3v-1h1v-1h1v1h1v-1h1v2h1v-1h1v-1h1v2h1v-1h2v-1h1v2h16v-1h1v1h2v-1h1v1h1v-1h1v1h4v-2h1v2h4v-1h3v1h3v-1h1v1h1v-1h1v1h12v-1h1v1h3v-1h1v1h3v-1h1v1h2v-1h1v1h7v-1h1v1h5v-1h2v1h8v-1h2v1h1v-1h1v1h7v-2h1v2h6v-1h1v1h2v-1h1v1h3v-1h1v1h1v1h1v-1h3v-1h1v1h5v-1h1v1h7v-1h1v1h3v-1h1v1h13v-1h1v1h5v-1h1v1h4v-1h1v1h10v-1h1v1h3v-1h2v1h8v-1h1v1h6v-1h1v1h2v-1h2v1h3v-1h2v-1h1v1h1v1h27v-1h1v1h2v-1h2v1h1v-1h1v1h2v-1h1v1h1v-1h1v1h3v-1h1v1h3v-1h1v1h7v1h3v-1h2v1h2v-1h2v-1h3v1h4v1h1v-1h1v1h2v-1h6v-2h1v1h1v1h1v-1h1v1h9v-1h1v1h10v-1h2v1h5v-1h1v2h3v-1h4v-1h1v1h4v-2h1v2h1v-2h1v2h1v-1h1v1h4v-1h1v1h6v-1h2v1h9v-1h1v1h2v-1h2v-1h2v1h1v1h16v-1h1v1h5v-1h1v1h4v-1h1v1h1v-1h1v1h1v-1h2v1h2v-1h1v1h8v-1h1v1h13v-1h1v1h1v-1h1v1h5v-1h2v1h1v-1h1v1h2v-2h2v1h1v1h1v-2h2v1h1v-1h1v1h1v1h1v-1h3v-1h1v-1h2v3h2v-1h1v1h7v-2h1v2h2v-3h1v3h1v-1h1v1h1v-1h1v1h1v-2h1v1h1v-1h1v1h2v1h2v-1h1v-1h2v2h4v-1h2v1h1v-3h2v3h1v-1h1v1h2v-2h1v2h3v-3h1v3h4v-1h2v-1h1v1h1v1h6v-1h1v1h3v-1h1v1h1v-1h1v-1h1v1h1v-1h1v1h1v1h2v-1h1v-2h1v3h3v-2h1v2h1v-3h1v3h5v-1h1v1h2v-2h1v2h2v-1h1v-3h1v1h1v-3h1v2h1v1h1v-3h1v2h1v-3h1v1h1v-4h1v3h1v2h1v-1h1v3h1v-2h1v-1h1v-7h1v-3h1v12h1v-1h1v2h1v-2h1v2h1v-2h1v1h2v-9h1v6h1v1h2v-2h1v-2h1v-4h1v-2h1v9h1v1h1v5h2v-2h1v-3h1v5h4v-4h1v-1h1v5h1v-3h1v-2h1v1h1v3h1v-1h1v2h4v-4h1v3h2v1h1v-1h1v-6h1v2h1v2h2v2h3v-4h1v4h3v-2h1v-4h1v-1h1v-4h1v4h1v3h1v1h1v-2h1v-1h2v4h1v-2h1v-4h1v1h1v7h1v-4h1v-2h1v1h1v8h1v-1h2v-3h1v3h1v-3h1v1h1v2h1v-3h1v2h1v1h3v-1h2v1h1v-3h1v3h2v-1h1v-3h1v3h1v-2h1v-2h1v4h1v-1h1v-1h1v-1h1v2h1v-3h2v1h1v2h1v1h2v-8h1v9h1v-6h1v2h2v3h1v5h-1v7h-1v-2h-2v-5h-1v6h-1v-4h-1v7h-1v-7h-2v6h-1v-4h-2v-2h-1v5h-1v-5h-1v6h-1v-7h-1v2h-2v-5h-2v3h-2v-3h-1v3h-1v-3h-1v1h-1v-1h-1v1h-4v1h-1v1h-1v-3h-3v4h-1v-3h-1v1h-1v8h-1v-1h-1v-2h-1v8h-1v1h-1v-3h-1v5h-1v-11h-1v9h-1v-1h-2v6h-1v-2h-1v-3h-1v-1h-1v1h-1v-1h-1v-8h-1v-3h-1v2h-1v14h-1v-15h-1v1h-1v-2h-1v-1h-1v2h-1v2h-1v-1h-2v-2h-1v-1h-2v1h-1v-1h-1v-1h-1v-1h-1v6h-1v-4h-2v2h-2v4h-1v-4h-1v-2h-1v4h-1v-1h-1v-2h-1v-2h-3v3h-1v-2h-1v-1h-2v4h-1v2h-1v4h-1v-1h-1v-5h-1v1h-1v2h-1v-4h-1v9h-1v-2h-1v-7h-1v-2h-2v2h-1v10h-1v-10h-1v-2h-1v5h-1v3h-1v-6h-2v-1h-1v1h-1v7h-1v-7h-1v3h-1v2h-1v-6h-1v-1h-1v1h-2v-1h-1v2h-1v1h-1v1h-1v-1h-1v-5h-1v-1h-2v2h-2v-1h-1v2h-1v-2h-2v-1h-1v1h-2v-1h-1v3h-1v-3h-1v1h-3v1h-1v2h-1v-4h-1v1h-1v-1h-1v2h-3v-1h-2v-1h-3v3h-1v1h-1v-1h-1v-2h-1v-1h-1v1h-1v3h-1v-3h-1v3h-1v-4h-2v3h-2v-1h-1v-2h-1v1h-1v-1h-3v4h-1v-1h-1v-2h-1v-1h-2v3h-1v-1h-1v-2h-2v1h-1v-1h-1v1h-1v-1h-1v1h-3v1h-1v-2h-1v3h-1v-1h-1v-1h-1v1h-1v2h-1v-4h-1v2h-2v-1h-1v1h-1v-1h-1v-1h-6v2h-3v-1h-2v1h-1v-1h-1v-1h-3v4h-1v-4h-1v3h-1v-1h-1v1h-4v-1h-1v2h-1v-4h-1v5h-1v-5h-1v4h-1v-3h-1v-1h-5v1h-1v-1h-2v1h-1v-1h-1v1h-1v-1h-1v1h-1v-1h-9v2h-1v-2h-2v1h-1v-1h-1v1h-1v-1h-8v2h-1v-1h-1v-1h-6v1h-1v-1h-10v1h-2v-1h-5v1h-3v-1h-2v2h-1v-2h-1v1h-1v-1h-2v-1h-1v2h-1v-2h-3v1h-6v1h-1v-1h-2v2h-1v-1h-1v-1h-6v1h-2v-1h-2v1h-4v-1h-2v-1h-1v2h-1v-1h-3v1h-1v-1h-6v1h-3v-1h-1v1h-1v-1h-3v1h-1v-1h-5v1h-1v-1h-1v1h-1v-1h-7v1h-1v-1h-1v1h-1v-1h-7v1h-1v-1h-1v1h-2v-1h-2v2h-1v-1h-5v-1h-4v1h-1v-1h-1v1h-1v-1h-1v3h-1v-2h-3v1h-1v-1h-2v-1h-3v1h-1v-1h-2v1h-1v-1h-1v1h-1v1h-1v-2h-4v1h-1v-1h-3v2h-2v-2h-1v1h-3v-1h-4v2h-1v-2h-2v1h-1v-1h-4v1h-1v-1h-3v1h-1v-1h-13v-1h-4v1h-6v1h-2v-1h-1v1h-1v-1h-10v1h-1v-1h-6v1h-1v-1h-4v1h-1v-1h-5v1h-1v-1h-7v1h-1v-1h-6v1h-1v-1h-5v1h-1v-1h-3v1h-1v-1h-1v1h-1v-1h-9v1h-1v-1h-4v1h-2v-1h-4v1h-3v-1h-4v1h-2v-1h-9v1h-1v-1h-1v1h-2v-1h-1v1h-1v-1h-1v1h-1v-1h-1v1h-3v-1h-3v1h-1v-1h-10v1h-1v-1h-5v1h-1v-1h-2v1h-1v-1h-7v1h-1v-1h-3v1h-1v-1h-1v1h-1v-1h-3v2h-1v-1h-1v-1h-2v1h-1v-1h-9v2h-1v-2h-1v2h-1v-1h-1v-1h-4v1h-2v-1h-1v1h-1v1h-1v-2h-6v1h-1v-1h-3v1h-1v1h-1v2h-1v-1h-3v-2h-1v1h-1v1h-1v-3h-4v2h-1v-1h-1v-1h-1v2h-1v-1h-3v1h-1v-1h-1v1h-1v-2h-1v1h-2v2h-1v-1h-1v1h-1v-2h-2v1h-1v1h-1v-3h-1v1h-1v2h-2v1h-1v-3h-1v1h-1v-1h-1v1h-1v1h-1v-2h-2v2h-1v-1h-1v-2h-1v2h-1v-2h-1v1h-1v1h-1v-2h-3v1h-1v-1h-2v1h-1v2h-1v-3h-1v3h-1v-3h-1v3h-1v-3h-1v1h-1v-1h-1v2h-1v-2h-1v1h-1v1h-1v-2h-1v2h-3v-1h-1v3h-1v-3h-1v2h-1v-2h-1v-1h-2v4h-1v-2h-1v-1h-1v1h-2v1h-1v-3h-2v3h-1v-3h-2v2h-1v2h-2v-1h-1v-1h-2v1h-1v-2h-1v3h-1v-4h-1v3h-1v-3h-1v1h-2v1h-2v-1h-1v1h-1v-1h-1v-1h-2v1h-1v1h-1v-1h-1v2h-1v-2h-2v3h-1v-4h-1v1h-1v-1h-1v1h-1v2h-1v1h-1v-2h-1v-1h-1v1h-1v-1h-1v1h-1v-2h-2v1h-1v3h-1v-3h-3v-1h-2v1h-2v-1h-2v1h-1v-1h-3v3h-1v-1h-1v-1h-1v-1h-1v4h-1v-2h-1v1h-2v-1h-1v-1h-3v3h-1v-2h-1v-1h-1v-1h-1v2h-2v3h-1v-3h-1v2h-1v-1h-1v2h-2v-1h-1v-3h-1v-1h-1v2h-1v-1h-1v3h-1v-3h-1v1h-1v-1h-1v-1h-1v2h-1v-2h-1v2h-2v-1h-2v-1h-2v1h-4v-1h-3v2h-1v-1h-2v1h-3v-2h-1v1h-1v-1h-1v1h-2v-1h-1v3h-1v-2h-2v1h-1v-1h-1v-1h-1v2h-1v2h-1v-3h-1v1h-1v2h-2v1h-1v4h-1v-5h-1v-2h-2v2h-1v1h-1v-2h-1v9h-1v-6h-1v5h-1v-3h-1v1h-1v2h-1v4h-1v-5h-1v-3h-1v-3h-1v9h-1v-7h-1v-2h-1v3h-2v1h-1v1h-1v-2h-1v-2h-1v1h-1v3h-1v-1h-1v-3h-1v4h-1v24h-1v6h-1v-7h-1v-13h-1v-1h-1v-4h-1v4h-1v-5h-1v23h-1v-4h-1v-11h-1v4h-1v-4h-1v-9h-1v21h-1v52h-1v-38h-1v-9h-1v8h-1v-16h-1v36h-1v-27h-1v20h-1v25h-1v-50h-2v66h-1v30h-1v-45h-1v62h-2v-109h-1v49h-1v-57h-1v-27h-1v4h-2v2h-1v6h-1v-3h-1v-3h-1v-1h-2v3h-1v-10h-1v-1h-1v4h-1v-1h-2v-2h-1v4h-1v1h-1v-4h-2v-1h-2v1h-1v1h-1v-1h-1v1h-1v-1h-1v2h-2v-2h-1v2h-1v1h-1v-1h-2v-1h-1v-2h-2v5h-1v-5h-1v1h-1v-1h-1v1h-1v1h-1v1h-1v-2h-1v1h-1v2h-1v-4h-1v-1h-1v2h-1v-1h-1v2h-2v-3h-1v3h-1v-3h-2v3h-1v-3h-2v4h-2v-2h-2v-1h-1v-1h-2v1h-1v-1h-1v1h-3v1h-1v-1h-1v3h-1v-3h-1v-1h-1v3h-1v-3h-3v4h-1v-1h-1v-1h-1v1h-1v1h-1v5h-1v-1h-1v-3h-1v-2h-1v7h-1v-6h-1v-1h-2v3h-2v-3h-1v3h-1v2h-1v-8h-1v1h-1v-1h-2v1h-1v-1h-3v1h-1v-1h-2v1h-1v-1h-4v1h-1v-1h-3v10h-1v-9h-1v-1h-14v1h-5v1h-1v1h-1v-3h-1v2h-1v-2h-10v1h-1v-1h-4v1h-1v-1h-5v1h-1v-1h-4v1h-1v-1h-13v1h-1v-1h-4v1h-1v-1h-3v1h-1v-1h-3v1h-1v-1h-3v1h-1v-1h-2v1h-1v-1h-5v2h-1v-2h-1v1h-1v-1h-6v1h-2v-1h-6v1h-1v-1h-2v1h-1v1h-1v-2h-4v2h-1v-2h-5v1h-1v-1h-1v1h-2v-1h-18v1h-1v-1h-2v1h-1v-1h-4v1h-1v-1h-1v1h-1v-1h-6v1h-1v-1h-2v1h-4v-1h-6v1h-1v-1h-1v1h-1v-1h-15v1h-5v-1h-6v1h-1v-1h-2v4h-1v-4h-1v3h-1v-2h-1v1h-1v2h-1v-3h-1v-1h-2v1h-1v-1h-6v-1h-5v1h-3v1h-1v-1h-4v1h-1v-1h-2v-1h-1v1h-1v-1h-1v2h-1v-1h-8v1h-2v-1h-2v1h-1v-1h-1v1h-1v-1h-2v1h-1v-1h-1v1h-1v-1h-6v1h-1v-1h-1v1h-1v-1h-4v1h-1v-1h-6v1h-1v-1h-6v1h-1v-1h-3v1h-1v-1h-1v1h-3v-1h-1v1h-1v-1h-7v1h-1v-1h-7v-1h-1v1h-13v1h-1v-1h-7v2h-1v-2h-2v1h-1v-1h-5v1h-2v1h-1v-1h-1v-1h-1v2h-1v1h-2v-3h-1v3h-1v-3h-1v1h-2v2h-1v-3h-2v1h-1z"/>
<path fill="#000000" d="M50 1341h2v-1h1v-5h3v1h1v2h1v-1h1v3h1v1h1v-1h2v2h1v-1h3v1h6v-1h1v1h4v-1h1v1h2v-2h1v1h1v1h2v-2h2v1h2v1h2v-1h1v1h1v-1h1v2h1v-3h1v2h6v-1h1v1h3v-1h2v-1h1v1h3v-1h2v1h3v-1h1v2h2v-2h1v1h1v-1h1v1h3v1h1v-1h3v1h1v-1h3v1h4v-2h1v1h1v1h1v-2h1v2h3v-1h1v1h2v1h1v-1h1v-1h1v1h1v-1h3v-2h1v2h1v2h2v-1h5v-1h1v1h10v-1h1v1h12v-1h1v1h2v-1h1v1h2v-2h1v2h1v-1h1v2h5v-1h6v-1h1v1h16v-1h1v1h3v-1h1v1h6v-1h4v-1h1v1h2v1h25v-1h1v1h1v-1h1v1h1v-1h3v1h22v-1h1v1h7v-1h1v1h7v-1h3v1h11v-1h1v1h6v-2h1v2h2v-1h1v1h21v-1h1v1h1v-1h1v1h12v-1h1v1h8v-2h1v1h1v1h1v-1h1v1h3v-1h1v1h3v-1h3v1h10v-1h1v1h20v-1h2v1h10v-1h1v1h4v-1h2v1h1v-3h1v3h1v-9h1v8h1v-2h1v-1h1v2h1v1h1v-1h1v2h1v-2h1v1h1v-2h1v3h1v-9h1v9h2v-3h1v2h2v-1h1v2h11v-3h1v-3h1v4h1v1h1v-7h1v-73h1v32h1v25h1v-6h1v-5h1v11h1v-2h1v2h1v-8h1v16h1v-19h1v-30h1v39h1v-3h1v10h1v1h1v10h1v1h1v-3h1v1h1v-2h1v-1h1v-5h1v10h3v-2h1v6h1v-8h1v-5h1v5h1v3h1v-2h1v-5h1v6h1v-7h1v6h1v-5h1v-7h1v6h1v11h1v-2h1v-5h1v3h1v-7h1v14h1v-2h1v1h1v1h1v2h2v-1h1v1h14v-1h1v1h1v-1h1v1h6v-1h1v1h2v-1h1v1h1v-2h1v2h3v-1h1v1h1v1h4v-2h1v1h6v-1h1v1h7v-1h1v1h2v-1h1v1h2v-1h1v1h1v-2h1v2h4v-1h1v-1h1v2h3v-2h1v1h3v1h3v1h2v-1h1v-1h1v1h3v-1h1v1h2v-1h1v1h8v-1h1v1h2v-1h1v1h1v-1h1v1h2v-1h1v1h1v-1h2v1h15v-1h1v1h5v-1h1v1h7v-1h1v1h18v-2h1v2h4v-1h1v1h9v-1h1v1h4v-1h1v1h6v-1h1v1h7v-1h1v1h7v-1h1v1h3v-2h1v2h9v-1h1v1h5v-1h1v1h5v-1h2v1h7v-1h1v1h5v-1h2v1h4v-1h2v1h2v-1h1v1h2v-1h3v-2h1v2h3v-1h1v2h13v-1h3v1h6v-1h1v1h5v-1h1v1h2v-2h1v2h4v-1h1v1h2v-1h1v1h5v-2h1v2h2v-1h1v1h9v-1h1v1h6v-1h1v1h9v-1h1v1h4v1h1v-1h2v-1h3v1h2v-1h1v1h1v-2h1v2h2v-2h1v2h3v-1h1v1h2v-1h2v-2h1v2h1v-1h1v1h1v-1h1v1h2v1h1v-1h1v1h8v-1h1v1h3v-1h2v1h1v-1h1v1h12v-1h1v1h3v-1h1v1h9v-1h1v1h3v-1h1v1h4v-1h1v1h9v-1h1v1h5v-1h1v1h5v-1h1v1h9v-1h1v1h2v-1h1v1h2v-1h1v1h9v-1h1v1h9v-1h1v1h2v-1h1v1h3v-1h1v1h6v-1h1v1h6v-1h2v-1h1v2h10v-1h10v1h9v-1h1v1h3v-1h1v1h2v-1h1v1h15v-1h8v-2h1v2h1v1h7v-1h1v1h4v-1h1v1h16v-1h1v1h12v-2h1v2h5v-1h1v1h9v-1h1v1h6v-1h1v1h1v-1h1v1h6v-1h1v1h6v-1h1v1h8v-1h1v1h1v-2h1v2h5v-1h2v1h2v-1h1v1h20v-1h1v1h2v-1h1v1h6v-2h1v2h4v-1h1v1h11v-1h1v-1h1v2h3v-1h1v1h1v-1h1v1h5v-1h1v1h7v-1h4v-1h2v1h1v1h2v-1h1v1h2v-1h1v1h2v-1h1v1h4v-1h1v1h34v-1h1v1h10v-1h2v1h1v-1h1v1h1v-1h1v1h4v-1h1v1h4v-1h1v1h5v-2h1v1h1v1h16v-1h1v1h9v-2h1v2h6v-1h1v1h2v-1h1v1h1v-1h1v1h12v-1h6v-1h1v2h1v-1h1v1h2v-1h1v1h3v-2h1v2h3v-1h1v1h9v-1h1v1h2v-1h1v2h4v-1h6v-1h1v1h17v-1h1v1h3v-2h1v2h9v2h-2v2h-1v-2h-8v2h-1v-2h-6v1h-1v-1h-1v1h-1v-1h-1v1h-1v-1h-5v1h-1v-1h-2v1h-1v-1h-1v1h-1v-1h-1v1h-1v-1h-2v1h-2v1h-1v-1h-1v-1h-6v2h-1v-1h-1v-1h-2v1h-3v-1h-1v1h-1v-1h-12v-1h-4v1h-1v-1h-1v1h-1v1h-1v-1h-1v2h-1v-2h-8v1h-1v-1h-3v1h-1v-1h-10v1h-2v-1h-6v1h-1v-1h-13v2h-1v-2h-5v1h-1v-1h-2v1h-1v-1h-9v1h-1v-1h-3v1h-1v-1h-4v1h-2v-1h-12v1h-1v-1h-6v1h-1v-1h-3v1h-1v-1h-3v1h-1v-1h-3v2h-1v-2h-9v1h-1v-1h-12v-1h-1v1h-1v-1h-3v1h-8v1h-2v-1h-5v1h-1v-1h-12v1h-1v-1h-3v1h-1v-1h-5v1h-1v-1h-8v1h-1v-1h-5v2h-1v-2h-4v1h-1v-1h-7v1h-2v-1h-3v1h-1v-1h-6v1h-1v-1h-5v1h-1v-1h-12v2h-1v-2h-4v1h-1v1h-1v-1h-1v-1h-4v2h-2v-2h-1v1h-1v-1h-9v1h-1v-1h-4v1h-2v-1h-1v1h-1v-1h-1v2h-1v-1h-1v-1h-9v1h-1v-1h-1v1h-1v-1h-3v1h-1v-1h-2v1h-1v-1h-2v1h-1v-1h-2v1h-1v1h-1v-2h-10v1h-1v-1h-2v-1h-1v1h-1v-1h-1v1h-1v-1h-6v2h-1v-1h-2v1h-1v-1h-12v2h-1v-2h-7v1h-1v-1h-4v1h-1v-1h-2v-1h-9v1h-3v1h-1v-1h-1v1h-1v-1h-1v1h-1v-1h-11v1h-1v-1h-5v1h-1v-1h-1v1h-1v-1h-7v1h-1v-1h-1v1h-2v-1h-9v1h-1v-1h-10v1h-1v-1h-5v1h-1v-1h-1v1h-1v-1h-1v2h-1v-2h-4v1h-1v-1h-17v1h-1v-1h-9v2h-1v-2h-16v2h-1v-2h-3v1h-1v-1h-2v1h-2v-1h-3v1h-3v-1h-6v1h-1v-1h-5v-1h-5v2h-1v-2h-2v2h-2v-1h-3v1h-1v-1h-3v1h-1v-1h-1v1h-1v-1h-1v1h-1v-1h-5v1h-3v-1h-1v1h-2v-1h-2v1h-1v1h-1v-2h-8v1h-1v-1h-7v1h-1v-1h-1v1h-1v-1h-1v1h-1v-1h-18v1h-2v-1h-6v1h-1v-1h-3v1h-1v-1h-1v2h-1v-2h-17v1h-1v-1h-2v1h-1v-2h-5v1h-1v2h-1v-2h-8v1h-1v-2h-1v1h-1v1h-2v-1h-6v1h-1v-1h-10v1h-1v-1h-6v1h-2v-1h-1v1h-1v-1h-3v1h-1v-1h-15v1h-1v-1h-7v1h-1v-1h-10v1h-2v-1h-5v1h-1v-1h-2v1h-1v-1h-6v1h-1v-1h-9v2h-1v-2h-5v1h-2v-1h-11v1h-1v-1h-2v1h-1v-1h-1v1h-1v-1h-2v1h-1v-1h-3v1h-1v-1h-2v1h-1v-1h-7v2h-1v-2h-2v1h-2v-1h-1v1h-1v-1h-12v1h-1v-1h-4v2h-1v-1h-1v1h-1v-2h-2v2h-1v1h-1v-1h-1v1h-1v-3h-1v1h-1v1h-2v-2h-3v1h-1v-1h-9v1h-2v-1h-1v1h-1v-1h-10v2h-1v-1h-1v1h-2v-1h-2v-1h-2v1h-1v-1h-7v1h-1v-1h-14v1h-1v-1h-6v1h-1v-1h-3v1h-2v1h-1v-1h-1v-1h-1v12h-1v7h-1v-11h-1v6h-1v-8h-1v11h-1v1h-1v-8h-1v2h-1v10h-1v-7h-1v-5h-1v1h-1v-3h-1v7h-1v1h-1v-6h-1v-6h-1v3h-1v-1h-2v2h-1v-1h-1v15h-1v-14h-1v6h-1v8h-1v-3h-1v-5h-1v4h-1v8h-1v11h-1v-22h-1v15h-1v-9h-1v-7h-2v3h-1v-2h-1v6h-1v-8h-2v6h-1v21h-1v21h-1v-55h-1v-4h-1v3h-1v-3h-1v-1h-2v-1h-1v1h-1v-1h-5v1h-1v-1h-1v1h-1v-1h-1v3h-1v-3h-2v4h-1v-3h-1v3h-1v-3h-1v4h-1v-5h-1v4h-1v-3h-1v3h-1v-4h-2v4h-1v-4h-2v8h-1v-5h-1v-1h-1v-1h-1v1h-1v-2h-2v1h-1v-1h-6v1h-1v-1h-8v1h-1v-1h-1v1h-1v-1h-1v1h-1v-1h-7v1h-1v-1h-1v1h-1v-1h-4v1h-1v-1h-5v1h-1v-1h-3v1h-1v-1h-4v1h-1v-1h-4v1h-1v-1h-22v1h-1v-1h-5v1h-1v-1h-5v1h-1v-1h-4v1h-2v1h-1v-1h-4v-1h-4v1h-1v-1h-2v-1h-1v1h-2v1h-1v-1h-7v1h-1v-1h-7v1h-1v-1h-2v1h-1v-1h-1v2h-1v-1h-1v-1h-6v1h-1v-1h-4v2h-1v-2h-1v1h-1v-1h-1v1h-1v-1h-4v1h-1v-1h-1v1h-1v-1h-4v1h-1v-1h-5v1h-1v-2h-2v1h-3v1h-1v-1h-6v2h-1v-2h-1v1h-2v-1h-8v1h-1v-1h-5v1h-3v-2h-5v1h-1v1h-1v-1h-3v2h-1v-2h-5v1h-1v-1h-5v1h-1v-1h-3v2h-1v-2h-8v1h-1v-1h-4v1h-5v-1h-1v1h-1v-1h-2v1h-1v-1h-2v1h-1v-1h-8v1h-2v-1h-7v2h-1v-2h-8v1h-2v-1h-2v1h-2v-2h-3v1h-1v-1h-1v1h-3v1h-2v-1h-4v1h-2v1h-1v-2h-1v1h-1v1h-1v-2h-1v1h-2v-1h-1v3h-1v-2h-1v1h-1v-1h-1v-1h-1v1h-1v-1h-1v1h-1v1h-2v-1h-2v1h-1v-1h-1v-1h-1v1h-2v-1h-1v1h-1v2h-1v-2h-1v-1h-1v1h-1v1h-1v-1h-2v2h-1v-1h-1v-1h-1v-1h-3v1h-4v1h-1v-1h-1v2h-1v-1h-1v-1h-1v1h-3v-2h-2v1h-1v1h-2v-1h-1v1h-1v-2h-4v3h-1v-2h-1v1h-1v-2h-3v1h-1v-1h-2v3h-1v-2h-1v3h-1v-3h-2v3h-1v-3h-1v-1h-1v2h-1v1h-1v8h-1v-2h-1v-1h-1v4h-1v-1h-1v-2h-1v-4h-1v-2h-2z"/>
<path fill="#ff0000" d="M50 1372h8v-1h1v1h1v-1h1v1h4v-1h1v1h2v-1h1v1h1v-1h1v1h2v-1h1v1h11v-1h1v1h4v-1h1v1h7v-1h2v1h4v-2h1v2h13v-1h1v1h1v-1h1v1h5v-1h1v1h3v-1h1v1h17v-1h1v1h4v-1h1v1h3v-1h1v1h4v1h1v-1h1v1h4v-2h2v1h1v-1h1v1h3v-1h1v1h11v-1h1v1h1v-1h1v1h6v-1h1v1h2v-1h2v1h1v-1h1v1h3v-1h1v1h2v-1h1v1h5v-1h1v1h2v-1h1v1h3v-1h1v1h15v1h2v-1h1v-1h3v1h1v-1h2v1h10v-1h1v1h5v1h5v-1h2v-1h1v1h2v-2h1v2h5v-1h1v1h2v-1h1v1h2v-1h1v1h37v-1h1v1h5v-1h2v1h7v-1h1v1h10v-1h1v1h21v1h5v-1h21v-1h1v1h1v-1h1v1h1v-1h1v1h17v-1h1v1h1v-1h1v1h6v-1h1v1h1v-1h1v1h9v-1h1v1h3v-1h1v1h10v-1h1v1h7v-1h1v1h23v-1h1v1h1v-1h1v1h4v1h6v-2h1v1h3v-1h1v1h10v-1h1v1h5v-1h1v1h1v-1h1v-1h1v2h2v-1h1v1h7v-1h1v1h4v-1h1v1h1v-1h1v1h4v-1h2v1h1v-1h1v1h15v-1h1v1h14v-1h1v1h3v-1h1v1h2v-1h1v1h1v1h2v-1h2v-1h1v1h14v-1h1v1h6v-1h2v1h1v-1h1v1h1v-1h1v1h6v-1h2v1h4v-1h1v1h6v1h1v-1h1v1h5v-1h2v-1h1v1h8v-2h1v2h7v-1h1v1h14v-1h1v1h2v-1h1v1h12v-1h1v1h16v-1h1v1h3v-1h1v1h4v-2h1v2h2v-1h1v-1h1v2h4v-1h1v1h9v1h6v-2h2v1h6v-1h1v1h8v1h3v-1h1v-1h1v1h1v-1h1v1h16v-1h2v1h1v-1h1v1h1v-1h2v1h3v-1h1v1h9v-2h1v2h7v-1h1v1h1v-1h1v1h1v-1h1v1h2v-1h3v1h7v-1h1v1h1v-1h2v1h20v-1h1v1h1v-2h1v1h1v1h14v-1h1v1h1v-1h2v1h2v-1h1v1h1v-1h2v1h2v-1h1v-1h1v2h2v-2h2v2h1v-3h2v1h1v1h1v-2h1v2h2v1h1v-1h2v-1h2v2h1v-2h1v1h1v1h4v-1h1v-1h1v-10h1v9h1v1h1v-1h1v-2h1v3h1v1h1v-2h1v-2h1v-2h1v-43h1v36h1v-7h1v-24h1v25h1v5h1v-9h1v7h1v-1h1v-8h1v-22h1v31h1v7h1v-42h1v13h1v6h1v-12h1v6h1v-6h1v6h1v14h1v-42h1v27h2v-10h1v12h1v-15h1v21h1v7h1v6h1v-12h1v18h1v-129h1v126h1v-7h1v-20h1v-28h1v48h2v-2h1v-36h1v19h1v25h1v-27h1v4h1v8h1v-3h1v-20h1v-4h1v27h1v8h1v-7h1v-37h1v47h1v-21h1v18h1v1h1v-4h1v-5h1v-21h1v30h1v-30h1v32h1v-26h1v-12h1v-25h1v62h1v-10h1v-55h1v67h1v-36h1v38h2v-20h1v21h1v10h1v3h1v-3h2v4h1v-7h1v-49h1v16h1v16h1v5h1v-8h1v-5h1v6h1v6h1v3h1v4h1v5h1v1h1v-8h1v-50h2v52h1v2h1v5h1v2h1v4h1v-22h1v16h1v3h1v5h1v-2h1v1h1v-3h1v-4h2v7h1v-2h1v-5h1v3h1v2h1v4h2v-1h1v-1h1v2h4v-1h2v-1h1v2h1v-1h1v-1h1v2h2v-1h1v1h1v-2h2v2h2v-1h1v-2h1v3h1v-1h1v1h2v-4h1v4h1v-1h2v1h1v-5h1v4h1v1h1v-4h1v1h1v-1h1v4h1v-4h1v4h1v-1h1v1h7v-1h1v1h3v-1h1v1h1v-1h5v1h3v-1h1v1h3v-1h1v1h3v-1h1v1h8v-1h1v1h8v-1h1v1h2v-1h1v1h2v-1h1v1h4v-1h1v1h1v-1h1v1h1v-1h1v1h10v-1h1v1h4v-1h1v2h6v-1h7v-1h1v1h3v-2h1v2h2v-1h1v1h7v-1h1v1h4v-1h1v1h1v-1h1v1h5v-2h1v2h14v-2h1v2h2v-1h1v1h1v-1h1v1h3v-1h1v1h3v-1h1v1h1v-1h1v1h1v-1h1v1h14v-1h1v1h6v-1h1v1h8v-1h2v1h6v-1h1v1h1v-1h1v-1h1v1h2v1h5v-1h1v1h10v-1h1v1h2v-2h1v2h21v-2h1v2h2v-1h1v1h22v-1h1v1h3v-2h1v2h1v1h1v-1h11v-1h3v2h1v-1h2v1h3v-2h1v1h10v-1h1v1h2v-1h2v1h3v-1h1v1h1v-1h1v1h10v-1h1v1h6v-1h1v1h2v-1h1v1h4v-1h1v1h2v1h1v-2h1v1h3v-1h1v1h3v-1h1v1h5v-1h2v1h15v-1h1v1h4v-1h1v1h3v-1h1v1h2v-1h2v1h7v-1h1v1h7v-1h1v1h4v3h-1v-1h-1v1h-1v-1h-3v1h-2v-1h-1v1h-2v-1h-6v1h-1v-1h-11v1h-1v-1h-3v1h-1v-1h-31v1h-1v-1h-1v1h-1v-1h-7v1h-1v-1h-7v1h-1v-1h-2v1h-1v-1h-1v1h-1v-1h-6v1h-2v-1h-2v1h-1v-1h-3v1h-2v-1h-3v1h-1v-1h-1v1h-1v-1h-4v1h-6v1h-1v-2h-1v-1h-1v1h-11v1h-2v-1h-1v1h-1v-1h-10v1h-1v-1h-4v1h-2v-1h-1v1h-1v-1h-4v1h-2v-1h-5v1h-1v-1h-5v1h-1v-1h-6v1h-1v-1h-2v1h-2v-1h-7v1h-1v-1h-3v2h-1v-2h-2v1h-1v-1h-1v1h-1v-1h-3v2h-1v-2h-1v1h-1v-1h-1v-1h-3v1h-1v1h-1v-1h-20v1h-1v-1h-3v1h-1v-1h-10v1h-1v-1h-5v1h-1v-1h-1v1h-1v-1h-2v1h-1v-1h-1v1h-1v-1h-3v1h-2v1h-1v-2h-5v2h-1v-2h-4v1h-1v-1h-2v1h-2v-1h-12v1h-1v-1h-3v1h-1v-1h-1v1h-1v-1h-5v1h-2v-1h-4v1h-1v-1h-4v1h-7v-1h-2v1h-1v1h-1v-2h-2v1h-1v-1h-2v1h-2v-1h-4v1h-1v-1h-7v1h-1v-1h-2v1h-1v-1h-1v2h-1v-2h-1v1h-1v-1h-2v1h-1v-1h-8v1h-1v-1h-7v1h-1v-1h-2v1h-1v1h-1v-2h-5v1h-1v-1h-1v1h-3v-1h-1v2h-1v-1h-2v-1h-2v2h-1v-2h-1v1h-2v-1h-1v2h-1v-2h-1v1h-2v2h-1v-1h-2v-2h-1v4h-1v-1h-2v-3h-1v2h-1v-2h-1v6h-1v-5h-3v-1h-1v1h-1v-1h-1v2h-1v-1h-1v1h-1v-1h-1v-1h-1v2h-1v-2h-1v3h-1v-3h-1v1h-1v-1h-2v1h-1v-1h-1v1h-1v3h-1v-4h-4v1h-1v1h-1v1h-1v-2h-2v7h-1v1h-1v-1h-1v-5h-2v7h-1v-3h-1v-4h-1v2h-1v5h-1v-6h-1v4h-1v3h-1v3h-1v-9h-1v19h-1v-18h-1v4h-1v4h-1v136h-1v-110h-1v-10h-1v-17h-2v-4h-1v3h-1v3h-1v13h-1v20h-1v-25h-1v1h-1v5h-1v13h-1v-12h-1v-19h-1v-7h-1v1h-1v4h-1v-6h-2v9h-1v26h-1v-14h-1v-15h-1v30h-1v17h-1v-14h-1v-13h-1v11h-1v55h-2v-69h-1v-3h-1v-3h-1v-6h-1v17h-1v-5h-1v-5h-1v-3h-1v-7h-1v2h-1v3h-1v32h-1v-15h-1v-10h-2v6h-2v-2h-2v-3h-1v-10h-2v32h-1v-23h-2v-1h-1v-4h-1v12h-1v-9h-1v18h-1v-24h-1v34h-1v4h-1v-8h-1v-13h-1v-11h-1v6h-1v8h-1v1h-1v12h-1v15h-1v23h-1v-1h-1v-23h-1v-11h-1v9h-1v-2h-1v5h-1v-18h-1v-10h-1v-11h-1v-6h-1v-3h-1v1h-1v1h-1v1h-1v-2h-1v-6h-1v5h-1v24h-1v-1h-1v-16h-1v-9h-1v13h-1v-16h-1v-4h-1v-2h-1v-1h-1v2h-1v-2h-1v-1h-1v1h-3v1h-2v-3h-1v2h-1v-2h-1v4h-1v-2h-1v-3h-1v5h-1v-5h-1v3h-1v-3h-1v3h-1v-2h-2v-1h-1v2h-2v-1h-1v-1h-1v1h-1v-1h-1v1h-1v-1h-3v1h-1v-1h-1v1h-3v2h-1v-2h-1v-1h-1v1h-1v-1h-1v3h-1v-3h-3v1h-1v-1h-3v1h-1v-1h-6v2h-1v-2h-1v3h-1v-3h-2v2h-2v-2h-1v1h-1v-1h-2v1h-1v-1h-10v1h-1v-1h-1v1h-1v-1h-1v1h-1v-1h-6v1h-1v-1h-15v2h-1v-2h-3v1h-1v-1h-11v1h-1v-1h-4v1h-2v-1h-7v1h-2v-1h-4v1h-1v-1h-10v1h-2v1h-1v-1h-1v1h-1v-1h-1v-1h-2v1h-1v1h-1v-2h-2v1h-2v-1h-1v1h-1v-1h-1v1h-1v-1h-1v1h-1v1h-1v-1h-1v1h-4v-2h-1v1h-1v-1h-5v1h-1v-1h-5v1h-2v-1h-2v2h-1v-1h-2v-1h-6v1h-1v-1h-5v2h-1v-2h-1v1h-2v-1h-2v1h-1v-1h-10v1h-1v-1h-3v1h-1v-1h-3v1h-2v-1h-2v1h-2v-1h-7v1h-1v-1h-19v1h-1v-1h-2v1h-3v1h-1v-1h-5v-1h-17v1h-1v-1h-4v1h-4v-1h-1v1h-1v-1h-7v1h-1v-1h-8v2h-1v-2h-1v2h-1v-2h-2v1h-2v-1h-7v1h-1v-1h-2v1h-1v-1h-14v2h-1v-2h-3v2h-1v-2h-10v1h-1v-1h-12v1h-1v-1h-9v1h-1v-1h-4v1h-1v-1h-8v1h-1v-1h-1v1h-1v-1h-9v1h-1v1h-1v-1h-2v1h-1v-1h-1v1h-1v-2h-7v1h-1v-1h-5v1h-1v-1h-4v1h-1v-1h-1v1h-1v-1h-5v1h-1v-1h-4v1h-1v-1h-2v1h-2v-1h-4v1h-2v-1h-15v1h-1v-1h-2v1h-1v1h-1v-2h-6v1h-1v-1h-1v2h-1v-2h-2v1h-1v-1h-15v1h-1v-1h-3v1h-1v-1h-2v1h-1v-1h-1v1h-1v-1h-3v1h-2v-1h-1v1h-1v-1h-1v1h-1v-1h-5v1h-1v-1h-3v1h-3v1h-1v-1h-3v-1h-5v1h-1v-1h-4v1h-2v-1h-1v2h-1v-2h-3v1h-1v-1h-1v1h-1v-1h-6v1h-1v-1h-1v1h-1v-1h-1v1h-1v-1h-6v1h-1v-1h-1v1h-1v-1h-2v2h-1v-2h-26v1h-1v-1h-3v1h-1v-1h-9v1h-2v-1h-2v2h-1v-2h-2v1h-1v-1h-3v1h-1v-1h-2v1h-1v-1h-4v1h-1v1h-1v-1h-3v-1h-4v1h-1v-1h-6v1h-1v-1h-10v1h-1v1h-1v-1h-1v-1h-2v1h-1v-1h-3v1h-1v-1h-11v1h-2v-1h-3v1h-1v-1h-4v1h-1v-1h-2v1h-1v-1h-7v1h-1v-1h-12v1h-2v-1h-4v1h-1v-1h-3v1h-1v-1h-3v1h-1v-1h-1v-1h-1v2h-5v1h-1v-1h-1v-1h-7v1h-1v-1h-6v1h-1v-1h-17v2h-1v-2h-6v1h-1v-1h-6v1h-1v-1h-5v1h-1v-1h-5v1h-2v-1h-1v1h-1v-1h-2v1h-2v-1h-2v1h-1v-1h-8v1h-2v-1h-1v1h-2v-1h-4v1h-1v-1h-1v1h-1v-1h-3v1h-1v-1h-1v1h-1v-1h-2v1h-1v-1h-7v2h-1v-1h-2v-1h-2v1h-2z"/>
<path fill="#0000ff" d="M50 1401h1v1h5v-1h1v1h4v-1h1v1h2v1h3v-2h1v1h1v-1h1v1h4v-1h1v1h13v-1h1v1h1v-1h1v1h9v-1h1v1h3v-1h1v1h10v-1h1v1h7v-1h1v1h3v-1h1v1h3v-1h1v1h6v-1h1v1h7v-1h1v1h8v1h3v-1h17v-1h1v1h6v-5h1v2h1v1h1v-1h1v-11h1v10h1v1h1v-1h1v1h1v2h2v-2h1v3h1v-2h1v2h1v-4h1v3h1v-1h1v-2h1v4h2v-1h1v-2h1v2h1v-3h1v-1h1v1h1v3h1v1h1v-1h1v-1h1v-1h2v1h1v-10h1v9h2v-7h1v-8h1v2h1v6h1v-3h1v3h1v2h1v-9h1v4h1v-3h1v-39h1v16h1v8h1v-34h1v23h1v-3h1v20h1v-5h1v20h1v-10h1v-13h1v2h1v11h1v-24h1v-12h1v25h1v-69h1v21h1v49h1v-110h1v117h1v-11h1v-58h1v38h1v12h1v-14h1v-55h1v50h1v-21h1v36h1v-24h1v-79h2v94h1v15h1v5h1v20h1v5h1v-9h1v8h1v-5h1v-23h1v-1h1v6h1v-64h1v48h1v9h1v4h1v-4h1v2h1v18h1v-47h1v32h1v-28h1v-21h1v43h1v-44h1v2h1v40h1v9h1v20h1v-6h1v-4h1v9h1v-2h1v-9h1v-19h1v40h1v-16h1v11h1v-7h1v1h1v-12h1v9h1v13h1v-11h1v5h1v4h2v6h1v2h3v-5h1v4h2v-3h1v3h3v-2h1v3h2v-4h2v5h3v-1h1v1h2v-1h1v1h1v-2h1v2h1v-1h2v-1h1v2h5v-1h3v-1h1v2h6v-1h2v1h2v-1h1v1h3v-1h1v1h2v-1h1v1h2v-1h1v-1h1v2h1v-1h1v1h1v-2h1v-5h1v6h1v-1h1v2h3v-1h1v1h1v-1h1v1h1v-1h1v1h1v-2h1v1h3v-1h1v2h2v-1h2v1h1v-1h2v1h1v-2h1v2h1v-2h2v2h1v-2h1v2h3v-1h1v-1h1v1h1v1h5v-1h2v1h1v-1h1v1h1v-1h1v-1h1v2h1v-1h2v1h1v-4h2v4h3v-1h2v1h1v-1h1v2h1v-3h1v2h3v-1h1v1h9v-1h2v1h1v-1h1v1h3v1h3v-2h1v2h8v-2h1v1h9v-1h1v1h1v-1h1v1h6v-1h1v1h11v-1h2v1h4v-1h1v1h2v-1h1v1h12v-2h1v3h5v-2h1v1h7v-1h1v1h2v-1h1v1h7v-2h1v1h1v1h3v-1h1v1h8v1h6v-2h4v1h19v-1h1v1h1v-1h1v1h1v-1h1v1h13v-1h1v1h2v-1h1v1h5v-1h1v1h3v-1h1v1h1v-1h1v1h7v-1h1v1h3v-1h1v1h3v-1h1v1h12v-1h1v1h3v-1h1v1h4v-2h1v2h5v-3h1v3h4v-1h1v1h2v-1h1v1h6v-1h1v1h2v-1h2v1h1v-1h1v1h3v-1h1v1h13v-1h1v1h6v-1h2v1h2v-2h1v2h9v-1h1v1h8v-2h1v2h3v-1h1v1h4v-1h1v1h17v-1h1v1h1v-1h1v1h14v-1h1v1h1v-2h1v2h3v1h2v-1h2v-1h2v1h11v1h7v-2h1v1h1v-1h1v1h12v-1h1v1h5v-1h1v1h2v-2h1v2h8v-1h1v1h1v-1h2v1h5v1h4v-1h13v-1h1v1h3v-1h1v1h8v-1h1v1h1v-1h1v1h15v-1h3v1h4v-1h1v1h2v-1h1v1h4v-1h1v1h1v-1h2v1h3v-1h1v1h7v-1h1v1h3v-1h1v1h5v-1h1v1h1v-1h1v1h12v-1h1v1h5v-1h2v1h2v-2h1v2h19v-1h1v1h18v-1h1v1h7v-1h1v1h1v-1h2v1h5v-1h1v1h8v1h1v-2h1v1h12v-1h1v1h1v-1h1v1h1v-1h3v1h2v-1h1v1h8v-1h1v-1h1v2h3v-1h1v-1h1v1h4v1h2v-1h1v1h12v-1h2v1h7v-1h1v-1h1v2h3v-1h4v-2h1v3h4v-1h1v-1h1v2h5v-1h1v1h17v-1h1v1h2v-1h1v1h4v-1h1v1h1v-2h1v1h1v1h9v-1h1v1h7v-1h2v1h1v1h4v-1h8v-2h1v2h4v-1h1v1h3v-1h1v1h2v-1h1v1h1v-1h1v1h1v-1h2v1h11v-1h1v1h8v-1h1v1h1v-1h1v1h1v-1h1v1h6v-1h1v1h5v-2h1v1h1v1h2v-1h2v1h12v-1h1v1h2v1h1v-1h7v-1h1v1h15v1h5v-1h1v1h1v-2h1v1h10v1h1v-1h1v1h3v-1h15v-1h2v1h7v-1h1v1h3v-1h1v1h2v-1h2v1h8v-1h2v1h11v-1h1v1h4v-2h1v1h1v1h9v-1h1v1h9v-1h1v1h1v-2h1v2h8v-1h1v1h4v-1h1v1h35v-1h2v1h10v-1h1v1h3v-1h1v1h6v-1h1v1h5v-1h1v1h10v1h3v-1h7v-1h1v1h1v-2h2v2h3v3h-1v-1h-2v1h-1v-1h-8v1h-5v-1h-3v1h-1v1h-1v-2h-1v1h-1v-1h-15v1h-1v-1h-4v1h-1v-1h-7v1h-1v-1h-2v1h-2v-1h-4v2h-1v-2h-7v2h-1v-2h-9v1h-1v-1h-4v1h-1v-1h-1v1h-1v-1h-7v1h-2v-1h-1v2h-1v-2h-1v1h-1v-1h-8v1h-1v-1h-1v1h-1v-1h-6v1h-1v-1h-3v1h-1v-1h-2v1h-1v1h-1v-2h-1v1h-1v-1h-3v1h-1v-1h-4v1h-2v-1h-6v1h-1v-1h-3v1h-1v-1h-2v1h-1v1h-1v-2h-3v1h-2v-1h-10v1h-1v-1h-4v1h-1v-1h-3v1h-1v-1h-1v1h-1v-1h-9v1h-4v1h-1v-2h-3v1h-2v-1h-4v1h-1v-1h-1v1h-2v1h-1v-1h-1v1h-1v-1h-2v-1h-4v1h-1v-1h-1v1h-1v-1h-5v1h-1v-1h-1v1h-1v-1h-2v2h-1v-2h-2v1h-2v1h-1v-1h-1v-1h-9v1h-1v-1h-22v1h-1v-1h-6v1h-1v-1h-1v1h-1v-1h-2v1h-1v-1h-5v1h-1v-1h-3v1h-1v-1h-4v1h-1v-1h-1v1h-1v-1h-2v1h-1v-1h-1v1h-1v-1h-10v1h-1v-1h-2v1h-2v-1h-2v3h-1v-2h-4v-1h-8v1h-1v-1h-2v1h-1v-1h-2v1h-1v-1h-7v1h-1v-1h-4v1h-1v-1h-4v2h-1v-2h-3v1h-1v-1h-5v1h-1v-1h-2v1h-1v-1h-1v2h-1v-2h-2v1h-1v-1h-3v1h-1v-1h-2v2h-2v-2h-1v-1h-1v1h-1v-1h-1v1h-1v-1h-1v1h-3v1h-2v-1h-1v1h-1v-1h-2v1h-3v-1h-4v1h-1v-1h-2v1h-1v-1h-4v2h-1v-2h-1v1h-1v-1h-2v-1h-4v1h-1v-1h-1v1h-1v1h-1v-1h-3v1h-1v-1h-3v1h-1v-1h-4v1h-2v-1h-2v1h-1v-1h-1v1h-1v-1h-3v1h-1v-1h-6v1h-1v-1h-2v1h-3v-1h-5v1h-1v-1h-2v1h-2v-1h-1v1h-1v-1h-2v1h-1v-1h-2v1h-1v-1h-1v1h-2v-1h-2v2h-1v-2h-2v1h-3v-1h-22v1h-3v-1h-7v1h-3v-1h-3v-1h-2v1h-4v1h-2v-1h-2v1h-1v-1h-9v1h-1v-1h-14v2h-1v-2h-4v1h-1v-1h-7v1h-1v-1h-1v1h-1v-1h-10v2h-1v-2h-6v1h-2v-1h-1v1h-1v-1h-2v1h-3v-1h-17v1h-2v-1h-6v1h-1v-1h-3v1h-3v1h-1v-1h-2v-1h-1v1h-1v-1h-7v1h-1v-1h-1v1h-1v-1h-4v1h-2v-1h-4v1h-2v-1h-2v1h-2v-1h-13v1h-1v1h-1v-1h-5v-1h-4v2h-1v-2h-1v1h-2v-1h-4v1h-5v-1h-1v1h-1v-1h-1v1h-2v-1h-1v1h-1v-1h-1v1h-3v-1h-4v1h-1v-1h-2v1h-1v-1h-6v2h-2v-1h-1v-1h-2v1h-2v1h-1v-2h-11v2h-1v-2h-6v1h-1v1h-1v-2h-6v1h-1v-1h-6v1h-1v-1h-3v2h-2v-2h-1v1h-1v-1h-3v2h-1v-2h-2v1h-1v-1h-2v1h-2v-1h-1v1h-1v-1h-14v1h-1v-1h-2v1h-1v-1h-3v1h-1v-1h-5v1h-2v-1h-2v4h-1v-3h-1v-1h-2v1h-1v-1h-2v1h-1v-1h-6v1h-1v-1h-23v1h-1v-1h-5v1h-2v-1h-5v1h-1v-1h-6v1h-1v-1h-8v1h-1v-1h-5v1h-2v-1h-1v1h-1v-1h-7v1h-1v-1h-1v1h-1v-1h-8v1h-1v-1h-2v-1h-2v1h-1v1h-6v-1h-5v1h-1v1h-1v-2h-4v1h-1v1h-1v-2h-1v1h-1v-1h-1v1h-1v-1h-1v1h-1v-1h-2v1h-1v-1h-7v1h-1v1h-2v-1h-5v1h-1v-3h-1v1h-7v1h-1v1h-1v-2h-12v1h-1v-1h-1v1h-1v-1h-7v1h-2v-1h-3v1h-3v-1h-6v1h-1v-1h-1v2h-1v-2h-3v1h-1v-1h-1v1h-4v1h-1v-1h-4v1h-1v-1h-2v-1h-2v2h-1v-2h-7v1h-1v-1h-1v1h-1v-1h-1v1h-2v2h-1v-2h-1v1h-3v-1h-3v-1h-1v2h-2v-1h-1v1h-1v3h-2v-5h-1v1h-1v-1h-5v1h-1v-1h-1v1h-2v-1h-2v2h-1v-2h-1v1h-1v2h-1v-3h-2v2h-1v1h-1v-2h-1v-1h-1v1h-1v2h-1v-1h-1v-1h-1v1h-1v-1h-2v-1h-1v1h-1v-1h-2v2h-2v-2h-1v1h-1v1h-1v-2h-2v1h-1v-1h-1v1h-5v-1h-1v1h-1v2h-2v-1h-2v-2h-1v3h-1v-1h-1v-1h-2v-1h-1v3h-1v-2h-2v-1h-1v3h-1v-2h-2v1h-1v-1h-2v1h-1v-1h-2v-1h-1v3h-1v-2h-1v-1h-1v1h-1v1h-1v-1h-1v-1h-2v1h-3v-1h-1v1h-1v-1h-1v3h-1v-3h-1v2h-1v-2h-1v1h-2v-1h-1v1h-3v1h-1v-1h-2v3h-1v3h-1v-1h-1v-4h-1v4h-1v-2h-1v-1h-1v-1h-2v5h-1v-5h-1v5h-1v-5h-1v1h-1v1h-1v-2h-1v10h-1v7h-1v-5h-1v4h-1v-9h-1v6h-1v34h-1v-15h-1v-9h-1v-4h-1v-7h-1v-4h-1v46h-1v-31h-1v3h-1v-8h-1v4h-1v5h-1v-9h-1v3h-1v19h-1v-2h-1v-12h-1v12h-1v2h-1v36h-1v-27h-1v-19h-1v-18h-1v4h-1v35h-1v-36h-1v45h-1v-11h-1v2h-1v-40h-2v-4h-1v1h-1v7h-1v-11h-1v2h-1v7h-1v39h-1v-28h-1v17h-1v17h-1v15h-1v-14h-1v-15h-1v-28h-1v46h-1v6h-1v-2h-1v-29h-1v4h-1v62h-1v-24h-1v-36h-1v15h-1v-30h-1v119h-2v-117h-1v24h-1v36h-1v-54h-1v23h-1v-19h-1v-19h-1v49h-1v-38h-1v4h-1v24h-1v2h-1v-14h-1v-26h-1v86h-1v-50h-1v-51h-1v-5h-1v2h-1v-3h-1v6h-1v-3h-1v30h-1v-26h-1v-6h-1v-1h-2v1h-1v8h-1v-10h-1v1h-1v1h-1v-1h-2v-2h-1v6h-1v-2h-1v-3h-2v-1h-1v2h-1v-2h-2v-1h-1v5h-1v-4h-2v4h-1v-1h-1v-1h-1v-2h-1v2h-1v5h-1v-1h-1v-5h-1v3h-1v-1h-1v2h-1v2h-1v-5h-1v-1h-1v1h-1v1h-1v-3h-1v-1h-7v1h-1v-1h-1v2h-1v-2h-8v1h-1v-1h-4v2h-1v-1h-1v1h-1v-1h-1v-1h-3v2h-1v-2h-2v1h-1v-1h-1v1h-1v-1h-2v1h-1v-1h-7v1h-1v-1h-3v1h-1v1h-1v-2h-3v1h-2v-1h-2v1h-1v-1h-2v1h-2v-1h-9v1h-1v-1h-1v1h-1v-1h-1v1h-2v-1h-8v1h-1v-1h-1v2h-1v-2h-4v1h-1v-1h-8v1h-1v-1h-10v1h-1v1h-1v-1h-2v-1h-13z"/>
<path fill="#006400" d="M50 1432h1v-1h1v1h10v-1h2v1h2v1h5v-1h1v-1h1v1h35v1h2v-1h2v-1h1v1h8v-1h1v1h3v-1h1v1h1v-1h1v1h3v-1h1v1h3v-1h1v1h1v-1h1v1h1v-1h1v1h2v-1h1v1h4v-1h1v1h1v-1h4v1h12v-1h1v1h4v-1h1v1h8v-1h1v1h4v-1h1v1h7v-2h1v2h9v-2h1v2h7v-1h1v1h2v-1h1v1h1v-1h1v1h17v-2h1v1h1v1h8v-1h1v1h14v-1h1v1h1v-1h1v1h7v-1h1v1h1v-1h1v1h4v-1h1v1h3v-1h1v1h1v-2h1v1h3v1h29v-1h1v1h1v-1h1v1h2v-1h1v1h11v-1h2v1h8v-1h1v1h4v-1h1v1h14v-1h1v1h4v-1h2v1h3v-1h1v1h9v-2h1v2h8v1h3v-1h1v1h2v-1h6v-1h1v1h16v-1h1v1h4v-1h1v1h4v-1h1v1h34v-1h1v1h4v-1h1v1h11v-1h1v1h2v-1h2v1h1v-1h1v1h3v-1h2v1h3v-2h1v2h1v-1h1v1h3v1h6v-1h7v-1h2v1h15v1h1v-2h4v1h1v-2h1v2h2v-1h1v1h3v-1h1v1h3v-2h1v1h1v1h4v-1h1v1h6v-1h2v1h4v-1h1v1h3v-1h1v1h10v-1h6v-1h1v3h2v-1h2v-1h1v1h4v-1h3v2h2v-2h1v1h7v-1h1v1h7v-1h2v-1h1v2h8v-1h1v1h4v1h4v-1h1v1h2v-2h1v1h3v-1h1v1h9v-1h3v1h2v-1h2v1h3v-1h1v1h4v-1h2v1h1v-1h1v1h10v-2h1v2h3v-1h1v1h6v-1h1v1h6v-1h1v1h2v-1h1v1h10v-2h1v2h1v-2h1v2h5v-1h1v1h1v1h4v-1h1v1h1v-1h5v-1h1v1h4v-1h1v1h1v-1h1v1h2v-1h1v1h1v-1h1v1h1v-1h1v1h16v-1h1v1h1v-1h1v1h2v-1h1v1h7v-1h2v1h2v-1h1v1h1v-1h1v1h1v-2h1v1h1v1h5v-1h1v1h4v-1h1v1h4v-2h1v2h1v-1h1v1h3v-1h1v1h3v-1h1v1h15v-1h1v1h7v-1h2v1h5v-1h1v1h3v-1h1v1h4v-1h1v1h2v-2h1v2h4v-2h1v2h2v-2h1v2h11v-1h1v1h4v-1h1v1h2v-1h1v1h2v-1h1v1h2v-1h1v1h4v-1h1v1h1v-1h1v1h1v-1h1v1h3v-1h1v1h7v-1h1v1h3v-1h1v1h2v1h1v-1h3v-2h1v2h1v-1h2v1h4v-2h1v2h2v-1h1v1h1v-1h1v1h3v-1h1v2h1v-1h1v1h3v-1h8v-1h2v1h4v-1h1v-1h1v2h4v-1h1v1h1v-1h1v1h8v-1h1v1h9v-1h1v1h3v-1h1v1h10v-1h1v1h2v-1h1v1h4v-1h1v1h11v-1h1v1h3v-1h1v1h1v-1h1v1h1v-1h3v1h2v-1h1v1h3v-2h1v2h11v-2h1v1h2v2h6v-1h6v-1h1v1h7v-1h1v1h1v-2h1v2h17v-1h1v1h3v-1h1v1h19v-1h1v1h3v-1h1v1h1v1h3v-1h1v-1h1v2h3v-1h2v-1h1v1h3v-1h1v1h4v-2h1v2h3v-1h1v1h3v-1h1v1h11v-1h1v1h4v-1h1v1h5v-1h1v1h2v-1h1v2h1v-2h1v1h6v-2h1v2h2v-1h1v1h1v-1h2v1h1v-1h1v1h3v-1h1v1h5v-1h3v1h22v-1h5v1h15v-2h1v2h5v-1h1v1h8v-1h1v1h7v-1h1v1h11v-1h1v1h3v-1h1v1h13v-1h1v1h2v-2h1v2h2v-1h1v1h11v-1h1v1h7v-1h1v1h3v-1h1v1h1v-1h1v1h16v-1h3v1h1v-1h1v1h1v-1h1v1h3v-2h1v2h4v-1h2v1h2v-1h2v1h6v-1h1v1h3v-1h1v1h2v-1h1v1h5v-1h1v1h2v-1h1v1h4v-1h1v1h19v-1h3v1h4v-1h2v1h5v1h8v-1h6v-1h2v1h4v-1h1v1h6v-1h2v1h17v-1h2v1h1v-1h1v1h2v-1h1v1h1v2h-2v1h-1v-1h-6v1h-1v-1h-1v1h-1v-1h-1v1h-1v-1h-1v1h-1v-1h-25v1h-1v-1h-1v1h-1v-1h-2v1h-4v1h-2v-1h-2v-1h-1v1h-1v-1h-7v1h-1v-1h-6v1h-1v-1h-4v1h-2v-1h-2v1h-1v-1h-2v1h-2v-1h-1v1h-1v-1h-1v1h-1v-1h-15v1h-1v-1h-2v1h-1v1h-1v-2h-16v2h-1v-2h-11v1h-1v-1h-4v1h-1v-1h-1v2h-1v-2h-13v2h-1v-2h-4v2h-1v-2h-2v2h-1v-2h-1v1h-1v-1h-2v1h-2v-1h-1v1h-2v-1h-11v1h-2v-1h-3v1h-1v-1h-2v1h-1v-1h-4v1h-1v-1h-2v1h-1v-1h-2v1h-2v-1h-2v2h-1v-2h-7v1h-1v-1h-12v1h-1v-1h-1v1h-2v-1h-1v1h-1v-1h-2v1h-1v-1h-3v1h-1v-1h-11v-1h-1v1h-1v-1h-2v1h-1v1h-2v-1h-28v1h-1v-1h-4v1h-1v-1h-7v1h-2v-1h-4v1h-1v-1h-4v1h-1v-1h-2v1h-1v-1h-2v1h-1v-1h-9v1h-2v-1h-5v1h-1v-1h-4v1h-1v-1h-8v1h-1v-1h-4v1h-2v1h-1v-1h-5v-1h-6v1h-1v-1h-2v2h-1v-1h-2v-1h-8v1h-1v-1h-1v1h-2v-1h-10v1h-1v-1h-10v1h-1v-1h-3v1h-1v-1h-5v1h-1v-1h-1v1h-1v-1h-6v1h-6v-1h-1v-1h-2v2h-1v-1h-3v1h-1v-1h-22v1h-1v-1h-1v1h-2v-1h-3v1h-2v-1h-1v1h-1v-1h-12v1h-1v-1h-3v2h-1v-2h-16v1h-1v-1h-1v1h-2v-1h-9v1h-1v-1h-2v1h-1v-1h-4v1h-1v-1h-1v1h-1v-1h-5v1h-2v-1h-3v1h-4v1h-1v-2h-8v2h-1v-2h-3v1h-1v-1h-2v1h-1v-1h-1v1h-1v-1h-2v2h-1v-1h-1v-1h-9v1h-1v-1h-17v2h-1v-1h-1v-1h-3v1h-1v-1h-7v1h-1v-1h-8v1h-1v-1h-3v1h-2v-1h-2v1h-1v-1h-3v1h-1v-1h-1v2h-1v-2h-6v1h-1v-1h-6v1h-1v-1h-2v-1h-1v1h-4v1h-1v-1h-2v2h-1v-1h-1v-1h-18v1h-1v-1h-6v1h-1v-1h-22v1h-1v-1h-1v1h-1v-1h-4v1h-3v-1h-5v1h-1v-1h-10v1h-1v-1h-3v1h-1v-1h-3v1h-1v-1h-7v1h-1v-1h-8v1h-1v1h-1v-1h-2v2h-1v-2h-1v-1h-4v1h-2v1h-1v-2h-12v1h-2v-1h-3v1h-1v-1h-10v1h-2v-1h-2v1h-1v-1h-2v1h-1v-1h-9v1h-1v-1h-12v1h-1v1h-1v-2h-12v1h-1v-1h-5v1h-5v1h-1v-1h-1v-1h-3v1h-1v-1h-4v1h-2v-1h-9v1h-1v-1h-3v1h-2v-1h-1v1h-1v-1h-3v1h-1v-1h-1v2h-1v-1h-1v-1h-2v-1h-1v1h-6v1h-3v-2h-6v1h-1v2h-1v-2h-1v1h-1v-1h-4v1h-1v-1h-6v1h-2v-1h-2v1h-1v-1h-5v1h-1v-1h-6v1h-1v-1h-3v1h-1v-1h-1v1h-1v-1h-1v1h-1v-1h-4v1h-2v-2h-1v2h-1v-1h-1v-1h-1v2h-1v-1h-1v1h-1v-1h-5v1h-1v-1h-8v2h-1v-2h-1v1h-1v1h-1v-1h-1v-1h-1v1h-1v-1h-1v1h-4v1h-1v-1h-1v-1h-2v1h-1v-1h-1v1h-1v-1h-9v1h-1v-1h-2v1h-1v-1h-12v1h-1v-1h-3v1h-1v1h-1v-2h-1v1h-1v-1h-1v1h-2v-1h-2v1h-1v-1h-2v1h-1v-1h-2v1h-1v-1h-2v1h-1v-1h-8v1h-1v-1h-9v1h-1v-1h-4v1h-1v-1h-6v1h-1v-1h-19v1h-6v1h-1v-1h-3v-1h-1v1h-1v-1h-13v1h-1v-1h-2v1h-1v-1h-4v1h-1v-1h-1v1h-1v-1h-4v1h-1v-1h-1v1h-1v-1h-2v1h-1v-1h-8v1h-1v-1h-7v1h-1v1h-1v-1h-1v-1h-6v1h-1v-1h-5v1h-1v-1h-2v1h-1v-1h-5v1h-1v-1h-6v1h-1v-1h-1v1h-1v-1h-1v1h-2v-1h-4v1h-1v-1h-1v1h-1v-1h-1v1h-1v-1h-6v-1h-4v1h-2v1h-1v-1h-1v1h-1v-1h-2v1h-1v-1h-11v1h-1v-1h-4v1h-1v-1h-9v1h-2v-1h-7v1h-2v-1h-3v1h-2v-1h-3v1h-1v-1h-1v2h-1v-2h-7v1h-1v-1h-2v1h-1v-1h-6v1h-1v-1h-2v1h-1v-1h-2v1h-2v-1h-2v1h-2v-1h-12v1h-1v-1h-8v2h-1v-2h-5v1h-1v-1h-2v1h-2v-1h-4v1h-1v-1h-5v1h-1v-2h-2v1h-10v1h-1v-1h-1v1h-2v-1h-10v1h-1v-1h-3v1h-1v-1h-10v1h-1v-1h-1v1h-1v1h-1v-2h-5v1h-1v-1h-1v1h-2v-1h-8v1h-1v-1h-3v1h-1v-1h-2v1h-1v-1h-5v1h-2v-1h-1v1h-1v-1h-2v1h-5v2h-1v-3h-3v1h-1v-1h-1v1h-1v-1h-6v1h-1v-1h-1v1h-1v-1h-1z"/>
<path fill="#000000" d="M50 1462h4v-2h1v2h1v-1h2v-1h1v2h13v-2h1v2h9v-1h1v1h4v-1h1v1h1v-2h1v2h2v-1h1v1h8v-1h2v1h44v-2h1v2h1v-1h1v1h3v-1h1v1h16v-1h1v1h2v-1h1v1h2v-2h1v2h2v-2h1v2h1v-1h1v-1h2v2h10v-1h1v1h3v-1h1v1h3v-2h1v1h1v1h1v-2h1v2h1v-2h1v2h2v-2h3v-1h2v3h3v-1h1v1h7v-1h2v1h2v-1h1v-2h1v3h3v-1h2v1h6v-2h1v2h2v-3h1v3h2v-3h1v2h1v-1h1v2h2v-1h1v-1h1v1h2v-1h1v2h2v-2h1v2h1v-2h1v1h3v1h5v-1h1v-3h1v4h1v-1h1v1h1v-1h1v-1h1v-3h1v3h1v1h1v-1h1v1h1v1h1v-4h1v4h1v-1h1v1h12v-2h1v1h1v1h7v-1h1v1h7v1h1v-1h1v1h3v-2h1v1h7v-1h1v1h1v-1h1v1h22v-1h1v1h7v-1h1v1h2v-1h1v1h2v-2h1v2h11v-1h1v1h8v-1h2v1h3v-1h2v1h2v-1h1v1h2v-2h1v1h1v1h2v-1h1v1h5v1h2v-1h12v-1h2v1h13v-2h1v2h9v1h3v-1h9v-1h1v1h10v-1h1v1h9v-1h1v1h1v-1h1v1h8v-2h1v2h9v-1h1v1h3v-1h1v-1h1v2h10v-1h1v1h5v-1h1v1h41v-1h1v1h8v-1h1v1h7v-1h1v1h9v-1h1v1h19v-1h1v1h6v-1h1v1h4v-1h1v1h14v-1h3v1h3v-1h2v1h10v-1h1v1h4v-1h1v1h6v-1h1v1h7v-1h1v1h4v-1h1v1h14v-1h1v1h6v-1h1v1h7v-1h1v1h1v-1h1v1h7v-1h1v1h6v1h2v-1h4v-1h1v1h10v-1h1v1h21v-1h1v1h1v-1h1v1h5v-1h1v-6h1v7h7v-1h2v1h7v-1h1v1h1v-1h1v1h13v-1h1v1h12v-1h1v1h1v-1h1v1h6v-1h2v1h3v-1h1v1h16v-1h2v1h12v-1h1v1h12v-1h1v1h3v-2h1v3h3v-1h1v-1h2v1h2v-1h1v1h2v-2h1v2h1v-1h1v1h14v-1h2v1h5v-1h1v1h7v-1h1v1h3v-1h1v1h2v-1h1v-1h1v2h28v-1h1v1h11v-1h1v1h2v-1h1v1h1v-1h1v1h1v-1h1v1h2v-1h6v1h6v-1h1v1h5v-1h1v1h5v-2h1v1h1v1h3v-1h1v1h26v-1h1v1h1v-1h2v-1h1v-3h1v5h1v-1h1v1h4v-1h4v1h1v-2h1v1h1v1h6v-1h1v1h1v-2h1v1h2v1h4v-1h1v1h2v-1h1v1h5v-1h1v1h1v-1h1v1h5v-1h1v1h3v-1h1v1h2v-1h3v1h1v-2h1v2h2v-1h1v1h1v-1h1v1h2v1h1v-3h1v2h3v-1h3v1h1v-2h1v2h4v-1h1v1h2v-1h1v-1h2v2h4v-1h1v1h2v-5h1v5h5v-1h2v1h3v-1h3v1h2v-2h1v1h1v1h3v-1h1v1h2v-1h2v1h3v-1h1v1h1v-1h1v1h2v-1h3v1h1v-1h2v1h2v-1h1v1h3v-2h1v1h3v1h4v-1h1v1h7v-1h1v1h1v-1h1v1h2v-1h1v1h15v-1h1v1h3v-1h2v1h6v-1h1v1h5v-1h1v1h4v-1h1v1h4v-1h1v1h3v1h5v-1h3v-1h1v1h5v-1h1v1h6v1h1v-1h1v1h1v-2h1v-1h1v2h1v-1h1v1h2v-1h1v1h1v-1h1v-1h1v2h10v-1h1v1h16v-1h1v1h3v1h5v-3h1v2h4v-1h1v1h3v-1h1v1h10v-1h1v1h5v-1h1v1h2v-1h1v2h1v-1h1v1h2v-1h4v-1h1v1h7v-1h1v1h10v-1h1v1h1v-1h1v1h4v-1h1v1h4v-1h1v1h2v-1h2v1h1v-1h1v1h7v-1h1v1h8v-1h1v1h11v-1h1v1h6v-2h1v2h7v-1h1v1h2v-1h1v1h1v-1h1v-1h2v2h1v-2h1v2h14v-1h1v1h10v-2h1v2h6v3h-1v-1h-7v1h-1v1h-1v-2h-4v2h-1v-2h-9v1h-1v-1h-1v1h-2v-1h-3v2h-1v-1h-2v3h-1v1h-1v-4h-1v1h-1v-1h-1v2h-1v1h-1v-2h-1v-2h-1v1h-2v-1h-9v1h-1v-1h-1v2h-1v-2h-4v1h-2v-1h-4v1h-1v-1h-4v1h-2v-1h-7v1h-1v-1h-1v1h-1v-1h-2v1h-2v-1h-1v1h-1v-1h-4v1h-1v-1h-1v2h-1v-2h-8v1h-1v-1h-1v1h-1v-1h-1v1h-1v-1h-3v1h-1v-1h-8v-1h-1v1h-3v1h-1v1h-1v-1h-3v-2h-1v1h-3v1h-2v-1h-8v1h-1v-1h-4v1h-1v-1h-2v1h-3v-1h-1v1h-1v-1h-2v1h-6v-1h-4v2h-1v-2h-2v2h-1v-2h-4v1h-1v-1h-2v1h-1v1h-1v-1h-1v-1h-7v1h-1v-1h-1v1h-1v-1h-2v1h-1v-1h-1v1h-2v-1h-2v2h-2v-2h-1v-1h-2v2h-3v-1h-1v1h-4v-1h-2v1h-1v-1h-1v1h-1v-1h-1v1h-1v-1h-2v1h-1v-1h-1v1h-8v-1h-11v1h-1v-1h-2v1h-1v-1h-6v1h-1v-1h-2v1h-1v-1h-2v1h-1v-1h-3v1h-1v-1h-2v1h-1v-1h-3v1h-2v-1h-4v1h-1v-1h-1v1h-1v-1h-2v1h-1v-1h-6v2h-1v-1h-2v1h-1v-1h-2v-1h-1v1h-2v-1h-1v2h-1v-1h-2v-1h-1v1h-3v-1h-1v1h-1v1h-1v-2h-1v1h-1v2h-1v-2h-2v-1h-3v3h-1v-3h-1v2h-3v-1h-1v1h-2v-1h-1v1h-1v-2h-1v2h-1v-1h-1v-1h-2v1h-1v1h-3v-1h-1v1h-1v1h-1v-2h-1v-1h-4v3h-1v-2h-1v2h-1v-2h-1v-1h-1v1h-1v-1h-1v2h-2v-2h-1v1h-1v1h-1v-1h-1v-1h-2v1h-1v2h-1v-1h-1v-1h-1v1h-2v-2h-1v2h-1v-2h-1v1h-1v1h-1v-1h-3v1h-1v-2h-2v1h-2v-1h-2v1h-2v-1h-1v1h-2v1h-1v-1h-2v1h-1v-1h-2v1h-1v-2h-2v1h-1v-1h-3v1h-1v-1h-2v1h-1v-1h-1v2h-2v-2h-1v2h-1v1h-2v-1h-1v-1h-1v2h-1v-1h-1v-2h-1v1h-1v-1h-1v1h-1v-1h-1v1h-1v1h-1v-2h-1v1h-1v1h-2v-2h-1v1h-1v-1h-1v1h-1v1h-1v-2h-1v1h-1v1h-3v-2h-2v3h-1v-3h-1v2h-1v-2h-7v1h-2v-1h-2v2h-1v-2h-1v1h-1v-1h-7v1h-1v-1h-3v1h-1v-1h-12v1h-1v-1h-4v2h-1v-2h-4v2h-1v-1h-1v-1h-3v1h-1v-2h-1v2h-1v-2h-3v1h-9v1h-2v-1h-1v1h-1v-1h-4v1h-1v-1h-9v1h-1v-1h-5v2h-1v-2h-2v1h-1v-1h-2v1h-1v-1h-4v1h-1v-1h-6v1h-1v-1h-2v1h-1v-1h-4v1h-1v-1h-2v1h-1v-1h-3v1h-1v-1h-4v1h-1v-1h-8v1h-1v-1h-14v1h-1v-1h-3v1h-4v-1h-9v1h-1v-1h-2v1h-1v-1h-2v1h-1v-1h-2v1h-1v-1h-2v1h-1v-1h-1v1h-1v-1h-3v1h-2v-1h-1v1h-1v-1h-18v1h-1v-1h-5v1h-1v-1h-7v1h-2v-1h-1v1h-2v-1h-5v2h-1v-1h-1v-1h-7v1h-2v1h-1v-2h-1v1h-1v-1h-5v1h-3v-1h-6v1h-3v-1h-1v2h-1v-1h-1v1h-1v-2h-8v2h-1v-2h-3v1h-1v-1h-10v1h-1v-1h-13v1h-1v-1h-1v2h-1v-2h-2v1h-1v-1h-3v2h-1v-1h-1v-1h-9v1h-1v-1h-1v1h-1v-1h-15v1h-1v-1h-3v1h-1v-1h-1v1h-2v-1h-2v1h-1v-1h-5v1h-1v-1h-7v1h-1v-1h-6v1h-1v-1h-4v1h-1v-1h-5v1h-1v-1h-18v1h-1v1h-1v-2h-15v1h-3v-1h-5v1h-1v-1h-5v1h-2v-1h-2v1h-1v-1h-3v1h-2v-1h-1v2h-1v-2h-6v2h-1v-2h-1v2h-1v-2h-1v1h-1v-1h-2v1h-2v-1h-12v1h-1v-1h-6v1h-1v-1h-5v1h-1v-1h-1v1h-1v-1h-9v2h-1v-2h-1v1h-1v-1h-8v1h-1v-1h-1v1h-1v-1h-8v2h-1v-2h-4v1h-1v-1h-6v1h-1v-1h-5v1h-1v-1h-10v1h-1v-1h-1v1h-1v-1h-5v1h-1v-1h-9v1h-1v-1h-1v1h-1v-1h-6v1h-1v-1h-2v1h-1v-1h-2v1h-1v-1h-4v1h-1v-1h-1v1h-1v1h-1v-1h-1v1h-1v1h-1v-1h-1v-1h-2v-1h-7v1h-1v-1h-7v2h-1v-2h-20v1h-2v1h-1v-2h-4v1h-1v-1h-1v1h-1v-1h-3v1h-1v-1h-3v1h-2v-1h-9v1h-1v-1h-8v1h-2v-1h-2v1h-1v-1h-1v1h-2v-1h-2v1h-1v-1h-1v1h-1v-1h-10v1h-1v-1h-1v1h-4v-1h-1v1h-1v-1h-1v1h-1v-1h-12v1h-1v-1h-1v1h-1v-1h-2v1h-1v-1h-5v1h-7v-1h-5v1h-2v-1h-5v1h-1v-1h-3v1h-1v-1h-1v1h-1v-1h-1v1h-1v1h-1v-2h-3v1h-1v-1h-3v3h-1v1h-1v-2h-1v3h-2v-5h-1v2h-1v-2h-1v3h-1v3h-1v-5h-4v3h-1v-2h-1v-1h-2v-1h-1v2h-2v1h-1v-2h-2v-1h-1v1h-2v2h-1v-2h-1v2h-1v-2h-1v2h-1v1h-1v-4h-1v1h-2v2h-2v-3h-1v1h-1v-1h-1v2h-2v1h-1v-3h-2v1h-1v1h-1v-2h-1v2h-1v2h-1v-3h-2v-1h-2v1h-1v1h-2v-1h-1v-1h-4v1h-1v-1h-2v1h-1v-1h-2v1h-2v2h-1v-2h-1v1h-1v-1h-2v-1h-1v3h-1v-2h-1v2h-1v-2h-1v1h-2v-1h-1v-1h-2v2h-1v-1h-1v2h-1v-3h-1v2h-1v-2h-1v1h-1v1h-1v-1h-2v1h-1v-1h-1v1h-2v-1h-1v1h-2v-2h-3v1h-1v2h-4v-2h-1v2h-3v-3h-1v1h-2v-1h-2v2h-1v-2h-1v1h-2v-1h-4v1h-2v-1h-6v-1h-1v1h-2v1h-1v-1h-1v1h-1v-1h-2v1h-1v-1h-2v1h-2v1h-1v-2h-8v1h-1v-1h-11v2h-1v-2h-1v1h-2v-1h-2v1h-1v-1h-5v1h-1v-1h-11v1h-1v-1h-1v1h-2v-1h-1v1h-1v-1h-5v2h-1v-2h-2v1h-1v-1h-3v1h-2v1h-1v-2h-1v1h-1v-1h-3v1h-2v-1h-9v1h-2v-1h-3z"/>
<path fill="#ff0000" d="M50 1492h5v-2h1v2h2v-1h1v1h4v-1h1v1h6v-1h4v1h2v-1h1v1h7v-1h1v1h3v-1h2v2h3v-1h1v1h2v-1h21v-1h2v1h2v-1h1v1h2v-1h1v1h3v-1h1v1h6v-1h1v1h1v-1h1v1h3v-1h1v1h6v-2h1v-1h1v1h2v-1h1v2h1v-1h1v2h1v-1h1v1h1v-2h2v1h1v2h2v-1h1v-3h1v1h1v2h6v-1h2v1h2v-1h1v1h5v-2h1v-4h1v2h1v3h3v-1h3v1h1v1h1v-2h1v-5h1v4h4v1h1v1h1v-2h1v1h1v-5h1v5h2v-1h1v1h1v-1h1v-2h1v-1h1v1h1v1h2v1h2v-6h1v6h2v-1h1v-1h1v3h1v-3h1v-2h1v5h2v1h1v-7h1v6h2v-4h1v2h1v-7h1v5h1v-1h1v3h1v1h1v2h2v-1h2v-5h1v5h1v1h1v-2h2v-5h1v4h2v1h1v1h1v-5h1v5h1v-1h1v-3h1v-4h1v-1h2v8h1v2h1v-4h1v-1h1v-3h1v2h1v5h1v-14h1v6h1v5h1v-7h1v5h1v-10h1v6h1v-2h1v3h1v-5h1v-1h1v6h1v-2h1v4h1v-4h1v-5h1v15h1v-3h1v1h1v-1h1v1h3v2h1v-2h1v-4h1v7h1v-4h1v-3h1v2h1v-17h1v2h1v4h1v1h1v-14h1v18h1v-37h1v25h1v-4h1v11h1v-5h1v5h1v-12h1v4h1v-23h1v29h1v13h1v-7h1v5h1v-8h1v3h1v-37h1v40h1v3h1v-4h1v-2h1v-7h1v-6h1v-14h1v6h1v15h1v-8h1v11h1v-3h1v10h1v-1h1v-2h1v-1h1v-1h1v4h1v-9h1v-36h1v-4h1v51h1v-67h1v-4h1v44h1v27h1v-8h1v-4h1v-36h1v40h1v3h1v3h1v-4h2v-10h1v1h1v15h2v2h1v1h1v-6h1v-2h2v7h1v-4h1v4h1v-1h1v-27h1v30h1v-4h1v1h1v-2h1v3h1v2h1v-2h1v3h1v1h1v-2h1v-3h1v-2h1v2h1v4h1v-6h1v1h1v3h1v-2h1v4h1v2h1v-9h1v4h1v2h1v-3h1v-2h1v1h1v1h1v3h1v3h2v-1h2v-3h1v1h1v-1h1v2h2v2h1v-3h1v3h2v-5h1v2h1v2h1v-2h1v2h1v1h3v-2h1v1h1v-3h1v2h2v1h2v-3h1v2h1v-1h1v4h1v-3h1v3h1v-2h1v-2h1v4h2v-3h2v3h5v-1h1v1h3v-1h1v-1h1v1h1v1h1v-1h1v1h1v-1h1v1h1v-1h1v-2h1v3h2v-2h1v2h2v-1h1v-3h1v4h3v-1h1v1h1v-3h1v2h1v1h2v-1h1v1h1v-1h1v1h2v-2h1v2h6v-1h3v2h1v-2h1v1h1v-2h1v2h1v-1h1v-1h1v1h1v1h5v-2h1v1h2v1h4v-1h1v2h1v-1h3v-2h1v1h1v1h1v-2h1v2h1v-1h2v1h1v-2h1v1h3v-1h2v1h2v1h3v-1h3v1h1v-1h1v-1h1v2h1v-2h1v2h2v1h1v-3h1v2h1v1h1v-2h1v-1h3v2h3v-1h1v1h7v-1h1v1h1v-2h3v2h1v-2h2v2h1v-1h1v1h1v-2h1v1h1v1h1v-2h1v2h1v-2h2v2h1v-1h3v1h3v-1h1v1h1v-2h2v2h2v-1h2v1h3v-1h1v1h4v-1h1v1h2v-1h2v1h1v-2h1v2h2v-1h2v1h3v-1h1v1h2v-2h1v2h4v-2h1v2h1v-1h1v-1h1v2h1v1h2v-1h1v1h2v-3h1v1h1v1h1v-2h2v1h2v1h3v-2h1v2h2v-1h1v-1h1v2h2v-2h1v2h1v-1h1v-1h1v2h1v-1h2v-1h1v2h1v-1h1v1h3v-2h1v1h2v1h4v-2h1v2h1v-1h3v-1h1v1h1v1h1v-1h2v1h3v-1h2v1h1v-2h1v2h2v-1h2v1h2v-9h1v8h1v1h1v-1h2v1h4v-2h2v2h1v-3h1v2h2v1h2v-2h1v-5h1v6h1v-2h2v3h1v-1h1v1h3v-3h1v2h2v1h1v-7h1v6h2v1h1v-1h1v1h3v-1h2v1h3v-3h1v1h1v1h1v-1h1v1h1v-1h1v-6h2v-4h1v-1h1v3h1v4h1v-2h1v-15h1v13h1v-1h1v-22h1v19h1v-4h1v-9h1v8h1v-7h1v18h1v6h1v-5h1v3h1v-4h1v-14h1v-5h1v-11h1v-47h1v26h1v32h1v-4h1v7h1v18h2v2h2v-4h1v-9h1v-3h1v13h1v2h1v-11h1v8h2v-12h1v7h1v12h2v1h1v-1h1v1h2v-1h1v-1h2v2h2v-1h1v1h2v-1h2v-2h1v1h1v2h1v-3h1v2h2v-2h1v1h1v2h1v-1h2v-2h1v1h1v2h2v-3h1v2h1v1h3v-2h1v2h3v-3h1v1h1v1h2v1h1v-1h5v1h2v-1h1v1h2v-1h1v1h2v-2h1v1h2v-1h1v2h2v1h2v-1h2v-1h1v-2h1v3h3v-1h1v-1h1v2h3v-5h1v-2h1v-2h1v1h1v5h3v-3h1v1h1v-1h1v6h1v-1h1v-1h1v2h1v-3h2v1h1v2h4v-1h1v-2h1v-30h1v-15h1v-41h1v20h1v28h1v-11h1v33h2v3h1v-23h1v31h1v-4h2v5h1v-7h1v2h2v-8h1v7h1v-11h1v7h1v3h1v-29h1v8h1v-6h1v8h1v16h1v1h1v-15h1v-8h1v27h1v2h1v7h1v1h1v1h1v-5h1v2h1v-1h1v-1h1v3h1v1h1v2h4v-3h1v3h1v-2h1v2h1v-2h1v-1h1v3h1v-1h2v1h2v-1h1v-2h1v3h1v-1h3v-1h1v1h1v1h1v-1h1v1h1v-2h1v-1h1v3h6v-2h1v2h5v-2h1v1h3v1h2v-1h1v-1h1v2h7v-1h1v-1h1v2h5v-3h1v1h1v2h1v-2h1v1h1v-1h1v2h2v-2h3v2h1v-1h1v-1h1v2h1v-1h3v-2h2v1h3v1h1v-1h1v2h1v-1h3v1h3v-2h1v1h1v1h1v-1h1v-1h1v2h1v-2h1v1h1v1h2v-2h1v2h1v-3h1v2h1v1h3v-1h1v-1h1v2h1v-1h1v1h3v-1h2v1h5v-1h3v1h3v-1h5v1h4v-1h1v1h1v-2h2v2h1v-2h2v2h1v-2h2v1h2v1h1v-1h1v1h2v-2h1v2h1v-1h1v1h1v-2h1v1h1v1h1v-2h1v1h3v1h2v1h2v-2h1v-1h3v2h4v-1h1v-1h3v-2h1v4h2v-1h1v1h2v-5h1v3h1v1h1v1h1v-2h1v-2h1v-1h1v-1h1v1h1v3h1v2h1v-2h1v-1h1v-5h1v4h1v-3h1v3h1v-5h1v1h1v1h2v-4h1v8h1v-2h1v1h1v-7h1v2h1v1h1v3h1v-4h1v-2h1v5h1v-2h1v4h1v-3h1v2h1v1h1v-1h1v-4h1v3h1v3h1v-1h1v2h1v-5h1v4h1v-7h1v5h2v-6h1v-3h1v4h2v-4h1v4h1v-1h1v1h1v3h1v3h2v-6h1v-4h1v5h1v-9h1v13h1v-14h1v8h1v-6h2v10h1v-4h1v-7h1v3h1v7h1v3h1v1h1v-1h1v2h1v3h1v-1h1v-2h1v1h2v2h1v-1h2v1h1v-1h1v1h5v-1h3v1h12v-1h1v1h2v-1h1v1h7v-1h1v1h1v-2h1v2h3v-1h1v1h2v-1h1v1h5v-1h5v1h1v-1h1v-1h1v1h1v-3h1v1h1v-1h1v-1h1v4h2v-2h1v1h3v-3h1v3h2v-1h2v-1h1v2h1v1h1v-5h2v1h4v-13h1v10h1v3h1v-1h1v1h1v-6h1v3h1v-8h1v3h1v4h1v3h1v1h1v3h1v-2h2v-18h1v-32h1v20h1v4h1v17h1v-2h1v-22h1v21h1v-43h1v-6h1v27h1v17h1v-1h1v-15h1v-3h1v17h1v-2h1v1h1v-17h1v21h1v3h1v-2h1v-42h1v24h1v-2h1v-7h1v7h1v7h1v16h1v-1h1v7h1v-9h1v12h1v-5h1v1h1v5h1v-4h1v-3h1v12h1v-1h3v2h1v-2h2v1h1v-1h1v1h1v1h3v-1h1v1h2v-1h1v1h1v-5h1v4h1v1h1v-1h1v-1h1v2h1v-1h1v1h1v-2h1v2h5v-1h1v1h1v-1h2v1h3v-2h1v1h1v1h2v-2h1v2h1v-1h2v-1h1v2h31v-1h1v1h5v-1h1v1h4v-1h1v1h1v-1h1v1h2v-1h1v1h1v-1h1v1h7v-2h1v2h2v-1h1v1h9v-1h1v1h3v-1h1v1h8v-1h2v1h8v-1h1v1h2v-2h1v2h2v-2h1v2h1v-1h1v1h1v-1h2v1h1v-1h1v1h4v2h-8v1h-1v-1h-2v1h-1v-1h-3v1h-2v-1h-5v1h-1v-1h-2v1h-2v-1h-2v1h-1v-1h-1v1h-1v-1h-9v1h-3v-1h-3v1h-1v-1h-7v2h-1v-2h-3v2h-1v-1h-1v-1h-7v1h-1v-1h-4v1h-1v-1h-1v1h-2v-1h-3v1h-1v-1h-4v1h-1v-1h-6v1h-1v-1h-3v1h-2v-1h-1v1h-1v-1h-3v1h-1v-1h-1v1h-1v-1h-1v2h-1v-2h-1v1h-2v-1h-3v1h-1v-1h-1v2h-2v1h-1v-2h-1v-1h-1v1h-2v1h-2v-2h-1v2h-1v-2h-1v1h-2v1h-1v-1h-1v1h-1v-2h-4v1h-2v-1h-1v3h-1v-2h-1v1h-1v-1h-1v-1h-1v1h-1v-1h-1v3h-1v-2h-1v1h-2v1h-1v-3h-2v2h-1v3h-1v-1h-1v1h-1v-3h-1v5h-1v1h-1v8h-1v2h-1v-8h-2v12h-1v14h-1v-3h-1v-11h-1v31h-1v-17h-1v13h-1v-19h-1v-8h-1v43h-1v-11h-1v-21h-1v1h-1v2h-1v2h-1v-5h-1v8h-1v13h-1v-21h-1v-11h-1v2h-1v55h-1v-19h-1v64h-1v-107h-1v2h-1v-4h-1v13h-1v7h-1v15h-1v30h-1v-57h-1v-19h-1v-1h-2v1h-1v-2h-1v4h-1v-3h-1v2h-1v2h-1v1h-1v-3h-1v-1h-1v-2h-1v6h-2v-4h-2v-2h-1v1h-1v2h-2v-2h-1v-1h-1v3h-2v1h-1v-1h-1v-1h-1v-2h-1v1h-1v1h-1v-1h-1v1h-1v3h-1v-4h-1v1h-1v1h-1v-2h-2v-2h-1v1h-1v1h-2v-2h-1v-1h-3v4h-1v-4h-1v1h-1v1h-1v-1h-1v3h-2v-2h-1v-1h-1v-1h-2v4h-1v-3h-2v-1h-1v1h-1v-1h-2v1h-3v-1h-3v2h-1v-1h-1v-1h-2v1h-1v-1h-4v1h-1v1h-1v-1h-3v-1h-2v1h-1v-1h-1v1h-1v1h-4v-1h-1v-1h-3v2h-1v-2h-1v1h-2v3h-1v-3h-1v3h-1v2h-1v3h-1v2h-1v6h-1v-2h-1v-4h-3v11h-2v-4h-1v17h-1v-27h-1v-2h-1v5h-1v9h-1v-5h-1v-4h-1v-2h-2v2h-1v-4h-1v4h-1v-1h-1v-3h-1v7h-1v-8h-1v10h-1v-7h-1v3h-1v-8h-1v1h-1v9h-1v-9h-1v-2h-1v11h-1v-8h-1v2h-1v-2h-1v-1h-1v2h-2v-1h-1v2h-1v2h-1v3h-1v-6h-1v-1h-1v2h-1v4h-1v-2h-1v-4h-2v-2h-1v5h-1v-1h-1v1h-1v3h-1v-2h-1v-4h-2v-3h-1v6h-1v-6h-1v2h-1v-2h-1v1h-1v3h-1v1h-1v-2h-2v-3h-2v-2h-1v1h-1v3h-1v-5h-2v2h-1v4h-1v-4h-1v-1h-1v1h-1v-1h-1v-1h-1v2h-1v-2h-1v1h-2v2h-1v-3h-2v4h-1v-2h-1v2h-2v-2h-1v-1h-1v1h-2v-1h-1v1h-1v1h-1v-1h-1v-1h-2v-1h-1v1h-1v2h-1v-2h-6v1h-1v-2h-1v2h-2v-2h-1v3h-1v-2h-1v1h-1v-1h-1v-1h-1v1h-1v1h-1v1h-1v-3h-1v1h-2v1h-1v1h-1v-3h-1v3h-1v-2h-1v-1h-2v3h-1v-2h-2v3h-1v-4h-1v1h-1v-1h-1v1h-1v-1h-2v1h-1v-1h-1v3h-1v-2h-1v2h-1v1h-1v-1h-1v-3h-1v1h-1v-1h-2v1h-1v-1h-1v2h-1v-1h-1v2h-1v-3h-1v3h-1v-3h-1v2h-1v1h-1v-2h-4v-1h-1v2h-1v-2h-2v2h-1v2h-1v-2h-1v-2h-1v2h-1v-1h-1v1h-1v-1h-1v2h-2v-3h-2v2h-1v-2h-1v1h-1v3h-1v-3h-1v1h-1v-1h-3v-1h-2v4h-1v-4h-1v2h-1v-1h-2v-1h-1v1h-1v-1h-2v3h-1v-3h-1v2h-2v-1h-2v-1h-1v3h-1v-2h-1v-1h-1v1h-1v2h-1v1h-2v-3h-1v1h-1v-1h-3v1h-2v-1h-1v-1h-1v1h-1v3h-1v-3h-1v-1h-2v1h-1v-1h-1v2h-1v1h-1v-3h-1v1h-1v3h-1v-3h-1v-1h-3v4h-1v-3h-4v2h-1v-2h-1v-1h-1v1h-1v1h-1v-2h-1v1h-1v2h-1v-1h-2v-1h-1v-1h-1v4h-3v3h-1v-3h-1v3h-1v-5h-2v2h-1v17h-1v-5h-1v21h-1v-7h-1v-7h-1v1h-1v1h-1v15h-1v-9h-1v1h-1v-18h-1v26h-1v-16h-1v-5h-1v14h-1v-14h-1v-3h-1v10h-1v-8h-1v-4h-1v13h-1v-5h-1v51h-1v-30h-1v-6h-1v11h-1v39h-1v-37h-1v50h-1v48h-1v-93h-1v-18h-1v-34h-1v-1h-2v1h-1v-2h-3v2h-1v-3h-1v1h-2v3h-1v-2h-1v5h-1v-3h-3v3h-1v-4h-1v3h-1v-1h-1v1h-2v-4h-2v-1h-1v-1h-1v1h-1v1h-1v1h-1v-2h-1v1h-1v-2h-1v4h-1v-3h-3v2h-2v-2h-1v1h-1v-2h-1v3h-1v-2h-1v3h-1v-4h-2v1h-1v2h-1v-3h-1v1h-1v3h-1v-2h-2v-1h-2v1h-1v2h-1v-2h-1v2h-1v-2h-1v-2h-2v1h-2v2h-1v-2h-1v2h-1v1h-1v-4h-1v4h-1v-3h-1v-1h-1v1h-2v-1h-1v1h-2v1h-1v-1h-3v2h-1v-3h-1v4h-1v-3h-3v3h-1v-1h-1v1h-1v-1h-1v-1h-1v1h-1v-3h-3v1h-1v-1h-1v2h-1v1h-1v2h-1v10h-1v-6h-1v5h-2v-7h-1v4h-1v-6h-1v4h-1v-1h-2v-4h-1v7h-1v-2h-1v12h-1v-6h-1v18h-1v35h-1v-18h-1v-30h-1v-3h-1v14h-1v-24h-1v4h-1v-1h-1v-6h-1v1h-1v4h-1v-1h-1v10h-1v3h-1v-10h-1v4h-1v-7h-1v6h-2v-7h-4v9h-1v-10h-1v3h-1v-8h-1v2h-2v-2h-1v-1h-2v3h-1v-3h-2v2h-1v-2h-1v2h-2v-1h-1v-1h-1v3h-1v-1h-1v1h-2v-1h-1v-2h-1v2h-1v-2h-1v1h-1v-1h-1v4h-1v-4h-1v2h-1v-2h-1v2h-1v-2h-1v9h-1v-7h-1v1h-1v-3h-1v1h-1v1h-1v-2h-2v2h-1v1h-1v-2h-1v-1h-2v1h-3v-1h-2v4h-1v-2h-1v1h-1v-3h-2v3h-1v-3h-3v1h-1v2h-1v-3h-1v1h-1v-1h-1v3h-1v-2h-2v1h-1v-2h-2v2h-1v-1h-3v-1h-6v1h-1v-1h-1v1h-1v2h-1v-3h-1v1h-1v1h-2v-2h-2v1h-2v2h-1v-1h-1v1h-1v-2h-3v-1h-2v2h-1v-1h-1v-1h-2v2h-1v-2h-1v1h-3v2h-1v-2h-1v2h-1v-1h-2v1h-2v-2h-1v-1h-1v3h-1v-2h-1v2h-1v-2h-3v-1h-2v1h-1v-1h-1v2h-1v-2h-2v2h-1v-1h-1v1h-1v-1h-1v2h-1v-2h-1v2h-1v-3h-1v1h-1v2h-1v-1h-1v-1h-3v2h-1v-2h-1v1h-1v1h-1v-2h-1v-1h-1v1h-3v-1h-1v1h-2v-1h-3v1h-2v1h-1v-2h-3v1h-3v-1h-1v2h-1v-1h-1v1h-1v-1h-1v-1h-1v1h-1v-1h-1v1h-5v-1h-1v2h-1v-2h-2v3h-1v-3h-2v1h-1v-1h-2v1h-2v1h-2v-2h-1v3h-1v-2h-2v2h-1v-1h-1v-1h-1v2h-1v-1h-1v1h-2v-3h-1v1h-2v-1h-1v1h-2v-1h-1v1h-1v2h-1v-3h-1v1h-1v1h-2v-2h-3v2h-1v-1h-1v-1h-1v2h-1v-1h-1v2h-1v-1h-1v-1h-1v-1h-1v1h-1v2h-1v-2h-3v2h-2v-2h-1v1h-1v-2h-2v3h-2v-2h-1v-1h-2v1h-2v-1h-1v2h-2v1h-1v-3h-1v3h-1v-2h-2v-1h-3v1h-1v-1h-2v2h-1v-1h-2v-1h-2v4h-1v1h-1v-3h-1v-1h-2v-1h-1v3h-1v-2h-1v1h-1v-1h-1v-1h-1v1h-2v3h-1v-1h-1v-2h-1v-1h-2v2h-1v2h-1v-4h-2v2h-1v-1h-2v2h-1v-3h-1v3h-1v-1h-1v1h-1v-1h-1v-2h-2v2h-1v-2h-1v2h-2v-2h-1v4h-1v-2h-1v-1h-3v5h-1v-5h-1v-1h-1v4h-1v-3h-1v1h-1v-1h-1v-1h-1v3h-1v1h-1v1h-1v-2h-2v1h-1v-2h-3v1h-2v2h-1v-3h-1v2h-1v-2h-1v-1h-1v5h-1v1h-1v-4h-1v2h-1v-1h-1v2h-1v2h-1v-4h-1v2h-1v-4h-1v1h-2v10h-1v-1h-1v-4h-2v2h-1v-3h-1v3h-1v-7h-1v1h-1v3h-1v1h-1v9h-1v-7h-1v-6h-1v8h-1v1h-2v-6h-1v2h-1v-6h-1v4h-1v-3h-1v3h-1v1h-2v-4h-1v-1h-1v12h-1v-10h-3v-1h-1v1h-1v1h-1v-2h-1v-1h-1v2h-1v-1h-1v1h-1v18h-1v3h-1v-16h-2v2h-1v1h-1v-4h-1v1h-1v5h-1v25h-1v-31h-1v15h-1v16h-1v-17h-1v-16h-1v36h-1v-33h-2v1h-1v23h-1v-23h-1v-6h-1v1h-1v4h-1v2h-1v-2h-1v10h-1v6h-1v8h-1v-5h-1v-5h-1v-4h-1v-7h-1v-3h-1v2h-1v-4h-1v51h-1v-53h-1v6h-1v3h-1v-1h-1v-4h-1v5h-1v15h-1v-16h-1v14h-1v1h-1v-16h-1v27h-2v-21h-1v11h-1v-15h-1v4h-1v7h-1v-6h-1v4h-1v-8h-1v-10h-1v4h-1v-2h-1v-5h-1v1h-1v1h-1v-2h-1v2h-1v-1h-1v1h-1v-1h-1v1h-1v-1h-3v6h-1v-1h-2v-3h-1v8h-1v-9h-1v4h-1v-3h-1v4h-1v-1h-1v6h-1v-11h-1v-1h-1v5h-1v-1h-1v3h-1v-6h-1v3h-1v-3h-1v1h-1v-2h-1v1h-1v4h-1v-1h-1v4h-1v-5h-1v-4h-1v1h-1v6h-1v-6h-1v8h-1v-1h-1v-8h-1v4h-1v-3h-1v5h-1v-6h-1v1h-2v2h-1v-1h-1v5h-1v-6h-3v4h-1v1h-1v-2h-1v-3h-1v3h-1v3h-1v-6h-1v5h-1v-6h-1v1h-1v-1h-2v3h-2v4h-1v-5h-3v1h-1v-1h-1v-1h-2v1h-1v2h-1v-2h-2v1h-1v-2h-2v5h-1v-5h-2v2h-1v-2h-1v2h-1v-2h-1v2h-2v-1h-1v1h-1v-2h-1v-1h-1v1h-1v-1h-1v8h-1v-7h-3v5h-1v-5h-2v5h-1v-8h-2v1h-1v-1h-1v2h-1v1h-2v-2h-1v-1h-2v1h-1v-1h-1v2h-1v1h-1v-3h-1v1h-1v1h-1v-2h-2v2h-1v-1h-2v1h-1v-1h-1v1h-1v-2h-1v2h-1v-2h-1v1h-2v-1h-2v4h-1v-2h-1v-1h-1v-1h-5v1h-1v-1h-3v1h-1v-1h-1v1h-1v-1h-4v1h-1v-1h-1v1h-1v-1h-1v1h-1v-1h-15v1h-2v-1h-3v1h-2v-1h-9v1h-3v1h-1v-1h-2v-1h-3v1h-1v-1h-2v1h-1v-1h-7v1h-1v-1h-1v-1h-3v2h-2v-1h-4v1h-1v-1h-9v1h-1v-1h-4z"/>
<path fill="#0000ff" d="M50 1522h4v-1h1v1h1v-1h1v1h1v-1h1v1h7v-1h1v1h2v-1h1v1h5v-2h1v2h2v-1h2v1h4v-1h2v1h4v-1h1v1h1v1h5v-1h1v1h1v-2h1v1h2v-1h1v-1h1v2h3v-1h1v1h8v-1h1v1h4v-1h1v1h3v-1h2v1h10v-1h1v1h20v-1h1v1h7v1h2v-1h1v1h5v-2h1v2h1v-2h1v1h6v-1h1v1h15v-2h1v2h3v-1h2v1h6v-1h1v1h5v-1h1v1h15v-1h1v1h10v-1h2v1h1v-2h1v-2h1v4h2v-1h1v1h1v-1h2v1h1v-1h1v-2h1v3h1v-1h2v-1h1v1h3v-2h1v3h1v-4h1v1h1v1h1v-1h1v2h1v-1h3v-6h1v5h1v-1h2v3h2v-3h1v1h1v-1h1v-3h1v-1h2v3h1v2h1v-4h1v-2h1v5h1v-1h1v-1h1v-1h2v-14h1v-8h1v10h1v9h1v-4h1v3h1v-6h1v-9h1v9h1v-3h1v7h1v5h1v-1h1v-7h1v5h1v-1h1v2h1v1h1v4h1v-7h1v-4h1v4h1v2h1v2h1v-10h1v4h1v3h1v-66h1v-36h1v-36h1v60h1v-60h1v50h1v57h1v-107h1v50h2v60h1v-67h1v72h1v-39h1v-16h1v-6h1v-39h1v42h1v-23h1v36h1v-5h1v-65h1v50h1v40h1v-53h1v86h1v8h1v-68h1v61h1v12h1v2h1v7h1v-1h1v-17h1v18h1v-2h3v-7h1v5h1v4h1v-1h3v-1h1v1h1v-3h1v2h1v-8h1v13h1v-5h1v5h2v-1h5v-5h1v2h1v3h2v1h1v-1h1v1h1v-1h1v1h1v-4h1v3h2v1h1v-2h1v-2h1v4h2v-6h1v-8h1v-2h1v4h3v11h1v-1h1v-3h1v5h2v-1h1v1h2v-5h3v-11h1v8h1v4h1v4h1v-3h1v4h1v-2h1v1h1v1h4v-3h1v-2h1v5h2v-1h2v-3h1v4h1v-2h3v1h1v-1h1v1h1v-3h1v4h1v-2h1v2h1v-3h1v3h1v-1h1v-1h1v2h2v-2h2v1h2v1h11v-1h1v1h2v-1h1v1h6v-1h1v1h19v1h1v-1h2v1h1v-1h4v-1h1v1h4v-1h1v1h6v-1h2v1h1v-1h1v1h3v-1h1v1h2v-1h1v1h19v-1h1v1h2v-2h1v2h2v-1h1v1h1v-1h1v1h1v-1h2v1h7v-1h1v1h2v-1h1v1h5v-1h1v1h4v-1h1v1h3v-1h2v1h11v-1h1v1h2v-1h2v1h7v-1h1v1h15v-1h1v1h6v-1h1v1h5v-1h2v1h1v-1h1v1h1v-1h1v1h1v-1h1v1h3v-1h1v1h3v-1h1v1h1v-2h1v1h1v1h1v-1h1v1h3v-1h3v1h3v-1h1v1h2v-1h1v1h5v-1h1v1h3v-1h3v1h3v-4h1v1h1v3h5v-1h1v1h1v-1h1v1h2v-2h1v-1h1v2h1v-1h2v-1h2v3h3v-1h1v1h1v-5h1v5h2v-2h1v2h3v-2h1v1h1v1h2v-3h1v-1h1v4h1v-1h1v1h1v-5h1v2h1v1h1v-1h2v1h1v1h1v-4h2v2h1v1h2v2h1v-4h1v1h2v2h2v-1h1v-2h1v-1h1v-1h1v1h1v2h1v2h2v-1h1v-2h1v2h2v-1h1v2h1v-2h1v1h1v-1h1v1h1v1h1v-1h1v1h1v-1h3v-2h1v3h2v-1h1v-2h1v1h2v-2h1v2h1v2h1v-1h2v1h1v-1h3v1h1v-1h1v1h1v-1h1v-4h1v1h1v-7h1v3h1v-5h1v8h1v1h1v-3h1v4h1v-3h1v3h1v-4h1v-1h1v-8h1v9h2v2h1v3h1v-5h1v5h2v-2h1v-3h1v1h1v4h1v-19h1v-3h1v-20h1v-3h1v5h1v-48h1v-46h1v58h1v5h1v7h1v-2h1v44h1v-63h1v43h1v-102h1v48h1v-50h4v58h1v34h1v-2h1v6h1v44h1v4h1v-8h1v4h1v2h1v3h1v-7h1v10h1v-8h1v2h1v-12h1v9h1v-4h1v4h1v-22h1v25h1v-15h1v14h1v-2h1v5h1v1h1v-5h1v-3h1v-3h1v1h1v-20h1v15h1v-3h1v-23h1v24h1v-18h1v-2h1v12h1v3h1v4h1v-19h1v36h1v2h1v-7h1v4h1v5h1v-1h4v-1h1v-7h1v7h1v-4h2v3h1v1h1v1h1v-2h1v-1h1v3h1v-6h1v4h2v2h1v1h1v-1h2v-8h1v8h3v-2h2v-1h1v4h1v-2h1v1h1v1h1v-3h1v2h1v1h1v-2h1v1h1v-3h1v1h2v2h1v-2h1v1h1v-2h1v3h1v-2h1v-1h1v1h1v1h1v-3h2v4h1v-1h1v2h3v-4h1v3h3v-2h2v2h1v1h1v-1h4v-2h1v-2h1v5h1v-3h1v4h1v-3h1v3h1v-5h1v4h1v1h2v-1h1v1h2v-4h1v2h1v2h1v-5h1v5h1v-3h1v3h1v-4h1v4h1v-1h2v1h1v-2h1v-3h1v5h4v-1h1v1h6v-2h1v1h1v-1h1v1h1v-2h1v1h1v2h8v-1h2v1h1v-1h2v1h1v-1h1v1h5v-1h2v1h3v-1h6v1h1v-1h1v1h5v-2h1v2h2v-1h1v1h1v-1h1v1h5v-1h1v1h1v-1h1v1h1v-1h2v1h3v-2h1v2h2v1h1v-1h1v-1h1v1h3v-1h1v1h6v-1h1v1h1v-1h1v1h1v-1h2v1h13v-2h1v2h3v-1h1v1h1v-1h2v1h2v-1h1v1h1v-1h1v2h1v-2h1v1h5v-1h2v1h5v-1h1v1h6v-1h1v1h1v-1h1v1h2v-1h1v1h6v-3h1v2h5v1h1v-1h1v1h1v-1h3v1h3v-2h1v2h5v-1h2v1h4v-1h1v1h1v-1h1v1h1v-1h3v1h5v-1h1v1h3v-1h1v1h3v-1h2v1h7v-1h1v1h2v-1h1v1h1v-1h1v1h1v-1h1v1h1v-1h1v2h8v-1h2v-1h1v1h3v-1h2v1h1v-3h1v2h2v1h1v-1h1v1h2v-2h1v2h2v-1h2v1h2v-2h1v2h1v-1h1v1h1v-1h1v1h1v-1h2v1h1v-1h1v1h5v-1h1v1h3v-1h1v1h2v-1h1v1h1v-1h1v1h1v-1h1v1h1v-1h2v1h3v-1h1v1h1v-2h1v2h2v-1h3v1h1v-2h1v1h1v1h2v-1h1v1h2v-2h1v2h2v-2h1v2h1v-1h2v1h1v-2h1v1h2v-1h1v2h2v-1h2v1h3v-2h1v2h2v-2h1v2h3v-1h2v1h1v-1h1v-2h1v1h2v1h1v1h1v-1h4v1h5v-1h1v1h1v-1h1v1h1v-1h3v-2h1v2h2v-1h2v1h3v1h1v-3h1v3h1v-2h1v2h1v-3h1v2h1v1h1v-1h2v1h2v-1h1v-1h1v2h1v-2h1v2h4v-2h1v1h1v1h3v-3h1v1h3v2h1v-1h1v1h2v-1h1v-2h1v1h1v-1h1v2h1v-1h1v-1h1v3h5v-2h1v-1h1v3h1v-2h1v2h1v-1h1v1h2v-1h1v1h3v-1h3v-1h1v2h2v-1h1v1h2v-1h1v1h1v-1h1v1h1v-1h4v1h2v-1h1v1h2v-1h2v-3h1v1h1v3h1v-2h1v2h3v-1h1v-2h1v3h1v-5h1v5h1v-1h1v1h1v-1h1v-1h1v2h2v-2h1v2h1v-1h1v1h2v-1h1v1h1v-1h2v-2h1v-2h1v4h1v1h9v-2h1v2h2v-1h2v1h2v-2h1v2h1v-5h1v-2h1v1h3v-1h1v5h2v-2h2v1h1v1h3v-3h2v4h1v-2h1v1h1v-3h1v1h1v-1h1v3h3v-2h1v10h-1v2h-1v-3h-1v-1h-1v1h-1v1h-1v1h-1v-2h-1v-1h-2v4h-1v-2h-1v-2h-1v7h-1v-6h-2v3h-2v-4h-1v3h-1v2h-1v2h-1v-3h-1v-1h-1v-1h-1v3h-1v-6h-2v-1h-1v1h-2v-1h-1v2h-1v1h-1v-3h-1v1h-2v-1h-1v2h-1v-2h-2v4h-1v-3h-1v1h-1v-2h-1v2h-1v-2h-2v3h-1v-1h-1v-1h-1v4h-1v-4h-1v-1h-1v1h-2v-1h-1v5h-1v-1h-1v2h-1v-6h-1v1h-1v1h-1v-1h-1v4h-1v-4h-1v3h-1v-3h-1v4h-1v-2h-1v-1h-1v-1h-1v5h-1v-3h-1v-3h-1v1h-1v2h-1v-2h-1v-1h-1v1h-1v-1h-1v3h-1v-3h-2v1h-1v-1h-1v1h-1v1h-1v-2h-1v3h-1v-1h-1v1h-1v-3h-2v1h-1v2h-1v-1h-1v-1h-1v2h-1v-1h-1v-2h-2v2h-1v-1h-1v1h-1v1h-1v-2h-1v1h-1v-2h-1v1h-1v-1h-1v4h-1v-2h-1v-2h-1v3h-1v-3h-1v3h-1v-1h-1v-1h-1v-1h-1v2h-1v-2h-2v2h-1v1h-1v-3h-1v1h-1v2h-1v-2h-2v1h-1v-2h-1v2h-1v-2h-1v2h-1v-1h-2v2h-2v-3h-1v4h-1v-2h-2v-2h-2v1h-2v1h-1v-2h-1v1h-1v-1h-2v1h-1v-1h-1v2h-1v-1h-1v-1h-1v3h-1v-3h-2v2h-1v2h-1v-4h-1v2h-1v1h-2v-3h-1v1h-3v3h-1v-4h-1v1h-1v1h-2v-1h-2v-1h-2v2h-1v-1h-1v2h-2v-3h-2v2h-1v-2h-1v2h-1v-2h-1v2h-1v-1h-3v2h-1v-1h-1v-2h-1v2h-1v-1h-1v3h-1v-4h-1v1h-1v-1h-1v1h-1v2h-1v-3h-2v3h-1v-2h-1v3h-1v-4h-1v2h-1v2h-1v-3h-1v-1h-3v1h-2v-1h-1v2h-3v-1h-2v-1h-1v2h-1v-2h-1v3h-1v-2h-1v2h-2v-2h-4v-1h-1v1h-2v1h-1v-1h-1v-1h-1v1h-3v-1h-1v1h-1v1h-5v-2h-1v1h-4v-1h-1v1h-1v1h-1v-1h-1v-1h-1v1h-1v-1h-1v2h-3v1h-1v-1h-1v-1h-1v-1h-3v1h-1v-1h-2v4h-1v-2h-1v-2h-1v2h-1v-2h-2v1h-1v-1h-3v1h-7v1h-1v-1h-2v1h-1v-1h-2v-1h-1v2h-2v-1h-2v1h-1v-1h-4v1h-1v-2h-1v1h-2v1h-1v-2h-2v1h-1v-1h-2v2h-3v-1h-1v1h-1v-2h-1v1h-1v1h-1v-1h-1v-1h-1v2h-1v-2h-1v1h-4v1h-1v-2h-1v1h-1v-1h-2v1h-4v-1h-1v1h-2v1h-2v-1h-2v-1h-1v1h-1v1h-1v-1h-1v-1h-2v2h-2v-2h-1v2h-1v-2h-3v2h-1v-1h-1v-1h-1v1h-4v-1h-2v2h-1v-2h-1v2h-1v-2h-1v1h-1v-1h-3v2h-1v-2h-1v2h-2v-1h-1v-1h-4v1h-1v-1h-1v1h-3v-1h-1v1h-2v-1h-2v2h-1v-1h-1v1h-3v-1h-3v-1h-3v1h-1v-1h-1v1h-2v-1h-1v1h-7v-1h-2v1h-1v1h-1v-2h-2v1h-1v1h-1v-1h-1v-1h-4v1h-4v-1h-1v1h-2v-1h-1v1h-3v1h-1v-2h-2v1h-1v1h-1v-1h-6v-1h-1v1h-3v-1h-2v1h-3v-1h-1v1h-1v-1h-1v2h-1v-2h-1v1h-2v-1h-1v2h-1v-2h-1v1h-1v-1h-2v1h-4v-1h-2v1h-3v-1h-1v2h-1v-2h-1v2h-1v-1h-3v1h-1v-1h-1v-1h-1v2h-1v-1h-3v-1h-1v2h-1v1h-1v-3h-2v1h-1v1h-2v-1h-1v-1h-2v2h-2v1h-2v-1h-1v-1h-1v-1h-1v2h-1v2h-1v-4h-1v5h-1v-1h-2v-1h-1v-3h-1v1h-3v3h-1v-4h-1v1h-1v4h-1v-3h-1v-2h-1v1h-1v-1h-1v4h-1v-4h-1v1h-1v3h-1v-1h-3v1h-1v-2h-1v1h-1v1h-1v-1h-2v1h-1v-2h-1v1h-4v-1h-1v2h-1v2h-3v-3h-1v1h-1v-1h-1v2h-2v4h-1v-3h-1v4h-1v-5h-1v2h-1v7h-1v-5h-1v-1h-1v-4h-1v3h-1v-1h-1v5h-1v5h-1v-11h-2v6h-1v-3h-1v-1h-1v9h-1v-11h-1v2h-2v-3h-1v8h-1v-7h-2v9h-1v-9h-2v-1h-1v9h-1v-5h-1v-3h-1v-1h-1v7h-1v-6h-1v1h-1v3h-1v-4h-1v-1h-2v-1h-1v-1h-1v7h-1v-5h-2v3h-1v4h-1v-5h-1v-2h-1v23h-1v9h-1v-23h-1v29h-1v-11h-1v-13h-1v-4h-1v9h-1v7h-1v-7h-1v4h-1v-10h-1v-6h-1v-4h-1v3h-1v-2h-1v1h-2v6h-1v-1h-1v-4h-1v23h-1v-25h-1v30h-1v-24h-1v4h-1v-12h-1v7h-1v-9h-1v2h-1v5h-1v-6h-1v4h-1v-1h-1v3h-1v-1h-1v11h-1v49h-1v-14h-1v54h-1v40h-2v-50h-1v20h-1v30h-2v-69h-1v19h-1v39h-1v-9h-1v-54h-1v74h-3v-33h-1v-49h-1v46h-1v-70h-1v21h-1v-43h-1v-17h-1v1h-2v2h-1v-4h-1v2h-1v-1h-1v-2h-1v12h-1v-8h-1v1h-1v3h-1v-3h-2v-2h-1v1h-1v6h-1v-7h-2v2h-2v7h-1v3h-1v-9h-1v-2h-1v-4h-2v-1h-1v4h-1v-3h-1v1h-1v5h-1v-3h-2v-1h-1v-3h-1v1h-1v7h-1v-5h-1v5h-1v-1h-1v-4h-1v-1h-1v2h-1v4h-1v-7h-1v10h-2v-7h-1v-3h-1v1h-1v-1h-1v9h-1v-6h-1v-1h-1v1h-1v-2h-2v3h-2v-3h-1v1h-1v4h-1v-2h-1v1h-1v3h-1v-6h-1v1h-1v1h-1v1h-1v-4h-1v1h-3v-3h-1v1h-1v3h-2v1h-1v-4h-1v1h-4v-1h-1v2h-1v-1h-1v-4h-3v2h-1v-1h-1v-1h-1v2h-1v2h-1v-4h-1v1h-1v2h-1v-1h-1v3h-1v-4h-1v-1h-2v5h-1v-3h-1v-2h-1v1h-1v2h-1v-2h-1v2h-1v-1h-1v-2h-1v1h-1v2h-1v-1h-3v-2h-1v1h-1v-1h-1v1h-1v2h-1v-2h-2v2h-1v1h-2v-3h-5v1h-1v-2h-1v4h-1v-3h-1v-1h-1v2h-1v-1h-2v2h-1v-3h-1v1h-1v1h-1v-1h-1v-1h-1v3h-1v-2h-1v2h-1v-2h-1v-1h-1v2h-1v-1h-1v-1h-2v2h-1v-1h-2v-1h-1v2h-2v-1h-1v-1h-1v1h-2v-1h-1v1h-1v1h-1v-2h-2v1h-1v-1h-5v1h-1v-1h-1v1h-8v-1h-2v1h-1v-1h-1v1h-1v-1h-1v1h-2v-1h-2v1h-3v-1h-1v1h-1v-1h-3v1h-2v-1h-3v1h-1v-1h-1v1h-3v-1h-1v1h-2v-1h-6v2h-1v-2h-1v1h-1v-1h-2v1h-1v-1h-1v1h-1v-1h-1v1h-1v-1h-3v1h-1v-1h-3v1h-3v-1h-1v1h-1v-1h-1v1h-4v-1h-5v1h-2v-1h-3v2h-1v-1h-2v1h-1v-1h-1v-1h-2v1h-1v-1h-1v1h-2v-1h-2v1h-3v-1h-1v1h-1v-1h-2v1h-3v-1h-6v1h-1v-1h-1v1h-1v-1h-3v1h-5v-1h-4v1h-1v-1h-4v1h-1v-1h-3v1h-1v1h-1v-1h-3v-1h-1v1h-1v-1h-3v1h-4v-1h-2v1h-2v-1h-1v1h-2v-1h-3v1h-1v-1h-2v1h-3v-1h-1v1h-2v-1h-4v1h-5v-1h-1v1h-5v-1h-1v1h-1v3h-1v-1h-1v-1h-1v2h-1v1h-1v-4h-6v-1h-1v1h-1v-1h-1v1h-1v4h-1v-1h-1v-2h-1v-1h-2v3h-3v1h-2v-4h-3v-1h-1v3h-1v-2h-1v1h-1v4h-1v5h-1v3h-1v-10h-1v3h-1v-3h-1v-2h-1v6h-1v-5h-1v-2h-1v2h-2v-1h-1v2h-1v1h-1v4h-1v-2h-1v-1h-1v-2h-1v-1h-1v2h-1v13h-1v-7h-1v-2h-1v-4h-1v1h-1v1h-1v7h-1v-11h-1v3h-1v-3h-1v4h-1v11h-1v-13h-1v4h-1v-2h-1v7h-1v-2h-1v-6h-1v8h-1v-6h-1v-2h-1v-2h-2v3h-1v-1h-1v3h-1v-3h-2v1h-2v5h-2v12h-1v1h-1v-16h-1v-1h-1v3h-1v13h-1v-13h-1v-4h-1v2h-1v-4h-1v4h-1v6h-1v6h-1v24h-1v39h-1v-71h-1v1h-1v70h-1v-29h-1v95h-4v-50h-1v-39h-1v56h-2v11h-1v-63h-1v-9h-1v36h-1v-14h-1v72h-2v-30h-1v-68h-1v98h-4v-110h-1v16h-1v-49h-1v7h-1v-3h-2v1h-1v-2h-1v4h-1v-6h-1v4h-1v-5h-1v6h-1v8h-1v-4h-1v-7h-1v5h-1v-4h-2v7h-1v-1h-1v11h-1v7h-1v-27h-1v3h-1v13h-1v38h-1v-4h-1v-12h-1v-41h-1v2h-1v2h-1v1h-1v1h-1v-6h-2v13h-1v-11h-1v9h-1v-3h-1v-5h-1v-1h-1v-1h-1v4h-1v-8h-1v4h-1v-2h-1v4h-1v-1h-1v4h-1v-8h-1v7h-2v-8h-1v1h-3v-1h-1v-2h-1v3h-1v-3h-2v3h-1v-2h-1v2h-1v1h-1v-3h-1v1h-1v-1h-1v-1h-1v1h-1v1h-1v2h-1v-4h-1v1h-1v2h-1v-3h-1v3h-1v-3h-1v4h-1v-1h-1v-2h-1v-1h-2v1h-1v-1h-1v1h-1v-1h-1v1h-1v-1h-7v1h-2v1h-1v-1h-3v-1h-1v1h-5v-1h-3v1h-2v-1h-3v1h-1v-1h-1v1h-1v-1h-6v1h-1v-1h-1v1h-1v-1h-2v1h-1v-1h-2v1h-1v-1h-12v1h-1v1h-1v-1h-9v1h-1v-1h-1v-1h-5v1h-1v-1h-3v1h-1v-1h-2v1h-1v-1h-8v1h-3v-1h-2v1h-1v-1h-7v2h-1v-1h-1v-1h-2v1h-1v-1h-8v1h-1v-1h-4v1h-2v-1h-1v1h-2v-1h-3v1h-1v-1h-5v1h-5v1h-1v-1h-2v1h-1v-2h-1v1h-2v-1h-3v1h-1v-1h-5v1h-1v-1h-1v1h-1v-1h-18v2h-1v-2h-3v2h-1v-2h-3z"/>
<path fill="#006400" d="M50 1548h1v1h2v-2h1v1h1v-1h1v3h1v-3h1v-1h1v1h2v-3h1v2h1v2h1v-1h1v2h1v1h1v-1h1v-1h1v-2h1v1h1v-2h1v2h1v-1h1v1h1v-1h1v3h1v1h1v-3h3v1h2v-1h1v2h1v1h1v-1h1v2h3v-1h1v2h1v-1h1v1h2v-1h1v1h1v-1h3v1h10v-1h1v1h5v-1h1v1h13v-1h1v1h2v-1h1v1h7v-1h2v1h7v-1h1v1h5v-1h1v1h7v-1h1v1h3v-1h1v1h1v-1h1v1h6v-1h2v1h4v-1h1v1h3v-1h2v1h10v-1h1v1h3v-1h1v1h4v-1h1v1h4v-1h1v1h2v-1h1v1h8v-1h1v1h1v-1h1v1h5v1h1v-1h1v1h4v-1h1v-2h1v2h11v-1h3v1h2v-1h2v1h6v-1h1v1h8v-1h1v1h4v-1h3v1h18v-1h1v1h4v-1h1v1h1v-1h1v1h3v-2h1v2h19v-1h1v1h2v-1h1v1h5v-1h1v1h7v-1h1v1h2v-1h2v1h5v-1h1v1h1v-1h2v1h1v-1h1v1h3v-1h1v1h4v1h2v-1h5v-1h1v1h4v-1h1v1h4v-2h1v2h2v-1h1v-1h1v2h3v-1h1v1h5v-1h1v1h4v-1h1v-1h1v2h1v-1h1v1h1v-1h1v1h1v-1h1v1h6v-2h1v2h9v-1h1v1h3v-1h2v1h6v-3h1v2h1v-1h1v1h2v-1h1v2h9v-1h1v1h1v-1h3v1h9v-1h1v1h6v-2h1v2h2v-1h1v1h2v-1h1v1h4v-1h1v1h5v-1h1v1h5v-1h1v1h2v-1h2v-1h1v1h2v1h2v-1h1v1h17v-1h1v1h1v-1h1v1h2v-2h1v2h4v-1h1v1h1v1h4v-4h2v1h1v1h1v-1h1v2h1v-3h2v2h1v-2h1v2h2v-2h2v1h2v2h2v-2h1v-1h3v1h1v1h2v-4h1v-5h1v8h1v-1h1v-5h1v5h1v-3h1v-4h1v7h2v-6h1v5h1v2h1v-8h1v9h1v-2h1v-5h1v7h2v-8h1v4h1v3h1v-5h1v6h1v-2h1v-5h1v7h1v-2h1v-2h1v3h1v-2h1v-2h1v1h1v3h1v-1h1v-3h1v5h1v-6h1v2h1v1h1v-2h2v3h1v1h1v-2h2v2h1v1h1v-5h1v5h1v-1h1v-2h1v-1h1v3h1v-1h1v1h1v-1h1v-3h1v4h1v1h1v-5h1v3h1v2h1v-3h1v2h1v-1h1v-2h1v-1h1v6h1v-5h2v1h1v-1h3v5h1v-2h1v-1h1v1h1v-2h1v3h1v-1h1v-2h1v1h1v-1h1v2h1v-2h1v-2h1v1h1v2h1v-1h2v1h1v1h1v-4h1v2h1v-1h1v5h1v-3h1v1h1v-3h2v1h1v-2h1v5h1v-3h1v2h1v-3h2v3h1v-2h2v1h1v-1h1v1h1v-2h1v1h1v-2h1v1h1v3h2v-2h1v3h1v-1h1v-2h1v2h2v-1h1v1h2v-2h1v-1h1v2h2v3h1v-3h1v1h1v1h1v-4h1v4h1v-1h1v-1h1v-2h1v4h1v-1h2v-1h1v2h1v-4h2v2h1v-1h1v2h1v-3h1v3h1v-1h1v-3h1v4h1v-1h1v-2h1v3h2v1h2v-1h1v-1h1v3h1v-2h1v-3h1v4h1v-5h1v3h1v-3h1v5h3v1h1v-3h1v3h1v-4h1v-1h1v2h2v-2h1v-1h1v1h1v4h1v-1h1v-3h2v2h1v-3h2v2h1v3h1v-2h1v3h1v-2h1v-2h2v-1h1v4h1v-3h2v1h1v1h1v-2h2v-1h1v2h1v1h1v-3h1v3h2v2h1v-4h2v-2h2v3h1v-1h1v-1h2v3h1v-3h2v5h1v-2h1v2h1v-1h1v-1h1v-4h1v3h1v1h1v-4h1v5h1v-3h1v2h1v-4h1v3h1v1h1v-3h1v-1h1v3h1v-1h1v-1h1v1h1v-1h1v1h1v3h2v-2h1v2h1v-2h1v1h1v1h1v-1h2v1h1v-2h1v-1h1v1h1v-1h1v-2h1v4h2v2h1v-3h2v1h1v-2h1v-2h1v2h1v-1h1v1h2v3h1v-4h1v5h1v-4h1v1h2v-2h2v2h1v1h2v-4h1v3h1v1h1v-1h1v-1h1v4h1v-4h3v1h1v-3h1v1h1v5h1v-4h1v2h1v-3h1v2h1v-2h1v4h1v-4h1v5h1v-4h1v2h1v1h2v-2h3v2h2v-3h1v-2h2v5h1v1h3v-4h1v-1h1v-1h1v3h1v2h1v-1h1v-2h1v2h1v-3h1v2h2v2h1v-2h1v1h1v1h2v-1h1v-2h1v1h1v-2h1v3h2v-3h1v4h1v-2h1v-2h2v2h1v1h1v1h2v-4h1v2h1v2h1v-1h2v-3h1v2h1v-1h1v-2h1v4h1v2h2v-4h1v-1h1v5h1v-2h1v1h1v-1h1v-1h1v-2h1v3h1v-2h1v-1h1v1h1v1h1v3h1v-2h2v-3h1v1h1v-1h1v1h1v2h1v-2h1v3h1v-3h1v3h1v-3h1v4h1v-5h1v3h1v-2h1v3h1v-1h2v-2h1v-1h1v1h1v2h1v-3h1v3h1v-2h1v-1h3v2h2v3h1v-3h1v-2h1v-1h1v1h1v3h1v-1h1v-1h1v3h2v-4h1v5h1v-2h1v-3h1v5h1v-1h1v-3h1v3h1v-3h1v-1h1v2h2v-2h1v2h1v-1h1v1h1v3h1v-3h1v3h1v-3h1v2h1v1h1v-1h1v-2h1v2h2v-2h2v2h2v-1h1v2h1v-1h1v-2h2v1h1v2h1v-3h2v2h1v1h1v-2h1v2h1v-2h1v-1h1v1h1v1h1v1h1v-1h2v1h3v-1h2v-1h2v1h3v-2h1v2h2v-1h3v2h1v-1h1v-2h1v1h1v1h5v-1h1v2h2v-3h1v2h1v-1h2v1h1v-1h1v1h1v-1h2v1h1v-1h1v1h1v-1h1v1h2v-1h1v1h3v-1h1v2h1v-1h2v-1h2v1h1v1h1v-1h1v-1h1v1h1v1h7v-1h1v1h1v-1h1v1h5v1h6v-1h2v-1h2v1h5v-1h1v1h1v-1h2v1h1v-1h1v1h3v-1h1v1h1v-1h1v1h3v-2h1v1h1v1h1v-1h1v1h12v-1h1v1h4v1h3v-2h1v1h1v-1h1v1h2v-2h1v2h1v-1h1v1h2v-1h2v1h10v-1h1v1h4v-1h1v1h3v-1h1v1h2v-2h1v2h1v-1h1v1h5v-1h1v1h5v-2h1v2h2v-2h1v2h1v-2h1v2h5v-1h1v1h3v-2h1v2h1v-1h1v1h1v-1h1v1h4v-1h1v1h4v-2h1v2h4v-1h1v1h4v1h1v-1h2v1h2v-1h1v-1h1v1h3v-2h1v2h6v-1h1v1h1v-1h1v1h8v-1h1v1h4v-2h1v2h3v-1h3v-1h1v1h2v1h1v-1h1v1h1v-1h3v1h1v-1h1v1h2v-1h1v1h1v-1h1v1h10v-1h1v1h3v-1h1v1h2v-1h1v1h8v-1h1v1h2v-2h1v2h1v-1h1v1h2v-1h1v1h1v-1h1v1h1v-1h1v1h2v-1h1v1h2v1h5v-1h5v-1h1v1h4v-1h1v1h4v-1h1v1h3v-1h2v1h11v-1h1v1h21v-1h3v1h4v-1h2v1h5v-1h1v1h2v-1h1v1h3v-1h1v1h4v-1h1v1h10v-1h1v1h3v-1h1v1h2v-1h1v1h5v-2h1v2h9v-1h1v1h6v-1h2v1h2v-1h1v1h2v3h-1v-1h-2v1h-3v-1h-7v1h-1v-1h-6v1h-2v-1h-6v1h-1v-1h-1v1h-1v-1h-1v1h-1v-1h-16v1h-1v-1h-7v1h-1v-1h-1v1h-1v1h-1v-2h-7v1h-2v-1h-3v1h-2v-1h-4v1h-2v-1h-1v1h-1v-1h-6v1h-2v-1h-2v1h-1v-1h-3v1h-3v-1h-9v1h-1v-1h-1v2h-1v-1h-1v-1h-3v1h-3v-1h-2v1h-1v-1h-1v1h-1v-1h-1v1h-1v-1h-2v1h-5v-1h-4v1h-1v-1h-1v1h-1v-1h-8v1h-3v-1h-1v1h-1v-1h-8v2h-1v-1h-1v-1h-2v1h-1v-1h-3v1h-1v-1h-11v1h-1v-1h-8v-1h-2v1h-1v-1h-1v1h-1v-1h-1v1h-1v2h-1v-2h-2v1h-1v-1h-1v1h-1v-1h-1v-1h-1v1h-1v1h-1v-1h-3v1h-1v-1h-11v1h-1v-1h-5v2h-2v-1h-3v-1h-9v1h-1v-1h-4v1h-1v-1h-2v1h-1v-1h-1v1h-1v-1h-4v1h-1v-1h-3v2h-1v-2h-1v1h-1v-1h-2v1h-1v1h-1v-1h-1v-1h-7v2h-1v-2h-2v1h-1v-1h-8v2h-1v-2h-2v2h-1v-2h-3v1h-1v-1h-1v2h-1v-2h-4v1h-1v-1h-2v1h-1v-1h-3v1h-1v-1h-7v2h-1v-1h-5v-1h-4v1h-1v1h-1v-2h-1v1h-1v-1h-3v2h-1v-2h-5v1h-2v-1h-5v1h-1v-1h-1v1h-3v-1h-5v1h-1v-1h-5v1h-1v-1h-1v1h-5v1h-1v-1h-3v-1h-1v1h-1v-1h-8v1h-2v-1h-2v1h-1v-1h-1v3h-2v-1h-3v-1h-3v2h-2v-3h-1v3h-1v-1h-2v1h-4v-2h-2v2h-3v-1h-1v1h-1v-2h-2v2h-2v-2h-2v2h-1v-1h-1v-1h-1v1h-1v-1h-1v1h-1v2h-1v-1h-2v-1h-2v-1h-1v1h-1v2h-1v-3h-2v3h-1v-1h-2v1h-1v-3h-1v1h-2v-1h-2v2h-2v-1h-1v-1h-1v2h-2v-2h-1v3h-1v-1h-3v1h-1v-3h-1v1h-2v-1h-1v2h-1v1h-1v-1h-1v-1h-1v-1h-1v1h-1v1h-1v1h-1v-2h-1v1h-2v-2h-1v4h-1v-4h-1v1h-2v2h-1v-3h-1v3h-1v2h-1v-2h-1v-3h-1v4h-1v-3h-2v3h-1v1h-1v-2h-3v-2h-1v3h-2v-1h-1v2h-1v-1h-1v-1h-2v1h-1v1h-1v-2h-1v-1h-1v3h-1v-1h-1v-2h-1v2h-2v-2h-2v3h-1v-1h-1v-1h-1v-3h-1v3h-1v-2h-1v5h-1v-2h-1v2h-1v-5h-1v1h-1v2h-1v-2h-2v4h-1v-6h-1v3h-3v-2h-1v3h-1v2h-1v-4h-2v2h-1v-2h-2v2h-1v-1h-1v-3h-2v3h-1v-2h-1v1h-2v3h-3v-2h-1v-3h-1v5h-1v1h-1v-4h-1v-2h-1v4h-2v-3h-1v2h-1v2h-1v-2h-2v2h-1v1h-1v-4h-1v-1h-1v5h-1v-5h-1v3h-1v-3h-1v2h-1v1h-1v2h-1v-5h-1v4h-1v-1h-1v1h-1v-3h-1v4h-1v-4h-1v3h-1v-1h-1v2h-2v-2h-1v-2h-2v-1h-1v4h-1v-1h-1v2h-1v-6h-1v4h-3v-1h-1v-3h-2v6h-1v-1h-1v-3h-1v3h-1v-3h-1v1h-1v1h-2v-2h-1v3h-1v-1h-1v-4h-2v1h-1v2h-1v-2h-1v2h-1v-2h-1v5h-1v-6h-1v6h-1v-4h-1v2h-2v-3h-2v3h-1v1h-1v-3h-2v-1h-1v1h-1v3h-1v-5h-1v1h-1v1h-1v1h-2v-1h-1v3h-1v-4h-2v1h-3v4h-1v-2h-3v-4h-2v6h-1v-1h-1v-1h-1v2h-1v-4h-1v3h-1v-1h-2v-2h-2v2h-1v-1h-1v-1h-1v2h-1v-3h-1v-1h-1v1h-1v-1h-1v3h-1v2h-1v-5h-2v6h-1v-3h-1v-2h-1v1h-1v-2h-1v5h-2v-3h-2v-1h-1v4h-4v-1h-1v-4h-1v6h-1v-2h-1v1h-1v-1h-1v-2h-1v-1h-1v2h-1v2h-1v-3h-1v-1h-1v-1h-1v2h-2v-1h-1v1h-1v-1h-1v4h-3v-4h-1v3h-1v1h-1v-1h-2v-2h-1v2h-1v-1h-1v1h-1v-2h-1v1h-1v3h-2v-6h-1v6h-1v-2h-1v2h-1v-3h-1v1h-1v-2h-2v3h-1v-3h-1v3h-1v-3h-1v4h-1v-6h-1v4h-1v2h-1v-3h-1v2h-1v-4h-1v3h-1v-2h-1v1h-2v-2h-1v2h-1v3h-1v-1h-1v1h-1v-2h-1v-3h-1v4h-1v-2h-3v-1h-1v3h-1v-2h-1v-1h-1v2h-4v-3h-1v4h-1v-5h-1v1h-1v4h-1v-4h-1v-1h-1v5h-2v-2h-1v2h-1v-3h-1v2h-2v-4h-1v5h-1v-4h-2v5h-1v-4h-1v2h-1v-2h-1v2h-1v-2h-1v3h-2v-2h-2v3h-2v-2h-1v1h-1v-2h-1v-2h-1v1h-2v1h-1v-3h-1v4h-1v-1h-1v-1h-1v-2h-1v4h-1v1h-1v-1h-1v-1h-2v2h-1v-5h-2v2h-1v1h-4v-2h-2v2h-1v-1h-1v2h-1v-4h-1v5h-1v-5h-1v3h-1v3h-1v-2h-1v1h-1v-2h-1v3h-1v-2h-1v-3h-1v-1h-1v4h-1v2h-2v-2h-1v-1h-1v2h-1v-1h-2v-3h-1v4h-1v-3h-1v2h-1v1h-2v-4h-1v2h-6v2h-1v1h-1v-3h-1v-1h-1v2h-1v-1h-1v-1h-1v2h-1v-1h-1v-2h-1v-1h-1v5h-1v-2h-2v1h-1v-1h-1v-1h-1v-1h-1v3h-3v-1h-1v2h-2v-1h-1v3h-1v-1h-1v7h-1v-11h-1v4h-1v-2h-1v-3h-1v5h-1v-1h-1v-3h-1v1h-2v3h-1v-6h-1v7h-1v-4h-1v-3h-1v9h-1v-9h-1v3h-1v5h-1v-4h-1v-3h-1v8h-1v-9h-1v6h-1v1h-1v-6h-1v2h-1v6h-1v-5h-1v-1h-1v5h-1v-5h-1v-2h-1v8h-1v-4h-1v-1h-1v3h-1v-6h-1v3h-1v-1h-1v-2h-1v1h-1v1h-1v-3h-1v3h-1v-3h-1v1h-2v1h-1v1h-1v-1h-2v1h-1v-1h-1v-2h-1v3h-1v-1h-2v-2h-1v1h-1v2h-1v-1h-2v-1h-1v-1h-1v1h-1v-1h-2v-1h-9v1h-1v-1h-12v1h-1v-1h-4v1h-1v-1h-1v1h-1v-1h-5v1h-1v-1h-4v1h-3v-1h-5v1h-1v-1h-1v1h-1v-1h-7v1h-1v-1h-9v1h-1v-1h-3v1h-2v1h-1v-2h-1v1h-1v-1h-3v1h-1v-1h-2v1h-1v-1h-4v2h-1v-2h-1v2h-1v-2h-1v-1h-1v2h-1v-2h-2v1h-1v-1h-1v1h-7v1h-1v-1h-2v1h-1v-1h-1v1h-2v-1h-4v1h-1v-1h-4v1h-2v-1h-1v1h-1v-1h-4v1h-2v-1h-3v2h-2v-2h-2v1h-3v-1h-5v1h-1v-1h-2v1h-2v-1h-5v1h-2v-1h-2v1h-1v-1h-7v1h-1v1h-1v-2h-2v1h-2v-1h-3v2h-1v-2h-1v1h-2v-1h-6v1h-1v-1h-1v1h-2v-1h-3v2h-1v-2h-4v1h-1v-1h-3v1h-1v-1h-2v1h-2v-1h-3v1h-1v-1h-7v1h-1v-1h-1v1h-3v-1h-5v1h-3v-1h-5v1h-1v-1h-3v1h-1v-1h-2v1h-1v-1h-3v1h-1v-1h-2v2h-1v-2h-4v1h-1v-1h-5v1h-1v-1h-2v1h-1v-1h-3v1h-1v-1h-5v1h-1v-1h-2v1h-2v-1h-5v2h-1v-1h-1v-2h-1v2h-1v-1h-2v1h-1v-1h-1v1h-1v-1h-1v1h-1v-1h-2v1h-1v-1h-1v2h-1v-2h-1v1h-5v1h-1v-1h-1v-1h-4v2h-1v-1h-2v-1h-1v1h-1v-1h-1v1h-1v-1h-1v2h-1v-2h-1v1h-1v-1h-2v1h-1v-1h-7v2h-1v-2h-3v1h-4v-1h-1v1h-1v-1h-4v1h-2v-1h-5v1h-1v-1h-4v1h-1v-1h-2v-1h-1v1h-7v1h-1v-1h-2v1h-1v-1h-2v1h-1v-1h-1v1h-1v-1h-1v1h-1v-1h-5v1h-1v-1h-8v1h-1v-1h-1v1h-1v-1h-12v1h-1v-1h-1v1h-2v-1h-5v1h-1v-1h-2v1h-1v-1h-1v1h-2v-1h-6v1h-2v-1h-2v1h-1v-1h-3v1h-3v2h-1v-2h-2v1h-1v1h-1v-2h-1v1h-1v-1h-1v1h-2v2h-1v1h-1v-2h-1v-1h-1v1h-1v5h-1v-5h-1v3h-2v-1h-1v-2h-1v3h-1v-1h-1v-1h-2v3h-1v-2h-1v1h-1v-2h-1v1h-1v-2h-1v1h-1v1h-2v-1h-1v3h-1v-3h-1v2h-1v-1h-1v-2h-1v5h-1v-4h-1v1h-1v2h-1v-3h-3v2h-1z"/>
<path fill="#000000" d="M50 1582h7v-2h1v2h16v-1h5v1h1v-1h1v1h4v-1h1v1h1v-1h1v1h6v-1h1v1h10v-1h1v1h2v-1h1v-1h1v2h4v-1h1v1h2v-2h1v2h3v-1h1v-1h1v2h8v-1h1v1h1v-1h1v1h1v-1h1v1h9v-1h2v-2h1v2h1v1h12v-1h1v1h1v-1h1v1h2v-1h1v1h10v-1h1v1h7v-1h1v1h4v-1h1v1h1v-1h1v1h5v-1h1v1h15v-1h1v1h4v-1h1v1h1v-1h2v1h5v-1h6v2h1v-1h1v1h4v-1h6v-1h1v1h8v-1h1v1h2v-2h1v2h12v-1h2v1h2v-1h1v1h16v-1h1v1h18v-1h1v1h4v-1h1v1h8v-1h1v-1h1v2h8v-1h1v1h2v-1h1v1h8v-1h1v1h9v1h1v-1h2v-2h1v2h4v-1h1v1h2v-1h1v1h2v-1h1v1h4v-1h1v1h13v-1h1v1h4v-1h1v1h2v-2h1v1h1v1h1v-1h1v1h1v-1h1v1h4v-1h2v1h12v-1h1v1h7v-1h1v1h6v-1h3v1h2v-1h2v1h13v-1h1v1h2v-1h1v1h9v-1h2v1h5v-1h1v1h6v-1h1v1h2v-1h2v1h1v-1h3v1h3v-1h1v1h5v-1h1v1h3v-1h1v1h3v-2h1v2h6v-1h1v1h7v-1h1v1h1v-1h1v1h2v-1h2v1h2v-1h2v1h2v-1h1v1h1v-1h2v1h2v-2h1v1h1v1h3v-1h3v1h1v-2h1v2h14v-2h1v2h12v-1h1v1h2v-1h1v1h21v-1h1v-1h1v2h5v-1h1v1h21v-1h1v1h11v-1h1v1h1v-2h2v2h3v-1h1v1h1v-1h1v1h1v-1h1v1h1v-1h2v1h15v-1h1v1h1v-1h2v1h5v-1h1v1h4v-1h1v1h4v-2h1v2h1v-1h1v1h5v-1h2v1h3v-1h1v1h3v-4h1v4h6v-1h1v1h12v-1h1v-1h1v2h1v-1h1v1h2v-1h1v1h4v-3h1v2h2v2h2v-1h1v1h1v-1h1v1h1v-1h4v-1h1v1h1v-1h1v1h1v-2h1v2h1v-2h1v2h1v-1h4v1h2v-2h1v1h1v1h17v-1h2v1h5v-1h2v1h1v-1h1v1h2v-2h1v2h14v-1h2v1h1v1h2v-1h1v-1h1v1h1v-1h1v1h7v-1h1v1h1v-1h1v1h3v-2h1v2h1v-1h1v1h8v-1h1v1h7v-1h1v1h2v-1h2v1h1v-1h1v1h1v-1h1v1h5v-1h1v1h1v-2h2v2h5v-1h1v1h1v-1h1v1h4v-1h1v1h11v1h3v-1h6v-1h1v1h50v-1h1v1h9v-1h1v1h1v-1h1v1h4v-1h2v1h3v-1h2v1h12v-1h1v1h4v-1h2v1h4v-1h3v1h6v-1h1v1h10v-1h1v1h6v-1h1v1h14v-2h1v2h9v-1h1v1h11v-2h1v2h1v-1h2v1h2v-1h1v1h7v-1h1v1h1v-1h1v1h1v-1h1v1h9v-1h1v1h1v-1h1v1h4v-2h2v2h1v-1h1v1h2v-1h1v1h3v-1h1v-2h1v2h2v1h1v-2h1v2h8v-3h1v3h1v-1h2v1h2v-1h2v1h1v-1h3v1h1v-1h1v1h2v-1h1v-2h1v2h1v1h1v-4h1v2h1v-2h2v1h1v-2h1v-2h2v7h1v-4h1v3h1v1h1v-4h1v3h6v-1h1v-20h1v11h1v-47h1v37h1v-1h1v-12h1v-14h1v-6h1v29h1v7h1v-71h1v-3h1v53h1v-19h1v28h1v-37h1v37h1v-19h1v12h1v9h1v-44h1v33h1v1h1v-2h1v-9h1v20h1v27h3v-2h1v1h1v2h2v-1h1v-1h1v-3h1v-6h1v2h1v3h1v6h1v1h1v-2h1v1h1v1h1v-1h1v-2h1v2h1v1h3v-2h3v-2h1v4h2v-2h1v-1h1v2h1v-2h1v3h4v-2h1v1h2v-2h1v3h1v-2h2v1h2v1h6v-1h1v1h3v-1h1v1h4v-1h1v1h2v-1h1v-1h1v2h10v-1h5v1h1v-1h1v1h5v-1h1v1h1v-1h1v1h3v-2h1v1h1v1h7v-1h1v1h1v-1h1v1h4v-2h1v2h4v-1h1v1h9v-1h1v1h2v-1h1v1h3v-1h2v1h8v-1h1v1h5v-1h1v1h4v-1h2v1h5v-1h1v1h2v-1h1v1h1v-2h1v2h1v-1h1v1h13v1h1v-1h2v-1h1v1h18v-1h1v1h5v-1h1v1h1v-1h1v1h2v-1h1v1h3v-1h1v1h3v-1h1v1h2v-1h1v1h8v-1h2v1h2v-1h3v1h1v-1h1v1h9v-1h2v1h2v-1h1v1h2v-2h1v2h1v-2h1v2h2v-1h1v1h1v-1h1v1h6v-1h1v1h10v-1h1v1h2v-1h1v1h3v1h2v3h-2v-1h-1v-1h-13v1h-1v-1h-4v1h-1v-1h-5v1h-1v-1h-8v1h-1v-1h-1v1h-2v-1h-6v1h-1v-1h-7v1h-1v-1h-4v1h-1v-1h-2v1h-1v-1h-1v1h-1v-1h-9v1h-1v-1h-1v1h-1v-1h-5v1h-1v1h-1v-2h-2v1h-2v-1h-5v1h-1v-1h-5v1h-1v-1h-2v2h-1v-1h-1v-1h-2v1h-1v-1h-2v1h-4v1h-1v-2h-7v2h-1v-2h-5v1h-2v-1h-8v1h-1v-1h-4v1h-1v-1h-5v1h-1v-1h-7v2h-1v-2h-1v1h-1v-1h-7v1h-2v-1h-4v1h-1v-1h-5v1h-1v-1h-3v2h-1v-2h-6v2h-1v-2h-2v1h-1v-1h-2v1h-1v-1h-3v1h-3v-1h-2v2h-1v-2h-1v1h-2v-1h-1v1h-1v-1h-1v1h-1v-2h-5v1h-10v1h-1v-1h-7v1h-4v-1h-2v1h-1v-1h-6v1h-1v-1h-1v2h-1v1h-1v-3h-1v4h-1v-4h-1v1h-2v-1h-1v3h-1v-2h-1v4h-1v-5h-1v1h-1v4h-1v-3h-1v1h-1v3h-1v-5h-1v1h-1v-2h-1v1h-1v1h-1v-2h-1v1h-1v-1h-1v6h-1v-6h-1v1h-1v-1h-2v3h-2v3h-1v-1h-2v-2h-2v-2h-1v2h-1v-1h-1v2h-1v-2h-1v1h-1v1h-1v10h-1v2h-1v26h-1v-19h-1v95h-1v-78h-1v-14h-1v1h-1v40h-1v-44h-1v17h-1v-12h-1v15h-1v-15h-1v67h-1v45h-1v-113h-1v7h-1v-5h-1v4h-1v-14h-1v1h-1v-6h-1v33h-1v-29h-1v-5h-1v-11h-1v-2h-3v3h-1v-3h-2v1h-1v-1h-4v10h-1v10h-1v-14h-1v13h-1v-12h-1v-5h-1v2h-1v-4h-1v2h-1v3h-1v-5h-1v1h-1v-1h-2v1h-1v-1h-3v1h-2v-1h-1v3h-1v-1h-1v-1h-2v3h-2v-1h-1v-3h-1v2h-1v-2h-3v2h-2v-2h-1v2h-1v1h-1v-2h-1v1h-1v-1h-1v1h-1v-2h-1v4h-1v-3h-1v-1h-3v1h-1v1h-2v-1h-2v-1h-1v1h-1v-1h-6v1h-1v-1h-1v1h-1v-1h-8v1h-1v-1h-1v2h-1v-2h-2v1h-1v-1h-14v1h-1v-1h-9v1h-1v-1h-3v1h-1v-1h-1v1h-2v-1h-2v1h-1v-1h-6v1h-2v-1h-4v1h-1v-1h-2v1h-1v-1h-6v1h-1v-1h-5v1h-1v-1h-2v1h-1v-1h-3v1h-1v-1h-2v1h-2v-1h-7v1h-1v-1h-4v1h-1v-1h-10v1h-1v-1h-1v1h-2v-1h-1v1h-1v-1h-9v1h-1v-1h-14v1h-2v-1h-4v1h-1v-1h-10v1h-1v-1h-3v1h-1v1h-1v-2h-11v2h-1v-2h-5v1h-1v-1h-4v1h-1v-1h-2v1h-5v-1h-9v1h-1v-1h-2v1h-1v-1h-1v1h-1v-1h-8v1h-1v-1h-2v1h-1v-1h-1v1h-1v-1h-2v1h-1v-1h-2v1h-2v-1h-1v1h-1v-1h-5v1h-1v-1h-4v2h-1v-2h-14v1h-1v-1h-1v1h-1v-1h-4v1h-1v-1h-1v2h-1v-1h-1v-1h-2v1h-4v-1h-7v1h-1v-1h-1v1h-2v-1h-5v1h-1v-1h-4v1h-1v-1h-8v1h-1v-1h-10v1h-1v1h-2v-1h-1v2h-1v-1h-1v-2h-2v1h-1v2h-1v-2h-2v-1h-1v1h-4v1h-2v-2h-1v1h-1v-1h-3v1h-1v2h-1v-2h-6v-2h-2v3h-1v-2h-1v1h-3v-1h-10v1h-3v-1h-4v1h-1v-1h-1v1h-1v-1h-3v3h-1v-3h-1v1h-1v1h-1v-2h-3v2h-1v-1h-1v1h-1v-1h-1v1h-1v-2h-2v2h-1v-2h-3v3h-1v-1h-1v-1h-1v1h-1v-2h-2v1h-1v-1h-10v1h-1v-2h-2v1h-1v2h-1v-2h-8v1h-1v-1h-1v1h-1v-1h-6v1h-1v-1h-4v1h-1v-1h-1v2h-1v-2h-1v1h-1v-1h-4v1h-1v-1h-4v1h-1v-1h-4v2h-1v-2h-1v1h-1v-1h-5v1h-1v-1h-6v1h-1v-1h-1v1h-1v-1h-3v1h-1v-1h-5v2h-1v-2h-2v1h-1v-1h-19v1h-1v-1h-2v1h-1v-1h-16v1h-1v-1h-1v1h-1v-1h-8v1h-1v-1h-2v1h-1v-1h-3v1h-1v-1h-2v-1h-1v1h-5v1h-1v-1h-4v1h-1v-1h-1v2h-1v-2h-4v1h-1v-1h-6v1h-1v-1h-3v1h-1v-1h-4v1h-1v-1h-3v1h-1v1h-1v-2h-1v1h-1v-1h-5v1h-1v-1h-4v-1h-2v1h-1v2h-1v-2h-3v1h-1v-1h-6v1h-1v-1h-8v2h-1v-2h-11v1h-1v-1h-6v1h-1v-1h-1v1h-2v-1h-1v1h-1v-1h-12v1h-1v-1h-5v1h-2v-1h-5v1h-1v-1h-1v1h-1v-1h-2v1h-1v-1h-2v1h-2v-1h-4v2h-1v-2h-1v1h-1v-1h-3v1h-1v1h-1v-2h-16v1h-1v-1h-2v1h-1v-1h-1v1h-1v-1h-9v1h-1v-1h-7v1h-2v-1h-14v2h-1v-2h-5v2h-1v-2h-1v1h-1v-1h-3v1h-3v-1h-3v1h-1v-1h-3v2h-1v-2h-4v1h-1v-1h-8v1h-2v-1h-8v1h-1v-1h-7v2h-1v-2h-3v1h-2v-1h-3v1h-1v-1h-2v1h-1v-1h-1v1h-2v-1h-1v1h-2v-1h-1v1h-1v-1h-8v1h-3v-1h-1v2h-1v-2h-5v1h-1v-1h-1v2h-1v-2h-3v1h-1v-1h-3v2h-1v-1h-5v-2h-2v1h-1v-1h-1v1h-1v-1h-1v2h-1v1h-1v-2h-2v1h-1v-1h-4v1h-1v-1h-10v1h-2v-1h-1v2h-1v-2h-2v1h-1v-1h-6v2h-1v-1h-1v-1h-1v1h-1v-1h-2v1h-1v-1h-3v1h-1v-1h-1v1h-2v-1h-9v1h-1v-1h-9v1h-1v-1h-1v1h-1v-1h-3v1h-1v-1h-1v1h-4v-1h-1v-1h-3v2h-1v-1h-8v1h-1v-1h-1v1h-1v-1h-2v1h-2v-1h-7v1h-1v-1h-7v1h-1v-1h-3v1h-1v-1h-12v1h-1v-1h-7v1h-1v1h-1v-2h-9v-1h-1v1h-1v-1h-3v2h-1v-1h-2v1h-1v-1h-4v1h-1v-1h-3v1h-1v-1h-2v1h-1v-1h-2v2h-1v-2h-1v1h-1v-1h-3z"/>
<path fill="#ff0000" d="M50 1612h2v-1h1v1h1v-1h2v1h1v-1h1v1h2v-1h1v1h3v1h1v-1h1v-2h1v1h1v1h5v-1h1v1h6v-2h1v2h2v-1h1v1h1v-2h1v1h2v1h1v-1h2v1h3v-1h1v1h5v-2h1v1h1v1h1v-1h1v-1h1v1h1v-1h1v1h1v1h1v-1h1v1h1v-1h1v1h3v-1h1v-1h1v3h2v-1h2v-1h1v-1h1v2h2v-1h1v1h1v-1h1v1h7v-2h1v2h3v-1h2v1h1v-2h2v1h1v1h4v-1h1v1h5v-1h1v1h19v-1h1v1h11v-1h1v1h6v-1h1v1h2v-1h1v1h9v-1h1v1h3v1h4v-1h14v-1h1v1h7v-1h1v1h1v-1h1v1h11v-1h1v1h6v-1h2v1h1v-1h1v-1h1v2h2v-1h1v1h4v-1h2v1h6v-1h1v1h21v-1h1v1h2v-1h2v1h2v-1h1v1h4v-1h1v1h12v-1h1v1h2v1h4v-1h1v1h2v-1h1v-1h2v1h3v-1h1v1h5v-1h2v1h3v-1h1v1h3v-1h1v1h8v-1h1v1h7v-1h1v1h7v-1h1v1h5v-1h1v1h3v-1h1v1h1v-1h1v1h2v-1h1v1h4v-1h1v1h4v-2h1v2h6v-1h1v-1h1v2h10v-1h1v1h5v-1h1v1h10v-1h1v1h8v-1h2v1h3v-1h1v1h1v-1h1v-1h1v1h1v1h3v-1h1v1h10v-1h1v1h3v-1h1v1h8v-3h1v3h4v-1h1v1h4v1h1v-3h1v1h4v1h1v-1h2v1h7v-1h1v1h2v-1h1v1h12v-1h3v-1h1v2h7v-1h1v1h8v-1h1v1h3v-1h2v-1h1v1h3v1h4v-1h1v1h3v-1h1v1h2v-1h1v1h2v-1h1v1h1v-1h1v1h10v-2h1v2h10v-1h1v1h11v-1h1v1h8v-1h5v1h13v-1h1v1h1v-1h1v1h1v-2h2v2h4v-1h1v1h7v-1h2v1h6v-1h1v1h25v-1h1v1h12v-1h1v1h4v-2h1v2h10v-1h1v1h1v-1h1v1h2v-1h1v1h5v-1h2v1h4v-1h1v1h11v-1h1v1h1v-2h1v2h4v-1h1v1h5v-1h3v1h5v-1h1v1h2v-1h1v1h1v-1h1v1h17v-3h1v2h2v1h16v-1h2v1h9v-1h1v1h5v1h1v-1h10v-1h1v1h1v-2h1v2h7v-1h1v1h1v1h1v-1h1v-1h2v1h16v-1h1v1h3v-2h2v2h1v-1h1v1h20v-1h1v1h1v-1h1v-1h1v1h1v1h4v-2h1v2h12v-1h1v1h3v-2h1v2h5v-1h1v1h28v-1h1v1h1v-1h1v1h1v-1h2v-1h1v1h4v1h1v-1h1v1h8v-2h1v2h22v-1h2v1h9v-1h1v1h3v-1h2v1h9v-2h1v1h1v1h3v-1h2v1h8v-1h1v1h1v-2h1v2h7v-1h1v1h23v-1h1v1h5v-1h1v1h2v-1h1v1h8v-1h1v1h4v-1h1v1h10v-1h1v1h15v-1h1v1h5v-1h2v1h5v-1h1v1h3v-1h1v1h3v-1h1v1h10v-1h1v1h7v-1h1v1h5v-1h1v1h1v-1h1v1h4v-1h1v1h1v-1h1v1h2v-1h1v1h1v-1h2v1h2v-1h1v1h2v-1h1v1h4v-1h1v1h12v-1h1v-1h1v2h19v-1h1v1h5v-1h1v1h9v-1h1v1h1v-1h1v1h4v-1h1v1h7v-1h1v1h1v-1h2v1h10v-1h2v1h10v-1h1v1h3v-1h1v1h6v-1h1v1h23v-2h1v2h1v-1h1v1h3v-1h1v1h14v-2h2v2h2v-1h1v1h18v-1h1v1h4v-2h1v2h2v-1h1v1h6v-1h1v1h6v-1h1v1h8v-1h1v1h7v-2h1v2h1v-1h1v1h5v1h1v-1h1v1h5v-1h3v-1h1v1h7v-1h1v1h3v-1h1v1h4v-1h2v1h4v-1h1v1h3v-1h1v1h8v-1h1v1h1v-1h1v1h7v-1h4v1h2v-1h2v1h3v-1h1v1h2v-1h1v1h1v-1h1v1h1v2h-15v1h-1v-1h-6v1h-1v-1h-5v1h-1v-1h-16v1h-1v-1h-5v2h-1v-2h-5v1h-1v-1h-3v1h-1v-1h-3v1h-3v1h-2v-1h-5v-1h-7v1h-1v-1h-12v2h-1v-2h-4v1h-1v-1h-9v1h-1v-1h-2v1h-1v-1h-13v1h-1v-1h-7v1h-1v-1h-5v1h-1v-1h-4v1h-1v-1h-1v1h-4v-1h-5v1h-1v-1h-8v2h-1v-2h-2v1h-2v-1h-1v1h-1v-1h-9v1h-1v-1h-7v1h-1v-1h-1v1h-1v-1h-2v1h-1v-1h-4v1h-1v-1h-9v1h-1v-1h-5v1h-2v-1h-8v1h-1v-1h-5v1h-1v-1h-3v1h-1v-1h-4v1h-2v-1h-7v1h-1v-1h-11v1h-1v-1h-1v1h-1v-1h-1v1h-2v1h-1v-2h-3v1h-1v-1h-5v1h-3v-1h-2v1h-1v-1h-2v1h-1v-1h-5v1h-1v-1h-6v1h-1v-1h-4v1h-1v-1h-2v1h-1v-1h-7v1h-1v-1h-3v1h-1v-1h-6v1h-1v-1h-2v2h-1v-2h-15v1h-2v-1h-14v1h-1v-1h-2v1h-1v-1h-3v1h-1v-1h-2v1h-2v-1h-12v1h-1v-1h-12v1h-1v-1h-1v1h-1v-1h-10v1h-3v-1h-6v1h-2v-1h-13v1h-2v-1h-2v1h-1v-1h-10v1h-1v-1h-3v1h-2v-1h-11v1h-2v1h-1v-2h-1v1h-1v-1h-3v1h-1v-1h-11v1h-2v-1h-24v2h-1v-1h-1v-1h-5v1h-1v-2h-1v2h-1v-2h-3v1h-4v1h-1v-1h-2v2h-1v-1h-1v-1h-3v1h-1v-1h-3v1h-1v-1h-2v1h-1v1h-1v-2h-17v1h-1v-1h-3v1h-1v-1h-1v2h-1v-2h-1v1h-1v-1h-2v1h-1v-1h-12v1h-2v-1h-5v1h-1v-1h-1v2h-1v-2h-7v1h-1v-1h-4v1h-1v-1h-6v2h-1v-2h-3v2h-1v-2h-1v1h-1v-1h-6v1h-1v-1h-3v2h-1v-2h-2v1h-1v-1h-1v1h-2v-1h-15v1h-2v-1h-5v1h-2v-1h-4v2h-1v-2h-1v1h-1v-1h-4v1h-2v-1h-14v1h-1v-1h-2v1h-1v-1h-2v-1h-2v1h-6v1h-1v-1h-3v2h-1v-1h-1v-1h-1v1h-1v-1h-5v1h-2v-1h-4v1h-1v-1h-5v1h-2v-1h-4v1h-1v-1h-8v1h-1v-1h-2v1h-1v1h-1v-2h-2v2h-1v-1h-1v-1h-14v1h-1v-1h-1v1h-1v-1h-1v1h-1v-1h-7v1h-1v-1h-1v1h-2v-1h-2v1h-1v-1h-18v1h-1v-1h-3v1h-1v-1h-10v1h-1v-1h-2v1h-1v-1h-1v2h-1v-2h-3v1h-1v1h-1v-2h-6v1h-3v-1h-2v1h-1v-1h-1v1h-2v-1h-4v1h-1v-1h-1v1h-1v-1h-1v1h-1v-1h-2v1h-1v-1h-1v1h-1v-1h-1v1h-1v-1h-1v1h-2v-1h-1v-1h-5v1h-10v1h-2v-1h-11v1h-1v-1h-1v1h-1v-1h-4v1h-1v-1h-9v1h-1v-1h-3v1h-1v-1h-7v1h-1v-1h-5v2h-1v-3h-5v2h-2v-1h-4v2h-1v-2h-1v1h-2v-1h-2v1h-1v-1h-4v1h-1v-1h-3v-1h-4v1h-2v1h-1v-1h-4v1h-4v-1h-2v2h-1v-2h-1v1h-2v1h-1v-2h-1v1h-1v-1h-2v1h-1v-1h-4v-1h-4v2h-2v-1h-1v1h-1v-1h-3v1h-1v-1h-2v4h-1v-4h-4v1h-1v-1h-7v1h-1v-1h-1v1h-2v-1h-1v1h-1v-1h-1v1h-2v-1h-3v1h-1v-1h-3v1h-2v-1h-2v1h-1v-1h-6v1h-1v-1h-2v2h-1v-2h-5v1h-1v-1h-4v1h-1v-1h-2v1h-1v-1h-4v2h-1v-2h-5v1h-1v-1h-1v1h-2v-1h-1v1h-1v-1h-12v1h-1v-1h-6v1h-1v-1h-2v2h-1v-2h-1v2h-1v-1h-1v-1h-3v1h-1v-1h-3v1h-1v-1h-7v1h-1v-1h-1v1h-1v-1h-2v1h-1v-1h-1v1h-1v-1h-12v1h-1v-1h-2v1h-1v-1h-3v1h-1v-1h-9v1h-1v-1h-1v1h-4v1h-1v-1h-1v1h-1v-2h-1v1h-1v-1h-2v2h-1v-2h-14v1h-1v-1h-5v1h-1v-1h-8v1h-1v-1h-9v1h-1v-1h-1v1h-1v-1h-2v1h-1v-1h-5v1h-1v1h-1v-2h-13v1h-1v-1h-1v1h-1v-1h-2v1h-1v-1h-3v1h-1v-1h-10v1h-1v-1h-5v1h-1v-1h-2v1h-1v-1h-2v1h-1v-1h-3v1h-3v-1h-4v2h-1v-1h-1v1h-3v-2h-10v1h-1v-1h-9v1h-1v-1h-2v1h-1v-1h-6v1h-1v-1h-3v2h-1v-2h-10v1h-1v-1h-1v1h-1v-1h-2v1h-1v-1h-1v1h-1v-1h-7v1h-1v-1h-3v1h-1v-1h-1v1h-2v-1h-2v2h-1v-2h-3v2h-1v-1h-2v-1h-1v1h-1v-1h-1v1h-1v-1h-1v3h-1v-3h-1v2h-1v-2h-1v2h-1v-1h-1v1h-1v-1h-2v2h-1v-1h-1v-1h-1v-1h-1v3h-1v-3h-2v1h-2v1h-1v-2h-2v1h-1v1h-2v-1h-3v-1h-1v2h-1v-2h-2v1h-1v1h-1v-1h-3v1h-1v-2h-1v1h-1v-1h-1v1h-1v-1h-1v2h-2v-1h-1v1h-1v-2h-1v2h-3v1h-1v-3h-1v1h-1v-1h-1v1h-1v-1h-1v1h-1v2h-1v-2h-1v1h-1v-1h-6v1h-1v-1h-1v1h-1v-2h-1v1h-2v1h-1v-2h-2v3h-1v-2h-2z"/>
<path fill="#0000ff" d="M50 1642h3v-1h1v1h4v-1h2v-1h1v1h3v1h9v-2h1v2h5v-1h1v1h14v-1h1v1h1v-1h1v1h1v-1h1v1h12v-1h1v1h6v-1h1v1h2v-1h1v1h6v-1h1v1h21v-2h1v2h3v-1h1v1h8v-1h1v1h1v-1h1v1h3v-1h2v-1h1v-1h1v3h2v-1h1v1h2v-1h6v-1h1v1h1v1h6v-1h1v1h17v1h6v-1h1v-1h1v1h2v-1h1v1h1v-1h1v1h20v-1h1v1h1v1h2v-1h1v1h3v-1h5v-1h1v1h1v-1h1v1h2v-1h1v1h5v-1h1v1h15v-1h1v1h3v-1h1v-3h1v4h3v-2h1v1h2v-1h1v1h1v2h2v-1h1v1h2v-1h2v-1h2v1h2v-1h1v1h1v-2h1v2h5v-1h1v1h18v-1h1v1h1v-1h1v1h6v-1h1v1h1v-1h1v1h3v-1h1v1h4v-2h1v1h1v1h1v-1h1v1h4v-1h2v1h3v-1h1v1h1v-1h1v1h1v-1h4v1h1v-1h1v-1h1v2h1v-2h1v2h8v-1h1v1h4v-1h1v1h5v-1h1v1h2v-1h2v-1h1v1h1v1h1v-1h2v1h1v-2h1v1h1v1h1v-1h2v1h1v-2h1v1h2v1h5v-2h1v2h3v-1h1v1h7v-1h2v1h2v-2h1v2h1v-2h1v2h1v-1h1v1h2v-1h4v1h9v-2h1v1h1v1h1v-1h1v-1h1v1h3v1h1v-2h1v2h1v-1h1v1h2v-1h1v-1h1v1h1v-1h2v2h3v-2h1v1h2v1h1v-1h1v1h1v-2h1v2h1v-1h1v1h6v-1h1v-1h1v2h6v-1h1v1h2v-1h1v1h2v-1h1v1h2v-1h1v1h3v-1h1v1h1v-1h1v1h1v-2h1v2h2v-2h1v2h10v-1h1v-1h1v1h2v1h1v-1h2v1h1v-1h1v1h2v-2h1v2h1v-1h4v1h1v-1h2v-1h1v2h4v-1h4v1h9v-1h1v1h10v-1h1v1h1v-1h1v1h3v-1h1v1h9v-1h1v1h4v-1h1v1h9v-1h1v1h1v-1h1v2h1v-1h1v1h3v-2h1v-1h1v1h2v-1h1v1h1v1h2v-1h1v-1h1v2h2v-1h1v1h2v-1h1v1h10v-1h1v1h1v-2h1v1h1v1h6v-1h3v1h10v-1h1v1h9v-1h1v1h15v-1h3v1h1v-1h1v1h3v1h6v-1h6v-1h1v1h7v-1h1v-1h1v1h1v1h8v-1h2v1h15v1h2v-2h1v1h3v-1h1v1h3v-1h1v1h2v-1h1v1h3v-1h1v1h11v-1h1v1h2v-1h1v1h5v-1h2v1h3v-1h2v1h7v-1h1v1h28v-1h1v1h6v-1h1v1h2v-1h1v1h3v-1h1v1h8v-1h1v1h10v-2h1v2h2v1h2v-1h2v1h2v-1h2v-1h1v1h7v-1h3v1h4v-1h1v1h1v-1h1v1h3v-1h1v-1h1v2h4v-1h1v1h1v-1h1v1h3v-1h1v1h5v-1h1v-1h3v2h1v-1h2v1h1v-2h1v2h1v-2h1v2h4v-1h1v-1h3v2h7v-1h1v1h6v-2h1v1h1v1h1v-2h1v1h1v1h4v-1h1v-1h1v1h2v1h1v-1h1v1h1v-1h1v1h2v-1h1v1h2v-2h1v1h2v-1h1v2h1v-1h2v1h3v-1h1v1h2v-2h2v1h1v1h2v-2h1v2h5v-1h2v1h2v-1h1v-1h1v2h1v-2h1v2h1v-1h2v1h1v-1h8v2h1v-1h1v-1h1v1h2v-2h1v1h1v1h1v-1h1v1h2v-2h1v2h2v-2h1v2h5v-1h2v1h11v-1h1v1h4v-2h1v1h3v2h3v-1h1v-1h2v1h7v-1h1v1h3v-1h1v-1h1v2h6v-1h4v2h1v-1h1v-1h1v1h3v-1h1v1h2v-1h1v1h2v-1h1v1h3v-1h2v1h4v-1h1v1h1v-1h1v1h9v-1h2v1h2v-1h1v1h12v-1h2v1h4v-1h1v1h2v-1h1v1h2v-1h1v1h3v-1h2v1h13v-1h1v1h8v-1h1v1h1v-1h1v1h4v-1h1v1h1v-1h1v1h7v-1h1v1h7v-1h2v1h10v-1h1v1h4v-1h1v1h2v-1h1v1h3v-1h3v1h1v-1h2v1h4v1h4v-1h9v-1h1v1h4v-1h1v1h6v-1h1v1h6v-1h2v1h6v-1h2v1h4v-2h1v2h13v-1h1v1h7v-1h1v1h3v-1h1v1h6v-1h1v1h3v-1h1v1h25v-1h2v1h1v-2h1v2h2v-1h1v1h2v-1h1v-1h1v2h3v-1h1v1h10v-1h2v1h6v-1h1v1h7v-1h1v1h1v1h4v-1h3v-1h2v-1h1v2h3v-1h1v1h2v-1h1v1h2v-2h1v1h1v1h10v-1h1v1h7v-1h1v1h1v-1h1v1h7v-1h1v1h2v-1h1v1h7v-1h1v1h1v-1h1v1h1v-1h1v1h10v-1h1v1h4v-1h1v1h3v-1h1v1h2v-1h1v1h10v2h-9v1h-1v-1h-2v1h-2v-1h-1v1h-1v-1h-2v2h-1v-2h-3v1h-1v-1h-1v1h-2v-1h-2v1h-1v-1h-2v2h-1v-1h-1v-1h-2v1h-1v-1h-2v1h-1v-1h-2v1h-1v-1h-1v1h-1v-1h-9v1h-1v-1h-10v1h-1v-1h-12v1h-1v-1h-12v1h-2v-1h-2v1h-3v1h-1v-2h-2v1h-1v-1h-2v1h-4v-1h-2v1h-1v-1h-14v1h-1v-1h-7v1h-2v-1h-3v1h-1v-1h-3v1h-1v-1h-2v1h-1v-1h-10v1h-1v-1h-5v1h-1v-1h-8v2h-1v-2h-6v1h-1v-1h-1v1h-1v-1h-4v1h-2v-1h-20v1h-1v-1h-1v1h-1v-1h-24v1h-1v-1h-1v1h-1v-1h-8v2h-1v-1h-3v1h-2v-2h-4v1h-1v-1h-1v1h-1v-1h-1v1h-1v-1h-1v1h-1v-1h-1v1h-1v-1h-1v1h-1v-1h-2v1h-1v-1h-5v1h-1v-1h-2v1h-1v-1h-9v1h-1v-1h-3v2h-1v-2h-6v1h-1v-1h-6v1h-1v-1h-2v1h-1v-1h-2v2h-1v-2h-9v2h-1v-1h-1v-1h-5v1h-2v-1h-16v1h-1v-1h-4v1h-1v-1h-4v1h-1v-1h-1v2h-1v-2h-4v1h-1v-1h-4v1h-1v-1h-6v2h-1v-1h-1v-1h-2v2h-1v-1h-2v-1h-3v1h-1v-1h-9v1h-1v-1h-4v1h-1v-2h-3v1h-1v2h-1v-2h-3v1h-1v-1h-1v1h-1v-1h-4v1h-1v-1h-2v1h-1v-1h-4v-1h-2v3h-1v-1h-1v1h-1v-1h-1v-2h-2v1h-3v1h-1v-1h-1v1h-1v-1h-3v1h-1v-1h-1v1h-1v-1h-7v1h-2v-1h-1v3h-1v-2h-1v1h-1v-1h-1v1h-1v1h-1v-2h-2v1h-1v-1h-1v-1h-1v2h-1v-1h-4v2h-1v-2h-1v-1h-1v1h-1v-1h-1v2h-1v-1h-1v-1h-1v1h-1v-1h-2v1h-1v-1h-1v2h-2v-1h-3v-1h-4v1h-1v2h-1v-3h-1v3h-1v-3h-2v1h-3v-1h-1v1h-2v1h-2v-2h-1v3h-1v-3h-4v2h-1v-2h-1v2h-1v-1h-1v-1h-3v1h-1v-1h-1v2h-1v-1h-3v-1h-1v1h-5v1h-1v-1h-1v1h-1v-2h-1v2h-1v-2h-1v2h-2v-2h-2v1h-1v1h-1v-1h-1v-1h-1v1h-1v-1h-2v3h-2v-3h-1v2h-3v-2h-1v2h-1v-1h-1v-1h-1v3h-1v-3h-1v2h-1v-1h-1v2h-1v-3h-1v3h-1v-2h-1v1h-1v1h-2v-2h-8v-1h-4v1h-1v-1h-1v2h-1v-2h-1v1h-1v-1h-5v1h-3v-1h-1v1h-1v-1h-3v1h-1v-1h-1v1h-3v-1h-8v2h-1v-1h-6v-1h-9v1h-2v-1h-6v1h-1v-1h-11v1h-1v-1h-1v1h-1v-1h-1v1h-1v-1h-8v1h-1v-1h-1v1h-1v-1h-1v1h-1v-1h-4v1h-3v-1h-1v1h-1v-1h-3v1h-1v-1h-5v1h-1v-1h-14v2h-1v-2h-1v1h-1v-1h-3v1h-1v-1h-1v1h-1v-1h-2v1h-1v-1h-5v1h-1v-1h-3v1h-2v-1h-5v1h-1v-1h-1v1h-3v-1h-2v1h-2v-1h-1v1h-2v-1h-1v1h-2v-1h-9v1h-1v-1h-5v1h-1v-1h-1v1h-1v-1h-18v1h-1v1h-1v-1h-4v-1h-2v1h-1v-1h-3v1h-1v-1h-1v1h-1v-1h-4v2h-1v-2h-1v1h-1v-1h-24v1h-1v-1h-6v1h-1v-1h-3v1h-3v-1h-2v1h-2v-1h-4v1h-1v-1h-14v-1h-6v2h-1v1h-2v-1h-2v-1h-3v1h-1v-1h-6v1h-1v-1h-4v1h-1v-1h-1v1h-1v-1h-9v1h-1v-1h-2v1h-1v-1h-3v1h-1v-1h-3v1h-1v-1h-9v1h-1v-1h-4v1h-1v-1h-2v1h-1v-1h-8v1h-1v-1h-6v1h-2v-1h-6v-1h-3v1h-2v1h-2v-1h-3v1h-1v-1h-2v1h-1v2h-1v-3h-2v1h-1v-1h-1v1h-2v-1h-3v2h-1v-1h-1v1h-1v-1h-1v1h-1v-2h-1v1h-1v2h-1v-1h-2v-2h-4v2h-1v-1h-2v-1h-1v1h-2v-1h-1v1h-3v1h-1v1h-1v-1h-1v-2h-1v2h-1v-2h-2v1h-2v-1h-2v1h-1v-1h-1v1h-1v1h-1v-2h-1v1h-1v-1h-1v1h-7v1h-1v-2h-2v1h-1v2h-1v-3h-1v3h-1v-3h-1v1h-1v-1h-1v2h-2v-1h-1v1h-1v-1h-1v1h-1v-2h-1v1h-1v-1h-1v1h-2v2h-1v-2h-2v1h-1v1h-1v-2h-2v1h-2v-1h-1v2h-1v-2h-3v1h-2v-2h-1v2h-3v-1h-2v1h-1v1h-1v-1h-2v-2h-1v2h-1v-1h-2v1h-2v-2h-1v1h-1v-1h-2v1h-1v-1h-1v3h-1v-2h-1v2h-1v-3h-1v1h-5v1h-2v-2h-5v1h-1v-1h-1v1h-1v-1h-1v1h-3v-1h-2v1h-2v-1h-2v3h-1v-1h-1v-1h-5v2h-1v-2h-2v-1h-1v1h-1v2h-1v-1h-1v-1h-1v-1h-1v3h-1v-2h-2v1h-2v-2h-8v1h-1v-1h-3v1h-1v-1h-5v1h-1v-1h-6v1h-1v-1h-7v2h-1v-2h-2v1h-1v-1h-2v2h-1v-2h-1v1h-1v-1h-3v1h-2v-1h-9v1h-1v1h-1v-1h-1v1h-1v-1h-1v-2h-3v2h-1v-2h-1v2h-1v-1h-2v7h-1v-7h-11v1h-1v-1h-12v1h-1v1h-1v-2h-1v1h-1v-1h-4v1h-2v-1h-3v2h-2v-1h-4v-1h-1v1h-1v-1h-1v2h-1v-2h-19v1h-1v1h-1v-2h-4v2h-1v-1h-5v-1h-9v1h-1v-1h-5v1h-1v-1h-4v1h-1v-1h-4v-1h-3v1h-1v-1h-3v2h-1v-1h-1v1h-1v-1h-2v-1h-2v1h-1v-1h-1v1h-11v1h-1v-1h-6v1h-1v-1h-2v1h-1v-1h-12v1h-1v-1h-2v2h-1v-1h-1v-1h-5v1h-1v-1h-4v1h-1v-1h-9v1h-2v-1h-3v1h-1v-1h-9v1h-1v-1h-2v1h-1v-1h-2v1h-1v-1h-7v1h-2v-1h-3v1h-1v-1h-2v1h-1v-1h-3v1h-1v-1h-1v1h-1v-1h-4v-1h-1v2h-1v-1h-1v-1h-1v2h-6v-1h-2z"/>
<path fill="#006400" d="M50 1672h16v-1h1v1h1v-1h1v1h11v-2h1v2h6v-1h1v1h5v-1h1v1h1v-1h1v1h9v-2h1v2h15v1h4v-1h1v-2h1v1h1v1h1v-1h1v1h7v-1h1v1h3v-1h1v1h2v-1h1v1h2v-1h3v-1h1v1h2v1h10v-1h1v1h9v-1h1v1h1v-3h1v3h2v1h4v-1h4v-1h1v1h3v-1h1v1h7v-1h1v1h4v-1h1v1h7v-1h1v1h4v-1h1v1h13v-1h1v1h13v-2h1v2h14v-1h1v1h3v-1h1v1h4v-2h1v2h10v-2h1v2h3v-2h1v2h5v1h1v-1h4v-1h2v1h1v-1h1v1h6v-1h1v1h6v-1h1v1h26v-2h1v2h2v-1h2v1h4v-1h1v1h5v-1h4v1h3v-1h1v1h8v-1h3v-1h1v-3h1v1h1v-15h1v12h1v6h1v-1h1v-5h1v6h2v1h3v-1h1v-1h1v1h1v1h1v-1h1v1h6v-1h1v1h8v-2h1v2h1v-1h1v1h7v-1h1v1h2v-2h1v2h3v-1h1v1h3v-1h1v1h3v-1h1v2h2v-2h1v1h1v-1h1v1h15v-1h2v1h16v1h6v-1h2v-1h1v1h17v-1h1v1h8v1h5v-2h6v1h1v1h5v-1h3v-1h1v1h3v-1h1v1h3v-1h1v1h2v-1h1v1h1v-1h2v1h12v-1h1v-1h1v1h2v-2h1v2h2v1h6v1h6v-3h1v1h1v1h2v-1h1v1h4v-1h1v1h2v-1h1v1h6v-2h1v2h14v-2h1v2h1v-1h1v1h9v-1h1v1h1v-1h1v1h1v-1h1v1h10v-4h1v4h1v-1h1v1h3v1h4v-1h1v-1h1v1h1v-1h1v1h16v1h7v-2h1v1h1v-1h1v1h7v-1h1v1h5v-1h1v1h3v-1h2v1h2v-1h4v-1h3v1h1v1h3v-1h1v1h10v-1h1v1h10v-1h1v1h8v-1h1v1h8v-1h1v-3h1v2h1v1h1v-2h1v3h13v-1h1v1h17v-1h1v1h1v-2h1v2h6v-1h2v1h1v-1h1v1h2v-1h1v1h2v-1h1v1h9v-1h1v1h2v-1h2v1h3v-2h1v2h22v-1h1v1h2v-2h1v2h6v-1h1v1h4v-1h1v-1h1v2h16v-1h1v1h4v-1h1v1h3v-1h1v1h3v-1h1v1h10v-1h1v1h6v-1h1v-1h1v2h2v-1h6v1h8v-1h1v1h20v-1h1v1h6v-1h1v1h6v-1h1v1h1v-1h1v1h33v-1h2v1h4v-1h1v1h9v-1h1v1h5v-1h1v1h1v-1h1v1h15v-1h1v1h12v-1h1v1h18v-1h1v1h3v-1h1v1h3v-1h1v1h8v-2h1v2h1v-1h1v1h2v-1h1v1h8v-1h1v1h1v-1h1v1h1v-1h1v-1h1v2h4v-1h1v1h9v1h2v-1h6v-1h1v-1h1v2h7v-2h1v2h6v1h5v-1h3v-1h1v1h7v-2h1v2h2v-1h1v1h4v-1h1v1h2v-1h1v1h4v-1h1v1h1v-1h1v1h1v-1h1v1h5v-2h1v3h7v-1h5v-1h2v1h5v-1h1v1h12v-1h2v1h4v-2h1v2h1v-1h1v1h4v-1h1v1h1v-1h1v1h4v-1h1v1h8v-1h1v1h4v-1h1v1h4v-2h1v2h3v-2h1v2h6v-1h1v1h20v-1h1v1h9v-1h1v1h1v-2h1v2h1v-2h1v2h4v-1h1v1h6v-1h3v1h5v-1h2v1h1v-1h1v1h5v-1h1v1h9v-1h1v1h1v-1h1v1h5v-1h1v1h22v-1h1v1h2v1h4v-1h25v-1h1v1h7v-2h1v2h2v-1h1v1h1v-1h1v1h8v-1h1v-1h2v2h12v-1h2v1h6v-1h1v1h7v-1h1v1h1v-1h2v1h9v-1h1v1h4v-1h1v1h6v-1h2v1h2v-3h1v3h1v-1h1v-3h1v3h2v1h1v-3h1v2h1v5h-1v-1h-1v2h-1v-3h-4v1h-1v-1h-2v2h-1v-1h-1v-1h-1v1h-1v1h-1v-2h-2v2h-1v-2h-1v3h-1v-1h-1v-2h-1v1h-1v-1h-12v1h-1v1h-1v-2h-6v1h-1v-1h-6v1h-1v-1h-3v1h-1v1h-1v-1h-1v-1h-8v1h-1v-1h-2v1h-1v-1h-1v1h-1v-1h-3v1h-1v-1h-1v1h-1v-1h-9v1h-1v-1h-1v1h-1v-1h-7v2h-1v-2h-2v1h-3v-1h-6v1h-1v-1h-5v1h-1v-1h-1v1h-5v-1h-7v1h-2v-1h-3v1h-2v-1h-7v1h-1v-1h-3v1h-1v-1h-7v1h-2v-1h-4v1h-2v-1h-16v-1h-2v1h-2v1h-1v-1h-6v1h-1v-1h-2v1h-1v-1h-1v1h-1v-1h-1v1h-1v-1h-3v1h-1v-1h-11v1h-1v-1h-1v1h-1v-1h-7v2h-1v-1h-1v-1h-3v1h-1v-1h-10v2h-1v-1h-1v-1h-4v1h-1v-1h-1v1h-1v-1h-5v1h-1v-1h-2v1h-1v-1h-1v1h-2v-1h-3v1h-1v-1h-2v1h-2v-1h-1v2h-1v-1h-1v-1h-8v1h-1v-1h-2v2h-1v-2h-3v1h-1v-1h-17v1h-1v1h-1v-1h-5v-1h-2v1h-1v-1h-6v1h-1v-1h-4v2h-1v-2h-2v1h-1v-1h-4v1h-1v-1h-3v1h-2v-1h-5v1h-1v-1h-4v1h-4v1h-1v-2h-11v1h-1v-1h-4v1h-1v-1h-4v1h-1v1h-1v-1h-1v-1h-6v1h-2v-1h-6v1h-1v-1h-2v1h-1v-1h-2v2h-1v-2h-9v1h-1v-1h-2v1h-1v-1h-9v1h-1v-1h-8v2h-1v-2h-4v1h-1v-1h-16v1h-1v-1h-4v1h-1v-1h-3v1h-1v-1h-3v2h-1v-2h-5v2h-1v-2h-5v1h-1v-1h-12v1h-1v-1h-10v1h-1v-1h-2v2h-1v-2h-1v1h-1v-1h-1v1h-1v-1h-3v2h-1v-2h-2v1h-1v-1h-10v1h-1v-1h-3v1h-1v-1h-1v1h-1v-1h-6v1h-1v-1h-7v2h-1v-2h-6v1h-1v-1h-3v2h-1v-2h-7v1h-2v-1h-7v1h-1v-1h-3v1h-1v-2h-1v1h-2v-1h-3v1h-1v1h-1v-1h-11v1h-3v-1h-9v1h-1v-1h-4v1h-1v-1h-2v2h-1v-2h-5v1h-1v-1h-6v1h-1v-1h-3v2h-1v-2h-4v1h-1v-1h-10v2h-1v-2h-12v1h-1v-1h-3v1h-1v-1h-4v1h-1v-1h-2v1h-1v-1h-1v1h-1v-1h-7v1h-1v-1h-1v1h-1v-1h-4v1h-1v-1h-5v1h-1v-1h-3v1h-1v-1h-1v1h-2v-1h-2v1h-1v-1h-5v1h-2v-1h-1v1h-1v-1h-5v1h-1v-1h-11v1h-2v-1h-5v5h-1v1h-1v2h-1v-2h-1v-4h-1v-1h-1v-1h-4v1h-1v1h-1v-2h-3v1h-1v-1h-4v2h-1v-2h-2v1h-1v-1h-4v1h-1v-1h-6v1h-1v-1h-3v1h-2v-1h-7v1h-3v-1h-1v1h-1v-1h-3v2h-2v-1h-1v1h-1v2h-1v-1h-1v-3h-1v2h-1v-2h-2v1h-1v-1h-2v1h-1v-1h-2v2h-1v-2h-1v1h-1v-1h-4v-1h-1v3h-1v-1h-6v-1h-10v1h-2v-1h-7v1h-3v1h-2v-2h-4v1h-1v1h-1v-2h-5v1h-1v-1h-3v1h-1v-1h-13v1h-1v-1h-6v1h-1v-1h-5v1h-1v-1h-7v1h-1v-1h-2v1h-1v-1h-7v1h-2v-1h-2v-1h-2v2h-3v1h-2v-1h-1v-1h-2v1h-1v-1h-1v2h-1v-1h-1v-1h-1v-1h-5v1h-7v1h-1v-1h-3v1h-1v-1h-3v1h-1v-1h-2v1h-1v-1h-12v1h-2v2h-1v-2h-3v2h-1v-4h-1v2h-1v-2h-2v1h-1v1h-1v1h-2v-1h-1v1h-1v-2h-2v1h-2v-1h-2v1h-1v-1h-1v1h-1v-1h-8v1h-2v-1h-7v2h-1v-1h-4v1h-2v-1h-2v-1h-5v2h-1v-2h-4v1h-2v-1h-3v2h-1v-2h-1v1h-1v-1h-5v1h-1v-1h-10v1h-1v-2h-1v2h-2v-1h-4v1h-1v-1h-7v1h-1v-1h-6v1h-1v-1h-6v1h-1v-1h-1v1h-2v1h-1v-2h-5v1h-1v-1h-1v1h-1v-1h-4v1h-1v1h-1v-2h-3v1h-1v2h-1v-1h-1v1h-1v-1h-1v3h-1v9h-1v-6h-1v-6h-1v2h-1v-1h-3v-1h-1v-1h-1v1h-1v2h-1v-4h-2v3h-1v-3h-2v1h-2v2h-1v-2h-1v2h-1v-3h-1v1h-3v-1h-2v1h-1v-1h-1v1h-1v-1h-2v1h-1v-1h-22v1h-1v-1h-3v1h-1v-1h-7v1h-1v-1h-9v1h-1v-1h-9v1h-1v-1h-3v1h-1v-1h-1v1h-1v-1h-3v1h-3v1h-1v-2h-7v1h-1v-1h-2v1h-1v-1h-1v1h-1v1h-1v-2h-1v1h-2v-1h-14v1h-1v-1h-3v1h-1v-1h-3v1h-1v1h-1v-1h-1v-1h-1v1h-1v-1h-2v1h-1v-1h-1v1h-1v-1h-4v1h-1v-1h-6v1h-1v-1h-3v1h-1v-1h-1v1h-1v-1h-3v1h-1v-1h-4v1h-1v-1h-1v1h-1v-1h-4v1h-1v-1h-10v1h-1v1h-1v-1h-4v-1h-1v2h-1v-2h-2v1h-1v-1h-8v1h-1v-1h-4v1h-1v-1h-1v1h-1v-1h-4v-1h-5v1h-9v1h-1v-1h-3v1h-1v-1h-7v1h-3v1h-1v-1h-1v-1h-1v1h-1v-1h-10v2h-1v-2h-1v1h-1v-1h-2v1h-1v-1h-1v1h-1v-1h-3v2h-1v-1h-1v-1h-5v2h-1v-2h-14v1h-1v-1h-1v1h-1v-1h-5v2h-1v-1h-1v1h-1v-2h-12v1h-1v-1h-1v1h-1z"/>
</g>
<path d="M50 248v1440M146 248v1440M242 248v1440M338 248v1440M434 248v1440M530 248v1440M626 248v1440M722 248v1440M818 248v1440M914 248v1440M1010 248v1440M1106 248v1440M1202 248v1440M1298 248v1440M1394 248v1440M1490 248v1440" stroke="#848484" stroke-width="1" fill="none" shape-rendering="crispEdges" transform="translate(.5 0)"/>
<path d="M50 248H1490M50 1688H1490M50 1688v11M66 1688v7M82 1688v7M98 1688v7M114 1688v7M130 1688v7M146 1688v11M162 1688v7M178 1688v7M194 1688v7M210 1688v7M226 1688v7M242 1688v11M258 1688v7M274 1688v7M290 1688v7M306 1688v7M322 1688v7M338 1688v11M354 1688v7M370 1688v7M386 1688v7M402 1688v7M418 1688v7M434 1688v11M450 1688v7M466 1688v7M482 1688v7M498 1688v7M514 1688v7M530 1688v11M546 1688v7M562 1688v7M578 1688v7M594 1688v7M610 1688v7M626 1688v11M642 1688v7M658 1688v7M674 1688v7M690 1688v7M706 1688v7M722 1688v11M738 1688v7M754 1688v7M770 1688v7M786 1688v7M802 1688v7M818 1688v11M834 1688v7M850 1688v7M866 1688v7M882 1688v7M898 1688v7M914 1688v11M930 1688v7M946 1688v7M962 1688v7M978 1688v7M994 1688v7M1010 1688v11M1026 1688v7M1042 1688v7M1058 1688v7M1074 1688v7M1090 1688v7M1106 1688v11M1122 1688v7M1138 1688v7M1154 1688v7M1170 1688v7M1186 1688v7M1202 1688v11M1218 1688v7M1234 1688v7M1250 1688v7M1266 1688v7M1282 1688v7M1298 1688v11M1314 1688v7M1330 1688v7M1346 1688v7M1362 1688v7M1378 1688v7M1394 1688v11M1410 1688v7M1426 1688v7M1442 1688v7M1458 1688v7M1474 1688v7M1490 1688v11" stroke="#000" stroke-width="1" fill="none" shape-rendering="crispEdges" transform="translate(.5 .5)"/>
<g>
<text class="m" transform="translate(50 214.2) scale(1 1.13)" font-size="11.7" textLength="70" lengthAdjust="spacingAndGlyphs" xml:space="preserve">Feb13,2026</text>
<text class="m" transform="translate(50 229.2) scale(1 1.13)" font-size="11.7" textLength="105" lengthAdjust="spacingAndGlyphs" xml:space="preserve">RD066 EHZ AM 00</text>
<text class="m" transform="translate(50 243.8) scale(1 1.13)" font-size="11.7" textLength="63" lengthAdjust="spacingAndGlyphs" xml:space="preserve">(myShake)</text>
<text class="m" transform="translate(-0.3 259) scale(1 1.13)" font-size="11.7" textLength="21" lengthAdjust="spacingAndGlyphs" xml:space="preserve">UTC</text>
<text class="m" transform="translate(1504.7 259) scale(1 1.13)" font-size="11.7" textLength="21" lengthAdjust="spacingAndGlyphs" xml:space="preserve">UTC</text>
<text class="s" transform="translate(1546 255)" font-size="8.3" textLength="10" lengthAdjust="spacingAndGlyphs" xml:space="preserve">DC</text>
<text class="t" transform="translate(13.8 269.4)" font-size="13.3" textLength="34" lengthAdjust="spacingAndGlyphs" xml:space="preserve">12:00</text>
<text class="t" transform="translate(1493.8 269.4)" font-size="13.3" textLength="34.5" lengthAdjust="spacingAndGlyphs" xml:space="preserve">12:15</text>
<text class="t" transform="translate(13.8 389.4)" font-size="13.3" textLength="34" lengthAdjust="spacingAndGlyphs" xml:space="preserve">13:00</text>
<text class="t" transform="translate(1493.8 389.4)" font-size="13.3" textLength="34.5" lengthAdjust="spacingAndGlyphs" xml:space="preserve">13:15</text>
<text class="t" transform="translate(13.8 509.4)" font-size="13.3" textLength="34" lengthAdjust="spacingAndGlyphs" xml:space="preserve">14:00</text>
<text class="t" transform="translate(1493.8 509.4)" font-size="13.3" textLength="34.5" lengthAdjust="spacingAndGlyphs" xml:space="preserve">14:15</text>
<text class="t" transform="translate(13.8 629.4)" font-size="13.3" textLength="34" lengthAdjust="spacingAndGlyphs" xml:space="preserve">15:00</text>
<text class="t" transform="translate(1493.8 629.4)" font-size="13.3" textLength="34.5" lengthAdjust="spacingAndGlyphs" xml:space="preserve">15:15</text>
<text class="t" transform="translate(13.8 749.4)" font-size="13.3" textLength="34" lengthAdjust="spacingAndGlyphs" xml:space="preserve">16:00</text>
<text class="t" transform="translate(1493.8 749.4)" font-size="13.3" textLength="34.5" lengthAdjust="spacingAndGlyphs" xml:space="preserve">16:15</text>
<text class="t" transform="translate(13.8 869.4)" font-size="13.3" textLength="34" lengthAdjust="spacingAndGlyphs" xml:space="preserve">17:00</text>
<text class="t" transform="translate(1493.8 869.4)" font-size="13.3" textLength="34.5" lengthAdjust="spacingAndGlyphs" xml:space="preserve">17:15</text>
<text class="t" transform="translate(13.8 989.4)" font-size="13.3" textLength="34" lengthAdjust="spacingAndGlyphs" xml:space="preserve">18:00</text>
<text class="t" transform="translate(1493.8 989.4)" font-size="13.3" textLength="34.5" lengthAdjust="spacingAndGlyphs" xml:space="preserve">18:15</text>
<text class="t" transform="translate(13.8 1109.4)" font-size="13.3" textLength="34" lengthAdjust="spacingAndGlyphs" xml:space="preserve">19:00</text>
<text class="t" transform="translate(1493.8 1109.4)" font-size="13.3" textLength="34.5" lengthAdjust="spacingAndGlyphs" xml:space="preserve">19:15</text>
<text class="t" transform="translate(13.8 1229.4)" font-size="13.3" textLength="34" lengthAdjust="spacingAndGlyphs" xml:space="preserve">20:00</text>
<text class="t" transform="translate(1493.8 1229.4)" font-size="13.3" textLength="34.5" lengthAdjust="spacingAndGlyphs" xml:space="preserve">20:15</text>
<text class="t" transform="translate(13.8 1349.4)" font-size="13.3" textLength="34" lengthAdjust="spacingAndGlyphs" xml:space="preserve">21:00</text>
<text class="t" transform="translate(1493.8 1349.4)" font-size="13.3" textLength="34.5" lengthAdjust="spacingAndGlyphs" xml:space="preserve">21:15</text>
<text class="t" transform="translate(13.8 1469.4)" font-size="13.3" textLength="34" lengthAdjust="spacingAndGlyphs" xml:space="preserve">22:00</text>
<text class="t" transform="translate(1493.8 1469.4)" font-size="13.3" textLength="34.5" lengthAdjust="spacingAndGlyphs" xml:space="preserve">22:15</text>
<text class="t" transform="translate(13.8 1589.4)" font-size="13.3" textLength="34" lengthAdjust="spacingAndGlyphs" xml:space="preserve">23:00</text>
<text class="t" transform="translate(1493.8 1589.4)" font-size="13.3" textLength="34.5" lengthAdjust="spacingAndGlyphs" xml:space="preserve">23:15</text>
<text class="s" transform="translate(1546 267.2)" font-size="8.3" textLength="20" lengthAdjust="spacingAndGlyphs" xml:space="preserve">8462</text>
<text class="s" transform="translate(1546 297.2)" font-size="8.3" textLength="20" lengthAdjust="spacingAndGlyphs" xml:space="preserve">8457</text>
<text class="s" transform="translate(1546 327.2)" font-size="8.3" textLength="20" lengthAdjust="spacingAndGlyphs" xml:space="preserve">8446</text>
<text class="s" transform="translate(1546 357.2)" font-size="8.3" textLength="20" lengthAdjust="spacingAndGlyphs" xml:space="preserve">8465</text>
<text class="s" transform="translate(1546 387.2)" font-size="8.3" textLength="20" lengthAdjust="spacingAndGlyphs" xml:space="preserve">8462</text>
<text class="s" transform="translate(1546 417.2)" font-size="8.3" textLength="20" lengthAdjust="spacingAndGlyphs" xml:space="preserve">8457</text>
<text class="s" transform="translate(1546 447.2)" font-size="8.3" textLength="20" lengthAdjust="spacingAndGlyphs" xml:space="preserve">8463</text>
<text class="s" transform="translate(1546 477.2)" font-size="8.3" textLength="20" lengthAdjust="spacingAndGlyphs" xml:space="preserve">8455</text>
<text class="s" transform="translate(1546 507.2)" font-size="8.3" textLength="20" lengthAdjust="spacingAndGlyphs" xml:space="preserve">8460</text>
<text class="s" transform="translate(1546 537.2)" font-size="8.3" textLength="20" lengthAdjust="spacingAndGlyphs" xml:space="preserve">8461</text>
<text class="s" transform="translate(1546 567.2)" font-size="8.3" textLength="20" lengthAdjust="spacingAndGlyphs" xml:space="preserve">8461</text>
<text class="s" transform="translate(1546 597.2)" font-size="8.3" textLength="20" lengthAdjust="spacingAndGlyphs" xml:space="preserve">8468</text>
<text class="s" transform="translate(1546 627.2)" font-size="8.3" textLength="20" lengthAdjust="spacingAndGlyphs" xml:space="preserve">8468</text>
<text class="s" transform="translate(1546 657.2)" font-size="8.3" textLength="20" lengthAdjust="spacingAndGlyphs" xml:space="preserve">8453</text>
<text class="s" transform="translate(1546 687.2)" font-size="8.3" textLength="20" lengthAdjust="spacingAndGlyphs" xml:space="preserve">8450</text>
<text class="s" transform="translate(1546 717.2)" font-size="8.3" textLength="20" lengthAdjust="spacingAndGlyphs" xml:space="preserve">8463</text>
<text class="s" transform="translate(1546 747.2)" font-size="8.3" textLength="20" lengthAdjust="spacingAndGlyphs" xml:space="preserve">8463</text>
<text class="s" transform="translate(1546 777.2)" font-size="8.3" textLength="20" lengthAdjust="spacingAndGlyphs" xml:space="preserve">8472</text>
<text class="s" transform="translate(1546 807.2)" font-size="8.3" textLength="20" lengthAdjust="spacingAndGlyphs" xml:space="preserve">8461</text>
<text class="s" transform="translate(1546 837.2)" font-size="8.3" textLength="20" lengthAdjust="spacingAndGlyphs" xml:space="preserve">8456</text>
<text class="s" transform="translate(1546 867.2)" font-size="8.3" textLength="20" lengthAdjust="spacingAndGlyphs" xml:space="preserve">8462</text>
<text class="s" transform="translate(1546 897.2)" font-size="8.3" textLength="20" lengthAdjust="spacingAndGlyphs" xml:space="preserve">8456</text>
<text class="s" transform="translate(1546 927.2)" font-size="8.3" textLength="20" lengthAdjust="spacingAndGlyphs" xml:space="preserve">8466</text>
<text class="s" transform="translate(1546 957.2)" font-size="8.3" textLength="20" lengthAdjust="spacingAndGlyphs" xml:space="preserve">8462</text>
<text class="s" transform="translate(1546 987.2)" font-size="8.3" textLength="20" lengthAdjust="spacingAndGlyphs" xml:space="preserve">8454</text>
<text class="s" transform="translate(1546 1017.2)" font-size="8.3" textLength="20" lengthAdjust="spacingAndGlyphs" xml:space="preserve">8460</text>
<text class="s" transform="translate(1546 1047.2)" font-size="8.3" textLength="20" lengthAdjust="spacingAndGlyphs" xml:space="preserve">8455</text>
<text class="s" transform="translate(1546 1077.2)" font-size="8.3" textLength="20" lengthAdjust="spacingAndGlyphs" xml:space="preserve">8458</text>
<text class="s" transform="translate(1546 1107.2)" font-size="8.3" textLength="20" lengthAdjust="spacingAndGlyphs" xml:space="preserve">8460</text>
<text class="s" transform="translate(1546 1137.2)" font-size="8.3" textLength="20" lengthAdjust="spacingAndGlyphs" xml:space="preserve">8455</text>
<text class="s" transform="translate(1546 1167.2)" font-size="8.3" textLength="20" lengthAdjust="spacingAndGlyphs" xml:space="preserve">8462</text>
<text class="s" transform="translate(1546 1197.2)" font-size="8.3" textLength="20" lengthAdjust="spacingAndGlyphs" xml:space="preserve">8464</text>
<text class="s" transform="translate(1546 1227.2)" font-size="8.3" textLength="20" lengthAdjust="spacingAndGlyphs" xml:space="preserve">8465</text>
<text class="s" transform="translate(1546 1257.2)" font-size="8.3" textLength="20" lengthAdjust="spacingAndGlyphs" xml:space="preserve">8458</text>
<text class="s" transform="translate(1546 1287.2)" font-size="8.3" textLength="20" lengthAdjust="spacingAndGlyphs" xml:space="preserve">8459</text>
<text class="s" transform="translate(1546 1317.2)" font-size="8.3" textLength="20" lengthAdjust="spacingAndGlyphs" xml:space="preserve">8460</text>
<text class="s" transform="translate(1546 1347.2)" font-size="8.3" textLength="20" lengthAdjust="spacingAndGlyphs" xml:space="preserve">8469</text>
<text class="s" transform="translate(1546 1377.2)" font-size="8.3" textLength="20" lengthAdjust="spacingAndGlyphs" xml:space="preserve">8460</text>
<text class="s" transform="translate(1546 1407.2)" font-size="8.3" textLength="20" lengthAdjust="spacingAndGlyphs" xml:space="preserve">8457</text>
<text class="s" transform="translate(1546 1437.2)" font-size="8.3" textLength="20" lengthAdjust="spacingAndGlyphs" xml:space="preserve">8463</text>
<text class="s" transform="translate(1546 1467.2)" font-size="8.3" textLength="20" lengthAdjust="spacingAndGlyphs" xml:space="preserve">8460</text>
<text class="s" transform="translate(1546 1497.2)" font-size="8.3" textLength="20" lengthAdjust="spacingAndGlyphs" xml:space="preserve">8462</text>
<text class="s" transform="translate(1546 1527.2)" font-size="8.3" textLength="20" lengthAdjust="spacingAndGlyphs" xml:space="preserve">8463</text>
<text class="s" transform="translate(1546 1557.2)" font-size="8.3" textLength="20" lengthAdjust="spacingAndGlyphs" xml:space="preserve">8455</text>
<text class="s" transform="translate(1546 1587.2)" font-size="8.3" textLength="20" lengthAdjust="spacingAndGlyphs" xml:space="preserve">8462</text>
<text class="s" transform="translate(1546 1617.2)" font-size="8.3" textLength="20" lengthAdjust="spacingAndGlyphs" xml:space="preserve">8465</text>
<text class="s" transform="translate(1546 1647.2)" font-size="8.3" textLength="20" lengthAdjust="spacingAndGlyphs" xml:space="preserve">8462</text>
<text class="s" transform="translate(1546 1677.2)" font-size="8.3" textLength="20" lengthAdjust="spacingAndGlyphs" xml:space="preserve">8460</text>
<text class="t" transform="translate(43.8 1710)" font-size="13.3" textLength="13.4" lengthAdjust="spacingAndGlyphs" xml:space="preserve">00</text>
<text class="t" transform="translate(139.8 1710)" font-size="13.3" textLength="13.4" lengthAdjust="spacingAndGlyphs" xml:space="preserve">01</text>
<text class="t" transform="translate(235.8 1710)" font-size="13.3" textLength="13.4" lengthAdjust="spacingAndGlyphs" xml:space="preserve">02</text>
<text class="t" transform="translate(331.8 1710)" font-size="13.3" textLength="13.4" lengthAdjust="spacingAndGlyphs" xml:space="preserve">03</text>
<text class="t" transform="translate(427.8 1710)" font-size="13.3" textLength="13.4" lengthAdjust="spacingAndGlyphs" xml:space="preserve">04</text>
<text class="t" transform="translate(523.8 1710)" font-size="13.3" textLength="13.4" lengthAdjust="spacingAndGlyphs" xml:space="preserve">05</text>
<text class="t" transform="translate(619.8 1710)" font-size="13.3" textLength="13.4" lengthAdjust="spacingAndGlyphs" xml:space="preserve">06</text>
<text class="t" transform="translate(715.8 1710)" font-size="13.3" textLength="13.4" lengthAdjust="spacingAndGlyphs" xml:space="preserve">07</text>
<text class="t" transform="translate(811.8 1710)" font-size="13.3" textLength="13.4" lengthAdjust="spacingAndGlyphs" xml:space="preserve">08</text>
<text class="t" transform="translate(907.8 1710)" font-size="13.3" textLength="13.4" lengthAdjust="spacingAndGlyphs" xml:space="preserve">09</text>
<text class="t" transform="translate(1003.8 1710)" font-size="13.3" textLength="13.4" lengthAdjust="spacingAndGlyphs" xml:space="preserve">10</text>
<text class="t" transform="translate(1099.8 1710)" font-size="13.3" textLength="13.4" lengthAdjust="spacingAndGlyphs" xml:space="preserve">11</text>
<text class="t" transform="translate(1195.8 1710)" font-size="13.3" textLength="13.4" lengthAdjust="spacingAndGlyphs" xml:space="preserve">12</text>
<text class="t" transform="translate(1291.8 1710)" font-size="13.3" textLength="13.4" lengthAdjust="spacingAndGlyphs" xml:space="preserve">13</text>
<text class="t" transform="translate(1387.8 1710)" font-size="13.3" textLength="13.4" lengthAdjust="spacingAndGlyphs" xml:space="preserve">14</text>
<text class="t" transform="translate(1483.8 1710)" font-size="13.3" textLength="13.4" lengthAdjust="spacingAndGlyphs" xml:space="preserve">15</text>
<text class="s" transform="translate(20.5 1721)" font-size="8.3" textLength="215" lengthAdjust="spacingAndGlyphs" xml:space="preserve">Each Vertical Division =  200.00 microvolts</text>
<text class="m" transform="translate(734.5 1721) scale(1 1.13)" font-size="11.7" textLength="98" lengthAdjust="spacingAndGlyphs" xml:space="preserve">TIME (MINUTES)</text>
<text class="s" transform="translate(842.5 1721)" font-size="8.3" textLength="245" lengthAdjust="spacingAndGlyphs" xml:space="preserve">Traces clipped at plus/minus 5 vertical divisions</text>
<path d="M2 1720.5l1.5 2l2-4l0 4M5.5 1720.5h2M7.5 1718.5v4h1" fill="none" stroke="#000" stroke-width="0.9"/>
</g>
</svg></body></html>
